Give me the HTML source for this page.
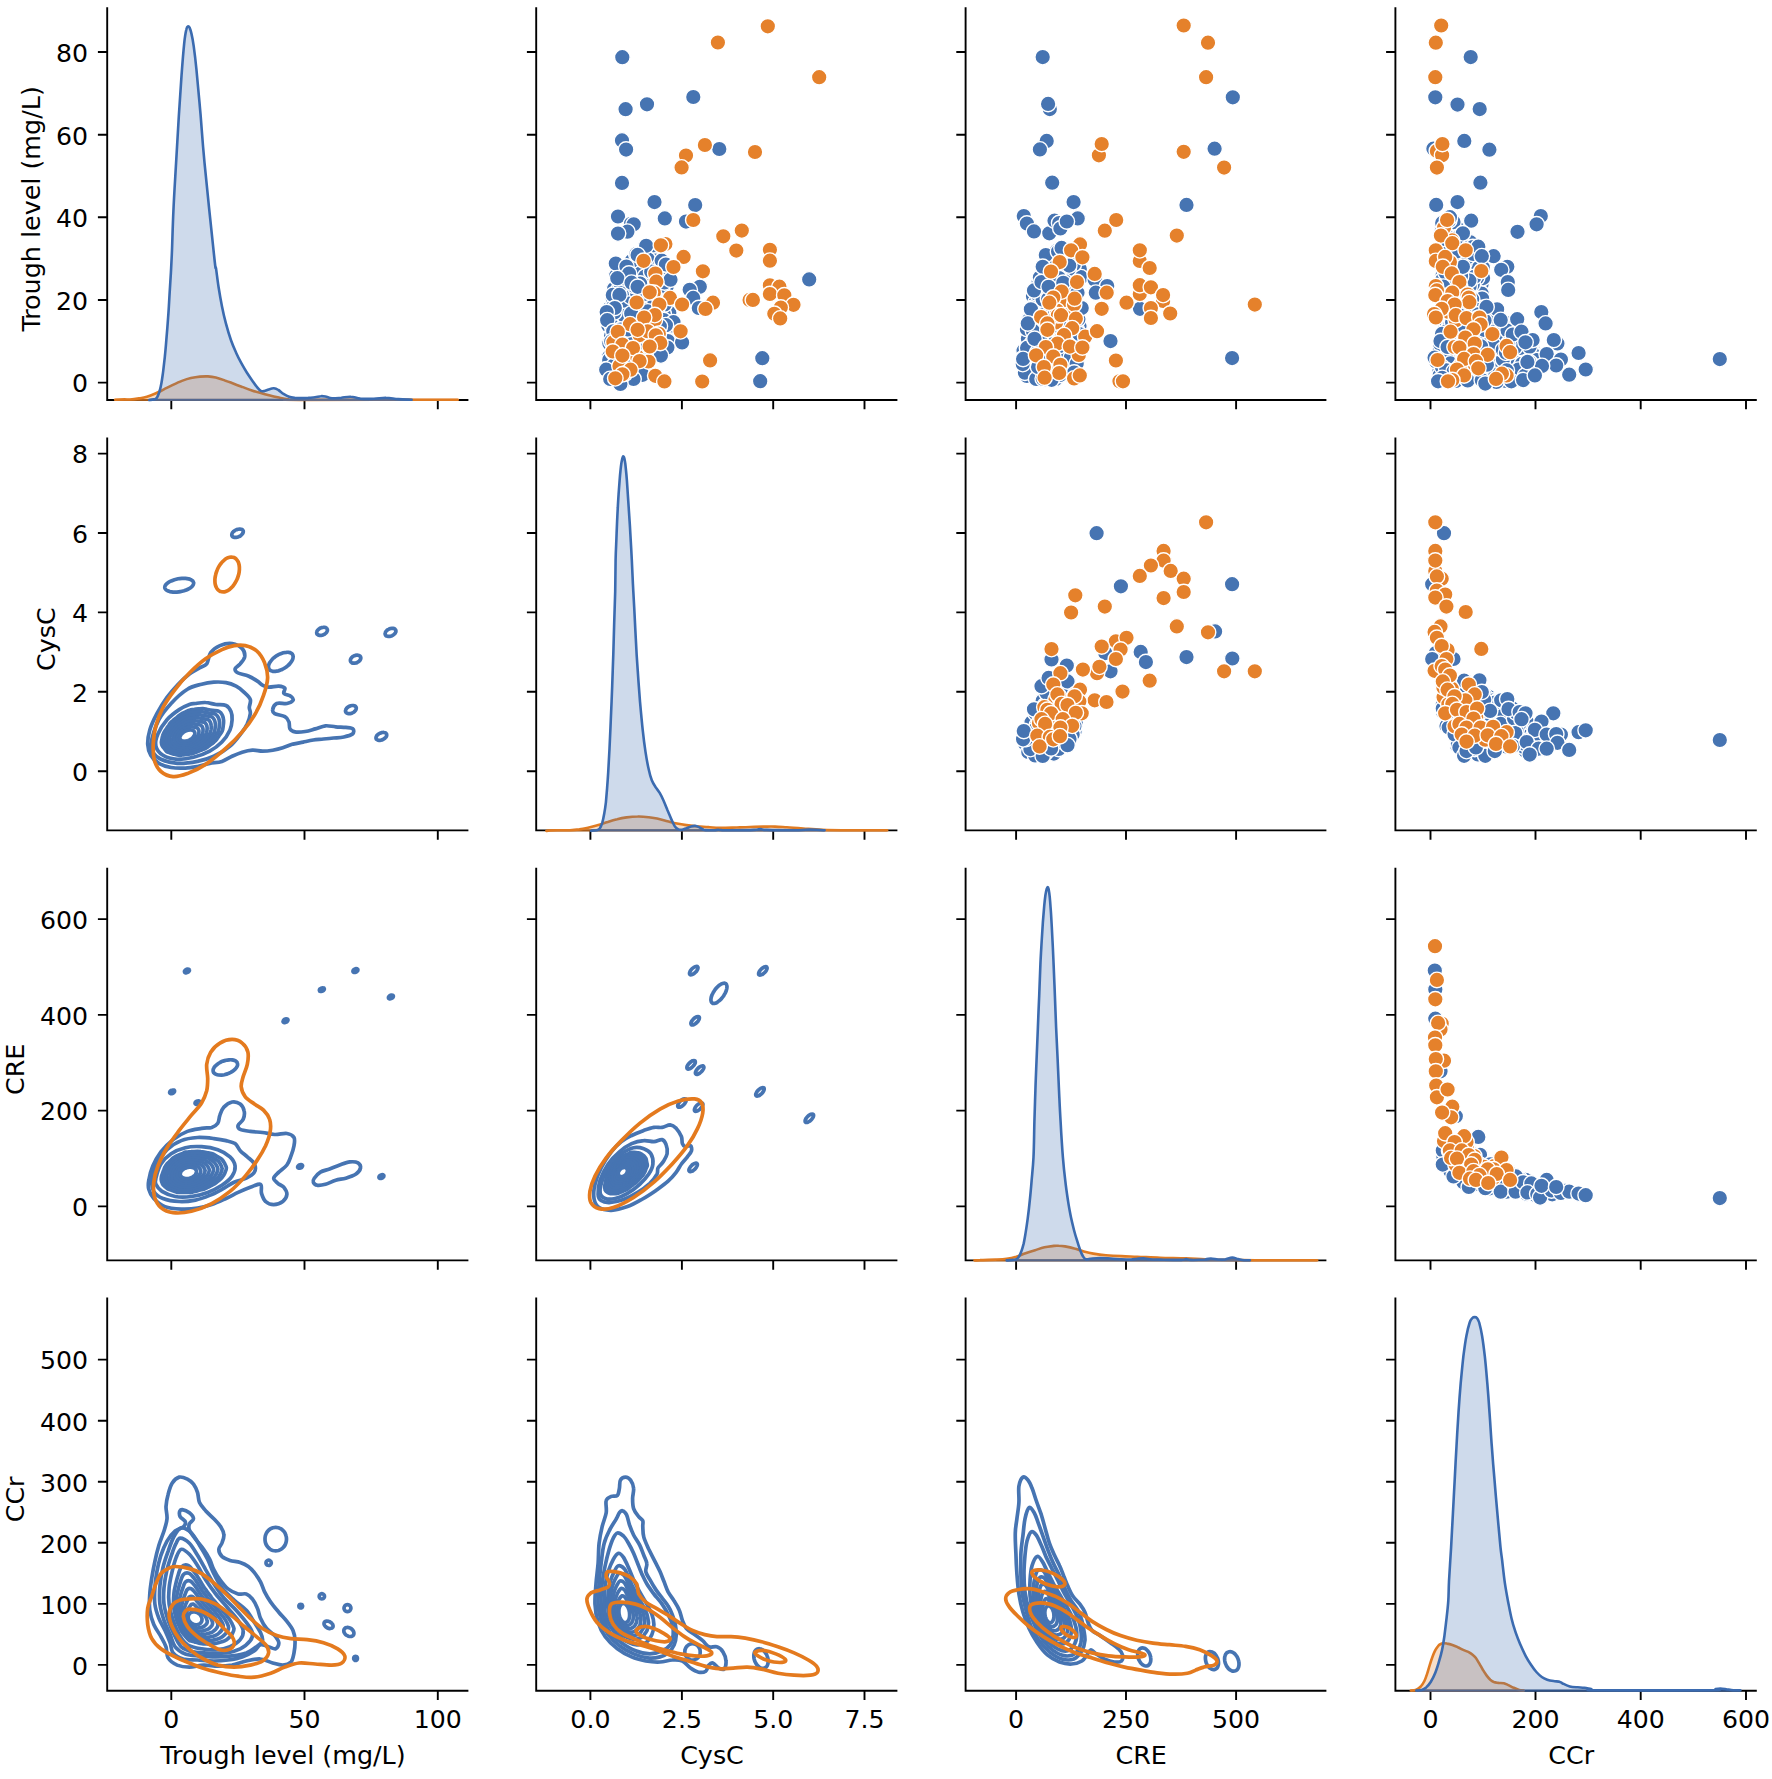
<!DOCTYPE html>
<html><head><meta charset="utf-8"><title>Pairplot</title>
<style>html,body{margin:0;padding:0;background:#fff}svg{display:block}text{fill:#000}</style>
</head><body>
<svg width="1772" height="1779" viewBox="0 0 1772 1779" font-family="DejaVu Sans, Liberation Sans, sans-serif" font-size="25.2">
<rect width="1772" height="1779" fill="#fff"/>
<g id="p01">
<g fill="#4674b2" stroke="#fff" stroke-width="1.4"><circle cx="667.0" cy="331.5" r="7.8"/><circle cx="646.0" cy="320.5" r="7.8"/><circle cx="625.1" cy="274.7" r="7.8"/><circle cx="630.8" cy="335.9" r="7.8"/><circle cx="617.9" cy="347.4" r="7.8"/><circle cx="667.0" cy="320.0" r="7.8"/><circle cx="615.9" cy="286.0" r="7.8"/><circle cx="609.4" cy="343.5" r="7.8"/><circle cx="609.6" cy="308.3" r="7.8"/><circle cx="634.2" cy="358.2" r="7.8"/><circle cx="645.4" cy="304.2" r="7.8"/><circle cx="641.4" cy="343.6" r="7.8"/><circle cx="662.0" cy="300.5" r="7.8"/><circle cx="617.7" cy="301.1" r="7.8"/><circle cx="652.4" cy="324.7" r="7.8"/><circle cx="623.1" cy="320.5" r="7.8"/><circle cx="639.3" cy="269.1" r="7.8"/><circle cx="623.4" cy="343.9" r="7.8"/><circle cx="641.7" cy="253.2" r="7.8"/><circle cx="617.1" cy="292.2" r="7.8"/><circle cx="646.8" cy="267.9" r="7.8"/><circle cx="656.9" cy="301.2" r="7.8"/><circle cx="626.4" cy="304.6" r="7.8"/><circle cx="661.2" cy="286.3" r="7.8"/><circle cx="659.8" cy="270.5" r="7.8"/><circle cx="650.8" cy="355.5" r="7.8"/><circle cx="635.0" cy="256.6" r="7.8"/><circle cx="656.4" cy="285.8" r="7.8"/><circle cx="630.9" cy="301.5" r="7.8"/><circle cx="631.1" cy="279.7" r="7.8"/><circle cx="614.1" cy="288.8" r="7.8"/><circle cx="647.0" cy="305.7" r="7.8"/><circle cx="608.3" cy="325.4" r="7.8"/><circle cx="653.0" cy="341.5" r="7.8"/><circle cx="662.6" cy="346.2" r="7.8"/><circle cx="619.6" cy="337.3" r="7.8"/><circle cx="623.2" cy="314.8" r="7.8"/><circle cx="643.3" cy="263.0" r="7.8"/><circle cx="641.6" cy="299.5" r="7.8"/><circle cx="627.7" cy="332.0" r="7.8"/><circle cx="649.7" cy="294.9" r="7.8"/><circle cx="609.5" cy="312.7" r="7.8"/><circle cx="639.1" cy="324.4" r="7.8"/><circle cx="635.8" cy="306.5" r="7.8"/><circle cx="627.8" cy="286.5" r="7.8"/><circle cx="619.8" cy="356.2" r="7.8"/><circle cx="630.3" cy="320.9" r="7.8"/><circle cx="664.6" cy="287.6" r="7.8"/><circle cx="656.7" cy="276.3" r="7.8"/><circle cx="658.7" cy="256.5" r="7.8"/><circle cx="616.7" cy="349.2" r="7.8"/><circle cx="621.6" cy="292.1" r="7.8"/><circle cx="622.3" cy="331.5" r="7.8"/><circle cx="663.5" cy="337.9" r="7.8"/><circle cx="618.0" cy="290.5" r="7.8"/><circle cx="654.7" cy="323.3" r="7.8"/><circle cx="629.6" cy="342.2" r="7.8"/><circle cx="625.8" cy="363.3" r="7.8"/><circle cx="655.0" cy="255.1" r="7.8"/><circle cx="633.5" cy="262.6" r="7.8"/><circle cx="626.5" cy="369.5" r="7.8"/><circle cx="620.4" cy="369.5" r="7.8"/><circle cx="650.7" cy="253.8" r="7.8"/><circle cx="666.7" cy="286.6" r="7.8"/><circle cx="662.6" cy="353.3" r="7.8"/><circle cx="626.5" cy="325.1" r="7.8"/><circle cx="658.4" cy="279.3" r="7.8"/><circle cx="647.7" cy="344.1" r="7.8"/><circle cx="649.6" cy="350.7" r="7.8"/><circle cx="653.4" cy="266.0" r="7.8"/><circle cx="618.2" cy="266.5" r="7.8"/><circle cx="628.7" cy="344.0" r="7.8"/><circle cx="631.2" cy="267.2" r="7.8"/><circle cx="626.7" cy="323.3" r="7.8"/><circle cx="636.5" cy="300.0" r="7.8"/><circle cx="612.8" cy="298.8" r="7.8"/><circle cx="644.2" cy="353.7" r="7.8"/><circle cx="641.1" cy="336.2" r="7.8"/><circle cx="663.2" cy="308.0" r="7.8"/><circle cx="667.2" cy="336.2" r="7.8"/><circle cx="669.3" cy="312.8" r="7.8"/><circle cx="622.4" cy="372.9" r="7.8"/><circle cx="659.8" cy="275.9" r="7.8"/><circle cx="628.5" cy="318.2" r="7.8"/><circle cx="640.3" cy="311.0" r="7.8"/><circle cx="626.5" cy="268.3" r="7.8"/><circle cx="672.3" cy="329.8" r="7.8"/><circle cx="612.6" cy="333.4" r="7.8"/><circle cx="639.5" cy="259.0" r="7.8"/><circle cx="659.5" cy="313.4" r="7.8"/><circle cx="631.2" cy="354.3" r="7.8"/><circle cx="625.7" cy="348.9" r="7.8"/><circle cx="667.5" cy="274.9" r="7.8"/><circle cx="631.1" cy="377.0" r="7.8"/><circle cx="661.4" cy="326.9" r="7.8"/><circle cx="643.0" cy="357.7" r="7.8"/><circle cx="656.6" cy="333.8" r="7.8"/><circle cx="632.3" cy="308.1" r="7.8"/><circle cx="613.6" cy="317.3" r="7.8"/><circle cx="661.1" cy="333.3" r="7.8"/><circle cx="627.5" cy="268.6" r="7.8"/><circle cx="658.0" cy="353.9" r="7.8"/><circle cx="633.7" cy="347.5" r="7.8"/><circle cx="616.4" cy="341.5" r="7.8"/><circle cx="614.2" cy="346.6" r="7.8"/><circle cx="639.2" cy="376.2" r="7.8"/><circle cx="647.5" cy="341.4" r="7.8"/><circle cx="657.2" cy="286.5" r="7.8"/><circle cx="636.2" cy="337.1" r="7.8"/><circle cx="623.4" cy="381.3" r="7.8"/><circle cx="612.7" cy="354.7" r="7.8"/><circle cx="669.6" cy="326.7" r="7.8"/><circle cx="614.9" cy="372.8" r="7.8"/><circle cx="609.8" cy="369.7" r="7.8"/><circle cx="641.1" cy="308.0" r="7.8"/><circle cx="645.5" cy="249.2" r="7.8"/><circle cx="617.8" cy="380.6" r="7.8"/><circle cx="662.2" cy="291.6" r="7.8"/><circle cx="632.2" cy="369.7" r="7.8"/><circle cx="658.6" cy="320.2" r="7.8"/><circle cx="651.4" cy="303.2" r="7.8"/><circle cx="624.0" cy="341.8" r="7.8"/><circle cx="644.1" cy="283.2" r="7.8"/><circle cx="626.6" cy="298.3" r="7.8"/><circle cx="619.8" cy="364.4" r="7.8"/><circle cx="620.8" cy="299.9" r="7.8"/><circle cx="650.7" cy="331.5" r="7.8"/><circle cx="620.8" cy="277.0" r="7.8"/><circle cx="642.7" cy="318.1" r="7.8"/><circle cx="657.6" cy="299.9" r="7.8"/><circle cx="628.4" cy="267.1" r="7.8"/><circle cx="635.2" cy="328.5" r="7.8"/><circle cx="633.7" cy="292.1" r="7.8"/><circle cx="640.1" cy="265.5" r="7.8"/><circle cx="622.3" cy="350.9" r="7.8"/><circle cx="662.0" cy="319.7" r="7.8"/><circle cx="628.5" cy="366.2" r="7.8"/><circle cx="609.3" cy="356.5" r="7.8"/><circle cx="671.7" cy="335.2" r="7.8"/><circle cx="663.7" cy="313.9" r="7.8"/><circle cx="648.2" cy="316.3" r="7.8"/><circle cx="612.5" cy="307.4" r="7.8"/><circle cx="619.6" cy="358.8" r="7.8"/><circle cx="633.4" cy="364.5" r="7.8"/><circle cx="667.2" cy="276.9" r="7.8"/><circle cx="654.3" cy="308.1" r="7.8"/><circle cx="654.4" cy="348.5" r="7.8"/><circle cx="644.1" cy="279.8" r="7.8"/><circle cx="617.4" cy="362.3" r="7.8"/><circle cx="638.9" cy="280.5" r="7.8"/><circle cx="618.3" cy="372.2" r="7.8"/><circle cx="624.8" cy="293.5" r="7.8"/><circle cx="618.3" cy="317.1" r="7.8"/><circle cx="609.5" cy="320.4" r="7.8"/><circle cx="636.7" cy="370.5" r="7.8"/><circle cx="611.0" cy="336.0" r="7.8"/><circle cx="627.1" cy="311.9" r="7.8"/><circle cx="637.9" cy="351.9" r="7.8"/><circle cx="619.5" cy="268.6" r="7.8"/><circle cx="619.2" cy="376.4" r="7.8"/><circle cx="612.7" cy="379.3" r="7.8"/><circle cx="642.0" cy="289.2" r="7.8"/><circle cx="645.0" cy="300.4" r="7.8"/><circle cx="646.9" cy="267.2" r="7.8"/><circle cx="663.9" cy="270.1" r="7.8"/><circle cx="644.9" cy="333.3" r="7.8"/><circle cx="663.5" cy="281.4" r="7.8"/><circle cx="642.6" cy="251.6" r="7.8"/><circle cx="610.2" cy="375.7" r="7.8"/><circle cx="649.2" cy="323.6" r="7.8"/><circle cx="639.4" cy="275.5" r="7.8"/><circle cx="650.9" cy="258.0" r="7.8"/><circle cx="659.4" cy="316.7" r="7.8"/><circle cx="623.1" cy="338.9" r="7.8"/><circle cx="637.3" cy="286.6" r="7.8"/><circle cx="646.5" cy="326.8" r="7.8"/><circle cx="672.4" cy="325.5" r="7.8"/><circle cx="666.7" cy="267.4" r="7.8"/><circle cx="655.3" cy="348.3" r="7.8"/><circle cx="632.8" cy="349.2" r="7.8"/><circle cx="633.9" cy="276.5" r="7.8"/><circle cx="654.2" cy="295.1" r="7.8"/><circle cx="659.8" cy="334.4" r="7.8"/><circle cx="620.6" cy="310.0" r="7.8"/><circle cx="648.4" cy="275.4" r="7.8"/><circle cx="633.4" cy="375.7" r="7.8"/><circle cx="623.0" cy="309.7" r="7.8"/><circle cx="648.9" cy="337.4" r="7.8"/><circle cx="664.6" cy="282.4" r="7.8"/><circle cx="607.4" cy="314.9" r="7.8"/><circle cx="623.2" cy="301.6" r="7.8"/><circle cx="609.2" cy="359.9" r="7.8"/><circle cx="650.9" cy="248.5" r="7.8"/><circle cx="645.4" cy="363.7" r="7.8"/><circle cx="635.1" cy="333.4" r="7.8"/><circle cx="655.4" cy="260.6" r="7.8"/><circle cx="645.5" cy="290.3" r="7.8"/><circle cx="636.1" cy="317.7" r="7.8"/><circle cx="653.1" cy="319.1" r="7.8"/><circle cx="638.3" cy="304.3" r="7.8"/><circle cx="616.1" cy="275.7" r="7.8"/><circle cx="637.8" cy="359.4" r="7.8"/><circle cx="647.8" cy="259.3" r="7.8"/><circle cx="658.8" cy="303.4" r="7.8"/><circle cx="625.7" cy="283.7" r="7.8"/><circle cx="606.7" cy="369.2" r="7.8"/><circle cx="659.0" cy="266.5" r="7.8"/><circle cx="660.7" cy="339.3" r="7.8"/><circle cx="643.5" cy="349.9" r="7.8"/><circle cx="637.0" cy="334.0" r="7.8"/><circle cx="630.7" cy="297.0" r="7.8"/><circle cx="624.9" cy="356.5" r="7.8"/><circle cx="655.6" cy="311.9" r="7.8"/><circle cx="626.8" cy="288.6" r="7.8"/><circle cx="645.1" cy="310.4" r="7.8"/><circle cx="656.1" cy="351.2" r="7.8"/><circle cx="613.1" cy="352.6" r="7.8"/><circle cx="617.8" cy="322.0" r="7.8"/><circle cx="658.4" cy="328.9" r="7.8"/><circle cx="637.1" cy="292.9" r="7.8"/><circle cx="638.7" cy="342.8" r="7.8"/><circle cx="621.4" cy="281.2" r="7.8"/><circle cx="664.6" cy="304.4" r="7.8"/><circle cx="649.6" cy="287.1" r="7.8"/><circle cx="613.8" cy="365.4" r="7.8"/><circle cx="656.9" cy="309.5" r="7.8"/><circle cx="634.2" cy="286.1" r="7.8"/><circle cx="624.6" cy="315.9" r="7.8"/><circle cx="611.9" cy="325.7" r="7.8"/><circle cx="631.2" cy="313.4" r="7.8"/><circle cx="652.9" cy="338.0" r="7.8"/><circle cx="620.6" cy="329.6" r="7.8"/><circle cx="647.4" cy="284.1" r="7.8"/><circle cx="671.4" cy="322.4" r="7.8"/><circle cx="620.8" cy="284.9" r="7.8"/><circle cx="654.3" cy="300.8" r="7.8"/><circle cx="635.1" cy="281.0" r="7.8"/><circle cx="651.8" cy="278.0" r="7.8"/><circle cx="635.2" cy="267.6" r="7.8"/><circle cx="644.7" cy="293.8" r="7.8"/><circle cx="631.7" cy="260.9" r="7.8"/><circle cx="640.4" cy="348.3" r="7.8"/><circle cx="628.7" cy="361.3" r="7.8"/><circle cx="647.7" cy="311.4" r="7.8"/><circle cx="663.7" cy="320.1" r="7.8"/><circle cx="636.3" cy="254.1" r="7.8"/><circle cx="614.3" cy="312.5" r="7.8"/><circle cx="634.2" cy="339.4" r="7.8"/><circle cx="661.7" cy="260.7" r="7.8"/><circle cx="634.0" cy="359.2" r="7.8"/><circle cx="625.6" cy="278.7" r="7.8"/><circle cx="645.2" cy="360.0" r="7.8"/><circle cx="667.9" cy="341.1" r="7.8"/><circle cx="645.1" cy="276.6" r="7.8"/><circle cx="617.2" cy="333.7" r="7.8"/><circle cx="627.8" cy="329.4" r="7.8"/><circle cx="640.1" cy="283.5" r="7.8"/><circle cx="640.1" cy="327.0" r="7.8"/><circle cx="642.0" cy="366.4" r="7.8"/><circle cx="651.2" cy="271.7" r="7.8"/><circle cx="622.3" cy="57.2" r="7.8"/><circle cx="693.3" cy="97.0" r="7.8"/><circle cx="647.0" cy="104.3" r="7.8"/><circle cx="625.6" cy="109.2" r="7.8"/><circle cx="622.0" cy="140.4" r="7.8"/><circle cx="626.1" cy="149.6" r="7.8"/><circle cx="719.3" cy="149.0" r="7.8"/><circle cx="622.0" cy="182.9" r="7.8"/><circle cx="654.5" cy="202.1" r="7.8"/><circle cx="695.2" cy="205.1" r="7.8"/><circle cx="618.0" cy="216.5" r="7.8"/><circle cx="664.8" cy="218.4" r="7.8"/><circle cx="686.0" cy="221.6" r="7.8"/><circle cx="631.0" cy="223.8" r="7.8"/><circle cx="633.7" cy="224.3" r="7.8"/><circle cx="627.4" cy="231.7" r="7.8"/><circle cx="618.0" cy="233.6" r="7.8"/><circle cx="809.2" cy="279.4" r="7.8"/><circle cx="762.3" cy="358.2" r="7.8"/><circle cx="760.2" cy="381.2" r="7.8"/><circle cx="646.2" cy="245.8" r="7.8"/><circle cx="637.6" cy="254.9" r="7.8"/><circle cx="615.8" cy="263.5" r="7.8"/><circle cx="626.4" cy="266.5" r="7.8"/><circle cx="629.0" cy="273.6" r="7.8"/><circle cx="617.3" cy="278.2" r="7.8"/><circle cx="631.5" cy="282.7" r="7.8"/><circle cx="637.6" cy="286.8" r="7.8"/><circle cx="670.5" cy="279.7" r="7.8"/><circle cx="665.9" cy="264.5" r="7.8"/><circle cx="699.8" cy="286.8" r="7.8"/><circle cx="689.7" cy="289.8" r="7.8"/><circle cx="693.2" cy="297.9" r="7.8"/><circle cx="698.8" cy="308.0" r="7.8"/><circle cx="612.8" cy="294.9" r="7.8"/><circle cx="619.4" cy="294.9" r="7.8"/><circle cx="614.8" cy="308.0" r="7.8"/><circle cx="606.7" cy="312.1" r="7.8"/><circle cx="607.2" cy="320.2" r="7.8"/><circle cx="613.3" cy="331.3" r="7.8"/><circle cx="611.3" cy="341.4" r="7.8"/><circle cx="673.5" cy="322.2" r="7.8"/><circle cx="665.9" cy="325.2" r="7.8"/><circle cx="659.8" cy="326.2" r="7.8"/><circle cx="682.1" cy="342.4" r="7.8"/><circle cx="667.4" cy="347.5" r="7.8"/><circle cx="660.9" cy="355.6" r="7.8"/><circle cx="606.2" cy="369.7" r="7.8"/><circle cx="642.6" cy="374.8" r="7.8"/><circle cx="633.5" cy="378.9" r="7.8"/><circle cx="610.2" cy="378.9" r="7.8"/><circle cx="620.4" cy="383.9" r="7.8"/></g><g fill="#e5812b" stroke="#fff" stroke-width="1.4"><circle cx="619.5" cy="366.1" r="7.8"/><circle cx="654.8" cy="319.9" r="7.8"/><circle cx="639.7" cy="335.1" r="7.8"/><circle cx="648.5" cy="361.5" r="7.8"/><circle cx="658.8" cy="333.8" r="7.8"/><circle cx="636.9" cy="356.3" r="7.8"/><circle cx="624.8" cy="373.7" r="7.8"/><circle cx="613.4" cy="342.2" r="7.8"/><circle cx="767.8" cy="26.3" r="7.8"/><circle cx="717.9" cy="42.5" r="7.8"/><circle cx="819.2" cy="77.2" r="7.8"/><circle cx="704.9" cy="145.0" r="7.8"/><circle cx="686.0" cy="155.5" r="7.8"/><circle cx="681.6" cy="167.4" r="7.8"/><circle cx="755.0" cy="152.0" r="7.8"/><circle cx="693.3" cy="220.0" r="7.8"/><circle cx="741.8" cy="230.6" r="7.8"/><circle cx="723.3" cy="236.3" r="7.8"/><circle cx="736.3" cy="250.6" r="7.8"/><circle cx="769.9" cy="249.8" r="7.8"/><circle cx="769.9" cy="260.7" r="7.8"/><circle cx="769.9" cy="285.3" r="7.8"/><circle cx="779.4" cy="286.7" r="7.8"/><circle cx="769.9" cy="294.0" r="7.8"/><circle cx="784.3" cy="295.3" r="7.8"/><circle cx="793.5" cy="304.8" r="7.8"/><circle cx="780.8" cy="307.5" r="7.8"/><circle cx="774.3" cy="313.8" r="7.8"/><circle cx="780.2" cy="318.4" r="7.8"/><circle cx="749.6" cy="299.9" r="7.8"/><circle cx="752.9" cy="299.9" r="7.8"/><circle cx="713.0" cy="302.7" r="7.8"/><circle cx="705.5" cy="308.9" r="7.8"/><circle cx="710.1" cy="360.4" r="7.8"/><circle cx="702.2" cy="381.5" r="7.8"/><circle cx="665.4" cy="244.0" r="7.8"/><circle cx="660.9" cy="245.3" r="7.8"/><circle cx="683.6" cy="256.9" r="7.8"/><circle cx="673.5" cy="267.0" r="7.8"/><circle cx="643.6" cy="260.8" r="7.8"/><circle cx="655.3" cy="273.6" r="7.8"/><circle cx="656.3" cy="281.7" r="7.8"/><circle cx="702.9" cy="271.3" r="7.8"/><circle cx="653.8" cy="292.8" r="7.8"/><circle cx="649.7" cy="292.3" r="7.8"/><circle cx="670.0" cy="297.9" r="7.8"/><circle cx="659.3" cy="304.5" r="7.8"/><circle cx="682.1" cy="304.5" r="7.8"/><circle cx="636.6" cy="302.5" r="7.8"/><circle cx="654.8" cy="315.1" r="7.8"/><circle cx="644.1" cy="317.6" r="7.8"/><circle cx="630.0" cy="324.2" r="7.8"/><circle cx="647.7" cy="331.3" r="7.8"/><circle cx="637.6" cy="329.8" r="7.8"/><circle cx="617.8" cy="331.8" r="7.8"/><circle cx="680.6" cy="331.3" r="7.8"/><circle cx="655.8" cy="335.3" r="7.8"/><circle cx="660.3" cy="342.9" r="7.8"/><circle cx="649.7" cy="346.5" r="7.8"/><circle cx="622.4" cy="344.5" r="7.8"/><circle cx="633.0" cy="348.0" r="7.8"/><circle cx="612.8" cy="351.5" r="7.8"/><circle cx="622.4" cy="355.6" r="7.8"/><circle cx="639.6" cy="361.1" r="7.8"/><circle cx="630.5" cy="369.7" r="7.8"/><circle cx="622.4" cy="374.3" r="7.8"/><circle cx="615.3" cy="378.3" r="7.8"/><circle cx="655.3" cy="375.8" r="7.8"/><circle cx="664.4" cy="381.4" r="7.8"/></g>
</g>
<g id="p02">
<g fill="#4674b2" stroke="#fff" stroke-width="1.4"><circle cx="1067.3" cy="272.4" r="7.8"/><circle cx="1027.5" cy="345.3" r="7.8"/><circle cx="1072.1" cy="295.9" r="7.8"/><circle cx="1054.8" cy="257.5" r="7.8"/><circle cx="1045.7" cy="329.9" r="7.8"/><circle cx="1026.9" cy="367.4" r="7.8"/><circle cx="1043.1" cy="311.0" r="7.8"/><circle cx="1042.6" cy="354.2" r="7.8"/><circle cx="1069.0" cy="374.7" r="7.8"/><circle cx="1069.1" cy="275.7" r="7.8"/><circle cx="1058.0" cy="325.2" r="7.8"/><circle cx="1033.8" cy="365.8" r="7.8"/><circle cx="1071.3" cy="339.0" r="7.8"/><circle cx="1066.6" cy="372.3" r="7.8"/><circle cx="1050.4" cy="264.5" r="7.8"/><circle cx="1053.8" cy="373.3" r="7.8"/><circle cx="1069.4" cy="346.6" r="7.8"/><circle cx="1072.8" cy="320.1" r="7.8"/><circle cx="1055.7" cy="378.9" r="7.8"/><circle cx="1047.1" cy="323.7" r="7.8"/><circle cx="1037.8" cy="337.5" r="7.8"/><circle cx="1049.6" cy="282.4" r="7.8"/><circle cx="1054.4" cy="301.6" r="7.8"/><circle cx="1034.5" cy="341.0" r="7.8"/><circle cx="1071.5" cy="287.8" r="7.8"/><circle cx="1062.6" cy="350.8" r="7.8"/><circle cx="1054.5" cy="352.1" r="7.8"/><circle cx="1077.2" cy="265.4" r="7.8"/><circle cx="1073.1" cy="332.1" r="7.8"/><circle cx="1059.3" cy="287.9" r="7.8"/><circle cx="1039.0" cy="320.2" r="7.8"/><circle cx="1060.5" cy="299.0" r="7.8"/><circle cx="1055.5" cy="323.4" r="7.8"/><circle cx="1054.8" cy="319.3" r="7.8"/><circle cx="1052.7" cy="338.9" r="7.8"/><circle cx="1074.7" cy="291.4" r="7.8"/><circle cx="1067.3" cy="340.2" r="7.8"/><circle cx="1049.8" cy="278.1" r="7.8"/><circle cx="1076.1" cy="322.5" r="7.8"/><circle cx="1063.7" cy="328.7" r="7.8"/><circle cx="1060.3" cy="288.7" r="7.8"/><circle cx="1060.5" cy="345.6" r="7.8"/><circle cx="1047.2" cy="336.3" r="7.8"/><circle cx="1074.3" cy="301.1" r="7.8"/><circle cx="1035.2" cy="324.0" r="7.8"/><circle cx="1036.0" cy="357.0" r="7.8"/><circle cx="1049.0" cy="354.8" r="7.8"/><circle cx="1055.4" cy="337.3" r="7.8"/><circle cx="1032.3" cy="333.3" r="7.8"/><circle cx="1057.3" cy="282.2" r="7.8"/><circle cx="1028.2" cy="323.6" r="7.8"/><circle cx="1079.8" cy="332.3" r="7.8"/><circle cx="1072.3" cy="279.8" r="7.8"/><circle cx="1037.5" cy="305.2" r="7.8"/><circle cx="1052.8" cy="320.9" r="7.8"/><circle cx="1032.8" cy="305.3" r="7.8"/><circle cx="1059.9" cy="264.3" r="7.8"/><circle cx="1071.4" cy="316.2" r="7.8"/><circle cx="1045.9" cy="350.2" r="7.8"/><circle cx="1039.7" cy="349.7" r="7.8"/><circle cx="1066.4" cy="260.7" r="7.8"/><circle cx="1046.8" cy="340.8" r="7.8"/><circle cx="1060.3" cy="294.1" r="7.8"/><circle cx="1079.3" cy="271.4" r="7.8"/><circle cx="1031.3" cy="324.3" r="7.8"/><circle cx="1038.2" cy="327.7" r="7.8"/><circle cx="1051.1" cy="360.7" r="7.8"/><circle cx="1055.3" cy="278.6" r="7.8"/><circle cx="1056.4" cy="313.5" r="7.8"/><circle cx="1060.0" cy="374.9" r="7.8"/><circle cx="1033.0" cy="296.3" r="7.8"/><circle cx="1070.4" cy="352.5" r="7.8"/><circle cx="1074.6" cy="274.1" r="7.8"/><circle cx="1073.0" cy="346.6" r="7.8"/><circle cx="1040.7" cy="290.1" r="7.8"/><circle cx="1037.1" cy="308.9" r="7.8"/><circle cx="1077.3" cy="341.2" r="7.8"/><circle cx="1063.7" cy="274.6" r="7.8"/><circle cx="1074.9" cy="304.8" r="7.8"/><circle cx="1058.3" cy="311.3" r="7.8"/><circle cx="1079.5" cy="326.0" r="7.8"/><circle cx="1042.9" cy="294.6" r="7.8"/><circle cx="1073.1" cy="297.4" r="7.8"/><circle cx="1045.7" cy="345.7" r="7.8"/><circle cx="1061.2" cy="367.0" r="7.8"/><circle cx="1027.9" cy="338.8" r="7.8"/><circle cx="1070.5" cy="322.3" r="7.8"/><circle cx="1060.9" cy="305.3" r="7.8"/><circle cx="1044.3" cy="379.5" r="7.8"/><circle cx="1076.7" cy="329.4" r="7.8"/><circle cx="1051.0" cy="329.1" r="7.8"/><circle cx="1032.0" cy="343.3" r="7.8"/><circle cx="1047.3" cy="295.1" r="7.8"/><circle cx="1063.4" cy="332.8" r="7.8"/><circle cx="1063.6" cy="340.1" r="7.8"/><circle cx="1078.9" cy="280.6" r="7.8"/><circle cx="1055.9" cy="264.5" r="7.8"/><circle cx="1046.8" cy="317.0" r="7.8"/><circle cx="1066.4" cy="362.8" r="7.8"/><circle cx="1055.3" cy="332.3" r="7.8"/><circle cx="1038.1" cy="302.4" r="7.8"/><circle cx="1065.6" cy="369.8" r="7.8"/><circle cx="1023.6" cy="350.8" r="7.8"/><circle cx="1035.5" cy="349.6" r="7.8"/><circle cx="1058.3" cy="329.0" r="7.8"/><circle cx="1025.5" cy="364.8" r="7.8"/><circle cx="1046.3" cy="361.3" r="7.8"/><circle cx="1073.6" cy="330.5" r="7.8"/><circle cx="1065.7" cy="312.2" r="7.8"/><circle cx="1059.1" cy="370.6" r="7.8"/><circle cx="1063.9" cy="257.6" r="7.8"/><circle cx="1049.6" cy="360.1" r="7.8"/><circle cx="1045.7" cy="374.5" r="7.8"/><circle cx="1047.1" cy="257.5" r="7.8"/><circle cx="1068.4" cy="257.1" r="7.8"/><circle cx="1054.9" cy="267.7" r="7.8"/><circle cx="1031.8" cy="317.1" r="7.8"/><circle cx="1068.5" cy="289.9" r="7.8"/><circle cx="1063.7" cy="280.7" r="7.8"/><circle cx="1064.5" cy="343.8" r="7.8"/><circle cx="1044.2" cy="335.5" r="7.8"/><circle cx="1066.9" cy="328.5" r="7.8"/><circle cx="1073.3" cy="353.1" r="7.8"/><circle cx="1054.7" cy="291.2" r="7.8"/><circle cx="1069.3" cy="355.8" r="7.8"/><circle cx="1052.7" cy="295.2" r="7.8"/><circle cx="1048.7" cy="375.6" r="7.8"/><circle cx="1051.6" cy="286.0" r="7.8"/><circle cx="1038.7" cy="282.3" r="7.8"/><circle cx="1063.0" cy="286.0" r="7.8"/><circle cx="1037.9" cy="372.2" r="7.8"/><circle cx="1071.5" cy="343.0" r="7.8"/><circle cx="1055.0" cy="346.3" r="7.8"/><circle cx="1030.4" cy="360.5" r="7.8"/><circle cx="1074.6" cy="368.3" r="7.8"/><circle cx="1051.6" cy="379.8" r="7.8"/><circle cx="1073.7" cy="375.3" r="7.8"/><circle cx="1049.6" cy="289.2" r="7.8"/><circle cx="1041.4" cy="357.0" r="7.8"/><circle cx="1055.6" cy="270.5" r="7.8"/><circle cx="1023.9" cy="368.0" r="7.8"/><circle cx="1072.4" cy="308.6" r="7.8"/><circle cx="1051.3" cy="347.7" r="7.8"/><circle cx="1043.3" cy="279.4" r="7.8"/><circle cx="1046.9" cy="268.5" r="7.8"/><circle cx="1034.4" cy="343.6" r="7.8"/><circle cx="1065.5" cy="299.6" r="7.8"/><circle cx="1043.4" cy="368.1" r="7.8"/><circle cx="1059.9" cy="254.2" r="7.8"/><circle cx="1045.0" cy="290.3" r="7.8"/><circle cx="1060.1" cy="356.1" r="7.8"/><circle cx="1033.3" cy="318.3" r="7.8"/><circle cx="1057.4" cy="267.2" r="7.8"/><circle cx="1073.9" cy="286.4" r="7.8"/><circle cx="1035.8" cy="302.2" r="7.8"/><circle cx="1028.7" cy="360.4" r="7.8"/><circle cx="1043.2" cy="319.9" r="7.8"/><circle cx="1053.4" cy="343.9" r="7.8"/><circle cx="1040.4" cy="376.7" r="7.8"/><circle cx="1056.4" cy="259.1" r="7.8"/><circle cx="1029.7" cy="371.0" r="7.8"/><circle cx="1081.3" cy="306.6" r="7.8"/><circle cx="1056.8" cy="359.0" r="7.8"/><circle cx="1079.8" cy="268.9" r="7.8"/><circle cx="1051.1" cy="312.4" r="7.8"/><circle cx="1026.9" cy="376.0" r="7.8"/><circle cx="1040.8" cy="323.6" r="7.8"/><circle cx="1054.3" cy="304.2" r="7.8"/><circle cx="1056.9" cy="367.6" r="7.8"/><circle cx="1039.2" cy="316.2" r="7.8"/><circle cx="1072.0" cy="306.2" r="7.8"/><circle cx="1041.6" cy="343.1" r="7.8"/><circle cx="1045.9" cy="272.8" r="7.8"/><circle cx="1077.4" cy="277.5" r="7.8"/><circle cx="1029.1" cy="319.8" r="7.8"/><circle cx="1064.2" cy="267.7" r="7.8"/><circle cx="1081.0" cy="277.2" r="7.8"/><circle cx="1047.8" cy="287.2" r="7.8"/><circle cx="1060.0" cy="352.8" r="7.8"/><circle cx="1069.4" cy="331.8" r="7.8"/><circle cx="1070.6" cy="362.6" r="7.8"/><circle cx="1026.9" cy="328.9" r="7.8"/><circle cx="1047.4" cy="305.4" r="7.8"/><circle cx="1034.9" cy="290.2" r="7.8"/><circle cx="1062.1" cy="249.5" r="7.8"/><circle cx="1073.8" cy="264.3" r="7.8"/><circle cx="1038.2" cy="295.3" r="7.8"/><circle cx="1023.4" cy="358.1" r="7.8"/><circle cx="1076.1" cy="301.4" r="7.8"/><circle cx="1060.4" cy="333.6" r="7.8"/><circle cx="1042.9" cy="304.8" r="7.8"/><circle cx="1058.7" cy="364.7" r="7.8"/><circle cx="1047.2" cy="355.8" r="7.8"/><circle cx="1027.6" cy="355.5" r="7.8"/><circle cx="1040.9" cy="288.2" r="7.8"/><circle cx="1078.4" cy="319.1" r="7.8"/><circle cx="1080.0" cy="336.9" r="7.8"/><circle cx="1049.7" cy="369.9" r="7.8"/><circle cx="1061.2" cy="274.2" r="7.8"/><circle cx="1068.6" cy="269.2" r="7.8"/><circle cx="1029.9" cy="352.7" r="7.8"/><circle cx="1044.4" cy="314.2" r="7.8"/><circle cx="1027.1" cy="347.9" r="7.8"/><circle cx="1070.9" cy="357.6" r="7.8"/><circle cx="1071.8" cy="370.6" r="7.8"/><circle cx="1053.8" cy="315.7" r="7.8"/><circle cx="1076.7" cy="363.8" r="7.8"/><circle cx="1035.8" cy="331.7" r="7.8"/><circle cx="1059.7" cy="346.1" r="7.8"/><circle cx="1033.0" cy="330.9" r="7.8"/><circle cx="1067.7" cy="318.0" r="7.8"/><circle cx="1074.2" cy="372.5" r="7.8"/><circle cx="1064.7" cy="281.3" r="7.8"/><circle cx="1024.9" cy="372.7" r="7.8"/><circle cx="1064.2" cy="316.0" r="7.8"/><circle cx="1048.7" cy="273.7" r="7.8"/><circle cx="1059.0" cy="278.0" r="7.8"/><circle cx="1057.0" cy="250.5" r="7.8"/><circle cx="1032.0" cy="307.9" r="7.8"/><circle cx="1044.2" cy="370.6" r="7.8"/><circle cx="1063.8" cy="324.5" r="7.8"/><circle cx="1022.8" cy="364.1" r="7.8"/><circle cx="1039.1" cy="364.6" r="7.8"/><circle cx="1062.8" cy="294.5" r="7.8"/><circle cx="1036.2" cy="379.0" r="7.8"/><circle cx="1037.6" cy="352.1" r="7.8"/><circle cx="1077.5" cy="292.8" r="7.8"/><circle cx="1042.7" cy="299.6" r="7.8"/><circle cx="1066.0" cy="306.3" r="7.8"/><circle cx="1042.8" cy="378.7" r="7.8"/><circle cx="1039.9" cy="277.6" r="7.8"/><circle cx="1063.8" cy="307.8" r="7.8"/><circle cx="1048.1" cy="298.9" r="7.8"/><circle cx="1079.3" cy="309.7" r="7.8"/><circle cx="1074.5" cy="314.3" r="7.8"/><circle cx="1043.1" cy="362.6" r="7.8"/><circle cx="1038.1" cy="367.1" r="7.8"/><circle cx="1059.6" cy="320.8" r="7.8"/><circle cx="1042.7" cy="57.1" r="7.8"/><circle cx="1049.8" cy="109.1" r="7.8"/><circle cx="1048.1" cy="103.9" r="7.8"/><circle cx="1046.7" cy="140.9" r="7.8"/><circle cx="1039.9" cy="149.4" r="7.8"/><circle cx="1052.2" cy="182.7" r="7.8"/><circle cx="1073.6" cy="202.1" r="7.8"/><circle cx="1232.8" cy="97.3" r="7.8"/><circle cx="1214.6" cy="148.7" r="7.8"/><circle cx="1186.5" cy="204.9" r="7.8"/><circle cx="1023.8" cy="216.0" r="7.8"/><circle cx="1026.9" cy="223.6" r="7.8"/><circle cx="1034.0" cy="231.4" r="7.8"/><circle cx="1049.3" cy="233.3" r="7.8"/><circle cx="1054.5" cy="220.7" r="7.8"/><circle cx="1059.2" cy="223.1" r="7.8"/><circle cx="1060.4" cy="228.5" r="7.8"/><circle cx="1077.7" cy="218.4" r="7.8"/><circle cx="1066.8" cy="221.5" r="7.8"/><circle cx="1045.8" cy="255.0" r="7.8"/><circle cx="1058.1" cy="251.4" r="7.8"/><circle cx="1061.6" cy="247.9" r="7.8"/><circle cx="1069.2" cy="265.6" r="7.8"/><circle cx="1042.7" cy="266.8" r="7.8"/><circle cx="1094.7" cy="279.8" r="7.8"/><circle cx="1107.2" cy="286.1" r="7.8"/><circle cx="1095.8" cy="292.7" r="7.8"/><circle cx="1034.0" cy="290.4" r="7.8"/><circle cx="1041.5" cy="282.1" r="7.8"/><circle cx="1048.6" cy="286.8" r="7.8"/><circle cx="1063.3" cy="282.8" r="7.8"/><circle cx="1030.9" cy="309.3" r="7.8"/><circle cx="1027.8" cy="323.4" r="7.8"/><circle cx="1034.5" cy="338.8" r="7.8"/><circle cx="1023.1" cy="358.9" r="7.8"/><circle cx="1110.5" cy="341.1" r="7.8"/><circle cx="1140.0" cy="308.8" r="7.8"/><circle cx="1232.1" cy="358.1" r="7.8"/><circle cx="1081.7" cy="308.1" r="7.8"/><circle cx="1079.3" cy="334.1" r="7.8"/></g><g fill="#e5812b" stroke="#fff" stroke-width="1.4"><circle cx="1078.8" cy="354.9" r="7.8"/><circle cx="1069.5" cy="314.3" r="7.8"/><circle cx="1065.9" cy="342.6" r="7.8"/><circle cx="1064.5" cy="300.0" r="7.8"/><circle cx="1056.1" cy="322.4" r="7.8"/><circle cx="1085.2" cy="336.7" r="7.8"/><circle cx="1056.9" cy="310.5" r="7.8"/><circle cx="1058.0" cy="315.3" r="7.8"/><circle cx="1053.3" cy="369.7" r="7.8"/><circle cx="1061.4" cy="338.2" r="7.8"/><circle cx="1183.7" cy="25.5" r="7.8"/><circle cx="1208.0" cy="42.7" r="7.8"/><circle cx="1206.1" cy="77.2" r="7.8"/><circle cx="1098.9" cy="155.3" r="7.8"/><circle cx="1101.7" cy="144.0" r="7.8"/><circle cx="1183.7" cy="151.8" r="7.8"/><circle cx="1224.1" cy="167.6" r="7.8"/><circle cx="1116.2" cy="220.0" r="7.8"/><circle cx="1104.8" cy="230.7" r="7.8"/><circle cx="1176.8" cy="235.6" r="7.8"/><circle cx="1080.0" cy="244.4" r="7.8"/><circle cx="1071.1" cy="250.3" r="7.8"/><circle cx="1082.4" cy="257.3" r="7.8"/><circle cx="1059.7" cy="262.1" r="7.8"/><circle cx="1051.0" cy="271.5" r="7.8"/><circle cx="1139.8" cy="260.9" r="7.8"/><circle cx="1139.8" cy="250.3" r="7.8"/><circle cx="1149.7" cy="268.0" r="7.8"/><circle cx="1094.7" cy="273.9" r="7.8"/><circle cx="1077.0" cy="282.1" r="7.8"/><circle cx="1139.8" cy="293.9" r="7.8"/><circle cx="1139.8" cy="285.2" r="7.8"/><circle cx="1150.9" cy="287.3" r="7.8"/><circle cx="1163.1" cy="301.0" r="7.8"/><circle cx="1163.1" cy="295.1" r="7.8"/><circle cx="1106.7" cy="292.7" r="7.8"/><circle cx="1126.5" cy="302.7" r="7.8"/><circle cx="1150.9" cy="308.1" r="7.8"/><circle cx="1170.2" cy="313.5" r="7.8"/><circle cx="1150.9" cy="318.0" r="7.8"/><circle cx="1254.8" cy="304.6" r="7.8"/><circle cx="1101.7" cy="308.8" r="7.8"/><circle cx="1061.6" cy="291.6" r="7.8"/><circle cx="1053.3" cy="297.5" r="7.8"/><circle cx="1049.3" cy="302.7" r="7.8"/><circle cx="1074.1" cy="304.6" r="7.8"/><circle cx="1074.6" cy="298.7" r="7.8"/><circle cx="1061.1" cy="315.2" r="7.8"/><circle cx="1075.8" cy="318.7" r="7.8"/><circle cx="1041.1" cy="317.1" r="7.8"/><circle cx="1047.4" cy="323.4" r="7.8"/><circle cx="1047.4" cy="329.8" r="7.8"/><circle cx="1072.2" cy="328.2" r="7.8"/><circle cx="1097.0" cy="331.2" r="7.8"/><circle cx="1064.0" cy="335.2" r="7.8"/><circle cx="1057.4" cy="343.5" r="7.8"/><circle cx="1069.9" cy="346.6" r="7.8"/><circle cx="1045.8" cy="347.0" r="7.8"/><circle cx="1082.4" cy="347.5" r="7.8"/><circle cx="1036.1" cy="355.3" r="7.8"/><circle cx="1053.3" cy="356.5" r="7.8"/><circle cx="1115.9" cy="360.5" r="7.8"/><circle cx="1060.4" cy="364.8" r="7.8"/><circle cx="1043.9" cy="367.1" r="7.8"/><circle cx="1059.2" cy="373.0" r="7.8"/><circle cx="1044.6" cy="377.7" r="7.8"/><circle cx="1074.1" cy="378.4" r="7.8"/><circle cx="1079.8" cy="375.4" r="7.8"/><circle cx="1119.5" cy="381.3" r="7.8"/><circle cx="1123.0" cy="381.3" r="7.8"/></g>
</g>
<g id="p03">
<g fill="#4674b2" stroke="#fff" stroke-width="1.4"><circle cx="1452.0" cy="282.1" r="7.8"/><circle cx="1450.7" cy="243.9" r="7.8"/><circle cx="1451.6" cy="252.3" r="7.8"/><circle cx="1475.0" cy="305.5" r="7.8"/><circle cx="1463.5" cy="234.5" r="7.8"/><circle cx="1450.2" cy="254.1" r="7.8"/><circle cx="1486.9" cy="374.4" r="7.8"/><circle cx="1483.8" cy="313.2" r="7.8"/><circle cx="1448.9" cy="357.4" r="7.8"/><circle cx="1474.5" cy="311.9" r="7.8"/><circle cx="1457.1" cy="227.9" r="7.8"/><circle cx="1519.7" cy="379.4" r="7.8"/><circle cx="1454.7" cy="307.1" r="7.8"/><circle cx="1481.2" cy="265.5" r="7.8"/><circle cx="1443.6" cy="308.7" r="7.8"/><circle cx="1480.2" cy="360.9" r="7.8"/><circle cx="1458.2" cy="245.0" r="7.8"/><circle cx="1439.5" cy="371.3" r="7.8"/><circle cx="1453.1" cy="379.2" r="7.8"/><circle cx="1510.8" cy="380.2" r="7.8"/><circle cx="1459.6" cy="336.6" r="7.8"/><circle cx="1481.2" cy="327.0" r="7.8"/><circle cx="1481.6" cy="284.0" r="7.8"/><circle cx="1526.1" cy="363.2" r="7.8"/><circle cx="1474.3" cy="349.6" r="7.8"/><circle cx="1487.3" cy="309.5" r="7.8"/><circle cx="1456.0" cy="254.6" r="7.8"/><circle cx="1487.8" cy="356.7" r="7.8"/><circle cx="1455.1" cy="315.4" r="7.8"/><circle cx="1496.1" cy="371.9" r="7.8"/><circle cx="1466.7" cy="340.4" r="7.8"/><circle cx="1452.7" cy="227.2" r="7.8"/><circle cx="1447.8" cy="347.0" r="7.8"/><circle cx="1478.6" cy="302.3" r="7.8"/><circle cx="1475.8" cy="337.7" r="7.8"/><circle cx="1464.8" cy="310.1" r="7.8"/><circle cx="1459.6" cy="274.4" r="7.8"/><circle cx="1442.2" cy="283.1" r="7.8"/><circle cx="1447.9" cy="336.8" r="7.8"/><circle cx="1445.0" cy="286.1" r="7.8"/><circle cx="1453.8" cy="232.5" r="7.8"/><circle cx="1477.9" cy="286.6" r="7.8"/><circle cx="1455.3" cy="353.6" r="7.8"/><circle cx="1484.0" cy="367.7" r="7.8"/><circle cx="1481.4" cy="371.1" r="7.8"/><circle cx="1480.6" cy="338.7" r="7.8"/><circle cx="1473.0" cy="377.7" r="7.8"/><circle cx="1445.5" cy="352.8" r="7.8"/><circle cx="1527.8" cy="370.7" r="7.8"/><circle cx="1444.4" cy="337.8" r="7.8"/><circle cx="1524.6" cy="377.6" r="7.8"/><circle cx="1465.2" cy="245.9" r="7.8"/><circle cx="1442.7" cy="275.3" r="7.8"/><circle cx="1478.0" cy="276.1" r="7.8"/><circle cx="1441.0" cy="255.0" r="7.8"/><circle cx="1494.9" cy="365.3" r="7.8"/><circle cx="1452.7" cy="367.7" r="7.8"/><circle cx="1473.6" cy="341.5" r="7.8"/><circle cx="1449.8" cy="377.5" r="7.8"/><circle cx="1533.0" cy="350.0" r="7.8"/><circle cx="1455.6" cy="357.9" r="7.8"/><circle cx="1444.5" cy="236.5" r="7.8"/><circle cx="1456.4" cy="320.8" r="7.8"/><circle cx="1514.1" cy="349.4" r="7.8"/><circle cx="1466.4" cy="365.0" r="7.8"/><circle cx="1442.2" cy="280.0" r="7.8"/><circle cx="1449.0" cy="309.5" r="7.8"/><circle cx="1462.8" cy="348.7" r="7.8"/><circle cx="1491.1" cy="322.9" r="7.8"/><circle cx="1477.5" cy="248.5" r="7.8"/><circle cx="1506.3" cy="327.3" r="7.8"/><circle cx="1476.8" cy="328.3" r="7.8"/><circle cx="1459.0" cy="312.1" r="7.8"/><circle cx="1448.5" cy="291.3" r="7.8"/><circle cx="1469.6" cy="377.4" r="7.8"/><circle cx="1439.8" cy="375.2" r="7.8"/><circle cx="1454.3" cy="346.8" r="7.8"/><circle cx="1482.0" cy="339.9" r="7.8"/><circle cx="1453.3" cy="333.9" r="7.8"/><circle cx="1478.3" cy="269.5" r="7.8"/><circle cx="1479.1" cy="344.5" r="7.8"/><circle cx="1446.7" cy="312.9" r="7.8"/><circle cx="1478.9" cy="324.9" r="7.8"/><circle cx="1461.6" cy="251.5" r="7.8"/><circle cx="1445.3" cy="227.4" r="7.8"/><circle cx="1483.4" cy="377.7" r="7.8"/><circle cx="1464.9" cy="261.3" r="7.8"/><circle cx="1453.8" cy="328.9" r="7.8"/><circle cx="1444.9" cy="329.0" r="7.8"/><circle cx="1501.8" cy="321.8" r="7.8"/><circle cx="1480.7" cy="349.5" r="7.8"/><circle cx="1494.1" cy="358.0" r="7.8"/><circle cx="1540.0" cy="362.6" r="7.8"/><circle cx="1496.0" cy="331.7" r="7.8"/><circle cx="1467.7" cy="242.2" r="7.8"/><circle cx="1442.9" cy="305.6" r="7.8"/><circle cx="1452.9" cy="291.3" r="7.8"/><circle cx="1505.8" cy="322.9" r="7.8"/><circle cx="1444.4" cy="247.5" r="7.8"/><circle cx="1448.5" cy="299.5" r="7.8"/><circle cx="1466.7" cy="312.5" r="7.8"/><circle cx="1473.0" cy="291.8" r="7.8"/><circle cx="1451.4" cy="305.1" r="7.8"/><circle cx="1449.2" cy="342.6" r="7.8"/><circle cx="1481.6" cy="293.5" r="7.8"/><circle cx="1496.3" cy="324.7" r="7.8"/><circle cx="1524.0" cy="359.1" r="7.8"/><circle cx="1484.1" cy="371.7" r="7.8"/><circle cx="1467.2" cy="269.6" r="7.8"/><circle cx="1512.2" cy="344.6" r="7.8"/><circle cx="1470.5" cy="242.4" r="7.8"/><circle cx="1459.5" cy="365.9" r="7.8"/><circle cx="1531.6" cy="374.4" r="7.8"/><circle cx="1496.4" cy="353.5" r="7.8"/><circle cx="1473.6" cy="360.5" r="7.8"/><circle cx="1483.7" cy="375.4" r="7.8"/><circle cx="1499.3" cy="377.4" r="7.8"/><circle cx="1527.7" cy="354.2" r="7.8"/><circle cx="1503.6" cy="341.4" r="7.8"/><circle cx="1458.7" cy="300.2" r="7.8"/><circle cx="1470.0" cy="265.4" r="7.8"/><circle cx="1451.5" cy="232.7" r="7.8"/><circle cx="1453.9" cy="260.7" r="7.8"/><circle cx="1511.3" cy="359.5" r="7.8"/><circle cx="1524.9" cy="370.6" r="7.8"/><circle cx="1441.8" cy="227.9" r="7.8"/><circle cx="1470.5" cy="320.7" r="7.8"/><circle cx="1474.9" cy="320.7" r="7.8"/><circle cx="1485.7" cy="319.7" r="7.8"/><circle cx="1499.6" cy="319.9" r="7.8"/><circle cx="1469.7" cy="251.8" r="7.8"/><circle cx="1468.8" cy="372.4" r="7.8"/><circle cx="1449.1" cy="259.0" r="7.8"/><circle cx="1466.6" cy="287.5" r="7.8"/><circle cx="1473.2" cy="268.2" r="7.8"/><circle cx="1450.6" cy="242.9" r="7.8"/><circle cx="1453.2" cy="278.1" r="7.8"/><circle cx="1472.2" cy="332.3" r="7.8"/><circle cx="1460.2" cy="376.2" r="7.8"/><circle cx="1469.5" cy="366.6" r="7.8"/><circle cx="1465.1" cy="315.0" r="7.8"/><circle cx="1507.7" cy="338.6" r="7.8"/><circle cx="1499.4" cy="377.9" r="7.8"/><circle cx="1539.7" cy="363.8" r="7.8"/><circle cx="1488.8" cy="326.2" r="7.8"/><circle cx="1446.2" cy="321.7" r="7.8"/><circle cx="1513.5" cy="371.1" r="7.8"/><circle cx="1488.4" cy="312.7" r="7.8"/><circle cx="1469.6" cy="289.6" r="7.8"/><circle cx="1444.4" cy="359.2" r="7.8"/><circle cx="1469.5" cy="261.0" r="7.8"/><circle cx="1473.0" cy="345.7" r="7.8"/><circle cx="1453.8" cy="349.3" r="7.8"/><circle cx="1457.5" cy="242.7" r="7.8"/><circle cx="1451.9" cy="276.8" r="7.8"/><circle cx="1462.3" cy="301.3" r="7.8"/><circle cx="1460.0" cy="339.4" r="7.8"/><circle cx="1466.7" cy="318.3" r="7.8"/><circle cx="1445.0" cy="259.9" r="7.8"/><circle cx="1474.7" cy="368.1" r="7.8"/><circle cx="1462.6" cy="284.8" r="7.8"/><circle cx="1536.1" cy="355.4" r="7.8"/><circle cx="1524.6" cy="344.3" r="7.8"/><circle cx="1518.7" cy="361.2" r="7.8"/><circle cx="1450.4" cy="237.8" r="7.8"/><circle cx="1531.3" cy="349.6" r="7.8"/><circle cx="1460.8" cy="262.3" r="7.8"/><circle cx="1450.4" cy="316.9" r="7.8"/><circle cx="1468.9" cy="348.9" r="7.8"/><circle cx="1439.9" cy="349.4" r="7.8"/><circle cx="1470.8" cy="316.2" r="7.8"/><circle cx="1517.9" cy="367.1" r="7.8"/><circle cx="1480.4" cy="316.1" r="7.8"/><circle cx="1485.7" cy="338.3" r="7.8"/><circle cx="1445.2" cy="345.3" r="7.8"/><circle cx="1512.0" cy="365.9" r="7.8"/><circle cx="1444.8" cy="374.1" r="7.8"/><circle cx="1482.8" cy="267.6" r="7.8"/><circle cx="1458.5" cy="362.7" r="7.8"/><circle cx="1466.5" cy="249.5" r="7.8"/><circle cx="1505.8" cy="380.9" r="7.8"/><circle cx="1458.2" cy="269.1" r="7.8"/><circle cx="1490.7" cy="353.4" r="7.8"/><circle cx="1519.8" cy="350.2" r="7.8"/><circle cx="1471.9" cy="355.1" r="7.8"/><circle cx="1483.6" cy="356.9" r="7.8"/><circle cx="1476.3" cy="298.9" r="7.8"/><circle cx="1486.0" cy="341.6" r="7.8"/><circle cx="1499.7" cy="368.1" r="7.8"/><circle cx="1475.3" cy="262.0" r="7.8"/><circle cx="1532.9" cy="353.9" r="7.8"/><circle cx="1454.3" cy="315.2" r="7.8"/><circle cx="1500.9" cy="334.4" r="7.8"/><circle cx="1460.6" cy="280.8" r="7.8"/><circle cx="1454.9" cy="289.9" r="7.8"/><circle cx="1442.0" cy="252.7" r="7.8"/><circle cx="1536.6" cy="360.1" r="7.8"/><circle cx="1482.1" cy="298.6" r="7.8"/><circle cx="1458.9" cy="292.2" r="7.8"/><circle cx="1456.9" cy="238.3" r="7.8"/><circle cx="1456.6" cy="301.8" r="7.8"/><circle cx="1504.4" cy="376.7" r="7.8"/><circle cx="1498.6" cy="327.9" r="7.8"/><circle cx="1465.3" cy="300.2" r="7.8"/><circle cx="1445.1" cy="239.2" r="7.8"/><circle cx="1500.9" cy="364.9" r="7.8"/><circle cx="1451.7" cy="361.3" r="7.8"/><circle cx="1492.9" cy="371.5" r="7.8"/><circle cx="1463.0" cy="355.8" r="7.8"/><circle cx="1467.0" cy="279.8" r="7.8"/><circle cx="1465.2" cy="334.1" r="7.8"/><circle cx="1492.8" cy="379.9" r="7.8"/><circle cx="1510.8" cy="328.1" r="7.8"/><circle cx="1476.2" cy="365.2" r="7.8"/><circle cx="1465.6" cy="350.1" r="7.8"/><circle cx="1443.6" cy="297.0" r="7.8"/><circle cx="1524.1" cy="340.5" r="7.8"/><circle cx="1466.5" cy="334.4" r="7.8"/><circle cx="1510.5" cy="376.7" r="7.8"/><circle cx="1496.5" cy="381.9" r="7.8"/><circle cx="1507.6" cy="357.5" r="7.8"/><circle cx="1453.1" cy="374.7" r="7.8"/><circle cx="1483.1" cy="278.1" r="7.8"/><circle cx="1469.3" cy="338.5" r="7.8"/><circle cx="1446.1" cy="302.3" r="7.8"/><circle cx="1474.9" cy="267.2" r="7.8"/><circle cx="1513.1" cy="356.5" r="7.8"/><circle cx="1436.1" cy="361.5" r="7.8"/><circle cx="1513.7" cy="337.7" r="7.8"/><circle cx="1442.2" cy="222.9" r="7.8"/><circle cx="1450.2" cy="277.8" r="7.8"/><circle cx="1479.8" cy="334.4" r="7.8"/><circle cx="1531.2" cy="364.1" r="7.8"/><circle cx="1477.3" cy="316.8" r="7.8"/><circle cx="1440.6" cy="362.6" r="7.8"/><circle cx="1464.1" cy="334.8" r="7.8"/><circle cx="1471.4" cy="308.6" r="7.8"/><circle cx="1464.5" cy="263.1" r="7.8"/><circle cx="1493.7" cy="338.8" r="7.8"/><circle cx="1459.7" cy="282.3" r="7.8"/><circle cx="1467.3" cy="275.8" r="7.8"/><circle cx="1449.1" cy="326.9" r="7.8"/><circle cx="1516.0" cy="341.4" r="7.8"/><circle cx="1483.9" cy="329.8" r="7.8"/><circle cx="1494.3" cy="325.1" r="7.8"/><circle cx="1516.1" cy="373.3" r="7.8"/><circle cx="1456.3" cy="371.5" r="7.8"/><circle cx="1446.2" cy="331.4" r="7.8"/><circle cx="1483.7" cy="307.8" r="7.8"/><circle cx="1523.2" cy="337.8" r="7.8"/><circle cx="1524.1" cy="353.1" r="7.8"/><circle cx="1462.0" cy="379.0" r="7.8"/><circle cx="1519.9" cy="354.3" r="7.8"/><circle cx="1445.5" cy="263.3" r="7.8"/><circle cx="1486.1" cy="346.9" r="7.8"/><circle cx="1462.3" cy="257.8" r="7.8"/><circle cx="1477.1" cy="277.8" r="7.8"/><circle cx="1439.3" cy="357.3" r="7.8"/><circle cx="1472.1" cy="299.2" r="7.8"/><circle cx="1448.2" cy="269.5" r="7.8"/><circle cx="1454.9" cy="296.4" r="7.8"/><circle cx="1445.6" cy="355.8" r="7.8"/><circle cx="1455.3" cy="336.8" r="7.8"/><circle cx="1465.2" cy="354.1" r="7.8"/><circle cx="1464.2" cy="370.8" r="7.8"/><circle cx="1502.3" cy="335.6" r="7.8"/><circle cx="1488.9" cy="344.1" r="7.8"/><circle cx="1462.7" cy="316.6" r="7.8"/><circle cx="1497.6" cy="362.7" r="7.8"/><circle cx="1520.0" cy="348.0" r="7.8"/><circle cx="1455.9" cy="381.0" r="7.8"/><circle cx="1465.5" cy="296.1" r="7.8"/><circle cx="1483.5" cy="359.3" r="7.8"/><circle cx="1440.3" cy="343.9" r="7.8"/><circle cx="1444.3" cy="268.3" r="7.8"/><circle cx="1469.7" cy="359.1" r="7.8"/><circle cx="1519.7" cy="374.0" r="7.8"/><circle cx="1492.0" cy="319.8" r="7.8"/><circle cx="1452.1" cy="322.0" r="7.8"/><circle cx="1462.5" cy="308.5" r="7.8"/><circle cx="1500.7" cy="329.7" r="7.8"/><circle cx="1467.3" cy="257.6" r="7.8"/><circle cx="1507.7" cy="358.4" r="7.8"/><circle cx="1499.9" cy="357.7" r="7.8"/><circle cx="1472.7" cy="284.5" r="7.8"/><circle cx="1521.9" cy="363.9" r="7.8"/><circle cx="1450.4" cy="363.4" r="7.8"/><circle cx="1500.2" cy="344.3" r="7.8"/><circle cx="1503.2" cy="357.7" r="7.8"/><circle cx="1493.0" cy="331.8" r="7.8"/><circle cx="1460.1" cy="241.7" r="7.8"/><circle cx="1489.9" cy="358.7" r="7.8"/><circle cx="1474.3" cy="276.9" r="7.8"/><circle cx="1504.4" cy="345.3" r="7.8"/><circle cx="1469.6" cy="286.2" r="7.8"/><circle cx="1502.3" cy="364.5" r="7.8"/><circle cx="1474.9" cy="375.8" r="7.8"/><circle cx="1442.0" cy="367.0" r="7.8"/><circle cx="1529.6" cy="346.7" r="7.8"/><circle cx="1457.1" cy="266.3" r="7.8"/><circle cx="1446.3" cy="370.3" r="7.8"/><circle cx="1498.3" cy="340.8" r="7.8"/><circle cx="1464.5" cy="376.0" r="7.8"/><circle cx="1534.5" cy="371.8" r="7.8"/><circle cx="1481.5" cy="380.0" r="7.8"/><circle cx="1507.5" cy="330.6" r="7.8"/><circle cx="1462.5" cy="361.4" r="7.8"/><circle cx="1453.8" cy="371.3" r="7.8"/><circle cx="1495.4" cy="374.9" r="7.8"/><circle cx="1469.4" cy="280.5" r="7.8"/><circle cx="1460.1" cy="286.9" r="7.8"/><circle cx="1447.1" cy="256.7" r="7.8"/><circle cx="1445.5" cy="272.7" r="7.8"/><circle cx="1476.8" cy="309.9" r="7.8"/><circle cx="1476.1" cy="356.0" r="7.8"/><circle cx="1454.3" cy="262.7" r="7.8"/><circle cx="1518.3" cy="369.7" r="7.8"/><circle cx="1485.6" cy="350.3" r="7.8"/><circle cx="1513.4" cy="340.9" r="7.8"/><circle cx="1453.5" cy="222.1" r="7.8"/><circle cx="1468.9" cy="247.6" r="7.8"/><circle cx="1486.9" cy="364.7" r="7.8"/><circle cx="1493.7" cy="345.0" r="7.8"/><circle cx="1440.6" cy="251.9" r="7.8"/><circle cx="1441.7" cy="231.6" r="7.8"/><circle cx="1467.0" cy="302.0" r="7.8"/><circle cx="1466.6" cy="294.9" r="7.8"/><circle cx="1502.9" cy="359.4" r="7.8"/><circle cx="1502.8" cy="349.8" r="7.8"/><circle cx="1506.8" cy="370.4" r="7.8"/><circle cx="1506.0" cy="352.8" r="7.8"/><circle cx="1452.2" cy="343.8" r="7.8"/><circle cx="1469.3" cy="325.9" r="7.8"/><circle cx="1467.7" cy="380.5" r="7.8"/><circle cx="1467.4" cy="329.3" r="7.8"/><circle cx="1525.1" cy="375.6" r="7.8"/><circle cx="1458.1" cy="332.5" r="7.8"/><circle cx="1455.0" cy="271.8" r="7.8"/><circle cx="1443.4" cy="286.7" r="7.8"/><circle cx="1514.9" cy="347.5" r="7.8"/><circle cx="1472.8" cy="247.1" r="7.8"/><circle cx="1484.5" cy="320.5" r="7.8"/><circle cx="1449.2" cy="220.4" r="7.8"/><circle cx="1473.2" cy="254.0" r="7.8"/><circle cx="1508.1" cy="343.7" r="7.8"/><circle cx="1461.0" cy="276.2" r="7.8"/><circle cx="1442.1" cy="377.9" r="7.8"/><circle cx="1465.2" cy="339.7" r="7.8"/><circle cx="1463.1" cy="324.9" r="7.8"/><circle cx="1461.4" cy="327.4" r="7.8"/><circle cx="1442.0" cy="333.9" r="7.8"/><circle cx="1481.1" cy="346.4" r="7.8"/><circle cx="1512.8" cy="334.5" r="7.8"/><circle cx="1529.3" cy="362.0" r="7.8"/><circle cx="1456.6" cy="251.6" r="7.8"/><circle cx="1443.1" cy="238.8" r="7.8"/><circle cx="1448.4" cy="295.5" r="7.8"/><circle cx="1467.4" cy="348.7" r="7.8"/><circle cx="1478.5" cy="314.3" r="7.8"/><circle cx="1470.7" cy="57.1" r="7.8"/><circle cx="1435.3" cy="97.3" r="7.8"/><circle cx="1457.5" cy="104.6" r="7.8"/><circle cx="1479.7" cy="109.1" r="7.8"/><circle cx="1464.3" cy="140.9" r="7.8"/><circle cx="1489.4" cy="149.7" r="7.8"/><circle cx="1433.4" cy="148.7" r="7.8"/><circle cx="1480.4" cy="182.7" r="7.8"/><circle cx="1457.5" cy="202.1" r="7.8"/><circle cx="1436.2" cy="204.9" r="7.8"/><circle cx="1471.2" cy="220.7" r="7.8"/><circle cx="1449.9" cy="217.2" r="7.8"/><circle cx="1462.9" cy="233.3" r="7.8"/><circle cx="1540.8" cy="216.0" r="7.8"/><circle cx="1536.6" cy="224.3" r="7.8"/><circle cx="1517.5" cy="231.8" r="7.8"/><circle cx="1478.3" cy="246.7" r="7.8"/><circle cx="1493.6" cy="256.2" r="7.8"/><circle cx="1481.8" cy="256.2" r="7.8"/><circle cx="1507.3" cy="266.8" r="7.8"/><circle cx="1501.2" cy="269.8" r="7.8"/><circle cx="1462.9" cy="266.8" r="7.8"/><circle cx="1507.8" cy="282.1" r="7.8"/><circle cx="1508.2" cy="289.9" r="7.8"/><circle cx="1497.1" cy="309.3" r="7.8"/><circle cx="1486.5" cy="306.9" r="7.8"/><circle cx="1541.3" cy="312.1" r="7.8"/><circle cx="1545.6" cy="323.4" r="7.8"/><circle cx="1517.2" cy="319.2" r="7.8"/><circle cx="1521.5" cy="331.7" r="7.8"/><circle cx="1500.7" cy="319.9" r="7.8"/><circle cx="1557.4" cy="343.5" r="7.8"/><circle cx="1553.8" cy="340.0" r="7.8"/><circle cx="1532.6" cy="340.0" r="7.8"/><circle cx="1525.5" cy="342.3" r="7.8"/><circle cx="1578.6" cy="353.0" r="7.8"/><circle cx="1546.7" cy="354.1" r="7.8"/><circle cx="1560.9" cy="359.6" r="7.8"/><circle cx="1556.2" cy="365.5" r="7.8"/><circle cx="1585.7" cy="369.5" r="7.8"/><circle cx="1569.2" cy="374.7" r="7.8"/><circle cx="1542.0" cy="365.9" r="7.8"/><circle cx="1527.4" cy="361.9" r="7.8"/><circle cx="1719.8" cy="359.1" r="7.8"/><circle cx="1440.5" cy="341.1" r="7.8"/><circle cx="1434.6" cy="357.7" r="7.8"/><circle cx="1438.1" cy="381.3" r="7.8"/><circle cx="1447.6" cy="347.0" r="7.8"/><circle cx="1481.8" cy="380.1" r="7.8"/><circle cx="1485.3" cy="383.6" r="7.8"/><circle cx="1511.3" cy="381.3" r="7.8"/><circle cx="1523.1" cy="380.1" r="7.8"/><circle cx="1534.9" cy="375.4" r="7.8"/></g><g fill="#e5812b" stroke="#fff" stroke-width="1.4"><circle cx="1448.7" cy="311.9" r="7.8"/><circle cx="1455.8" cy="320.2" r="7.8"/><circle cx="1449.8" cy="268.7" r="7.8"/><circle cx="1470.2" cy="357.0" r="7.8"/><circle cx="1464.2" cy="339.3" r="7.8"/><circle cx="1476.9" cy="318.4" r="7.8"/><circle cx="1452.1" cy="240.4" r="7.8"/><circle cx="1474.8" cy="358.5" r="7.8"/><circle cx="1474.5" cy="364.4" r="7.8"/><circle cx="1457.2" cy="347.6" r="7.8"/><circle cx="1459.9" cy="366.4" r="7.8"/><circle cx="1443.1" cy="266.3" r="7.8"/><circle cx="1441.2" cy="25.5" r="7.8"/><circle cx="1435.8" cy="42.7" r="7.8"/><circle cx="1435.3" cy="77.2" r="7.8"/><circle cx="1436.9" cy="151.1" r="7.8"/><circle cx="1442.1" cy="155.3" r="7.8"/><circle cx="1442.4" cy="144.0" r="7.8"/><circle cx="1436.9" cy="167.6" r="7.8"/><circle cx="1444.0" cy="227.8" r="7.8"/><circle cx="1447.1" cy="220.0" r="7.8"/><circle cx="1440.9" cy="235.6" r="7.8"/><circle cx="1452.3" cy="243.2" r="7.8"/><circle cx="1435.8" cy="250.3" r="7.8"/><circle cx="1465.7" cy="250.3" r="7.8"/><circle cx="1435.8" cy="260.9" r="7.8"/><circle cx="1449.9" cy="262.1" r="7.8"/><circle cx="1445.2" cy="256.9" r="7.8"/><circle cx="1442.8" cy="266.8" r="7.8"/><circle cx="1481.3" cy="271.0" r="7.8"/><circle cx="1451.8" cy="273.4" r="7.8"/><circle cx="1459.4" cy="282.1" r="7.8"/><circle cx="1435.8" cy="286.1" r="7.8"/><circle cx="1436.9" cy="290.4" r="7.8"/><circle cx="1435.3" cy="295.1" r="7.8"/><circle cx="1452.3" cy="292.7" r="7.8"/><circle cx="1467.6" cy="294.6" r="7.8"/><circle cx="1468.8" cy="297.5" r="7.8"/><circle cx="1447.6" cy="301.0" r="7.8"/><circle cx="1469.3" cy="302.2" r="7.8"/><circle cx="1454.6" cy="304.6" r="7.8"/><circle cx="1441.7" cy="308.8" r="7.8"/><circle cx="1434.1" cy="314.0" r="7.8"/><circle cx="1435.8" cy="317.5" r="7.8"/><circle cx="1455.8" cy="315.2" r="7.8"/><circle cx="1466.5" cy="318.2" r="7.8"/><circle cx="1479.4" cy="317.5" r="7.8"/><circle cx="1480.6" cy="324.6" r="7.8"/><circle cx="1473.5" cy="329.3" r="7.8"/><circle cx="1450.6" cy="331.7" r="7.8"/><circle cx="1492.4" cy="334.1" r="7.8"/><circle cx="1465.3" cy="337.6" r="7.8"/><circle cx="1474.7" cy="343.5" r="7.8"/><circle cx="1454.6" cy="347.0" r="7.8"/><circle cx="1459.4" cy="347.5" r="7.8"/><circle cx="1506.6" cy="345.9" r="7.8"/><circle cx="1473.5" cy="354.1" r="7.8"/><circle cx="1487.7" cy="354.8" r="7.8"/><circle cx="1510.1" cy="352.2" r="7.8"/><circle cx="1437.6" cy="360.0" r="7.8"/><circle cx="1464.1" cy="358.9" r="7.8"/><circle cx="1475.9" cy="361.2" r="7.8"/><circle cx="1457.0" cy="369.5" r="7.8"/><circle cx="1478.3" cy="368.3" r="7.8"/><circle cx="1464.1" cy="375.4" r="7.8"/><circle cx="1506.6" cy="375.4" r="7.8"/><circle cx="1501.9" cy="373.7" r="7.8"/><circle cx="1496.0" cy="378.9" r="7.8"/><circle cx="1452.3" cy="380.1" r="7.8"/><circle cx="1448.0" cy="381.3" r="7.8"/></g>
</g>
<g id="p10">
<path d="M147.7 744.1C147.6 739.9 148.3 735.0 149.8 729.9C151.3 724.8 154.0 719.1 156.9 713.6C159.8 708.2 163.5 702.3 167.0 697.4C170.6 692.5 174.5 688.1 178.2 684.2C181.9 680.3 185.8 676.7 189.4 674.0C192.9 671.3 196.7 669.6 199.5 667.9C202.4 666.2 204.8 666.4 206.7 663.9C208.5 661.3 208.5 655.7 210.7 652.7C212.9 649.6 216.3 647.1 219.9 645.6C223.4 644.1 228.3 643.0 232.1 643.5C235.8 644.1 240.1 646.4 242.2 648.6C244.3 650.8 245.0 654.2 244.7 656.7C244.3 659.3 241.8 661.8 240.2 663.9C238.6 665.9 235.4 667.4 235.1 668.9C234.8 670.5 235.9 671.8 238.1 673.0C240.3 674.2 245.1 674.7 248.3 676.0C251.5 677.4 255.1 679.6 257.4 681.1C259.8 682.7 260.7 684.2 262.5 685.2C264.4 686.2 265.9 687.1 268.6 687.2C271.3 687.4 276.1 686.0 278.8 686.2C281.5 686.4 284.0 687.1 284.9 688.2C285.7 689.4 282.8 692.0 283.9 693.3C284.9 694.7 289.4 695.2 291.0 696.4C292.5 697.6 293.7 699.2 293.0 700.4C292.3 701.6 289.6 703.0 286.9 703.5C284.2 704.0 279.1 702.5 276.7 703.5C274.4 704.5 273.0 707.9 272.7 709.6C272.3 711.3 272.7 712.4 274.7 713.6C276.7 714.8 282.5 715.3 284.9 716.7C287.2 718.0 288.1 719.7 288.9 721.8C289.8 723.8 288.9 727.2 290.0 728.9C291.0 730.6 292.5 731.5 295.0 731.9C297.6 732.4 301.8 732.0 305.2 731.5C308.6 731.0 312.0 729.8 315.3 728.9C318.7 727.9 322.1 726.2 325.5 725.8C328.9 725.5 332.3 726.6 335.7 726.8C339.1 727.1 342.9 727.1 345.8 727.4C348.7 727.8 351.8 727.8 352.9 728.9C354.1 730.0 354.1 732.6 352.5 734.0C351.0 735.3 346.9 736.3 343.8 737.0C340.6 737.7 337.0 737.7 333.6 738.0C330.2 738.4 326.9 738.7 323.5 739.0C320.1 739.4 316.7 739.5 313.3 740.0C309.9 740.6 306.5 741.4 303.2 742.1C299.8 742.8 296.4 743.2 293.0 744.1C289.6 745.1 286.2 746.7 282.8 747.8C279.5 748.8 276.1 749.6 272.7 750.2C269.3 750.8 265.9 751.2 262.5 751.2C259.1 751.2 255.8 750.0 252.4 750.2C249.0 750.4 245.6 751.2 242.2 752.2C238.8 753.3 235.4 754.8 232.1 756.3C228.7 757.8 225.6 760.2 221.9 761.4C218.2 762.6 213.8 762.6 209.7 763.4C205.6 764.3 201.6 765.7 197.5 766.5C193.5 767.2 189.7 767.9 185.3 768.1C180.9 768.3 175.5 768.3 171.1 767.5C166.7 766.7 162.3 765.4 158.9 763.4C155.5 761.4 152.7 758.5 150.8 755.3C148.9 752.1 147.9 748.3 147.7 744.1Z" fill="none" stroke="#4674b2" stroke-width="3.7" stroke-linejoin="round"/><path d="M150.8 744.1C151.8 738.7 155.5 726.5 158.9 719.7C162.3 713.0 166.4 708.6 171.1 703.5C175.8 698.4 182.3 692.5 187.4 689.3C192.4 686.0 197.2 685.4 201.6 684.2C206.0 683.0 209.7 682.4 213.8 682.1C217.8 681.9 222.2 681.9 226.0 682.6C229.7 683.2 233.1 684.6 236.1 686.2C239.2 687.8 241.9 690.1 244.2 692.3C246.6 694.5 249.5 696.9 250.3 699.4C251.2 702.0 249.3 705.2 249.3 707.5C249.3 709.9 250.7 710.9 250.3 713.6C250.0 716.3 248.6 720.7 247.3 723.8C245.9 726.8 245.1 728.2 242.2 731.9C239.3 735.6 234.8 742.1 230.0 746.1C225.3 750.2 219.2 753.8 213.8 756.3C208.4 758.8 203.6 760.2 197.5 761.4C191.4 762.6 183.3 763.7 177.2 763.4C171.1 763.1 165.0 761.2 160.9 759.3C156.9 757.5 154.5 754.8 152.8 752.2C151.1 749.7 149.8 749.5 150.8 744.1Z" fill="none" stroke="#4674b2" stroke-width="3.7" stroke-linejoin="round"/><path d="M195.5 703.5C198.2 703.1 202.3 702.3 205.6 702.5C209.0 702.6 212.4 704.0 215.8 704.5C219.2 705.0 223.4 704.3 226.0 705.5C228.5 706.7 230.0 709.2 231.0 711.6C232.1 714.0 232.2 716.7 232.1 719.7C231.9 722.8 231.7 726.2 230.0 729.9C228.3 733.6 225.3 738.5 221.9 742.1C218.5 745.6 214.4 748.7 209.7 751.2C205.0 753.8 198.9 756.0 193.5 757.3C188.0 758.7 182.3 759.7 177.2 759.3C172.1 759.0 166.5 757.5 163.0 755.3C159.4 753.1 156.7 749.7 155.9 746.1C155.0 742.6 156.0 738.4 157.9 734.0C159.8 729.5 163.5 723.8 167.0 719.7C170.6 715.7 175.5 712.1 179.2 709.6C183.0 707.0 186.7 705.5 189.4 704.5C192.1 703.5 192.8 703.8 195.5 703.5Z" fill="none" stroke="#4674b2" stroke-width="3.7" stroke-linejoin="round"/><path d="M219.2 735.6C218.3 737.0 217.6 738.3 216.6 739.4C215.7 740.6 214.5 741.6 213.5 742.6C212.4 743.5 211.2 744.3 210.2 745.0C209.2 745.8 208.4 746.5 207.4 747.2C206.5 747.8 205.6 748.4 204.7 748.9C203.7 749.3 202.7 749.6 201.8 750.0C200.8 750.3 200.0 750.7 199.2 751.0C198.3 751.3 197.6 751.6 196.8 751.9C196.0 752.2 195.3 752.5 194.5 752.8C193.7 753.1 193.0 753.4 192.2 753.6C191.4 753.8 190.6 753.8 189.8 753.9C189.0 754.1 188.2 754.2 187.4 754.3C186.5 754.4 185.7 754.5 184.9 754.6C184.0 754.7 183.1 754.8 182.2 755.0C181.2 755.1 180.2 755.4 179.2 755.3C178.2 755.3 177.3 754.9 176.3 754.7C175.4 754.4 174.4 754.2 173.3 753.9C172.3 753.6 171.1 753.3 170.0 752.9C168.9 752.5 167.5 752.2 166.6 751.5C165.7 750.8 165.2 749.7 164.5 748.8C163.7 747.9 162.8 747.0 162.3 746.0C161.8 744.9 161.5 743.7 161.4 742.5C161.4 741.3 161.8 740.1 162.0 738.9C162.2 737.8 162.3 736.6 162.7 735.6C163.0 734.5 163.5 733.5 164.0 732.5C164.5 731.5 165.2 730.7 165.8 729.8C166.3 728.9 166.9 728.1 167.4 727.3C167.9 726.5 168.5 725.7 169.0 725.0C169.5 724.2 169.9 723.3 170.5 722.7C171.1 722.0 171.9 721.4 172.6 720.9C173.3 720.3 174.0 719.7 174.7 719.1C175.4 718.6 176.1 718.0 176.9 717.4C177.6 716.8 178.3 716.2 179.1 715.6C179.9 715.0 180.7 714.4 181.5 713.9C182.4 713.3 183.3 713.0 184.3 712.5C185.3 712.0 186.3 711.4 187.4 711.0C188.4 710.5 189.6 710.2 190.7 709.9C191.9 709.6 193.1 709.4 194.4 709.3C195.7 709.1 197.0 709.0 198.4 708.9C199.8 708.8 201.4 708.5 202.9 708.6C204.4 708.7 205.8 709.2 207.4 709.5C209.0 709.8 210.6 710.1 212.6 710.4C214.5 710.7 217.4 710.5 219.0 711.3C220.7 712.1 221.7 713.8 222.4 715.3C223.2 716.9 223.5 718.8 223.6 720.6C223.7 722.3 223.5 724.2 223.2 726.0C223.0 727.7 222.9 729.4 222.2 731.0C221.5 732.6 220.1 734.2 219.2 735.6Z" fill="none" stroke="#4674b2" stroke-width="3.7" stroke-linejoin="round"/><path d="M215.6 735.6C214.8 736.8 214.2 738.0 213.4 739.0C212.5 740.0 211.5 741.0 210.6 741.8C209.6 742.6 208.6 743.3 207.7 744.0C206.8 744.7 206.0 745.3 205.2 745.9C204.4 746.5 203.6 747.0 202.8 747.4C201.9 747.8 201.0 748.1 200.2 748.4C199.4 748.7 198.7 749.0 197.9 749.3C197.2 749.6 196.5 749.9 195.8 750.2C195.1 750.4 194.4 750.7 193.7 751.0C193.0 751.2 192.4 751.5 191.7 751.7C191.0 751.9 190.2 751.9 189.5 752.0C188.8 752.1 188.1 752.2 187.4 752.3C186.6 752.4 185.9 752.5 185.1 752.7C184.3 752.8 183.5 752.9 182.7 753.0C181.8 753.1 180.9 753.3 180.0 753.3C179.1 753.3 178.3 753.0 177.4 752.8C176.6 752.6 175.7 752.3 174.7 752.0C173.8 751.8 172.7 751.6 171.7 751.2C170.7 750.8 169.5 750.5 168.7 749.9C167.8 749.3 167.4 748.3 166.7 747.5C166.1 746.7 165.3 745.9 164.8 744.9C164.4 744.0 164.1 742.9 164.1 741.8C164.0 740.8 164.4 739.6 164.6 738.6C164.8 737.5 164.9 736.5 165.2 735.6C165.5 734.6 166.0 733.7 166.4 732.8C166.9 732.0 167.5 731.2 168.0 730.4C168.5 729.6 169.0 728.9 169.5 728.2C170.0 727.5 170.5 726.8 170.9 726.1C171.4 725.4 171.8 724.7 172.3 724.1C172.9 723.4 173.6 723.0 174.2 722.5C174.9 721.9 175.5 721.4 176.1 720.9C176.7 720.4 177.4 719.9 178.0 719.4C178.7 718.9 179.3 718.3 180.0 717.8C180.7 717.3 181.4 716.7 182.2 716.3C183.0 715.8 183.8 715.5 184.7 715.1C185.5 714.6 186.4 714.1 187.4 713.7C188.3 713.4 189.3 713.0 190.4 712.8C191.4 712.5 192.5 712.4 193.6 712.2C194.7 712.1 195.9 712.0 197.2 711.9C198.4 711.8 199.8 711.6 201.2 711.7C202.5 711.7 203.7 712.2 205.1 712.4C206.6 712.7 208.0 712.9 209.7 713.2C211.4 713.5 213.9 713.3 215.4 714.1C216.8 714.8 217.7 716.3 218.4 717.7C219.1 719.0 219.4 720.7 219.5 722.3C219.6 723.8 219.4 725.5 219.2 727.0C219.0 728.6 218.9 730.1 218.3 731.5C217.7 732.9 216.5 734.3 215.6 735.6Z" fill="none" stroke="#4674b2" stroke-width="3.7" stroke-linejoin="round"/><path d="M212.1 735.6C211.4 736.7 210.8 737.7 210.1 738.6C209.4 739.5 208.5 740.3 207.7 741.0C206.9 741.8 206.0 742.4 205.2 743.0C204.4 743.6 203.7 744.1 203.0 744.6C202.3 745.1 201.6 745.6 200.9 746.0C200.2 746.3 199.4 746.6 198.7 746.9C198.0 747.2 197.3 747.4 196.7 747.7C196.0 747.9 195.4 748.2 194.8 748.4C194.2 748.7 193.6 748.9 193.0 749.1C192.4 749.4 191.8 749.6 191.2 749.8C190.6 750.0 189.9 750.0 189.3 750.1C188.6 750.2 188.0 750.3 187.4 750.4C186.7 750.5 186.1 750.6 185.4 750.7C184.7 750.8 184.0 750.9 183.2 751.0C182.5 751.1 181.6 751.3 180.8 751.3C180.1 751.3 179.3 751.0 178.5 750.8C177.8 750.7 177.0 750.4 176.1 750.2C175.3 750.0 174.4 749.8 173.5 749.5C172.6 749.2 171.5 748.9 170.7 748.3C170.0 747.8 169.6 746.9 169.0 746.2C168.4 745.4 167.7 744.7 167.3 743.9C167.0 743.0 166.7 742.1 166.7 741.1C166.7 740.2 167.0 739.2 167.2 738.2C167.3 737.3 167.5 736.4 167.7 735.6C168.0 734.7 168.4 733.9 168.9 733.1C169.3 732.4 169.8 731.7 170.3 731.0C170.7 730.3 171.2 729.7 171.6 729.1C172.1 728.4 172.5 727.8 172.9 727.2C173.3 726.6 173.7 726.0 174.2 725.4C174.6 724.9 175.3 724.5 175.8 724.0C176.4 723.6 176.9 723.2 177.5 722.7C178.0 722.3 178.6 721.8 179.2 721.4C179.7 720.9 180.3 720.5 180.9 720.0C181.5 719.6 182.2 719.1 182.8 718.7C183.5 718.3 184.2 718.0 185.0 717.6C185.8 717.3 186.5 716.8 187.4 716.5C188.2 716.2 189.1 715.9 190.0 715.7C190.9 715.5 191.8 715.3 192.8 715.2C193.8 715.1 194.8 715.0 195.9 714.9C197.0 714.8 198.3 714.6 199.4 714.7C200.6 714.8 201.6 715.1 202.9 715.4C204.1 715.6 205.4 715.8 206.9 716.0C208.4 716.3 210.5 716.2 211.8 716.9C213.0 717.5 213.8 718.8 214.4 720.0C215.0 721.2 215.2 722.6 215.4 724.0C215.5 725.3 215.3 726.8 215.1 728.1C215.0 729.5 214.9 730.8 214.4 732.0C213.8 733.3 212.8 734.5 212.1 735.6Z" fill="none" stroke="#4674b2" stroke-width="3.7" stroke-linejoin="round"/><path d="M208.5 735.6C207.9 736.5 207.4 737.4 206.8 738.1C206.2 738.9 205.5 739.6 204.8 740.2C204.1 740.9 203.3 741.4 202.7 741.9C202.0 742.4 201.4 742.9 200.8 743.3C200.2 743.8 199.6 744.2 199.0 744.5C198.4 744.8 197.7 745.1 197.1 745.3C196.5 745.6 195.9 745.8 195.4 746.0C194.8 746.3 194.3 746.5 193.8 746.7C193.3 746.9 192.7 747.1 192.2 747.3C191.7 747.5 191.2 747.8 190.7 747.9C190.1 748.0 189.6 748.1 189.0 748.2C188.5 748.3 187.9 748.4 187.4 748.5C186.8 748.6 186.2 748.7 185.6 748.8C185.0 748.8 184.4 748.9 183.8 749.0C183.1 749.1 182.4 749.3 181.7 749.3C181.0 749.3 180.3 749.1 179.7 748.9C179.0 748.8 178.3 748.6 177.5 748.4C176.8 748.2 176.0 748.0 175.2 747.8C174.4 747.5 173.5 747.2 172.8 746.7C172.2 746.2 171.8 745.5 171.3 744.9C170.8 744.2 170.2 743.6 169.9 742.8C169.5 742.1 169.3 741.2 169.3 740.4C169.3 739.6 169.6 738.7 169.7 737.9C169.9 737.1 170.0 736.3 170.3 735.6C170.5 734.8 170.9 734.1 171.3 733.5C171.7 732.8 172.1 732.2 172.5 731.6C172.9 731.0 173.3 730.5 173.7 729.9C174.1 729.4 174.5 728.9 174.9 728.4C175.2 727.8 175.5 727.3 176.0 726.8C176.4 726.4 176.9 726.0 177.4 725.6C177.9 725.3 178.4 724.9 178.9 724.5C179.4 724.1 179.8 723.8 180.3 723.4C180.8 723.0 181.3 722.6 181.8 722.2C182.4 721.9 182.9 721.5 183.5 721.1C184.1 720.8 184.7 720.5 185.3 720.2C186.0 719.9 186.6 719.6 187.4 719.3C188.1 719.0 188.8 718.8 189.6 718.6C190.4 718.4 191.2 718.3 192.0 718.2C192.9 718.1 193.7 718.0 194.7 717.9C195.6 717.8 196.7 717.7 197.7 717.7C198.6 717.8 199.6 718.1 200.6 718.3C201.7 718.5 202.8 718.7 204.0 718.9C205.3 719.1 207.1 719.1 208.1 719.6C209.2 720.2 209.9 721.3 210.4 722.3C210.9 723.3 211.1 724.5 211.2 725.7C211.4 726.8 211.2 728.1 211.1 729.2C210.9 730.4 210.9 731.5 210.4 732.5C210.0 733.6 209.1 734.6 208.5 735.6Z" fill="none" stroke="#4674b2" stroke-width="3.7" stroke-linejoin="round"/><path d="M204.9 735.6C204.5 736.4 204.1 737.1 203.6 737.7C203.0 738.4 202.4 738.9 201.9 739.5C201.3 740.0 200.7 740.4 200.2 740.9C199.6 741.3 199.1 741.7 198.6 742.1C198.1 742.4 197.6 742.8 197.1 743.1C196.6 743.4 196.1 743.5 195.6 743.8C195.1 744.0 194.6 744.2 194.1 744.4C193.7 744.6 193.2 744.8 192.8 745.0C192.3 745.2 191.9 745.3 191.5 745.5C191.0 745.7 190.6 745.9 190.2 746.0C189.7 746.1 189.2 746.2 188.8 746.3C188.3 746.4 187.8 746.5 187.4 746.6C186.9 746.7 186.4 746.7 185.9 746.8C185.4 746.9 184.8 747.0 184.3 747.1C183.7 747.1 183.1 747.3 182.5 747.3C181.9 747.2 181.4 747.1 180.8 747.0C180.2 746.9 179.6 746.7 178.9 746.6C178.3 746.4 177.6 746.3 176.9 746.0C176.2 745.8 175.4 745.6 174.9 745.1C174.3 744.7 174.0 744.1 173.6 743.5C173.1 743.0 172.7 742.4 172.4 741.8C172.1 741.1 172.0 740.4 172.0 739.7C171.9 739.0 172.2 738.2 172.3 737.6C172.4 736.9 172.6 736.2 172.8 735.6C173.1 734.9 173.4 734.3 173.7 733.8C174.0 733.2 174.4 732.7 174.8 732.2C175.1 731.7 175.5 731.2 175.8 730.8C176.2 730.3 176.5 729.9 176.8 729.5C177.2 729.1 177.4 728.6 177.8 728.2C178.2 727.9 178.6 727.6 179.0 727.2C179.4 726.9 179.8 726.6 180.3 726.3C180.7 726.0 181.1 725.7 181.5 725.4C181.9 725.1 182.3 724.7 182.7 724.4C183.2 724.1 183.7 723.8 184.1 723.6C184.6 723.3 185.1 723.1 185.7 722.8C186.2 722.6 186.8 722.3 187.4 722.1C187.9 721.8 188.6 721.6 189.2 721.5C189.9 721.3 190.5 721.2 191.2 721.1C191.9 721.0 192.7 721.0 193.4 720.9C194.2 720.9 195.1 720.7 195.9 720.8C196.7 720.8 197.5 721.1 198.4 721.2C199.3 721.4 200.2 721.5 201.2 721.7C202.2 721.9 203.6 722.0 204.5 722.4C205.4 722.9 205.9 723.8 206.4 724.6C206.8 725.4 207.0 726.4 207.1 727.4C207.2 728.3 207.1 729.4 207.0 730.3C206.9 731.3 206.8 732.2 206.5 733.1C206.2 733.9 205.4 734.8 204.9 735.6Z" fill="none" stroke="#4674b2" stroke-width="3.7" stroke-linejoin="round"/><path d="M201.4 735.6C201.0 736.2 200.7 736.8 200.3 737.3C199.9 737.8 199.4 738.3 199.0 738.7C198.5 739.1 198.1 739.5 197.6 739.8C197.2 740.2 196.8 740.5 196.4 740.8C196.0 741.1 195.6 741.4 195.2 741.6C194.8 741.9 194.4 742.0 194.0 742.2C193.6 742.4 193.2 742.6 192.9 742.7C192.5 742.9 192.1 743.1 191.8 743.2C191.4 743.4 191.1 743.6 190.7 743.7C190.4 743.8 190.0 744.0 189.6 744.1C189.3 744.2 188.9 744.3 188.5 744.4C188.1 744.5 187.8 744.6 187.4 744.6C187.0 744.7 186.6 744.8 186.1 744.9C185.7 744.9 185.3 745.0 184.8 745.1C184.3 745.1 183.8 745.2 183.4 745.2C182.9 745.2 182.4 745.2 181.9 745.1C181.4 745.0 180.9 744.9 180.3 744.8C179.8 744.6 179.2 744.5 178.6 744.3C178.1 744.1 177.4 743.9 177.0 743.5C176.5 743.2 176.2 742.7 175.8 742.2C175.5 741.8 175.1 741.3 174.9 740.7C174.7 740.2 174.6 739.6 174.6 739.0C174.6 738.4 174.7 737.8 174.9 737.2C175.0 736.6 175.2 736.1 175.4 735.6C175.6 735.1 175.9 734.6 176.1 734.1C176.4 733.6 176.7 733.2 177.0 732.8C177.3 732.4 177.6 732.0 177.9 731.7C178.2 731.3 178.5 731.0 178.8 730.6C179.1 730.3 179.3 729.9 179.6 729.6C179.9 729.3 180.3 729.1 180.6 728.8C181.0 728.6 181.3 728.4 181.6 728.1C182.0 727.9 182.3 727.6 182.6 727.4C183.0 727.1 183.3 726.9 183.7 726.7C184.0 726.4 184.4 726.2 184.8 726.0C185.2 725.8 185.6 725.6 186.0 725.4C186.4 725.2 186.9 725.0 187.4 724.8C187.8 724.7 188.3 724.5 188.8 724.4C189.3 724.3 189.9 724.2 190.4 724.1C191.0 724.0 191.6 724.0 192.2 723.9C192.8 723.9 193.5 723.8 194.1 723.8C194.8 723.9 195.4 724.0 196.1 724.2C196.8 724.3 197.6 724.4 198.3 724.6C199.1 724.8 200.2 724.8 200.9 725.2C201.5 725.6 202.0 726.3 202.4 726.9C202.7 727.6 202.9 728.4 203.0 729.1C203.1 729.8 203.0 730.6 203.0 731.4C202.9 732.1 202.8 732.9 202.6 733.6C202.3 734.3 201.8 735.0 201.4 735.6Z" fill="none" stroke="#4674b2" stroke-width="3.7" stroke-linejoin="round"/><path d="M197.8 735.6C197.6 736.0 197.3 736.5 197.0 736.8C196.7 737.2 196.4 737.6 196.1 737.9C195.8 738.2 195.4 738.5 195.1 738.8C194.8 739.1 194.5 739.3 194.2 739.5C193.9 739.8 193.7 740.0 193.4 740.2C193.1 740.4 192.7 740.5 192.4 740.7C192.2 740.8 191.9 741.0 191.6 741.1C191.3 741.2 191.1 741.4 190.8 741.5C190.5 741.6 190.2 741.8 190.0 741.9C189.7 742.0 189.4 742.1 189.1 742.2C188.9 742.3 188.6 742.4 188.3 742.5C188.0 742.6 187.7 742.6 187.4 742.7C187.0 742.8 186.7 742.8 186.4 742.9C186.1 743.0 185.7 743.1 185.3 743.1C185.0 743.2 184.6 743.2 184.2 743.2C183.8 743.2 183.4 743.2 183.0 743.2C182.6 743.1 182.1 743.0 181.7 742.9C181.3 742.8 180.8 742.8 180.3 742.6C179.9 742.4 179.4 742.2 179.0 742.0C178.7 741.7 178.4 741.3 178.1 740.9C177.8 740.5 177.6 740.1 177.4 739.7C177.3 739.2 177.2 738.8 177.2 738.3C177.2 737.8 177.3 737.3 177.4 736.9C177.6 736.4 177.7 736.0 177.9 735.6C178.1 735.2 178.3 734.8 178.5 734.4C178.8 734.1 179.0 733.7 179.3 733.4C179.5 733.1 179.8 732.8 180.0 732.5C180.3 732.3 180.5 732.0 180.7 731.8C181.0 731.5 181.2 731.2 181.4 731.0C181.7 730.8 182.0 730.6 182.2 730.4C182.5 730.3 182.7 730.1 183.0 729.9C183.3 729.7 183.5 729.5 183.8 729.4C184.0 729.2 184.3 729.0 184.6 728.9C184.9 728.7 185.1 728.6 185.4 728.4C185.7 728.3 186.0 728.1 186.4 728.0C186.7 727.9 187.0 727.7 187.4 727.6C187.7 727.5 188.1 727.4 188.4 727.3C188.8 727.2 189.2 727.1 189.6 727.1C190.1 727.0 190.5 727.0 190.9 726.9C191.4 726.9 191.9 726.8 192.4 726.9C192.9 726.9 193.3 727.0 193.9 727.1C194.4 727.2 194.9 727.3 195.5 727.4C196.1 727.6 196.8 727.7 197.2 728.0C197.7 728.3 198.1 728.8 198.3 729.2C198.6 729.7 198.8 730.3 198.9 730.8C199.0 731.3 199.0 731.9 198.9 732.5C198.9 733.0 198.8 733.6 198.6 734.1C198.5 734.6 198.1 735.1 197.8 735.6Z" fill="none" stroke="#4674b2" stroke-width="3.7" stroke-linejoin="round"/><path d="M194.3 735.6C194.1 735.9 193.9 736.2 193.7 736.4C193.6 736.7 193.4 736.9 193.2 737.1C193.0 737.4 192.8 737.6 192.6 737.7C192.4 737.9 192.2 738.1 192.0 738.3C191.8 738.4 191.7 738.6 191.5 738.7C191.3 738.9 191.1 739.0 190.9 739.1C190.7 739.2 190.5 739.3 190.3 739.5C190.2 739.6 190.0 739.7 189.8 739.8C189.6 739.9 189.4 740.0 189.2 740.1C189.0 740.2 188.8 740.2 188.6 740.3C188.4 740.4 188.2 740.5 188.0 740.6C187.8 740.6 187.6 740.7 187.4 740.8C187.1 740.9 186.9 740.9 186.7 741.0C186.4 741.0 186.1 741.1 185.9 741.1C185.6 741.2 185.3 741.2 185.0 741.2C184.7 741.2 184.4 741.3 184.1 741.2C183.8 741.2 183.4 741.2 183.1 741.1C182.8 741.1 182.4 741.0 182.1 740.9C181.7 740.7 181.4 740.6 181.1 740.4C180.8 740.2 180.6 739.9 180.4 739.6C180.2 739.3 180.0 739.0 180.0 738.6C179.9 738.3 179.8 737.9 179.8 737.6C179.9 737.2 179.9 736.9 180.0 736.5C180.1 736.2 180.3 735.9 180.5 735.6C180.6 735.3 180.8 735.0 181.0 734.7C181.2 734.5 181.3 734.2 181.5 734.0C181.7 733.8 181.9 733.6 182.1 733.4C182.3 733.2 182.5 733.1 182.7 732.9C182.9 732.7 183.1 732.6 183.2 732.4C183.4 732.3 183.6 732.2 183.8 732.0C184.0 731.9 184.2 731.8 184.4 731.7C184.6 731.6 184.7 731.5 184.9 731.4C185.1 731.3 185.3 731.2 185.5 731.1C185.7 731.0 185.9 730.9 186.1 730.8C186.3 730.8 186.5 730.7 186.7 730.6C186.9 730.5 187.1 730.4 187.4 730.4C187.6 730.3 187.8 730.3 188.1 730.2C188.3 730.1 188.6 730.1 188.8 730.0C189.1 730.0 189.4 730.0 189.7 729.9C190.0 729.9 190.3 729.9 190.6 729.9C191.0 729.9 191.3 730.0 191.6 730.0C192.0 730.1 192.3 730.2 192.7 730.3C193.0 730.4 193.3 730.6 193.6 730.8C193.9 731.0 194.1 731.3 194.3 731.6C194.5 731.8 194.7 732.2 194.8 732.5C194.9 732.8 194.9 733.2 194.9 733.6C194.9 733.9 194.8 734.3 194.7 734.6C194.6 734.9 194.4 735.3 194.3 735.6Z" fill="none" stroke="#4674b2" stroke-width="3.7" stroke-linejoin="round"/><path d="M243.1 530.7C243.2 530.9 243.3 531.3 243.3 531.6C243.3 531.9 243.2 532.3 243.1 532.7C243.0 533.0 242.8 533.4 242.5 533.8C242.3 534.1 242.0 534.5 241.6 534.8C241.3 535.1 240.9 535.5 240.5 535.8C240.0 536.1 239.6 536.3 239.1 536.5C238.6 536.8 238.1 537.0 237.6 537.1C237.1 537.2 236.6 537.3 236.1 537.4C235.6 537.4 235.2 537.4 234.7 537.4C234.3 537.3 233.9 537.3 233.5 537.1C233.2 537.0 232.9 536.8 232.6 536.6C232.4 536.4 232.1 536.1 232.0 535.8C231.9 535.5 231.8 535.2 231.8 534.9C231.8 534.5 231.9 534.2 232.0 533.8C232.1 533.4 232.3 533.1 232.5 532.7C232.8 532.3 233.1 532.0 233.4 531.6C233.8 531.3 234.2 531.0 234.6 530.7C235.0 530.4 235.5 530.1 236.0 529.9C236.5 529.7 237.0 529.5 237.5 529.4C238.0 529.2 238.5 529.1 239.0 529.1C239.4 529.0 239.9 529.0 240.4 529.1C240.8 529.1 241.2 529.2 241.6 529.3C241.9 529.5 242.2 529.7 242.5 529.9C242.7 530.1 242.9 530.4 243.1 530.7Z" fill="none" stroke="#4674b2" stroke-width="3.7" stroke-linejoin="round"/><path d="M193.6 582.7C193.7 583.2 193.7 583.9 193.4 584.4C193.2 585.0 192.8 585.7 192.3 586.2C191.7 586.8 191.0 587.4 190.2 588.0C189.4 588.5 188.4 589.0 187.4 589.5C186.4 590.0 185.2 590.4 184.1 590.8C182.9 591.1 181.6 591.4 180.4 591.6C179.1 591.9 177.8 592.0 176.6 592.1C175.4 592.1 174.1 592.1 173.0 592.1C171.9 592.0 170.8 591.8 169.8 591.6C168.9 591.3 168.0 591.0 167.3 590.6C166.6 590.3 166.0 589.8 165.6 589.3C165.2 588.9 164.9 588.3 164.8 587.8C164.7 587.2 164.8 586.6 165.0 586.0C165.3 585.4 165.7 584.8 166.2 584.2C166.7 583.6 167.4 583.1 168.2 582.5C169.1 582.0 170.0 581.4 171.1 581.0C172.1 580.5 173.2 580.1 174.4 579.7C175.6 579.4 176.9 579.1 178.1 578.8C179.3 578.6 180.6 578.5 181.9 578.4C183.1 578.3 184.3 578.3 185.5 578.4C186.6 578.5 187.7 578.7 188.6 578.9C189.6 579.1 190.4 579.5 191.1 579.8C191.8 580.2 192.4 580.6 192.9 581.1C193.3 581.6 193.5 582.1 193.6 582.7Z" fill="none" stroke="#4674b2" stroke-width="3.7" stroke-linejoin="round"/><path d="M327.2 629.0C327.3 629.2 327.4 629.6 327.4 629.9C327.4 630.2 327.4 630.6 327.3 630.9C327.2 631.3 327.0 631.6 326.8 632.0C326.6 632.3 326.3 632.7 326.0 633.0C325.7 633.3 325.3 633.7 324.9 633.9C324.5 634.2 324.0 634.5 323.6 634.7C323.2 634.9 322.7 635.1 322.2 635.2C321.7 635.3 321.3 635.4 320.8 635.4C320.4 635.5 319.9 635.5 319.5 635.4C319.1 635.3 318.7 635.2 318.4 635.1C318.0 634.9 317.7 634.8 317.5 634.5C317.2 634.3 317.0 634.0 316.9 633.8C316.8 633.5 316.7 633.1 316.7 632.8C316.7 632.5 316.7 632.1 316.8 631.8C316.9 631.4 317.1 631.1 317.3 630.7C317.5 630.4 317.8 630.0 318.1 629.7C318.5 629.4 318.8 629.0 319.2 628.8C319.6 628.5 320.1 628.2 320.5 628.0C321.0 627.8 321.4 627.7 321.9 627.5C322.4 627.4 322.8 627.3 323.3 627.3C323.7 627.2 324.2 627.3 324.6 627.3C325.0 627.4 325.4 627.5 325.7 627.6C326.1 627.8 326.4 628.0 326.6 628.2C326.9 628.4 327.1 628.7 327.2 629.0Z" fill="none" stroke="#4674b2" stroke-width="3.7" stroke-linejoin="round"/><path d="M395.7 630.0C395.8 630.3 395.9 630.6 395.9 630.9C395.9 631.2 395.9 631.6 395.8 631.9C395.6 632.3 395.5 632.7 395.3 633.0C395.0 633.4 394.8 633.7 394.4 634.0C394.1 634.4 393.7 634.7 393.3 634.9C393.0 635.2 392.5 635.5 392.1 635.7C391.6 635.9 391.1 636.1 390.7 636.2C390.2 636.3 389.7 636.4 389.3 636.4C388.8 636.5 388.4 636.5 388.0 636.4C387.6 636.4 387.2 636.3 386.8 636.1C386.5 636.0 386.2 635.8 385.9 635.6C385.7 635.3 385.5 635.1 385.4 634.8C385.2 634.5 385.2 634.2 385.1 633.8C385.1 633.5 385.2 633.1 385.3 632.8C385.4 632.4 385.6 632.1 385.8 631.7C386.0 631.4 386.3 631.0 386.6 630.7C386.9 630.4 387.3 630.1 387.7 629.8C388.1 629.5 388.5 629.3 389.0 629.1C389.4 628.8 389.9 628.7 390.4 628.5C390.8 628.4 391.3 628.3 391.8 628.3C392.2 628.3 392.7 628.3 393.1 628.3C393.5 628.4 393.9 628.5 394.2 628.6C394.5 628.8 394.9 629.0 395.1 629.2C395.3 629.4 395.5 629.7 395.7 630.0Z" fill="none" stroke="#4674b2" stroke-width="3.7" stroke-linejoin="round"/><path d="M360.5 656.9C360.7 657.2 360.8 657.5 360.8 657.8C360.8 658.1 360.8 658.5 360.7 658.8C360.6 659.2 360.4 659.5 360.2 659.9C360.0 660.2 359.7 660.6 359.4 660.9C359.1 661.2 358.7 661.5 358.4 661.8C358.0 662.1 357.5 662.3 357.1 662.5C356.7 662.7 356.2 662.9 355.8 663.0C355.3 663.1 354.9 663.2 354.4 663.2C354.0 663.2 353.6 663.2 353.2 663.2C352.8 663.1 352.4 663.0 352.0 662.9C351.7 662.7 351.4 662.5 351.2 662.3C350.9 662.1 350.7 661.8 350.6 661.5C350.5 661.2 350.4 660.9 350.4 660.6C350.4 660.2 350.4 659.9 350.5 659.5C350.6 659.2 350.8 658.8 351.0 658.5C351.2 658.1 351.4 657.8 351.8 657.5C352.1 657.2 352.4 656.9 352.8 656.6C353.2 656.3 353.6 656.1 354.0 655.9C354.5 655.7 354.9 655.5 355.4 655.4C355.8 655.3 356.3 655.2 356.7 655.2C357.2 655.1 357.6 655.1 358.0 655.2C358.4 655.3 358.8 655.4 359.1 655.5C359.4 655.7 359.7 655.9 360.0 656.1C360.2 656.3 360.4 656.6 360.5 656.9Z" fill="none" stroke="#4674b2" stroke-width="3.7" stroke-linejoin="round"/><path d="M292.5 654.5C292.9 655.0 293.1 655.7 293.1 656.4C293.2 657.0 293.1 657.8 292.9 658.6C292.7 659.4 292.3 660.2 291.8 661.0C291.4 661.9 290.7 662.7 290.0 663.5C289.3 664.4 288.5 665.2 287.6 665.9C286.7 666.7 285.7 667.4 284.7 668.0C283.7 668.7 282.6 669.2 281.5 669.7C280.5 670.2 279.4 670.6 278.3 670.9C277.3 671.1 276.2 671.3 275.3 671.4C274.3 671.5 273.4 671.4 272.6 671.3C271.8 671.1 271.1 670.9 270.5 670.5C269.9 670.2 269.4 669.7 269.1 669.1C268.8 668.6 268.6 668.0 268.5 667.3C268.4 666.6 268.5 665.8 268.7 665.1C268.9 664.3 269.3 663.4 269.8 662.6C270.3 661.8 270.9 660.9 271.6 660.1C272.3 659.3 273.1 658.5 274.0 657.7C274.9 657.0 275.9 656.3 276.9 655.6C277.9 655.0 279.0 654.4 280.1 653.9C281.2 653.5 282.3 653.1 283.3 652.8C284.4 652.5 285.4 652.3 286.4 652.3C287.3 652.2 288.2 652.2 289.0 652.4C289.8 652.5 290.5 652.8 291.1 653.2C291.7 653.5 292.2 654.0 292.5 654.5Z" fill="none" stroke="#4674b2" stroke-width="3.7" stroke-linejoin="round"/><path d="M356.1 707.2C356.2 707.5 356.3 707.8 356.3 708.1C356.3 708.4 356.2 708.8 356.1 709.1C356.0 709.5 355.9 709.9 355.6 710.2C355.4 710.6 355.1 710.9 354.8 711.2C354.5 711.6 354.1 711.9 353.7 712.2C353.3 712.4 352.9 712.7 352.4 712.9C352.0 713.1 351.5 713.3 351.1 713.4C350.6 713.5 350.1 713.6 349.7 713.6C349.2 713.7 348.8 713.7 348.4 713.6C347.9 713.6 347.5 713.5 347.2 713.3C346.9 713.2 346.6 713.0 346.3 712.8C346.1 712.5 345.9 712.3 345.7 712.0C345.6 711.7 345.5 711.4 345.5 711.0C345.5 710.7 345.6 710.3 345.7 710.0C345.8 709.6 345.9 709.3 346.2 708.9C346.4 708.6 346.7 708.2 347.0 707.9C347.3 707.6 347.7 707.3 348.1 707.0C348.5 706.7 348.9 706.5 349.4 706.3C349.8 706.0 350.3 705.9 350.7 705.7C351.2 705.6 351.7 705.5 352.1 705.5C352.6 705.5 353.0 705.5 353.5 705.5C353.9 705.6 354.3 705.7 354.6 705.8C354.9 706.0 355.2 706.2 355.5 706.4C355.7 706.6 355.9 706.9 356.1 707.2Z" fill="none" stroke="#4674b2" stroke-width="3.7" stroke-linejoin="round"/><path d="M386.5 734.0C386.7 734.3 386.7 734.6 386.7 734.9C386.7 735.2 386.7 735.5 386.6 735.9C386.5 736.2 386.3 736.6 386.1 736.9C385.8 737.2 385.5 737.6 385.2 737.9C384.9 738.2 384.5 738.5 384.1 738.8C383.7 739.1 383.3 739.3 382.8 739.5C382.4 739.7 381.9 739.9 381.5 740.0C381.0 740.2 380.5 740.3 380.1 740.3C379.6 740.3 379.2 740.3 378.8 740.3C378.4 740.3 378.0 740.2 377.6 740.0C377.3 739.9 377.0 739.7 376.8 739.5C376.5 739.3 376.3 739.1 376.2 738.8C376.1 738.5 376.0 738.2 376.0 737.9C376.0 737.6 376.1 737.2 376.2 736.9C376.3 736.6 376.5 736.2 376.7 735.9C376.9 735.5 377.2 735.2 377.5 734.9C377.9 734.6 378.2 734.3 378.6 734.0C379.0 733.7 379.5 733.5 379.9 733.3C380.4 733.1 380.8 732.9 381.3 732.7C381.8 732.6 382.2 732.5 382.7 732.5C383.1 732.4 383.6 732.4 384.0 732.5C384.4 732.5 384.8 732.6 385.1 732.7C385.4 732.9 385.7 733.0 386.0 733.3C386.2 733.5 386.4 733.7 386.5 734.0Z" fill="none" stroke="#4674b2" stroke-width="3.7" stroke-linejoin="round"/><path d="M245.3 645.6C249.0 646.4 253.2 647.8 256.4 650.7C259.7 653.5 262.7 658.3 264.6 662.8C266.4 667.4 267.8 672.7 267.6 678.1C267.4 683.5 265.6 689.4 263.5 695.3C261.5 701.3 259.0 707.5 255.4 713.6C251.9 719.7 247.1 726.2 242.2 731.9C237.3 737.7 232.1 742.8 226.0 748.2C219.9 753.6 212.1 760.2 205.6 764.4C199.2 768.7 192.8 771.5 187.4 773.6C181.9 775.6 177.5 777.0 173.1 776.6C168.7 776.3 164.1 774.2 160.9 771.5C157.8 768.8 155.7 764.9 154.4 760.4C153.2 755.8 153.0 749.9 153.2 744.1C153.5 738.4 154.2 731.9 155.9 725.8C157.5 719.7 159.8 713.6 163.0 707.5C166.2 701.4 170.8 695.0 175.2 689.3C179.6 683.5 184.3 678.1 189.4 673.0C194.5 667.9 200.2 662.7 205.6 658.8C211.1 654.9 217.2 651.8 221.9 649.6C226.6 647.4 230.2 646.3 234.1 645.6C238.0 644.9 241.5 644.7 245.3 645.6Z" fill="none" stroke="#e47a1e" stroke-width="3.7" stroke-linejoin="round"/><path d="M237.4 578.6C236.8 580.0 236.0 581.5 235.2 582.8C234.4 584.1 233.5 585.4 232.6 586.5C231.6 587.6 230.6 588.6 229.5 589.4C228.5 590.1 227.4 590.8 226.3 591.2C225.3 591.6 224.2 591.9 223.2 591.9C222.2 591.9 221.2 591.8 220.3 591.4C219.5 591.1 218.6 590.5 217.9 589.8C217.2 589.1 216.6 588.1 216.2 587.1C215.7 586.1 215.3 584.8 215.1 583.6C214.9 582.3 214.9 580.8 214.9 579.4C215.0 577.9 215.2 576.4 215.6 574.9C215.9 573.4 216.4 571.8 217.0 570.4C217.6 568.9 218.3 567.4 219.1 566.1C219.9 564.8 220.8 563.5 221.8 562.4C222.7 561.3 223.8 560.4 224.8 559.6C225.9 558.8 227.0 558.2 228.0 557.7C229.1 557.3 230.2 557.1 231.2 557.0C232.2 557.0 233.2 557.2 234.0 557.5C234.9 557.9 235.7 558.4 236.4 559.2C237.1 559.9 237.7 560.8 238.2 561.8C238.7 562.9 239.0 564.1 239.2 565.4C239.4 566.7 239.5 568.1 239.4 569.6C239.3 571.0 239.1 572.5 238.8 574.1C238.4 575.6 237.9 577.1 237.4 578.6Z" fill="none" stroke="#e47a1e" stroke-width="3.7" stroke-linejoin="round"/>
</g>
<g id="p12">
<g fill="#4674b2" stroke="#fff" stroke-width="1.4"><circle cx="1045.5" cy="712.7" r="7.8"/><circle cx="1054.4" cy="722.1" r="7.8"/><circle cx="1040.0" cy="725.4" r="7.8"/><circle cx="1051.8" cy="745.7" r="7.8"/><circle cx="1038.8" cy="728.5" r="7.8"/><circle cx="1069.8" cy="690.2" r="7.8"/><circle cx="1055.8" cy="716.6" r="7.8"/><circle cx="1050.3" cy="724.1" r="7.8"/><circle cx="1025.4" cy="744.1" r="7.8"/><circle cx="1042.1" cy="743.1" r="7.8"/><circle cx="1067.5" cy="690.6" r="7.8"/><circle cx="1052.8" cy="685.1" r="7.8"/><circle cx="1044.2" cy="723.9" r="7.8"/><circle cx="1071.2" cy="721.9" r="7.8"/><circle cx="1049.8" cy="722.8" r="7.8"/><circle cx="1045.4" cy="737.1" r="7.8"/><circle cx="1058.8" cy="724.0" r="7.8"/><circle cx="1065.8" cy="682.9" r="7.8"/><circle cx="1035.5" cy="718.7" r="7.8"/><circle cx="1037.1" cy="741.2" r="7.8"/><circle cx="1040.0" cy="707.5" r="7.8"/><circle cx="1057.8" cy="712.7" r="7.8"/><circle cx="1074.5" cy="731.8" r="7.8"/><circle cx="1063.2" cy="720.2" r="7.8"/><circle cx="1070.7" cy="700.6" r="7.8"/><circle cx="1031.5" cy="722.6" r="7.8"/><circle cx="1054.7" cy="734.9" r="7.8"/><circle cx="1056.5" cy="691.4" r="7.8"/><circle cx="1063.4" cy="741.4" r="7.8"/><circle cx="1054.2" cy="731.3" r="7.8"/><circle cx="1062.5" cy="687.9" r="7.8"/><circle cx="1037.7" cy="748.6" r="7.8"/><circle cx="1048.2" cy="730.6" r="7.8"/><circle cx="1056.3" cy="748.4" r="7.8"/><circle cx="1069.2" cy="730.7" r="7.8"/><circle cx="1041.2" cy="750.0" r="7.8"/><circle cx="1053.9" cy="753.6" r="7.8"/><circle cx="1076.0" cy="717.8" r="7.8"/><circle cx="1050.6" cy="718.0" r="7.8"/><circle cx="1033.0" cy="746.0" r="7.8"/><circle cx="1049.9" cy="736.3" r="7.8"/><circle cx="1030.9" cy="745.7" r="7.8"/><circle cx="1061.9" cy="701.9" r="7.8"/><circle cx="1046.6" cy="711.8" r="7.8"/><circle cx="1056.5" cy="744.6" r="7.8"/><circle cx="1046.4" cy="738.7" r="7.8"/><circle cx="1045.8" cy="739.3" r="7.8"/><circle cx="1035.5" cy="713.2" r="7.8"/><circle cx="1060.7" cy="746.2" r="7.8"/><circle cx="1046.5" cy="743.0" r="7.8"/><circle cx="1055.7" cy="700.4" r="7.8"/><circle cx="1042.7" cy="731.0" r="7.8"/><circle cx="1028.3" cy="752.0" r="7.8"/><circle cx="1045.7" cy="752.4" r="7.8"/><circle cx="1045.4" cy="695.3" r="7.8"/><circle cx="1066.8" cy="697.1" r="7.8"/><circle cx="1040.3" cy="717.1" r="7.8"/><circle cx="1070.5" cy="714.4" r="7.8"/><circle cx="1063.3" cy="713.2" r="7.8"/><circle cx="1049.3" cy="694.8" r="7.8"/><circle cx="1040.5" cy="735.5" r="7.8"/><circle cx="1059.1" cy="692.1" r="7.8"/><circle cx="1075.9" cy="721.4" r="7.8"/><circle cx="1068.3" cy="722.9" r="7.8"/><circle cx="1035.2" cy="735.7" r="7.8"/><circle cx="1060.4" cy="733.0" r="7.8"/><circle cx="1036.9" cy="725.2" r="7.8"/><circle cx="1060.5" cy="727.1" r="7.8"/><circle cx="1029.7" cy="733.1" r="7.8"/><circle cx="1074.4" cy="726.2" r="7.8"/><circle cx="1059.5" cy="722.5" r="7.8"/><circle cx="1059.1" cy="730.0" r="7.8"/><circle cx="1054.8" cy="684.0" r="7.8"/><circle cx="1075.1" cy="699.4" r="7.8"/><circle cx="1072.6" cy="734.4" r="7.8"/><circle cx="1068.2" cy="686.8" r="7.8"/><circle cx="1056.3" cy="738.0" r="7.8"/><circle cx="1042.7" cy="700.8" r="7.8"/><circle cx="1046.0" cy="715.8" r="7.8"/><circle cx="1063.7" cy="704.4" r="7.8"/><circle cx="1074.3" cy="706.9" r="7.8"/><circle cx="1066.9" cy="729.1" r="7.8"/><circle cx="1056.5" cy="711.1" r="7.8"/><circle cx="1057.2" cy="685.0" r="7.8"/><circle cx="1078.4" cy="708.8" r="7.8"/><circle cx="1034.1" cy="739.9" r="7.8"/><circle cx="1044.9" cy="705.5" r="7.8"/><circle cx="1060.7" cy="680.3" r="7.8"/><circle cx="1035.1" cy="755.4" r="7.8"/><circle cx="1068.9" cy="704.8" r="7.8"/><circle cx="1055.6" cy="695.2" r="7.8"/><circle cx="1030.4" cy="749.1" r="7.8"/><circle cx="1045.6" cy="722.0" r="7.8"/><circle cx="1058.7" cy="749.0" r="7.8"/><circle cx="1051.1" cy="701.6" r="7.8"/><circle cx="1051.2" cy="704.3" r="7.8"/><circle cx="1046.4" cy="692.8" r="7.8"/><circle cx="1068.5" cy="736.8" r="7.8"/><circle cx="1033.5" cy="730.7" r="7.8"/><circle cx="1042.7" cy="756.0" r="7.8"/><circle cx="1036.7" cy="710.8" r="7.8"/><circle cx="1064.4" cy="695.4" r="7.8"/><circle cx="1026.1" cy="738.9" r="7.8"/><circle cx="1058.3" cy="741.1" r="7.8"/><circle cx="1064.1" cy="703.5" r="7.8"/><circle cx="1055.7" cy="704.4" r="7.8"/><circle cx="1064.9" cy="713.3" r="7.8"/><circle cx="1051.1" cy="748.5" r="7.8"/><circle cx="1078.3" cy="708.3" r="7.8"/><circle cx="1069.5" cy="739.1" r="7.8"/><circle cx="1072.7" cy="712.5" r="7.8"/><circle cx="1096.6" cy="533.2" r="7.8"/><circle cx="1120.9" cy="586.3" r="7.8"/><circle cx="1232.1" cy="584.2" r="7.8"/><circle cx="1215.1" cy="631.4" r="7.8"/><circle cx="1140.7" cy="651.9" r="7.8"/><circle cx="1145.9" cy="662.1" r="7.8"/><circle cx="1186.5" cy="657.1" r="7.8"/><circle cx="1232.3" cy="658.5" r="7.8"/><circle cx="1051.5" cy="659.5" r="7.8"/><circle cx="1066.8" cy="665.6" r="7.8"/><circle cx="1105.3" cy="653.1" r="7.8"/><circle cx="1110.5" cy="671.3" r="7.8"/><circle cx="1067.5" cy="681.4" r="7.8"/><circle cx="1034.0" cy="709.3" r="7.8"/><circle cx="1023.1" cy="739.3" r="7.8"/><circle cx="1023.8" cy="731.0" r="7.8"/><circle cx="1067.5" cy="745.2" r="7.8"/><circle cx="1041.5" cy="686.2" r="7.8"/><circle cx="1048.6" cy="677.9" r="7.8"/></g><g fill="#e5812b" stroke="#fff" stroke-width="1.4"><circle cx="1055.5" cy="699.7" r="7.8"/><circle cx="1072.9" cy="703.1" r="7.8"/><circle cx="1062.2" cy="705.8" r="7.8"/><circle cx="1046.9" cy="738.0" r="7.8"/><circle cx="1074.6" cy="701.6" r="7.8"/><circle cx="1051.4" cy="723.1" r="7.8"/><circle cx="1078.4" cy="696.4" r="7.8"/><circle cx="1065.4" cy="725.4" r="7.8"/><circle cx="1060.7" cy="700.9" r="7.8"/><circle cx="1059.2" cy="696.5" r="7.8"/><circle cx="1062.7" cy="706.9" r="7.8"/><circle cx="1060.8" cy="712.6" r="7.8"/><circle cx="1065.1" cy="713.4" r="7.8"/><circle cx="1044.4" cy="707.2" r="7.8"/><circle cx="1075.2" cy="694.2" r="7.8"/><circle cx="1039.0" cy="723.1" r="7.8"/><circle cx="1050.1" cy="718.6" r="7.8"/><circle cx="1059.1" cy="709.1" r="7.8"/><circle cx="1206.1" cy="522.3" r="7.8"/><circle cx="1163.6" cy="550.9" r="7.8"/><circle cx="1163.6" cy="560.6" r="7.8"/><circle cx="1150.9" cy="565.5" r="7.8"/><circle cx="1170.7" cy="570.9" r="7.8"/><circle cx="1139.8" cy="575.9" r="7.8"/><circle cx="1183.7" cy="578.7" r="7.8"/><circle cx="1183.7" cy="592.0" r="7.8"/><circle cx="1163.6" cy="598.1" r="7.8"/><circle cx="1075.3" cy="595.3" r="7.8"/><circle cx="1104.8" cy="606.6" r="7.8"/><circle cx="1071.1" cy="612.5" r="7.8"/><circle cx="1176.8" cy="626.4" r="7.8"/><circle cx="1208.0" cy="632.3" r="7.8"/><circle cx="1115.9" cy="641.3" r="7.8"/><circle cx="1126.5" cy="637.8" r="7.8"/><circle cx="1120.6" cy="649.6" r="7.8"/><circle cx="1101.7" cy="646.5" r="7.8"/><circle cx="1115.9" cy="659.0" r="7.8"/><circle cx="1051.5" cy="649.1" r="7.8"/><circle cx="1097.0" cy="673.2" r="7.8"/><circle cx="1099.4" cy="666.8" r="7.8"/><circle cx="1082.9" cy="669.6" r="7.8"/><circle cx="1060.4" cy="673.2" r="7.8"/><circle cx="1053.3" cy="684.5" r="7.8"/><circle cx="1149.7" cy="680.7" r="7.8"/><circle cx="1122.5" cy="691.6" r="7.8"/><circle cx="1080.0" cy="689.7" r="7.8"/><circle cx="1094.7" cy="700.3" r="7.8"/><circle cx="1106.5" cy="702.0" r="7.8"/><circle cx="1079.3" cy="701.5" r="7.8"/><circle cx="1057.4" cy="694.4" r="7.8"/><circle cx="1074.6" cy="696.3" r="7.8"/><circle cx="1061.6" cy="703.9" r="7.8"/><circle cx="1067.5" cy="705.0" r="7.8"/><circle cx="1081.7" cy="713.3" r="7.8"/><circle cx="1075.8" cy="712.8" r="7.8"/><circle cx="1047.4" cy="709.8" r="7.8"/><circle cx="1051.0" cy="713.3" r="7.8"/><circle cx="1041.5" cy="719.2" r="7.8"/><circle cx="1062.8" cy="719.2" r="7.8"/><circle cx="1045.1" cy="723.9" r="7.8"/><circle cx="1072.2" cy="725.8" r="7.8"/><circle cx="1060.4" cy="727.5" r="7.8"/><circle cx="1037.3" cy="735.7" r="7.8"/><circle cx="1049.8" cy="736.9" r="7.8"/><circle cx="1053.3" cy="739.3" r="7.8"/><circle cx="1060.0" cy="736.2" r="7.8"/><circle cx="1039.6" cy="746.4" r="7.8"/><circle cx="1224.1" cy="671.3" r="7.8"/><circle cx="1254.8" cy="671.3" r="7.8"/></g>
</g>
<g id="p13">
<g fill="#4674b2" stroke="#fff" stroke-width="1.4"><circle cx="1466.3" cy="686.7" r="7.8"/><circle cx="1487.9" cy="704.8" r="7.8"/><circle cx="1483.8" cy="738.5" r="7.8"/><circle cx="1519.0" cy="745.1" r="7.8"/><circle cx="1500.7" cy="712.4" r="7.8"/><circle cx="1509.5" cy="710.3" r="7.8"/><circle cx="1527.0" cy="731.9" r="7.8"/><circle cx="1464.4" cy="707.7" r="7.8"/><circle cx="1518.7" cy="739.6" r="7.8"/><circle cx="1449.1" cy="709.9" r="7.8"/><circle cx="1475.4" cy="693.8" r="7.8"/><circle cx="1509.3" cy="742.9" r="7.8"/><circle cx="1484.3" cy="752.9" r="7.8"/><circle cx="1487.0" cy="743.5" r="7.8"/><circle cx="1493.4" cy="744.3" r="7.8"/><circle cx="1443.6" cy="707.1" r="7.8"/><circle cx="1494.5" cy="751.5" r="7.8"/><circle cx="1464.7" cy="725.5" r="7.8"/><circle cx="1462.5" cy="701.9" r="7.8"/><circle cx="1465.4" cy="754.4" r="7.8"/><circle cx="1508.3" cy="731.2" r="7.8"/><circle cx="1475.4" cy="743.7" r="7.8"/><circle cx="1457.0" cy="697.6" r="7.8"/><circle cx="1470.7" cy="744.7" r="7.8"/><circle cx="1496.5" cy="709.6" r="7.8"/><circle cx="1503.3" cy="725.4" r="7.8"/><circle cx="1518.1" cy="717.2" r="7.8"/><circle cx="1489.5" cy="714.4" r="7.8"/><circle cx="1487.9" cy="720.4" r="7.8"/><circle cx="1476.1" cy="753.7" r="7.8"/><circle cx="1475.6" cy="700.8" r="7.8"/><circle cx="1497.1" cy="747.2" r="7.8"/><circle cx="1460.9" cy="744.4" r="7.8"/><circle cx="1537.5" cy="743.9" r="7.8"/><circle cx="1486.6" cy="727.8" r="7.8"/><circle cx="1492.7" cy="710.0" r="7.8"/><circle cx="1511.9" cy="726.2" r="7.8"/><circle cx="1451.5" cy="709.3" r="7.8"/><circle cx="1467.0" cy="701.5" r="7.8"/><circle cx="1456.7" cy="724.9" r="7.8"/><circle cx="1503.0" cy="745.7" r="7.8"/><circle cx="1479.3" cy="690.6" r="7.8"/><circle cx="1478.2" cy="700.1" r="7.8"/><circle cx="1478.7" cy="722.8" r="7.8"/><circle cx="1488.3" cy="696.6" r="7.8"/><circle cx="1542.8" cy="744.7" r="7.8"/><circle cx="1523.5" cy="741.6" r="7.8"/><circle cx="1512.3" cy="708.4" r="7.8"/><circle cx="1457.2" cy="695.7" r="7.8"/><circle cx="1521.4" cy="732.5" r="7.8"/><circle cx="1497.2" cy="742.8" r="7.8"/><circle cx="1494.7" cy="724.5" r="7.8"/><circle cx="1526.5" cy="738.2" r="7.8"/><circle cx="1464.6" cy="740.0" r="7.8"/><circle cx="1461.7" cy="706.6" r="7.8"/><circle cx="1529.0" cy="725.8" r="7.8"/><circle cx="1466.8" cy="693.8" r="7.8"/><circle cx="1492.9" cy="731.9" r="7.8"/><circle cx="1493.5" cy="716.3" r="7.8"/><circle cx="1478.4" cy="717.8" r="7.8"/><circle cx="1473.8" cy="751.2" r="7.8"/><circle cx="1469.6" cy="703.9" r="7.8"/><circle cx="1451.8" cy="726.5" r="7.8"/><circle cx="1506.6" cy="730.1" r="7.8"/><circle cx="1448.8" cy="725.3" r="7.8"/><circle cx="1510.1" cy="738.2" r="7.8"/><circle cx="1460.0" cy="733.0" r="7.8"/><circle cx="1446.5" cy="725.1" r="7.8"/><circle cx="1525.6" cy="750.9" r="7.8"/><circle cx="1463.7" cy="739.6" r="7.8"/><circle cx="1525.2" cy="720.9" r="7.8"/><circle cx="1473.9" cy="692.8" r="7.8"/><circle cx="1523.8" cy="747.0" r="7.8"/><circle cx="1464.0" cy="729.2" r="7.8"/><circle cx="1486.0" cy="732.9" r="7.8"/><circle cx="1504.8" cy="706.5" r="7.8"/><circle cx="1477.2" cy="705.6" r="7.8"/><circle cx="1515.1" cy="735.9" r="7.8"/><circle cx="1503.9" cy="735.6" r="7.8"/><circle cx="1501.7" cy="710.5" r="7.8"/><circle cx="1491.7" cy="739.5" r="7.8"/><circle cx="1459.0" cy="696.3" r="7.8"/><circle cx="1515.3" cy="721.8" r="7.8"/><circle cx="1510.5" cy="714.2" r="7.8"/><circle cx="1542.8" cy="745.5" r="7.8"/><circle cx="1507.6" cy="719.5" r="7.8"/><circle cx="1467.0" cy="704.0" r="7.8"/><circle cx="1466.0" cy="750.5" r="7.8"/><circle cx="1467.7" cy="717.8" r="7.8"/><circle cx="1490.8" cy="747.5" r="7.8"/><circle cx="1446.8" cy="716.7" r="7.8"/><circle cx="1462.4" cy="715.9" r="7.8"/><circle cx="1533.2" cy="736.5" r="7.8"/><circle cx="1478.5" cy="726.8" r="7.8"/><circle cx="1449.0" cy="701.8" r="7.8"/><circle cx="1472.2" cy="738.9" r="7.8"/><circle cx="1531.6" cy="735.3" r="7.8"/><circle cx="1457.4" cy="702.5" r="7.8"/><circle cx="1512.6" cy="721.3" r="7.8"/><circle cx="1459.9" cy="727.4" r="7.8"/><circle cx="1472.6" cy="687.4" r="7.8"/><circle cx="1522.7" cy="726.0" r="7.8"/><circle cx="1453.8" cy="712.4" r="7.8"/><circle cx="1526.6" cy="721.5" r="7.8"/><circle cx="1497.5" cy="729.8" r="7.8"/><circle cx="1481.6" cy="708.4" r="7.8"/><circle cx="1470.1" cy="688.6" r="7.8"/><circle cx="1447.6" cy="703.3" r="7.8"/><circle cx="1496.7" cy="716.8" r="7.8"/><circle cx="1484.9" cy="734.3" r="7.8"/><circle cx="1498.8" cy="734.6" r="7.8"/><circle cx="1457.8" cy="732.8" r="7.8"/><circle cx="1530.2" cy="744.2" r="7.8"/><circle cx="1495.4" cy="711.5" r="7.8"/><circle cx="1475.4" cy="728.6" r="7.8"/><circle cx="1519.6" cy="723.7" r="7.8"/><circle cx="1472.2" cy="684.6" r="7.8"/><circle cx="1514.3" cy="743.2" r="7.8"/><circle cx="1470.6" cy="723.0" r="7.8"/><circle cx="1502.6" cy="720.0" r="7.8"/><circle cx="1477.9" cy="754.5" r="7.8"/><circle cx="1489.9" cy="752.6" r="7.8"/><circle cx="1481.4" cy="739.8" r="7.8"/><circle cx="1505.5" cy="731.6" r="7.8"/><circle cx="1443.2" cy="706.4" r="7.8"/><circle cx="1545.7" cy="748.6" r="7.8"/><circle cx="1472.7" cy="716.0" r="7.8"/><circle cx="1501.7" cy="703.9" r="7.8"/><circle cx="1484.1" cy="694.8" r="7.8"/><circle cx="1530.2" cy="745.5" r="7.8"/><circle cx="1465.4" cy="682.7" r="7.8"/><circle cx="1504.2" cy="713.2" r="7.8"/><circle cx="1481.5" cy="746.6" r="7.8"/><circle cx="1535.9" cy="747.1" r="7.8"/><circle cx="1491.6" cy="730.0" r="7.8"/><circle cx="1467.4" cy="732.7" r="7.8"/><circle cx="1498.4" cy="739.0" r="7.8"/><circle cx="1477.4" cy="683.5" r="7.8"/><circle cx="1474.8" cy="749.0" r="7.8"/><circle cx="1472.1" cy="735.1" r="7.8"/><circle cx="1458.5" cy="689.6" r="7.8"/><circle cx="1457.6" cy="719.0" r="7.8"/><circle cx="1477.7" cy="713.9" r="7.8"/><circle cx="1506.6" cy="741.2" r="7.8"/><circle cx="1478.4" cy="732.3" r="7.8"/><circle cx="1465.0" cy="690.3" r="7.8"/><circle cx="1534.6" cy="731.5" r="7.8"/><circle cx="1467.3" cy="746.2" r="7.8"/><circle cx="1501.5" cy="726.0" r="7.8"/><circle cx="1459.0" cy="722.2" r="7.8"/><circle cx="1476.2" cy="716.5" r="7.8"/><circle cx="1482.4" cy="705.7" r="7.8"/><circle cx="1448.7" cy="713.7" r="7.8"/><circle cx="1460.2" cy="707.2" r="7.8"/><circle cx="1542.5" cy="738.7" r="7.8"/><circle cx="1487.8" cy="746.5" r="7.8"/><circle cx="1443.2" cy="712.5" r="7.8"/><circle cx="1485.3" cy="709.5" r="7.8"/><circle cx="1525.3" cy="744.3" r="7.8"/><circle cx="1516.5" cy="730.6" r="7.8"/><circle cx="1492.6" cy="700.5" r="7.8"/><circle cx="1506.2" cy="746.4" r="7.8"/><circle cx="1500.6" cy="723.9" r="7.8"/><circle cx="1453.5" cy="698.9" r="7.8"/><circle cx="1465.2" cy="717.8" r="7.8"/><circle cx="1514.1" cy="718.6" r="7.8"/><circle cx="1455.8" cy="736.7" r="7.8"/><circle cx="1515.3" cy="733.1" r="7.8"/><circle cx="1512.9" cy="746.0" r="7.8"/><circle cx="1496.8" cy="701.3" r="7.8"/><circle cx="1470.7" cy="736.7" r="7.8"/><circle cx="1483.1" cy="740.6" r="7.8"/><circle cx="1520.7" cy="714.5" r="7.8"/><circle cx="1469.0" cy="730.6" r="7.8"/><circle cx="1483.6" cy="723.9" r="7.8"/><circle cx="1516.3" cy="712.8" r="7.8"/><circle cx="1477.1" cy="709.7" r="7.8"/><circle cx="1457.3" cy="745.9" r="7.8"/><circle cx="1464.7" cy="713.8" r="7.8"/><circle cx="1484.3" cy="715.2" r="7.8"/><circle cx="1495.2" cy="702.5" r="7.8"/><circle cx="1537.3" cy="733.7" r="7.8"/><circle cx="1446.5" cy="726.0" r="7.8"/><circle cx="1484.2" cy="700.3" r="7.8"/><circle cx="1457.9" cy="743.8" r="7.8"/><circle cx="1487.8" cy="725.4" r="7.8"/><circle cx="1467.4" cy="711.2" r="7.8"/><circle cx="1461.9" cy="746.0" r="7.8"/><circle cx="1453.3" cy="716.3" r="7.8"/><circle cx="1444.0" cy="533.2" r="7.8"/><circle cx="1432.2" cy="584.2" r="7.8"/><circle cx="1435.8" cy="653.1" r="7.8"/><circle cx="1432.2" cy="659.0" r="7.8"/><circle cx="1453.5" cy="659.0" r="7.8"/><circle cx="1464.1" cy="680.7" r="7.8"/><circle cx="1479.4" cy="680.3" r="7.8"/><circle cx="1484.2" cy="699.8" r="7.8"/><circle cx="1481.8" cy="692.1" r="7.8"/><circle cx="1501.2" cy="700.3" r="7.8"/><circle cx="1507.3" cy="699.1" r="7.8"/><circle cx="1508.5" cy="709.1" r="7.8"/><circle cx="1490.1" cy="710.9" r="7.8"/><circle cx="1519.6" cy="712.1" r="7.8"/><circle cx="1525.5" cy="713.3" r="7.8"/><circle cx="1521.5" cy="719.2" r="7.8"/><circle cx="1553.3" cy="713.3" r="7.8"/><circle cx="1541.5" cy="721.6" r="7.8"/><circle cx="1534.9" cy="729.8" r="7.8"/><circle cx="1546.7" cy="734.6" r="7.8"/><circle cx="1560.9" cy="734.6" r="7.8"/><circle cx="1556.2" cy="734.1" r="7.8"/><circle cx="1578.6" cy="732.2" r="7.8"/><circle cx="1585.7" cy="730.3" r="7.8"/><circle cx="1557.4" cy="742.8" r="7.8"/><circle cx="1569.2" cy="749.9" r="7.8"/><circle cx="1526.7" cy="742.1" r="7.8"/><circle cx="1538.5" cy="748.7" r="7.8"/><circle cx="1546.7" cy="748.7" r="7.8"/><circle cx="1529.7" cy="754.6" r="7.8"/><circle cx="1719.8" cy="740.0" r="7.8"/><circle cx="1442.8" cy="703.9" r="7.8"/><circle cx="1442.8" cy="708.6" r="7.8"/><circle cx="1448.7" cy="727.5" r="7.8"/><circle cx="1454.6" cy="734.6" r="7.8"/><circle cx="1459.4" cy="747.5" r="7.8"/><circle cx="1464.1" cy="755.8" r="7.8"/><circle cx="1485.3" cy="755.8" r="7.8"/><circle cx="1494.8" cy="751.1" r="7.8"/><circle cx="1466.5" cy="751.1" r="7.8"/><circle cx="1475.9" cy="747.5" r="7.8"/></g><g fill="#e5812b" stroke="#fff" stroke-width="1.4"><circle cx="1481.1" cy="727.0" r="7.8"/><circle cx="1491.7" cy="738.4" r="7.8"/><circle cx="1488.3" cy="737.2" r="7.8"/><circle cx="1476.2" cy="717.5" r="7.8"/><circle cx="1443.6" cy="697.3" r="7.8"/><circle cx="1455.7" cy="697.2" r="7.8"/><circle cx="1475.9" cy="723.4" r="7.8"/><circle cx="1485.2" cy="739.7" r="7.8"/><circle cx="1451.8" cy="688.7" r="7.8"/><circle cx="1461.3" cy="719.1" r="7.8"/><circle cx="1463.6" cy="702.5" r="7.8"/><circle cx="1462.2" cy="712.2" r="7.8"/><circle cx="1488.9" cy="732.8" r="7.8"/><circle cx="1465.3" cy="717.8" r="7.8"/><circle cx="1443.4" cy="687.6" r="7.8"/><circle cx="1499.9" cy="738.4" r="7.8"/><circle cx="1464.0" cy="705.1" r="7.8"/><circle cx="1475.1" cy="728.9" r="7.8"/><circle cx="1491.8" cy="733.7" r="7.8"/><circle cx="1448.4" cy="704.3" r="7.8"/><circle cx="1435.3" cy="522.3" r="7.8"/><circle cx="1435.3" cy="550.9" r="7.8"/><circle cx="1435.3" cy="570.9" r="7.8"/><circle cx="1435.3" cy="560.6" r="7.8"/><circle cx="1441.7" cy="578.7" r="7.8"/><circle cx="1436.9" cy="576.4" r="7.8"/><circle cx="1436.9" cy="590.5" r="7.8"/><circle cx="1445.2" cy="594.6" r="7.8"/><circle cx="1435.3" cy="597.6" r="7.8"/><circle cx="1446.4" cy="606.6" r="7.8"/><circle cx="1465.7" cy="612.0" r="7.8"/><circle cx="1440.5" cy="626.4" r="7.8"/><circle cx="1434.6" cy="631.9" r="7.8"/><circle cx="1436.9" cy="637.8" r="7.8"/><circle cx="1447.6" cy="650.0" r="7.8"/><circle cx="1441.7" cy="646.0" r="7.8"/><circle cx="1481.3" cy="648.9" r="7.8"/><circle cx="1446.4" cy="659.0" r="7.8"/><circle cx="1434.6" cy="670.8" r="7.8"/><circle cx="1441.7" cy="666.1" r="7.8"/><circle cx="1445.2" cy="669.6" r="7.8"/><circle cx="1449.9" cy="675.5" r="7.8"/><circle cx="1442.8" cy="681.4" r="7.8"/><circle cx="1447.6" cy="689.7" r="7.8"/><circle cx="1468.8" cy="684.5" r="7.8"/><circle cx="1474.7" cy="694.4" r="7.8"/><circle cx="1465.3" cy="700.3" r="7.8"/><circle cx="1454.6" cy="696.3" r="7.8"/><circle cx="1452.3" cy="703.9" r="7.8"/><circle cx="1445.2" cy="713.3" r="7.8"/><circle cx="1457.0" cy="709.8" r="7.8"/><circle cx="1466.5" cy="712.1" r="7.8"/><circle cx="1477.1" cy="708.6" r="7.8"/><circle cx="1473.5" cy="718.5" r="7.8"/><circle cx="1454.6" cy="726.3" r="7.8"/><circle cx="1459.4" cy="723.9" r="7.8"/><circle cx="1466.5" cy="727.5" r="7.8"/><circle cx="1480.6" cy="727.5" r="7.8"/><circle cx="1493.1" cy="726.8" r="7.8"/><circle cx="1506.6" cy="732.2" r="7.8"/><circle cx="1461.7" cy="734.6" r="7.8"/><circle cx="1474.7" cy="735.7" r="7.8"/><circle cx="1487.7" cy="735.3" r="7.8"/><circle cx="1501.4" cy="736.2" r="7.8"/><circle cx="1466.5" cy="741.6" r="7.8"/><circle cx="1496.0" cy="744.0" r="7.8"/><circle cx="1510.1" cy="746.4" r="7.8"/></g>
</g>
<g id="p20">
<path d="M148.8 1180.2C149.4 1176.3 150.8 1170.7 152.8 1166.0C154.9 1161.2 157.6 1156.2 160.9 1151.8C164.3 1147.4 168.7 1143.0 173.1 1139.6C177.5 1136.2 182.6 1133.3 187.4 1131.4C192.1 1129.6 197.5 1129.1 201.6 1128.4C205.6 1127.7 209.0 1128.2 211.7 1127.4C214.4 1126.5 216.5 1125.3 217.8 1123.3C219.2 1121.3 218.8 1117.9 219.9 1115.2C220.9 1112.5 221.9 1109.3 223.9 1107.1C226.0 1104.9 229.3 1102.5 232.1 1102.0C234.8 1101.5 238.1 1102.5 240.2 1104.0C242.2 1105.5 243.7 1108.6 244.2 1111.1C244.8 1113.7 244.2 1116.9 243.2 1119.3C242.2 1121.6 238.7 1123.7 238.1 1125.3C237.6 1127.0 238.1 1128.4 240.2 1129.4C242.2 1130.4 246.6 1130.9 250.3 1131.4C254.1 1132.0 258.5 1132.0 262.5 1132.5C266.6 1133.0 270.7 1134.3 274.7 1134.5C278.8 1134.7 283.7 1133.0 286.9 1133.5C290.1 1134.0 292.8 1135.5 294.0 1137.5C295.2 1139.6 294.5 1142.6 294.0 1145.7C293.5 1148.7 292.2 1152.6 291.0 1155.8C289.8 1159.0 288.9 1162.3 286.9 1165.0C284.9 1167.7 281.0 1169.9 278.8 1172.1C276.6 1174.3 273.9 1176.3 273.7 1178.2C273.5 1180.0 276.1 1181.7 277.8 1183.3C279.5 1184.8 282.3 1185.5 283.9 1187.3C285.4 1189.2 287.1 1192.1 286.9 1194.4C286.7 1196.8 285.0 1199.8 282.8 1201.5C280.6 1203.2 276.6 1204.6 273.7 1204.6C270.8 1204.6 267.6 1203.4 265.6 1201.5C263.5 1199.7 262.4 1196.3 261.5 1193.4C260.7 1190.5 262.4 1185.3 260.5 1184.3C258.6 1183.3 254.1 1186.0 250.3 1187.3C246.6 1188.7 242.2 1190.5 238.1 1192.4C234.1 1194.3 230.4 1196.5 226.0 1198.5C221.6 1200.5 216.5 1203.0 211.7 1204.6C207.0 1206.2 202.6 1207.5 197.5 1208.2C192.4 1209.0 186.7 1209.3 181.3 1209.1C175.8 1208.8 169.6 1208.4 165.0 1206.6C160.4 1204.9 156.5 1201.4 153.8 1198.5C151.1 1195.6 149.6 1192.4 148.8 1189.3C147.9 1186.3 148.1 1184.1 148.8 1180.2Z" fill="none" stroke="#4674b2" stroke-width="3.7" stroke-linejoin="round"/><path d="M151.8 1180.2C152.3 1175.6 154.3 1169.0 156.9 1164.0C159.4 1158.9 163.0 1153.6 167.0 1149.7C171.1 1145.8 176.2 1142.6 181.3 1140.6C186.3 1138.6 192.1 1137.9 197.5 1137.5C202.9 1137.2 209.0 1138.0 213.8 1138.6C218.5 1139.1 222.4 1139.7 226.0 1140.6C229.5 1141.4 232.7 1141.9 235.1 1143.6C237.5 1145.3 238.1 1148.5 240.2 1150.7C242.2 1152.9 244.9 1154.6 247.3 1156.8C249.7 1159.0 253.2 1161.4 254.4 1164.0C255.6 1166.5 255.8 1169.7 254.4 1172.1C253.0 1174.4 249.7 1176.5 246.3 1178.2C242.9 1179.9 238.1 1180.4 234.1 1182.2C230.0 1184.1 226.0 1187.1 221.9 1189.3C217.8 1191.5 214.1 1193.6 209.7 1195.4C205.3 1197.2 200.6 1199.1 195.5 1200.1C190.4 1201.1 184.7 1201.8 179.2 1201.5C173.8 1201.3 167.2 1200.2 163.0 1198.5C158.7 1196.8 155.7 1194.4 153.8 1191.4C152.0 1188.3 151.3 1184.8 151.8 1180.2Z" fill="none" stroke="#4674b2" stroke-width="3.7" stroke-linejoin="round"/><path d="M155.9 1178.2C156.7 1174.8 158.4 1168.0 160.9 1164.0C163.5 1159.9 167.0 1156.5 171.1 1153.8C175.2 1151.1 180.2 1148.9 185.3 1147.7C190.4 1146.5 196.2 1146.3 201.6 1146.7C207.0 1147.0 213.1 1148.0 217.8 1149.7C222.6 1151.4 227.1 1154.1 230.0 1156.8C232.9 1159.5 234.8 1162.8 235.1 1166.0C235.4 1169.2 234.3 1172.9 232.1 1176.1C229.9 1179.4 226.0 1182.6 221.9 1185.3C217.8 1188.0 212.8 1190.5 207.7 1192.4C202.6 1194.3 196.8 1195.8 191.4 1196.5C186.0 1197.1 180.1 1197.3 175.2 1196.5C170.3 1195.6 165.2 1193.4 162.0 1191.4C158.7 1189.3 156.9 1186.5 155.9 1184.3C154.9 1182.1 155.0 1181.6 155.9 1178.2Z" fill="none" stroke="#4674b2" stroke-width="3.7" stroke-linejoin="round"/><path d="M224.9 1172.9C224.2 1174.5 223.3 1176.0 222.2 1177.3C221.1 1178.7 219.6 1179.8 218.3 1180.9C217.1 1182.0 215.9 1183.0 214.6 1183.8C213.4 1184.6 211.9 1185.2 210.7 1185.8C209.5 1186.4 208.4 1186.9 207.4 1187.5C206.3 1188.0 205.5 1188.6 204.4 1189.0C203.4 1189.4 202.3 1189.5 201.4 1189.8C200.4 1190.1 199.5 1190.3 198.6 1190.5C197.7 1190.8 196.8 1191.0 196.0 1191.2C195.1 1191.4 194.3 1191.6 193.5 1191.8C192.6 1192.0 191.8 1192.3 191.0 1192.5C190.1 1192.6 189.2 1192.5 188.4 1192.5C187.5 1192.5 186.7 1192.5 185.8 1192.5C184.9 1192.5 184.0 1192.5 183.1 1192.5C182.2 1192.5 181.2 1192.5 180.2 1192.5C179.2 1192.5 178.1 1192.6 177.1 1192.4C176.1 1192.2 175.2 1191.7 174.2 1191.3C173.2 1191.0 172.2 1190.6 171.1 1190.1C170.0 1189.7 168.7 1189.4 167.7 1188.8C166.6 1188.2 165.7 1187.3 164.8 1186.5C163.9 1185.6 163.0 1184.7 162.4 1183.7C161.8 1182.6 161.4 1181.4 161.3 1180.2C161.1 1179.0 161.3 1177.6 161.5 1176.4C161.8 1175.2 162.4 1174.0 162.7 1172.9C163.1 1171.8 163.5 1170.7 163.9 1169.7C164.3 1168.6 164.5 1167.6 165.1 1166.6C165.6 1165.7 166.3 1164.8 166.9 1164.0C167.6 1163.2 168.4 1162.5 169.2 1161.8C169.9 1161.1 170.6 1160.4 171.3 1159.8C171.9 1159.1 172.5 1158.4 173.3 1157.8C174.0 1157.2 174.9 1156.8 175.7 1156.3C176.5 1155.9 177.4 1155.6 178.2 1155.3C179.0 1154.9 179.8 1154.6 180.6 1154.2C181.5 1153.9 182.3 1153.5 183.1 1153.2C183.9 1152.8 184.8 1152.4 185.6 1152.1C186.5 1151.9 187.5 1151.9 188.4 1151.9C189.3 1151.8 190.2 1151.7 191.2 1151.7C192.1 1151.6 193.1 1151.6 194.1 1151.5C195.1 1151.4 196.2 1151.3 197.3 1151.3C198.4 1151.3 199.6 1151.3 200.7 1151.5C201.9 1151.6 203.0 1151.9 204.3 1152.1C205.6 1152.4 206.9 1152.6 208.3 1152.9C209.8 1153.2 211.6 1153.4 213.0 1154.0C214.4 1154.6 215.6 1155.5 217.0 1156.4C218.4 1157.2 220.3 1158.0 221.6 1159.1C222.8 1160.3 223.7 1161.8 224.5 1163.2C225.3 1164.7 226.3 1166.3 226.4 1167.9C226.5 1169.5 225.6 1171.3 224.9 1172.9Z" fill="none" stroke="#4674b2" stroke-width="3.7" stroke-linejoin="round"/><path d="M220.9 1172.9C220.2 1174.3 219.4 1175.7 218.5 1176.8C217.5 1178.0 216.2 1179.1 215.0 1180.0C213.9 1181.0 212.9 1181.9 211.8 1182.6C210.7 1183.3 209.4 1183.8 208.3 1184.4C207.2 1185.0 206.3 1185.5 205.4 1185.9C204.4 1186.4 203.6 1186.9 202.7 1187.3C201.9 1187.6 200.9 1187.8 200.0 1188.0C199.1 1188.3 198.3 1188.5 197.5 1188.7C196.7 1188.9 195.9 1189.1 195.2 1189.3C194.4 1189.5 193.7 1189.7 192.9 1189.9C192.2 1190.1 191.4 1190.3 190.7 1190.4C189.9 1190.5 189.1 1190.5 188.4 1190.5C187.6 1190.5 186.8 1190.5 186.1 1190.5C185.3 1190.5 184.5 1190.5 183.6 1190.5C182.8 1190.5 182.0 1190.5 181.1 1190.5C180.2 1190.5 179.2 1190.6 178.3 1190.4C177.4 1190.2 176.6 1189.8 175.7 1189.5C174.8 1189.1 173.8 1188.8 172.9 1188.4C171.9 1188.0 170.7 1187.7 169.8 1187.2C168.8 1186.6 168.0 1185.9 167.2 1185.1C166.4 1184.3 165.6 1183.5 165.0 1182.6C164.5 1181.6 164.1 1180.5 164.0 1179.4C163.8 1178.3 164.0 1177.2 164.2 1176.1C164.4 1175.0 164.9 1173.9 165.3 1172.9C165.6 1171.9 166.0 1170.9 166.3 1170.0C166.7 1169.0 166.9 1168.1 167.4 1167.3C167.9 1166.4 168.5 1165.6 169.1 1164.9C169.7 1164.2 170.5 1163.6 171.1 1162.9C171.8 1162.3 172.4 1161.7 173.0 1161.1C173.6 1160.5 174.2 1159.9 174.8 1159.4C175.5 1158.8 176.3 1158.4 177.0 1158.1C177.7 1157.7 178.5 1157.4 179.3 1157.1C180.0 1156.8 180.7 1156.5 181.4 1156.2C182.2 1155.9 182.9 1155.6 183.6 1155.2C184.4 1154.9 185.1 1154.5 185.9 1154.3C186.7 1154.1 187.6 1154.2 188.4 1154.1C189.2 1154.0 190.0 1154.0 190.9 1153.9C191.7 1153.8 192.6 1153.8 193.5 1153.8C194.4 1153.7 195.4 1153.6 196.4 1153.6C197.4 1153.6 198.4 1153.6 199.4 1153.7C200.5 1153.9 201.5 1154.1 202.6 1154.3C203.7 1154.6 204.9 1154.8 206.2 1155.1C207.5 1155.3 209.1 1155.5 210.3 1156.0C211.6 1156.5 212.6 1157.4 213.9 1158.2C215.1 1158.9 216.8 1159.6 217.9 1160.7C219.0 1161.7 219.8 1163.0 220.5 1164.3C221.2 1165.6 222.1 1167.0 222.1 1168.4C222.2 1169.9 221.5 1171.5 220.9 1172.9Z" fill="none" stroke="#4674b2" stroke-width="3.7" stroke-linejoin="round"/><path d="M216.8 1172.9C216.2 1174.1 215.5 1175.3 214.7 1176.4C213.9 1177.4 212.7 1178.3 211.8 1179.2C210.8 1180.0 209.9 1180.8 208.9 1181.4C207.9 1182.0 206.8 1182.5 205.9 1183.0C205.0 1183.5 204.2 1184.0 203.3 1184.4C202.5 1184.8 201.8 1185.2 201.0 1185.6C200.3 1185.9 199.4 1186.1 198.6 1186.3C197.9 1186.5 197.2 1186.7 196.4 1186.9C195.7 1187.1 195.1 1187.2 194.4 1187.4C193.7 1187.6 193.1 1187.8 192.4 1187.9C191.7 1188.1 191.1 1188.3 190.4 1188.4C189.7 1188.5 189.1 1188.5 188.4 1188.5C187.7 1188.5 187.0 1188.5 186.3 1188.5C185.6 1188.5 184.9 1188.5 184.2 1188.5C183.4 1188.5 182.7 1188.5 181.9 1188.5C181.1 1188.5 180.2 1188.6 179.4 1188.4C178.6 1188.3 177.9 1187.9 177.1 1187.6C176.3 1187.3 175.5 1187.0 174.6 1186.7C173.7 1186.3 172.7 1186.1 171.9 1185.6C171.0 1185.1 170.3 1184.4 169.6 1183.7C168.9 1183.1 168.1 1182.3 167.7 1181.5C167.2 1180.6 166.8 1179.7 166.7 1178.7C166.6 1177.7 166.7 1176.7 166.9 1175.7C167.1 1174.8 167.5 1173.8 167.8 1172.9C168.1 1172.0 168.4 1171.1 168.7 1170.3C169.1 1169.5 169.3 1168.6 169.7 1167.9C170.2 1167.1 170.7 1166.4 171.3 1165.8C171.8 1165.2 172.5 1164.6 173.1 1164.0C173.6 1163.5 174.2 1163.0 174.8 1162.4C175.3 1161.9 175.8 1161.4 176.4 1160.9C177.0 1160.5 177.7 1160.1 178.3 1159.8C179.0 1159.4 179.7 1159.2 180.3 1158.9C181.0 1158.7 181.6 1158.4 182.3 1158.1C182.9 1157.8 183.5 1157.6 184.2 1157.3C184.9 1157.0 185.5 1156.7 186.2 1156.5C186.9 1156.3 187.6 1156.4 188.4 1156.3C189.1 1156.2 189.8 1156.2 190.6 1156.1C191.3 1156.1 192.1 1156.0 192.9 1156.0C193.7 1156.0 194.6 1155.9 195.4 1155.9C196.3 1155.9 197.2 1155.9 198.1 1156.0C199.0 1156.1 199.9 1156.3 200.9 1156.5C201.9 1156.7 203.0 1156.9 204.1 1157.2C205.2 1157.4 206.6 1157.6 207.7 1158.1C208.8 1158.5 209.7 1159.3 210.8 1160.0C211.9 1160.6 213.3 1161.3 214.3 1162.2C215.2 1163.1 215.9 1164.2 216.5 1165.4C217.1 1166.5 217.8 1167.8 217.9 1169.0C217.9 1170.3 217.3 1171.7 216.8 1172.9Z" fill="none" stroke="#4674b2" stroke-width="3.7" stroke-linejoin="round"/><path d="M212.7 1172.9C212.2 1173.9 211.6 1175.0 210.9 1175.9C210.2 1176.8 209.3 1177.5 208.5 1178.3C207.7 1179.0 206.9 1179.7 206.1 1180.2C205.2 1180.8 204.3 1181.2 203.5 1181.6C202.7 1182.1 202.0 1182.5 201.3 1182.8C200.6 1183.2 200.0 1183.6 199.3 1183.9C198.7 1184.1 197.9 1184.3 197.3 1184.5C196.6 1184.7 196.0 1184.9 195.4 1185.0C194.8 1185.2 194.2 1185.4 193.6 1185.5C193.0 1185.7 192.5 1185.8 191.9 1186.0C191.3 1186.1 190.7 1186.3 190.2 1186.4C189.6 1186.5 189.0 1186.4 188.4 1186.5C187.8 1186.5 187.2 1186.5 186.6 1186.5C186.0 1186.6 185.4 1186.5 184.7 1186.5C184.1 1186.5 183.4 1186.6 182.7 1186.5C182.0 1186.5 181.3 1186.6 180.6 1186.4C179.9 1186.3 179.2 1186.0 178.5 1185.7C177.8 1185.5 177.1 1185.2 176.3 1184.9C175.6 1184.6 174.7 1184.4 173.9 1184.0C173.2 1183.5 172.6 1183.0 172.0 1182.4C171.4 1181.8 170.7 1181.1 170.3 1180.4C169.9 1179.7 169.5 1178.8 169.4 1178.0C169.3 1177.1 169.4 1176.2 169.6 1175.4C169.7 1174.5 170.1 1173.7 170.3 1172.9C170.6 1172.1 170.9 1171.4 171.2 1170.6C171.5 1169.9 171.7 1169.2 172.1 1168.5C172.5 1167.9 172.9 1167.3 173.4 1166.7C173.9 1166.1 174.5 1165.7 175.0 1165.2C175.5 1164.7 176.0 1164.2 176.5 1163.8C177.0 1163.3 177.4 1162.9 178.0 1162.5C178.5 1162.1 179.1 1161.8 179.6 1161.5C180.2 1161.2 180.8 1161.0 181.4 1160.8C181.9 1160.5 182.5 1160.3 183.1 1160.1C183.6 1159.8 184.2 1159.6 184.7 1159.4C185.3 1159.1 185.9 1158.8 186.5 1158.7C187.1 1158.6 187.7 1158.6 188.4 1158.5C189.0 1158.4 189.6 1158.4 190.3 1158.3C190.9 1158.3 191.6 1158.3 192.3 1158.2C193.0 1158.2 193.7 1158.1 194.5 1158.1C195.2 1158.1 196.0 1158.2 196.8 1158.3C197.6 1158.4 198.4 1158.6 199.2 1158.7C200.1 1158.9 201.0 1159.1 202.0 1159.3C202.9 1159.5 204.1 1159.7 205.0 1160.1C206.0 1160.5 206.7 1161.2 207.7 1161.7C208.6 1162.3 209.8 1162.9 210.6 1163.7C211.4 1164.5 212.0 1165.5 212.5 1166.4C213.0 1167.4 213.6 1168.5 213.6 1169.6C213.6 1170.6 213.1 1171.8 212.7 1172.9Z" fill="none" stroke="#4674b2" stroke-width="3.7" stroke-linejoin="round"/><path d="M208.6 1172.9C208.2 1173.8 207.7 1174.6 207.2 1175.4C206.6 1176.1 205.8 1176.8 205.2 1177.4C204.5 1178.0 203.9 1178.6 203.2 1179.0C202.5 1179.5 201.8 1179.9 201.1 1180.3C200.5 1180.6 199.9 1181.0 199.3 1181.3C198.7 1181.6 198.2 1181.9 197.6 1182.2C197.1 1182.4 196.5 1182.6 195.9 1182.7C195.4 1182.9 194.8 1183.0 194.3 1183.2C193.8 1183.3 193.3 1183.5 192.8 1183.6C192.3 1183.8 191.9 1183.9 191.4 1184.0C190.9 1184.2 190.4 1184.3 189.9 1184.4C189.4 1184.4 188.9 1184.4 188.4 1184.5C187.9 1184.5 187.4 1184.5 186.8 1184.5C186.3 1184.6 185.8 1184.5 185.3 1184.5C184.7 1184.5 184.1 1184.6 183.5 1184.5C183.0 1184.5 182.3 1184.6 181.7 1184.4C181.1 1184.3 180.6 1184.1 179.9 1183.9C179.3 1183.7 178.7 1183.4 178.1 1183.2C177.4 1182.9 176.7 1182.7 176.0 1182.3C175.4 1182.0 174.9 1181.5 174.4 1181.0C173.8 1180.5 173.3 1179.9 172.9 1179.3C172.5 1178.7 172.3 1177.9 172.2 1177.2C172.0 1176.5 172.1 1175.7 172.2 1175.0C172.4 1174.3 172.6 1173.6 172.9 1172.9C173.1 1172.2 173.3 1171.6 173.6 1170.9C173.8 1170.3 174.1 1169.7 174.4 1169.1C174.7 1168.6 175.2 1168.1 175.6 1167.6C176.0 1167.1 176.5 1166.7 177.0 1166.3C177.4 1165.9 177.8 1165.5 178.3 1165.1C178.7 1164.7 179.1 1164.4 179.5 1164.0C180.0 1163.7 180.5 1163.4 180.9 1163.2C181.4 1163.0 181.9 1162.8 182.4 1162.6C182.9 1162.4 183.4 1162.2 183.9 1162.0C184.3 1161.8 184.8 1161.6 185.3 1161.4C185.8 1161.2 186.3 1161.0 186.8 1160.9C187.3 1160.8 187.8 1160.8 188.4 1160.7C188.9 1160.7 189.4 1160.6 190.0 1160.6C190.6 1160.5 191.1 1160.5 191.7 1160.5C192.3 1160.5 192.9 1160.4 193.5 1160.4C194.2 1160.4 194.8 1160.4 195.5 1160.5C196.2 1160.6 196.8 1160.8 197.6 1160.9C198.3 1161.1 199.0 1161.2 199.8 1161.4C200.6 1161.6 201.6 1161.8 202.4 1162.1C203.2 1162.5 203.8 1163.0 204.6 1163.5C205.3 1164.1 206.3 1164.5 206.9 1165.2C207.6 1165.9 208.0 1166.7 208.4 1167.5C208.8 1168.3 209.3 1169.2 209.3 1170.1C209.3 1171.0 208.9 1172.0 208.6 1172.9Z" fill="none" stroke="#4674b2" stroke-width="3.7" stroke-linejoin="round"/><path d="M204.5 1172.9C204.2 1173.6 203.9 1174.3 203.4 1174.9C203.0 1175.5 202.4 1176.0 201.9 1176.5C201.4 1177.0 200.9 1177.5 200.4 1177.9C199.8 1178.2 199.3 1178.6 198.7 1178.9C198.2 1179.2 197.8 1179.5 197.3 1179.7C196.8 1180.0 196.4 1180.2 195.9 1180.4C195.5 1180.7 195.0 1180.8 194.6 1181.0C194.1 1181.1 193.7 1181.2 193.3 1181.4C192.8 1181.5 192.4 1181.6 192.0 1181.7C191.6 1181.9 191.2 1182.0 190.8 1182.1C190.4 1182.2 190.0 1182.3 189.6 1182.4C189.2 1182.4 188.8 1182.4 188.4 1182.5C188.0 1182.5 187.5 1182.5 187.1 1182.6C186.7 1182.6 186.2 1182.6 185.8 1182.5C185.3 1182.5 184.9 1182.6 184.4 1182.5C183.9 1182.5 183.4 1182.5 182.9 1182.4C182.4 1182.4 181.9 1182.2 181.4 1182.0C180.9 1181.8 180.4 1181.7 179.8 1181.4C179.3 1181.2 178.7 1181.0 178.1 1180.7C177.6 1180.4 177.2 1180.0 176.7 1179.6C176.3 1179.2 175.9 1178.7 175.5 1178.2C175.2 1177.7 175.0 1177.1 174.9 1176.5C174.8 1175.9 174.8 1175.3 174.9 1174.7C175.0 1174.1 175.2 1173.5 175.4 1172.9C175.6 1172.3 175.8 1171.8 176.0 1171.3C176.2 1170.7 176.5 1170.2 176.8 1169.8C177.0 1169.3 177.4 1168.9 177.8 1168.5C178.1 1168.1 178.5 1167.8 178.9 1167.4C179.3 1167.1 179.6 1166.8 180.0 1166.5C180.4 1166.2 180.7 1165.9 181.1 1165.6C181.5 1165.4 181.9 1165.1 182.3 1164.9C182.7 1164.7 183.1 1164.6 183.5 1164.4C183.9 1164.3 184.3 1164.1 184.7 1163.9C185.1 1163.8 185.4 1163.6 185.9 1163.5C186.3 1163.3 186.7 1163.2 187.1 1163.1C187.5 1163.0 187.9 1163.0 188.4 1162.9C188.8 1162.9 189.3 1162.8 189.7 1162.8C190.2 1162.7 190.6 1162.7 191.1 1162.7C191.6 1162.7 192.1 1162.7 192.6 1162.7C193.1 1162.7 193.7 1162.7 194.2 1162.8C194.8 1162.9 195.3 1163.0 195.9 1163.1C196.5 1163.2 197.1 1163.4 197.7 1163.6C198.3 1163.7 199.1 1163.9 199.7 1164.2C200.3 1164.5 200.9 1164.9 201.5 1165.3C202.0 1165.8 202.8 1166.2 203.3 1166.7C203.8 1167.3 204.1 1167.9 204.4 1168.6C204.7 1169.2 205.0 1170.0 205.0 1170.7C205.1 1171.4 204.8 1172.2 204.5 1172.9Z" fill="none" stroke="#4674b2" stroke-width="3.7" stroke-linejoin="round"/><path d="M200.4 1172.9C200.2 1173.4 200.0 1173.9 199.7 1174.4C199.4 1174.8 199.0 1175.2 198.6 1175.6C198.2 1176.0 197.9 1176.4 197.5 1176.7C197.1 1177.0 196.7 1177.2 196.3 1177.5C196.0 1177.7 195.6 1178.0 195.3 1178.2C194.9 1178.4 194.6 1178.6 194.2 1178.7C193.9 1178.9 193.6 1179.1 193.2 1179.2C192.9 1179.3 192.5 1179.4 192.2 1179.5C191.9 1179.6 191.6 1179.7 191.3 1179.8C190.9 1179.9 190.6 1180.1 190.3 1180.1C190.0 1180.2 189.7 1180.3 189.4 1180.3C189.0 1180.4 188.7 1180.4 188.4 1180.4C188.0 1180.5 187.7 1180.5 187.4 1180.6C187.0 1180.6 186.7 1180.6 186.3 1180.6C186.0 1180.6 185.6 1180.6 185.2 1180.6C184.8 1180.5 184.4 1180.5 184.0 1180.5C183.6 1180.4 183.2 1180.3 182.8 1180.1C182.4 1180.0 182.0 1179.9 181.6 1179.7C181.1 1179.5 180.7 1179.4 180.2 1179.1C179.8 1178.9 179.5 1178.6 179.1 1178.2C178.8 1177.9 178.4 1177.5 178.2 1177.1C177.9 1176.7 177.7 1176.2 177.6 1175.8C177.5 1175.3 177.5 1174.8 177.6 1174.3C177.6 1173.8 177.8 1173.3 177.9 1172.9C178.1 1172.4 178.2 1172.0 178.4 1171.6C178.6 1171.2 178.8 1170.8 179.1 1170.4C179.3 1170.0 179.6 1169.7 179.9 1169.4C180.2 1169.1 180.5 1168.8 180.8 1168.5C181.2 1168.3 181.5 1168.0 181.8 1167.8C182.1 1167.6 182.4 1167.4 182.7 1167.2C183.0 1167.0 183.3 1166.8 183.6 1166.6C183.9 1166.5 184.2 1166.4 184.5 1166.3C184.9 1166.1 185.2 1166.0 185.5 1165.9C185.8 1165.8 186.1 1165.6 186.4 1165.5C186.7 1165.4 187.0 1165.3 187.4 1165.3C187.7 1165.2 188.0 1165.2 188.4 1165.1C188.7 1165.1 189.1 1165.0 189.4 1165.0C189.8 1165.0 190.1 1165.0 190.5 1165.0C190.9 1165.0 191.3 1164.9 191.7 1164.9C192.1 1165.0 192.5 1165.0 192.9 1165.0C193.3 1165.1 193.7 1165.2 194.2 1165.3C194.6 1165.4 195.1 1165.5 195.6 1165.7C196.1 1165.8 196.6 1166.0 197.1 1166.2C197.5 1166.5 197.9 1166.8 198.3 1167.1C198.8 1167.5 199.3 1167.8 199.6 1168.2C199.9 1168.7 200.2 1169.2 200.4 1169.7C200.6 1170.2 200.8 1170.7 200.8 1171.3C200.8 1171.8 200.6 1172.4 200.4 1172.9Z" fill="none" stroke="#4674b2" stroke-width="3.7" stroke-linejoin="round"/><path d="M196.3 1172.9C196.2 1173.2 196.1 1173.6 195.9 1173.9C195.7 1174.2 195.5 1174.5 195.3 1174.7C195.1 1175.0 194.9 1175.3 194.6 1175.5C194.4 1175.7 194.2 1175.9 194.0 1176.1C193.7 1176.3 193.5 1176.5 193.2 1176.6C193.0 1176.8 192.8 1176.9 192.5 1177.0C192.3 1177.2 192.1 1177.3 191.9 1177.4C191.6 1177.5 191.4 1177.6 191.1 1177.7C190.9 1177.8 190.7 1177.9 190.5 1177.9C190.2 1178.0 190.0 1178.1 189.8 1178.2C189.6 1178.2 189.3 1178.3 189.1 1178.3C188.9 1178.4 188.6 1178.4 188.4 1178.4C188.1 1178.5 187.9 1178.5 187.6 1178.6C187.4 1178.6 187.1 1178.6 186.9 1178.6C186.6 1178.6 186.3 1178.6 186.0 1178.6C185.7 1178.5 185.5 1178.5 185.2 1178.5C184.9 1178.4 184.6 1178.4 184.2 1178.3C183.9 1178.2 183.6 1178.1 183.3 1178.0C183.0 1177.8 182.6 1177.7 182.3 1177.5C182.0 1177.3 181.8 1177.1 181.5 1176.8C181.3 1176.6 181.0 1176.3 180.8 1176.0C180.6 1175.7 180.4 1175.4 180.3 1175.0C180.2 1174.7 180.2 1174.3 180.3 1174.0C180.3 1173.6 180.4 1173.2 180.5 1172.9C180.6 1172.5 180.7 1172.2 180.8 1171.9C181.0 1171.6 181.2 1171.3 181.4 1171.0C181.6 1170.8 181.9 1170.5 182.1 1170.3C182.3 1170.1 182.6 1169.9 182.8 1169.7C183.0 1169.5 183.3 1169.3 183.5 1169.2C183.7 1169.0 184.0 1168.9 184.2 1168.7C184.5 1168.6 184.7 1168.5 184.9 1168.3C185.1 1168.2 185.4 1168.2 185.6 1168.1C185.8 1168.0 186.1 1167.9 186.3 1167.8C186.5 1167.8 186.7 1167.7 187.0 1167.6C187.2 1167.5 187.4 1167.5 187.7 1167.5C187.9 1167.4 188.1 1167.4 188.4 1167.3C188.6 1167.3 188.9 1167.2 189.1 1167.2C189.4 1167.2 189.6 1167.2 189.9 1167.2C190.2 1167.2 190.4 1167.2 190.7 1167.2C191.0 1167.2 191.3 1167.3 191.6 1167.3C191.9 1167.4 192.2 1167.4 192.5 1167.5C192.8 1167.6 193.1 1167.7 193.5 1167.8C193.8 1167.9 194.1 1168.1 194.4 1168.3C194.7 1168.5 195.0 1168.7 195.2 1168.9C195.5 1169.2 195.7 1169.5 195.9 1169.8C196.1 1170.1 196.3 1170.4 196.4 1170.7C196.5 1171.1 196.5 1171.5 196.5 1171.8C196.5 1172.2 196.4 1172.5 196.3 1172.9Z" fill="none" stroke="#4674b2" stroke-width="3.7" stroke-linejoin="round"/><path d="M189.3 969.8C189.5 970.1 189.5 970.4 189.4 970.7C189.3 971.0 189.0 971.4 188.7 971.7C188.5 971.9 188.0 972.2 187.6 972.4C187.2 972.6 186.8 972.7 186.4 972.8C185.9 972.8 185.5 972.8 185.2 972.7C184.9 972.5 184.7 972.3 184.6 972.1C184.4 971.8 184.4 971.5 184.5 971.2C184.6 970.9 184.9 970.5 185.2 970.2C185.4 969.9 185.9 969.7 186.3 969.5C186.7 969.3 187.2 969.2 187.6 969.1C188.0 969.1 188.4 969.1 188.7 969.2C189.0 969.4 189.2 969.6 189.3 969.8Z" fill="none" stroke="#4674b2" stroke-width="3.7" stroke-linejoin="round"/><path d="M357.8 969.4C357.9 969.7 357.9 970.0 357.8 970.3C357.7 970.6 357.5 971.0 357.2 971.3C356.9 971.5 356.5 971.8 356.1 972.0C355.7 972.2 355.2 972.3 354.8 972.4C354.4 972.4 353.9 972.4 353.6 972.2C353.3 972.1 353.1 971.9 353.0 971.7C352.9 971.4 352.9 971.1 353.0 970.8C353.1 970.5 353.3 970.1 353.6 969.8C353.9 969.5 354.3 969.3 354.7 969.1C355.1 968.9 355.6 968.7 356.0 968.7C356.4 968.7 356.8 968.7 357.1 968.8C357.4 969.0 357.7 969.2 357.8 969.4Z" fill="none" stroke="#4674b2" stroke-width="3.7" stroke-linejoin="round"/><path d="M324.2 988.5C324.4 988.8 324.4 989.1 324.3 989.4C324.2 989.7 323.9 990.1 323.6 990.4C323.4 990.6 322.9 990.9 322.5 991.1C322.1 991.3 321.7 991.4 321.2 991.5C320.8 991.5 320.4 991.5 320.1 991.3C319.8 991.2 319.6 991.0 319.5 990.8C319.3 990.5 319.3 990.2 319.4 989.9C319.5 989.6 319.8 989.2 320.1 988.9C320.3 988.6 320.8 988.4 321.2 988.2C321.6 988.0 322.1 987.8 322.5 987.8C322.9 987.8 323.3 987.8 323.6 987.9C323.9 988.1 324.1 988.3 324.2 988.5Z" fill="none" stroke="#4674b2" stroke-width="3.7" stroke-linejoin="round"/><path d="M393.3 995.8C393.4 996.1 393.4 996.4 393.3 996.7C393.2 997.0 393.0 997.4 392.7 997.7C392.4 998.0 392.0 998.2 391.6 998.4C391.2 998.6 390.7 998.7 390.3 998.8C389.9 998.8 389.5 998.8 389.2 998.7C388.9 998.5 388.6 998.3 388.5 998.1C388.4 997.8 388.4 997.5 388.5 997.2C388.6 996.9 388.8 996.5 389.1 996.2C389.4 996.0 389.8 995.7 390.2 995.5C390.6 995.3 391.1 995.2 391.5 995.1C391.9 995.1 392.4 995.1 392.7 995.2C393.0 995.4 393.2 995.6 393.3 995.8Z" fill="none" stroke="#4674b2" stroke-width="3.7" stroke-linejoin="round"/><path d="M287.9 1019.6C288.0 1019.9 288.0 1020.2 287.9 1020.5C287.8 1020.8 287.6 1021.2 287.3 1021.4C287.0 1021.7 286.6 1022.0 286.2 1022.2C285.8 1022.4 285.3 1022.5 284.9 1022.6C284.5 1022.6 284.1 1022.5 283.8 1022.4C283.5 1022.3 283.2 1022.1 283.1 1021.8C283.0 1021.6 283.0 1021.3 283.1 1021.0C283.2 1020.6 283.4 1020.3 283.7 1020.0C284.0 1019.7 284.4 1019.4 284.8 1019.2C285.2 1019.1 285.7 1018.9 286.1 1018.9C286.5 1018.9 286.9 1018.9 287.2 1019.0C287.5 1019.1 287.8 1019.4 287.9 1019.6Z" fill="none" stroke="#4674b2" stroke-width="3.7" stroke-linejoin="round"/><path d="M174.5 1090.7C174.6 1091.0 174.6 1091.3 174.5 1091.6C174.4 1091.9 174.2 1092.3 173.9 1092.5C173.6 1092.8 173.2 1093.1 172.8 1093.3C172.4 1093.5 171.9 1093.6 171.5 1093.7C171.1 1093.7 170.7 1093.7 170.4 1093.5C170.1 1093.4 169.8 1093.2 169.7 1092.9C169.6 1092.7 169.6 1092.4 169.7 1092.1C169.8 1091.8 170.0 1091.4 170.3 1091.1C170.6 1090.8 171.0 1090.5 171.4 1090.4C171.8 1090.2 172.3 1090.0 172.7 1090.0C173.1 1090.0 173.6 1090.0 173.9 1090.1C174.2 1090.2 174.4 1090.5 174.5 1090.7Z" fill="none" stroke="#4674b2" stroke-width="3.7" stroke-linejoin="round"/><path d="M199.9 1101.5C200.0 1101.7 200.0 1102.1 199.9 1102.4C199.8 1102.7 199.6 1103.0 199.3 1103.3C199.0 1103.6 198.6 1103.9 198.2 1104.1C197.8 1104.3 197.3 1104.4 196.9 1104.4C196.5 1104.5 196.1 1104.4 195.8 1104.3C195.5 1104.2 195.2 1104.0 195.1 1103.7C195.0 1103.5 195.0 1103.1 195.1 1102.8C195.2 1102.5 195.4 1102.2 195.7 1101.9C196.0 1101.6 196.4 1101.3 196.8 1101.1C197.2 1100.9 197.7 1100.8 198.1 1100.8C198.5 1100.7 198.9 1100.8 199.2 1100.9C199.5 1101.0 199.8 1101.2 199.9 1101.5Z" fill="none" stroke="#4674b2" stroke-width="3.7" stroke-linejoin="round"/><path d="M302.5 1165.3C302.6 1165.5 302.6 1165.9 302.5 1166.2C302.4 1166.5 302.2 1166.8 301.9 1167.1C301.6 1167.4 301.2 1167.7 300.8 1167.9C300.4 1168.0 299.9 1168.2 299.5 1168.2C299.1 1168.3 298.7 1168.2 298.4 1168.1C298.1 1168.0 297.8 1167.7 297.7 1167.5C297.6 1167.3 297.6 1166.9 297.7 1166.6C297.8 1166.3 298.0 1166.0 298.3 1165.7C298.6 1165.4 299.0 1165.1 299.4 1164.9C299.8 1164.7 300.3 1164.6 300.7 1164.6C301.1 1164.5 301.5 1164.6 301.8 1164.7C302.1 1164.8 302.4 1165.0 302.5 1165.3Z" fill="none" stroke="#4674b2" stroke-width="3.7" stroke-linejoin="round"/><path d="M383.8 1175.4C383.9 1175.7 383.9 1176.0 383.8 1176.3C383.7 1176.6 383.5 1177.0 383.2 1177.3C382.9 1177.5 382.5 1177.8 382.1 1178.0C381.7 1178.2 381.2 1178.3 380.8 1178.4C380.4 1178.4 379.9 1178.4 379.6 1178.2C379.3 1178.1 379.1 1177.9 379.0 1177.7C378.9 1177.4 378.9 1177.1 379.0 1176.8C379.1 1176.5 379.3 1176.1 379.6 1175.8C379.9 1175.5 380.3 1175.3 380.7 1175.1C381.1 1174.9 381.6 1174.8 382.0 1174.7C382.4 1174.7 382.8 1174.7 383.1 1174.8C383.4 1175.0 383.7 1175.2 383.8 1175.4Z" fill="none" stroke="#4674b2" stroke-width="3.7" stroke-linejoin="round"/><path d="M237.4 1063.1C237.6 1063.6 237.6 1064.2 237.6 1064.9C237.5 1065.5 237.3 1066.1 236.9 1066.8C236.6 1067.5 236.1 1068.2 235.5 1068.8C234.9 1069.5 234.1 1070.1 233.3 1070.7C232.5 1071.3 231.6 1071.9 230.7 1072.4C229.7 1072.9 228.7 1073.4 227.6 1073.7C226.6 1074.1 225.5 1074.4 224.5 1074.7C223.4 1074.9 222.3 1075.0 221.3 1075.1C220.3 1075.1 219.3 1075.1 218.5 1075.0C217.6 1074.9 216.8 1074.7 216.1 1074.4C215.4 1074.1 214.8 1073.7 214.3 1073.3C213.9 1072.9 213.5 1072.4 213.3 1071.8C213.1 1071.3 213.1 1070.7 213.1 1070.0C213.2 1069.4 213.4 1068.7 213.8 1068.1C214.1 1067.4 214.6 1066.7 215.2 1066.1C215.8 1065.4 216.6 1064.8 217.4 1064.2C218.2 1063.6 219.1 1063.0 220.0 1062.5C221.0 1062.0 222.0 1061.5 223.1 1061.1C224.1 1060.8 225.2 1060.5 226.2 1060.2C227.3 1060.0 228.4 1059.9 229.4 1059.8C230.4 1059.7 231.4 1059.8 232.2 1059.9C233.1 1060.0 233.9 1060.2 234.6 1060.5C235.3 1060.8 235.9 1061.2 236.4 1061.6C236.8 1062.0 237.2 1062.5 237.4 1063.1Z" fill="none" stroke="#4674b2" stroke-width="3.7" stroke-linejoin="round"/><path d="M314.3 1178.2C315.5 1176.5 317.9 1173.6 320.4 1172.1C323.0 1170.6 326.4 1170.2 329.6 1169.0C332.8 1167.8 336.3 1166.2 339.7 1165.0C343.1 1163.8 346.8 1162.3 349.9 1161.9C352.9 1161.6 356.3 1161.9 358.0 1162.9C359.8 1164.0 360.8 1166.2 360.5 1168.0C360.1 1169.9 358.4 1172.4 356.0 1174.1C353.5 1175.8 349.2 1177.2 345.8 1178.2C342.4 1179.2 339.1 1179.2 335.7 1180.2C332.3 1181.2 328.6 1183.4 325.5 1184.3C322.5 1185.1 319.4 1185.6 317.4 1185.3C315.3 1184.9 313.8 1183.4 313.3 1182.2C312.8 1181.0 313.1 1179.9 314.3 1178.2Z" fill="none" stroke="#4674b2" stroke-width="3.7" stroke-linejoin="round"/><path d="M232.1 1039.4C235.8 1039.4 239.6 1040.9 242.2 1043.1C244.9 1045.2 247.1 1048.7 247.9 1052.2C248.7 1055.8 248.1 1060.3 247.3 1064.4C246.5 1068.5 244.2 1072.9 243.2 1076.6C242.2 1080.3 240.9 1083.4 241.2 1086.7C241.5 1090.1 243.1 1094.0 245.3 1096.9C247.5 1099.8 251.4 1101.8 254.4 1104.0C257.4 1106.2 261.0 1107.6 263.5 1110.1C266.1 1112.7 268.5 1115.7 269.6 1119.3C270.8 1122.8 270.9 1127.0 270.2 1131.4C269.6 1135.8 267.7 1140.9 265.6 1145.7C263.4 1150.4 260.8 1154.8 257.4 1159.9C254.1 1165.0 249.8 1170.9 245.3 1176.1C240.7 1181.4 235.6 1186.8 230.0 1191.4C224.4 1195.9 218.2 1200.2 211.7 1203.6C205.3 1206.9 197.9 1209.8 191.4 1211.3C185.0 1212.8 178.2 1213.3 173.1 1212.7C168.1 1212.1 164.1 1210.3 160.9 1207.6C157.8 1204.9 155.6 1200.7 154.4 1196.5C153.3 1192.2 153.3 1187.3 153.8 1182.2C154.4 1177.2 155.7 1171.7 157.9 1166.0C160.1 1160.2 163.5 1153.6 167.0 1147.7C170.6 1141.8 175.2 1135.8 179.2 1130.4C183.3 1125.0 187.7 1119.8 191.4 1115.2C195.1 1110.6 199.0 1107.1 201.6 1103.0C204.1 1098.9 205.6 1094.9 206.7 1090.8C207.7 1086.7 207.7 1083.0 207.7 1078.6C207.7 1074.2 206.2 1068.8 206.7 1064.4C207.2 1060.0 208.5 1055.8 210.7 1052.2C212.9 1048.7 216.3 1045.2 219.9 1043.1C223.4 1040.9 228.3 1039.4 232.1 1039.4Z" fill="none" stroke="#e47a1e" stroke-width="3.7" stroke-linejoin="round"/>
</g>
<g id="p21">
<path d="M594.0 1198.5C593.3 1194.6 593.8 1189.3 595.0 1184.3C596.2 1179.2 598.4 1173.4 601.1 1168.0C603.8 1162.6 607.9 1156.2 611.3 1151.8C614.7 1147.4 618.0 1144.3 621.4 1141.6C624.8 1138.9 627.9 1137.4 631.6 1135.5C635.3 1133.6 640.0 1131.8 643.8 1130.4C647.5 1129.1 650.9 1127.9 653.9 1127.4C657.0 1126.9 659.3 1127.8 662.1 1127.4C664.8 1127.0 667.8 1124.8 670.2 1124.9C672.6 1125.1 674.4 1126.5 676.3 1128.4C678.1 1130.3 680.3 1134.0 681.4 1136.5C682.4 1139.1 681.7 1141.9 682.4 1143.6C683.0 1145.3 684.1 1146.3 685.4 1146.7C686.8 1147.0 689.5 1145.0 690.5 1145.7C691.5 1146.3 692.0 1148.9 691.5 1150.7C691.0 1152.6 689.1 1154.6 687.4 1156.8C685.8 1159.0 683.2 1161.4 681.4 1164.0C679.5 1166.5 678.5 1169.2 676.3 1172.1C674.1 1175.0 671.5 1178.2 668.1 1181.2C664.8 1184.3 660.4 1187.3 656.0 1190.4C651.6 1193.4 646.5 1196.8 641.7 1199.5C637.0 1202.2 632.6 1204.8 627.5 1206.6C622.4 1208.4 616.0 1210.1 611.3 1210.3C606.5 1210.4 602.0 1209.6 599.1 1207.6C596.2 1205.7 594.7 1202.4 594.0 1198.5Z" fill="none" stroke="#4674b2" stroke-width="3.7" stroke-linejoin="round"/><path d="M598.1 1194.4C597.9 1191.0 598.4 1185.3 600.1 1180.2C601.8 1175.1 605.0 1168.7 608.2 1164.0C611.4 1159.2 615.5 1155.1 619.4 1151.8C623.3 1148.4 627.5 1145.5 631.6 1143.6C635.6 1141.8 640.0 1140.9 643.8 1140.6C647.5 1140.2 650.9 1141.8 653.9 1141.6C657.0 1141.4 660.0 1139.1 662.1 1139.6C664.1 1140.1 665.3 1142.3 666.1 1144.7C667.0 1147.0 667.6 1150.9 667.1 1153.8C666.6 1156.7 664.6 1159.5 663.1 1161.9C661.5 1164.3 659.0 1166.0 658.0 1168.0C657.0 1170.0 658.3 1171.6 657.0 1174.1C655.6 1176.6 653.1 1180.2 649.9 1183.3C646.6 1186.3 642.1 1189.7 637.7 1192.4C633.3 1195.1 628.2 1197.8 623.5 1199.5C618.7 1201.2 613.0 1202.4 609.2 1202.6C605.5 1202.7 603.0 1201.9 601.1 1200.5C599.2 1199.2 598.2 1197.8 598.1 1194.4Z" fill="none" stroke="#4674b2" stroke-width="3.7" stroke-linejoin="round"/><path d="M600.1 1192.4C599.8 1189.0 601.3 1182.9 603.1 1178.2C605.0 1173.4 608.2 1168.0 611.3 1164.0C614.3 1159.9 617.7 1156.5 621.4 1153.8C625.1 1151.1 629.9 1148.5 633.6 1147.7C637.3 1146.9 640.9 1147.7 643.8 1148.7C646.6 1149.7 649.4 1151.3 650.9 1153.8C652.4 1156.3 653.3 1160.6 652.9 1164.0C652.6 1167.3 651.0 1170.7 648.8 1174.1C646.6 1177.5 643.3 1181.0 639.7 1184.3C636.2 1187.5 631.6 1191.0 627.5 1193.4C623.5 1195.8 619.1 1197.6 615.3 1198.5C611.6 1199.3 607.7 1199.5 605.2 1198.5C602.6 1197.5 600.4 1195.8 600.1 1192.4Z" fill="none" stroke="#4674b2" stroke-width="3.7" stroke-linejoin="round"/><path d="M644.7 1172.1C644.3 1173.0 643.8 1173.9 643.2 1174.8C642.6 1175.6 641.8 1176.3 641.2 1177.0C640.6 1177.7 640.0 1178.3 639.5 1179.0C638.9 1179.6 638.4 1180.2 637.9 1180.8C637.3 1181.3 636.8 1181.9 636.3 1182.4C635.7 1182.9 635.1 1183.3 634.5 1183.7C633.9 1184.2 633.4 1184.6 632.8 1185.0C632.2 1185.5 631.7 1185.9 631.1 1186.3C630.5 1186.8 629.9 1187.2 629.3 1187.7C628.7 1188.1 628.1 1188.6 627.4 1189.1C626.7 1189.5 626.0 1189.9 625.2 1190.2C624.5 1190.6 623.7 1190.9 622.8 1191.2C622.0 1191.5 621.1 1191.9 620.2 1192.3C619.2 1192.7 618.1 1193.3 617.1 1193.5C616.0 1193.8 615.0 1193.7 613.9 1193.7C612.8 1193.7 611.5 1193.9 610.4 1193.6C609.3 1193.4 608.2 1193.0 607.3 1192.3C606.4 1191.7 605.6 1190.8 605.1 1189.8C604.7 1188.7 604.7 1187.2 604.8 1186.0C604.8 1184.7 605.3 1183.2 605.5 1182.1C605.7 1180.9 605.9 1180.0 606.1 1179.0C606.3 1178.1 606.5 1177.2 606.9 1176.4C607.2 1175.5 607.8 1174.7 608.2 1174.0C608.6 1173.3 608.9 1172.7 609.2 1172.1C609.6 1171.5 609.9 1170.9 610.2 1170.4C610.4 1169.9 610.7 1169.4 611.0 1168.9C611.3 1168.4 611.5 1168.0 611.8 1167.5C612.1 1167.0 612.3 1166.6 612.6 1166.2C612.9 1165.7 613.1 1165.3 613.5 1164.9C613.8 1164.5 614.2 1164.2 614.6 1163.8C614.9 1163.4 615.3 1163.1 615.7 1162.7C616.0 1162.3 616.4 1162.0 616.8 1161.6C617.2 1161.2 617.6 1160.8 618.0 1160.4C618.4 1160.0 618.9 1159.6 619.4 1159.1C619.9 1158.6 620.4 1158.0 620.9 1157.6C621.5 1157.1 622.2 1156.7 622.8 1156.3C623.5 1155.9 624.3 1155.6 625.1 1155.2C625.9 1154.8 626.7 1154.4 627.7 1154.0C628.7 1153.5 629.9 1152.7 631.0 1152.4C632.1 1152.1 633.1 1152.3 634.2 1152.3C635.4 1152.4 636.5 1152.5 637.7 1152.7C638.8 1153.0 640.1 1153.3 641.1 1153.8C642.1 1154.4 643.1 1155.1 643.9 1155.9C644.7 1156.7 645.5 1157.7 646.0 1158.7C646.4 1159.8 646.5 1161.1 646.7 1162.2C646.9 1163.3 647.4 1164.4 647.3 1165.5C647.2 1166.7 646.3 1167.9 645.9 1169.0C645.5 1170.1 645.2 1171.1 644.7 1172.1Z" fill="none" stroke="#4674b2" stroke-width="3.7" stroke-linejoin="round"/><path d="M642.5 1172.1C642.1 1172.9 641.7 1173.7 641.2 1174.5C640.6 1175.2 639.9 1175.9 639.4 1176.5C638.8 1177.1 638.3 1177.7 637.9 1178.3C637.4 1178.9 636.9 1179.4 636.4 1179.9C635.9 1180.4 635.5 1180.9 635.0 1181.4C634.5 1181.8 633.9 1182.2 633.4 1182.6C632.9 1183.0 632.4 1183.4 631.8 1183.8C631.3 1184.2 630.8 1184.6 630.3 1185.0C629.8 1185.4 629.2 1185.8 628.7 1186.2C628.1 1186.6 627.6 1187.1 627.0 1187.4C626.3 1187.8 625.7 1188.2 625.0 1188.5C624.3 1188.8 623.6 1189.0 622.8 1189.4C622.1 1189.7 621.3 1190.0 620.4 1190.3C619.6 1190.7 618.6 1191.2 617.7 1191.4C616.7 1191.6 615.8 1191.5 614.8 1191.6C613.8 1191.6 612.6 1191.7 611.6 1191.5C610.6 1191.3 609.6 1190.9 608.9 1190.3C608.1 1189.7 607.3 1189.0 606.9 1188.0C606.5 1187.1 606.5 1185.8 606.5 1184.6C606.5 1183.5 606.9 1182.2 607.1 1181.2C607.3 1180.1 607.4 1179.3 607.6 1178.4C607.8 1177.5 608.0 1176.7 608.3 1176.0C608.6 1175.2 609.1 1174.5 609.4 1173.8C609.8 1173.2 610.1 1172.6 610.4 1172.1C610.7 1171.5 610.9 1171.0 611.2 1170.5C611.5 1170.1 611.7 1169.6 612.0 1169.2C612.2 1168.7 612.5 1168.3 612.7 1167.9C613.0 1167.5 613.2 1167.0 613.4 1166.7C613.7 1166.3 614.0 1165.9 614.3 1165.5C614.6 1165.1 614.9 1164.8 615.3 1164.5C615.6 1164.2 615.9 1163.8 616.3 1163.5C616.6 1163.2 616.9 1162.8 617.3 1162.5C617.7 1162.1 618.0 1161.8 618.4 1161.4C618.8 1161.0 619.2 1160.6 619.7 1160.2C620.1 1159.8 620.6 1159.3 621.1 1158.9C621.6 1158.4 622.2 1158.1 622.8 1157.7C623.5 1157.4 624.1 1157.1 624.9 1156.8C625.6 1156.4 626.4 1156.1 627.2 1155.7C628.1 1155.2 629.2 1154.5 630.2 1154.3C631.2 1154.0 632.1 1154.2 633.1 1154.3C634.1 1154.3 635.2 1154.4 636.2 1154.6C637.3 1154.9 638.4 1155.2 639.3 1155.6C640.2 1156.1 641.1 1156.8 641.8 1157.5C642.5 1158.3 643.2 1159.1 643.6 1160.1C644.0 1161.0 644.1 1162.2 644.3 1163.2C644.5 1164.2 644.9 1165.2 644.8 1166.2C644.7 1167.2 644.0 1168.4 643.6 1169.3C643.2 1170.3 642.9 1171.2 642.5 1172.1Z" fill="none" stroke="#4674b2" stroke-width="3.7" stroke-linejoin="round"/><path d="M640.3 1172.1C640.0 1172.8 639.6 1173.6 639.1 1174.2C638.7 1174.9 638.1 1175.5 637.6 1176.0C637.1 1176.6 636.7 1177.1 636.2 1177.6C635.8 1178.1 635.4 1178.6 635.0 1179.1C634.5 1179.5 634.1 1180.0 633.7 1180.4C633.2 1180.8 632.7 1181.2 632.3 1181.5C631.8 1181.9 631.4 1182.2 630.9 1182.6C630.4 1182.9 630.0 1183.3 629.5 1183.6C629.0 1184.0 628.6 1184.3 628.1 1184.7C627.6 1185.1 627.1 1185.5 626.5 1185.8C626.0 1186.1 625.4 1186.4 624.8 1186.7C624.2 1187.0 623.5 1187.2 622.8 1187.5C622.2 1187.8 621.5 1188.1 620.7 1188.4C619.9 1188.7 619.1 1189.1 618.2 1189.3C617.4 1189.5 616.5 1189.4 615.7 1189.4C614.8 1189.4 613.7 1189.5 612.9 1189.4C612.0 1189.2 611.1 1188.8 610.4 1188.3C609.7 1187.8 609.0 1187.1 608.6 1186.3C608.3 1185.5 608.2 1184.3 608.2 1183.3C608.3 1182.3 608.6 1181.1 608.7 1180.2C608.9 1179.3 609.0 1178.5 609.1 1177.8C609.3 1177.0 609.5 1176.3 609.7 1175.6C610.0 1174.9 610.4 1174.3 610.7 1173.7C611.0 1173.1 611.3 1172.6 611.5 1172.1C611.8 1171.6 612.0 1171.1 612.3 1170.7C612.5 1170.2 612.8 1169.8 613.0 1169.4C613.2 1169.0 613.4 1168.6 613.6 1168.3C613.9 1167.9 614.1 1167.5 614.3 1167.1C614.5 1166.8 614.8 1166.4 615.1 1166.1C615.3 1165.8 615.6 1165.5 615.9 1165.2C616.2 1164.9 616.6 1164.6 616.9 1164.3C617.2 1164.0 617.5 1163.7 617.8 1163.4C618.1 1163.1 618.5 1162.7 618.8 1162.4C619.2 1162.1 619.6 1161.7 620.0 1161.4C620.4 1161.0 620.8 1160.5 621.3 1160.1C621.8 1159.8 622.3 1159.5 622.8 1159.2C623.4 1158.8 624.0 1158.6 624.7 1158.3C625.3 1158.0 626.0 1157.7 626.8 1157.3C627.6 1157.0 628.6 1156.4 629.4 1156.2C630.3 1156.0 631.1 1156.1 632.0 1156.2C632.9 1156.2 633.9 1156.3 634.8 1156.5C635.7 1156.7 636.6 1157.0 637.5 1157.5C638.3 1157.9 639.0 1158.5 639.7 1159.2C640.3 1159.8 640.9 1160.6 641.3 1161.4C641.7 1162.3 641.7 1163.3 641.9 1164.2C642.0 1165.1 642.4 1165.9 642.3 1166.9C642.2 1167.8 641.6 1168.8 641.3 1169.6C641.0 1170.5 640.7 1171.3 640.3 1172.1Z" fill="none" stroke="#4674b2" stroke-width="3.7" stroke-linejoin="round"/><path d="M638.2 1172.1C637.9 1172.7 637.5 1173.4 637.1 1174.0C636.7 1174.5 636.2 1175.0 635.8 1175.5C635.4 1176.0 635.0 1176.5 634.6 1177.0C634.2 1177.4 633.9 1177.8 633.5 1178.2C633.1 1178.6 632.8 1179.0 632.4 1179.4C632.0 1179.8 631.6 1180.1 631.2 1180.4C630.8 1180.7 630.3 1181.0 629.9 1181.3C629.5 1181.6 629.1 1181.9 628.7 1182.3C628.3 1182.6 627.9 1182.9 627.5 1183.2C627.0 1183.5 626.6 1183.9 626.1 1184.2C625.6 1184.5 625.1 1184.7 624.5 1185.0C624.0 1185.2 623.4 1185.4 622.8 1185.7C622.2 1185.9 621.6 1186.2 621.0 1186.4C620.3 1186.7 619.5 1187.1 618.8 1187.2C618.1 1187.3 617.3 1187.3 616.5 1187.3C615.8 1187.3 614.9 1187.4 614.1 1187.2C613.3 1187.0 612.6 1186.7 611.9 1186.3C611.3 1185.8 610.7 1185.3 610.4 1184.5C610.1 1183.8 610.0 1182.8 610.0 1181.9C610.0 1181.1 610.2 1180.1 610.3 1179.3C610.5 1178.5 610.5 1177.8 610.6 1177.1C610.8 1176.4 610.9 1175.8 611.2 1175.2C611.4 1174.6 611.7 1174.0 612.0 1173.5C612.2 1173.0 612.5 1172.5 612.7 1172.1C612.9 1171.6 613.1 1171.2 613.3 1170.8C613.5 1170.4 613.8 1170.1 614.0 1169.7C614.2 1169.3 614.4 1169.0 614.6 1168.6C614.8 1168.3 615.0 1168.0 615.2 1167.6C615.4 1167.3 615.6 1167.0 615.8 1166.7C616.1 1166.4 616.4 1166.1 616.6 1165.9C616.9 1165.6 617.2 1165.3 617.5 1165.1C617.8 1164.8 618.0 1164.5 618.3 1164.3C618.6 1164.0 618.9 1163.7 619.2 1163.4C619.6 1163.1 619.9 1162.8 620.3 1162.5C620.6 1162.2 621.0 1161.8 621.4 1161.4C621.9 1161.1 622.3 1160.8 622.8 1160.6C623.3 1160.3 623.9 1160.1 624.5 1159.8C625.0 1159.6 625.6 1159.3 626.3 1159.0C627.0 1158.7 627.9 1158.2 628.7 1158.0C629.4 1157.9 630.1 1158.0 630.9 1158.1C631.7 1158.1 632.5 1158.2 633.3 1158.4C634.1 1158.6 634.9 1158.9 635.7 1159.3C636.4 1159.7 637.0 1160.2 637.6 1160.8C638.1 1161.4 638.6 1162.0 639.0 1162.8C639.3 1163.5 639.3 1164.4 639.5 1165.2C639.6 1166.0 639.9 1166.7 639.8 1167.5C639.8 1168.3 639.3 1169.2 639.0 1170.0C638.7 1170.7 638.5 1171.4 638.2 1172.1Z" fill="none" stroke="#4674b2" stroke-width="3.7" stroke-linejoin="round"/><path d="M636.0 1172.1C635.7 1172.6 635.4 1173.2 635.1 1173.7C634.8 1174.2 634.3 1174.6 634.0 1175.1C633.6 1175.5 633.3 1175.9 633.0 1176.3C632.7 1176.7 632.4 1177.0 632.0 1177.4C631.7 1177.7 631.4 1178.1 631.1 1178.4C630.8 1178.7 630.4 1179.0 630.0 1179.3C629.7 1179.6 629.3 1179.8 629.0 1180.1C628.6 1180.4 628.3 1180.6 627.9 1180.9C627.6 1181.2 627.2 1181.4 626.8 1181.7C626.5 1182.0 626.1 1182.3 625.6 1182.5C625.2 1182.8 624.8 1183.0 624.3 1183.2C623.8 1183.5 623.4 1183.6 622.8 1183.8C622.3 1184.0 621.8 1184.2 621.2 1184.5C620.6 1184.7 620.0 1185.0 619.4 1185.1C618.7 1185.2 618.1 1185.2 617.4 1185.2C616.7 1185.2 616.0 1185.2 615.3 1185.1C614.7 1184.9 614.0 1184.6 613.5 1184.3C613.0 1183.9 612.4 1183.4 612.1 1182.8C611.8 1182.2 611.8 1181.3 611.7 1180.6C611.7 1179.9 611.9 1179.0 612.0 1178.4C612.0 1177.7 612.1 1177.1 612.2 1176.5C612.3 1175.9 612.4 1175.4 612.6 1174.8C612.8 1174.3 613.0 1173.8 613.2 1173.3C613.4 1172.9 613.7 1172.5 613.9 1172.1C614.0 1171.7 614.2 1171.3 614.4 1171.0C614.6 1170.6 614.8 1170.3 615.0 1170.0C615.1 1169.6 615.3 1169.3 615.5 1169.0C615.7 1168.7 615.8 1168.4 616.0 1168.1C616.2 1167.9 616.4 1167.6 616.6 1167.3C616.9 1167.1 617.1 1166.8 617.3 1166.6C617.6 1166.3 617.8 1166.1 618.1 1165.9C618.3 1165.6 618.6 1165.4 618.8 1165.1C619.1 1164.9 619.4 1164.7 619.7 1164.4C620.0 1164.1 620.3 1163.9 620.6 1163.6C620.9 1163.3 621.2 1163.0 621.6 1162.7C622.0 1162.5 622.4 1162.2 622.8 1162.0C623.3 1161.8 623.7 1161.6 624.3 1161.4C624.8 1161.2 625.3 1161.0 625.9 1160.7C626.5 1160.5 627.2 1160.1 627.9 1159.9C628.5 1159.8 629.2 1159.9 629.8 1160.0C630.5 1160.1 631.2 1160.2 631.9 1160.3C632.5 1160.5 633.2 1160.7 633.8 1161.1C634.4 1161.4 635.0 1161.9 635.4 1162.4C635.9 1162.9 636.3 1163.5 636.6 1164.1C636.9 1164.8 636.9 1165.5 637.1 1166.2C637.2 1166.9 637.4 1167.5 637.4 1168.2C637.3 1168.9 636.9 1169.6 636.7 1170.3C636.4 1170.9 636.2 1171.5 636.0 1172.1Z" fill="none" stroke="#4674b2" stroke-width="3.7" stroke-linejoin="round"/><path d="M633.8 1172.1C633.6 1172.6 633.4 1173.0 633.1 1173.4C632.8 1173.8 632.5 1174.2 632.2 1174.6C631.9 1174.9 631.6 1175.3 631.4 1175.6C631.1 1175.9 630.9 1176.2 630.6 1176.5C630.3 1176.8 630.1 1177.1 629.8 1177.4C629.5 1177.7 629.2 1177.9 628.9 1178.2C628.6 1178.4 628.3 1178.6 628.0 1178.8C627.7 1179.1 627.5 1179.3 627.1 1179.5C626.8 1179.8 626.5 1180.0 626.2 1180.2C625.9 1180.5 625.6 1180.7 625.2 1180.9C624.9 1181.1 624.5 1181.3 624.1 1181.5C623.7 1181.7 623.3 1181.8 622.8 1182.0C622.4 1182.1 622.0 1182.3 621.5 1182.5C621.0 1182.7 620.5 1182.9 619.9 1183.0C619.4 1183.1 618.9 1183.1 618.3 1183.0C617.7 1183.0 617.1 1183.1 616.6 1182.9C616.0 1182.8 615.5 1182.6 615.0 1182.2C614.6 1181.9 614.1 1181.5 613.9 1181.1C613.6 1180.6 613.5 1179.9 613.5 1179.3C613.4 1178.7 613.5 1178.0 613.6 1177.4C613.6 1176.9 613.6 1176.4 613.7 1175.9C613.8 1175.4 613.9 1174.9 614.0 1174.4C614.1 1174.0 614.3 1173.6 614.5 1173.2C614.7 1172.8 614.8 1172.4 615.0 1172.1C615.2 1171.7 615.3 1171.4 615.5 1171.1C615.6 1170.8 615.8 1170.5 615.9 1170.2C616.1 1169.9 616.2 1169.7 616.4 1169.4C616.6 1169.1 616.7 1168.9 616.9 1168.6C617.1 1168.4 617.2 1168.1 617.4 1167.9C617.6 1167.7 617.8 1167.5 618.0 1167.3C618.2 1167.1 618.5 1166.9 618.7 1166.7C618.9 1166.5 619.1 1166.2 619.4 1166.0C619.6 1165.8 619.8 1165.6 620.1 1165.4C620.3 1165.2 620.6 1165.0 620.9 1164.7C621.2 1164.5 621.5 1164.2 621.8 1164.0C622.1 1163.8 622.5 1163.6 622.8 1163.4C623.2 1163.2 623.6 1163.1 624.1 1162.9C624.5 1162.7 624.9 1162.6 625.4 1162.4C625.9 1162.2 626.5 1161.9 627.1 1161.8C627.6 1161.7 628.2 1161.8 628.7 1161.9C629.3 1162.0 629.8 1162.1 630.4 1162.2C630.9 1162.4 631.5 1162.6 632.0 1162.9C632.5 1163.2 633.0 1163.6 633.3 1164.0C633.7 1164.5 634.1 1165.0 634.3 1165.5C634.5 1166.0 634.6 1166.6 634.7 1167.2C634.8 1167.7 634.9 1168.3 634.9 1168.9C634.8 1169.4 634.5 1170.0 634.3 1170.6C634.2 1171.1 634.0 1171.6 633.8 1172.1Z" fill="none" stroke="#4674b2" stroke-width="3.7" stroke-linejoin="round"/><path d="M631.6 1172.1C631.4 1172.5 631.3 1172.8 631.1 1173.2C630.9 1173.5 630.6 1173.8 630.4 1174.1C630.2 1174.4 630.0 1174.7 629.8 1174.9C629.6 1175.2 629.3 1175.5 629.1 1175.7C628.9 1176.0 628.7 1176.2 628.5 1176.4C628.3 1176.6 628.0 1176.8 627.8 1177.0C627.6 1177.2 627.3 1177.4 627.1 1177.6C626.8 1177.8 626.6 1178.0 626.4 1178.2C626.1 1178.4 625.9 1178.6 625.6 1178.7C625.3 1178.9 625.1 1179.1 624.8 1179.3C624.5 1179.4 624.2 1179.6 623.9 1179.8C623.5 1179.9 623.2 1180.0 622.8 1180.1C622.5 1180.3 622.1 1180.4 621.7 1180.5C621.3 1180.7 620.9 1180.8 620.5 1180.9C620.1 1180.9 619.6 1180.9 619.2 1180.9C618.7 1180.9 618.3 1180.9 617.8 1180.8C617.4 1180.7 617.0 1180.5 616.6 1180.2C616.2 1180.0 615.8 1179.7 615.6 1179.3C615.4 1178.9 615.3 1178.4 615.2 1177.9C615.2 1177.5 615.2 1176.9 615.2 1176.5C615.2 1176.0 615.2 1175.6 615.2 1175.2C615.2 1174.8 615.3 1174.4 615.4 1174.1C615.5 1173.7 615.6 1173.3 615.8 1173.0C615.9 1172.7 616.0 1172.4 616.2 1172.1C616.3 1171.8 616.4 1171.5 616.5 1171.2C616.6 1171.0 616.8 1170.7 616.9 1170.5C617.1 1170.3 617.2 1170.0 617.3 1169.8C617.5 1169.6 617.6 1169.3 617.7 1169.1C617.9 1168.9 618.1 1168.7 618.2 1168.5C618.4 1168.3 618.5 1168.1 618.7 1168.0C618.9 1167.8 619.1 1167.6 619.3 1167.4C619.5 1167.3 619.7 1167.1 619.9 1166.9C620.1 1166.7 620.3 1166.6 620.5 1166.4C620.7 1166.2 620.9 1166.1 621.2 1165.9C621.4 1165.7 621.7 1165.5 622.0 1165.3C622.2 1165.1 622.5 1165.0 622.8 1164.9C623.2 1164.7 623.5 1164.6 623.8 1164.5C624.2 1164.3 624.6 1164.2 625.0 1164.1C625.4 1164.0 625.9 1163.8 626.3 1163.7C626.7 1163.7 627.2 1163.8 627.6 1163.8C628.0 1163.9 628.5 1164.0 628.9 1164.1C629.4 1164.3 629.8 1164.5 630.2 1164.7C630.6 1165.0 630.9 1165.3 631.2 1165.7C631.5 1166.0 631.8 1166.4 631.9 1166.8C632.1 1167.2 632.2 1167.7 632.2 1168.2C632.3 1168.6 632.4 1169.1 632.4 1169.5C632.4 1170.0 632.2 1170.4 632.0 1170.9C631.9 1171.3 631.7 1171.7 631.6 1172.1Z" fill="none" stroke="#4674b2" stroke-width="3.7" stroke-linejoin="round"/><path d="M629.4 1172.1C629.3 1172.4 629.2 1172.6 629.1 1172.9C628.9 1173.2 628.7 1173.4 628.6 1173.6C628.4 1173.8 628.3 1174.1 628.1 1174.3C628.0 1174.5 627.8 1174.7 627.7 1174.9C627.5 1175.1 627.4 1175.2 627.2 1175.4C627.0 1175.6 626.9 1175.8 626.7 1175.9C626.5 1176.1 626.3 1176.2 626.1 1176.4C626.0 1176.5 625.8 1176.7 625.6 1176.8C625.4 1177.0 625.2 1177.1 625.0 1177.2C624.8 1177.4 624.6 1177.5 624.3 1177.6C624.1 1177.8 623.9 1177.9 623.6 1178.0C623.4 1178.1 623.1 1178.2 622.8 1178.3C622.6 1178.4 622.3 1178.5 622.0 1178.6C621.7 1178.7 621.4 1178.7 621.1 1178.8C620.7 1178.8 620.4 1178.8 620.1 1178.8C619.7 1178.8 619.4 1178.7 619.1 1178.6C618.7 1178.5 618.4 1178.4 618.1 1178.2C617.8 1178.0 617.6 1177.8 617.4 1177.6C617.2 1177.3 617.1 1176.9 617.0 1176.6C616.9 1176.3 616.9 1175.9 616.8 1175.6C616.8 1175.2 616.7 1174.9 616.7 1174.6C616.7 1174.3 616.8 1174.0 616.8 1173.7C616.9 1173.4 617.0 1173.1 617.0 1172.8C617.1 1172.6 617.2 1172.3 617.3 1172.1C617.4 1171.8 617.5 1171.6 617.6 1171.4C617.7 1171.2 617.8 1171.0 617.9 1170.8C618.0 1170.6 618.1 1170.4 618.2 1170.2C618.4 1170.0 618.5 1169.8 618.6 1169.6C618.7 1169.5 618.9 1169.3 619.0 1169.1C619.1 1169.0 619.3 1168.8 619.4 1168.7C619.6 1168.5 619.7 1168.4 619.9 1168.2C620.1 1168.1 620.2 1168.0 620.4 1167.8C620.6 1167.7 620.7 1167.5 620.9 1167.4C621.1 1167.3 621.3 1167.1 621.5 1167.0C621.7 1166.9 621.9 1166.7 622.1 1166.6C622.3 1166.5 622.6 1166.4 622.8 1166.3C623.1 1166.2 623.4 1166.1 623.6 1166.0C623.9 1165.9 624.2 1165.9 624.5 1165.8C624.8 1165.7 625.2 1165.6 625.5 1165.6C625.9 1165.6 626.2 1165.7 626.5 1165.7C626.8 1165.8 627.2 1165.9 627.5 1166.0C627.8 1166.2 628.1 1166.3 628.4 1166.5C628.7 1166.7 628.9 1167.0 629.1 1167.3C629.3 1167.6 629.5 1167.9 629.6 1168.2C629.7 1168.5 629.8 1168.8 629.8 1169.2C629.9 1169.5 629.9 1169.9 629.9 1170.2C629.9 1170.5 629.8 1170.9 629.7 1171.2C629.6 1171.5 629.5 1171.8 629.4 1172.1Z" fill="none" stroke="#4674b2" stroke-width="3.7" stroke-linejoin="round"/><path d="M627.2 1172.1C627.2 1172.3 627.1 1172.5 627.0 1172.6C627.0 1172.8 626.9 1173.0 626.8 1173.1C626.7 1173.3 626.6 1173.5 626.5 1173.6C626.4 1173.8 626.3 1173.9 626.2 1174.0C626.1 1174.2 626.0 1174.3 625.9 1174.4C625.8 1174.5 625.7 1174.7 625.6 1174.8C625.5 1174.9 625.3 1175.0 625.2 1175.1C625.1 1175.2 624.9 1175.3 624.8 1175.5C624.7 1175.6 624.5 1175.7 624.4 1175.8C624.2 1175.9 624.1 1175.9 623.9 1176.0C623.7 1176.1 623.6 1176.2 623.4 1176.3C623.2 1176.4 623.0 1176.4 622.8 1176.4C622.7 1176.5 622.5 1176.6 622.2 1176.6C622.0 1176.7 621.8 1176.7 621.6 1176.7C621.4 1176.7 621.2 1176.7 620.9 1176.7C620.7 1176.6 620.5 1176.6 620.3 1176.5C620.1 1176.4 619.9 1176.3 619.7 1176.2C619.5 1176.1 619.3 1176.0 619.1 1175.8C618.9 1175.7 618.8 1175.4 618.7 1175.2C618.6 1175.0 618.5 1174.8 618.4 1174.6C618.4 1174.4 618.3 1174.2 618.3 1174.0C618.2 1173.8 618.3 1173.5 618.3 1173.3C618.3 1173.1 618.3 1172.9 618.3 1172.7C618.3 1172.5 618.4 1172.3 618.5 1172.1C618.5 1171.9 618.6 1171.7 618.6 1171.5C618.7 1171.3 618.8 1171.2 618.9 1171.0C619.0 1170.9 619.1 1170.7 619.2 1170.6C619.3 1170.4 619.4 1170.3 619.5 1170.1C619.6 1170.0 619.7 1169.9 619.8 1169.7C619.9 1169.6 620.0 1169.5 620.1 1169.3C620.2 1169.2 620.4 1169.1 620.5 1169.0C620.6 1168.9 620.8 1168.8 620.9 1168.7C621.0 1168.6 621.2 1168.5 621.3 1168.4C621.5 1168.3 621.6 1168.2 621.8 1168.1C622.0 1168.1 622.1 1167.9 622.3 1167.9C622.5 1167.8 622.7 1167.8 622.8 1167.7C623.0 1167.6 623.2 1167.6 623.4 1167.5C623.6 1167.5 623.9 1167.5 624.1 1167.5C624.3 1167.5 624.5 1167.5 624.7 1167.5C625.0 1167.5 625.2 1167.6 625.4 1167.7C625.6 1167.7 625.8 1167.8 626.0 1167.9C626.2 1168.1 626.4 1168.2 626.6 1168.3C626.7 1168.5 626.9 1168.7 627.0 1168.9C627.1 1169.1 627.2 1169.3 627.3 1169.5C627.3 1169.7 627.4 1170.0 627.4 1170.2C627.5 1170.4 627.4 1170.6 627.4 1170.8C627.4 1171.1 627.4 1171.3 627.4 1171.5C627.3 1171.7 627.3 1171.9 627.2 1172.1Z" fill="none" stroke="#4674b2" stroke-width="3.7" stroke-linejoin="round"/><path d="M697.6 966.7C697.8 966.9 698.0 967.2 698.0 967.6C698.0 968.0 697.9 968.5 697.7 969.0C697.5 969.5 697.2 970.1 696.8 970.7C696.5 971.2 696.0 971.8 695.5 972.3C695.0 972.8 694.4 973.2 693.9 973.6C693.3 974.0 692.7 974.3 692.2 974.5C691.7 974.7 691.2 974.8 690.8 974.8C690.4 974.8 690.1 974.6 689.9 974.4C689.6 974.2 689.5 973.9 689.5 973.5C689.5 973.1 689.6 972.6 689.8 972.1C690.0 971.6 690.3 971.0 690.7 970.4C691.0 969.9 691.5 969.3 692.0 968.8C692.5 968.3 693.1 967.8 693.6 967.5C694.2 967.1 694.8 966.8 695.3 966.6C695.8 966.4 696.3 966.3 696.7 966.3C697.1 966.3 697.4 966.4 697.6 966.7Z" fill="none" stroke="#4674b2" stroke-width="3.7" stroke-linejoin="round"/><path d="M766.7 967.1C766.9 967.3 767.1 967.6 767.1 968.0C767.1 968.4 767.0 968.9 766.8 969.4C766.6 969.9 766.3 970.5 765.9 971.1C765.5 971.6 765.0 972.2 764.5 972.7C764.1 973.2 763.5 973.7 762.9 974.0C762.4 974.4 761.8 974.7 761.3 974.9C760.8 975.1 760.3 975.2 759.9 975.2C759.5 975.2 759.2 975.0 758.9 974.8C758.7 974.6 758.6 974.3 758.6 973.9C758.6 973.5 758.7 973.0 758.9 972.5C759.1 972.0 759.4 971.4 759.7 970.8C760.1 970.3 760.6 969.7 761.1 969.2C761.6 968.7 762.2 968.2 762.7 967.9C763.3 967.5 763.8 967.2 764.3 967.0C764.9 966.8 765.4 966.7 765.7 966.7C766.1 966.7 766.5 966.8 766.7 967.1Z" fill="none" stroke="#4674b2" stroke-width="3.7" stroke-linejoin="round"/><path d="M699.0 1016.8C699.3 1017.1 699.4 1017.4 699.4 1017.8C699.4 1018.2 699.3 1018.7 699.1 1019.2C698.9 1019.7 698.6 1020.3 698.2 1020.8C697.9 1021.4 697.4 1022.0 696.9 1022.4C696.4 1022.9 695.8 1023.4 695.3 1023.8C694.7 1024.2 694.2 1024.5 693.6 1024.7C693.1 1024.9 692.6 1025.0 692.2 1025.0C691.9 1025.0 691.5 1024.8 691.3 1024.6C691.1 1024.4 690.9 1024.0 690.9 1023.6C690.9 1023.3 691.0 1022.8 691.2 1022.2C691.4 1021.7 691.7 1021.2 692.1 1020.6C692.5 1020.1 693.0 1019.5 693.4 1019.0C693.9 1018.5 694.5 1018.0 695.1 1017.6C695.6 1017.3 696.2 1017.0 696.7 1016.8C697.2 1016.6 697.7 1016.5 698.1 1016.5C698.5 1016.5 698.8 1016.6 699.0 1016.8Z" fill="none" stroke="#4674b2" stroke-width="3.7" stroke-linejoin="round"/><path d="M695.0 1060.9C695.2 1061.1 695.3 1061.5 695.3 1061.9C695.4 1062.3 695.3 1062.8 695.1 1063.3C694.9 1063.8 694.6 1064.4 694.2 1064.9C693.8 1065.5 693.3 1066.0 692.8 1066.5C692.3 1067.0 691.8 1067.5 691.2 1067.9C690.7 1068.3 690.1 1068.6 689.6 1068.8C689.1 1069.0 688.6 1069.1 688.2 1069.1C687.8 1069.0 687.4 1068.9 687.2 1068.7C687.0 1068.5 686.9 1068.1 686.9 1067.7C686.8 1067.3 687.0 1066.8 687.1 1066.3C687.3 1065.8 687.7 1065.2 688.0 1064.7C688.4 1064.2 688.9 1063.6 689.4 1063.1C689.9 1062.6 690.5 1062.1 691.0 1061.7C691.5 1061.4 692.1 1061.0 692.6 1060.8C693.1 1060.7 693.6 1060.6 694.0 1060.6C694.4 1060.6 694.8 1060.7 695.0 1060.9Z" fill="none" stroke="#4674b2" stroke-width="3.7" stroke-linejoin="round"/><path d="M703.5 1066.2C703.7 1066.4 703.9 1066.8 703.9 1067.2C703.9 1067.6 703.8 1068.1 703.6 1068.6C703.4 1069.1 703.1 1069.7 702.7 1070.2C702.3 1070.7 701.9 1071.3 701.4 1071.8C700.9 1072.3 700.3 1072.8 699.7 1073.2C699.2 1073.5 698.6 1073.9 698.1 1074.1C697.6 1074.2 697.1 1074.3 696.7 1074.3C696.3 1074.3 696.0 1074.2 695.8 1074.0C695.5 1073.7 695.4 1073.4 695.4 1073.0C695.4 1072.6 695.5 1072.1 695.7 1071.6C695.9 1071.1 696.2 1070.5 696.6 1070.0C696.9 1069.4 697.4 1068.9 697.9 1068.4C698.4 1067.9 699.0 1067.4 699.5 1067.0C700.1 1066.6 700.7 1066.3 701.2 1066.1C701.7 1065.9 702.2 1065.8 702.6 1065.8C703.0 1065.9 703.3 1066.0 703.5 1066.2Z" fill="none" stroke="#4674b2" stroke-width="3.7" stroke-linejoin="round"/><path d="M763.9 1087.9C764.1 1088.2 764.2 1088.5 764.2 1088.9C764.2 1089.3 764.1 1089.8 763.9 1090.3C763.7 1090.8 763.4 1091.4 763.1 1091.9C762.7 1092.5 762.2 1093.1 761.7 1093.6C761.2 1094.0 760.6 1094.5 760.1 1094.9C759.5 1095.3 759.0 1095.6 758.5 1095.8C757.9 1096.0 757.4 1096.1 757.1 1096.1C756.7 1096.1 756.3 1095.9 756.1 1095.7C755.9 1095.5 755.7 1095.1 755.7 1094.8C755.7 1094.4 755.8 1093.9 756.0 1093.4C756.2 1092.8 756.5 1092.3 756.9 1091.7C757.3 1091.2 757.8 1090.6 758.3 1090.1C758.7 1089.6 759.3 1089.1 759.9 1088.8C760.4 1088.4 761.0 1088.1 761.5 1087.9C762.0 1087.7 762.5 1087.6 762.9 1087.6C763.3 1087.6 763.6 1087.7 763.9 1087.9Z" fill="none" stroke="#4674b2" stroke-width="3.7" stroke-linejoin="round"/><path d="M685.8 1099.1C686.1 1099.3 686.2 1099.7 686.2 1100.1C686.2 1100.5 686.1 1101.0 685.9 1101.5C685.7 1102.0 685.4 1102.6 685.0 1103.1C684.7 1103.7 684.2 1104.2 683.7 1104.7C683.2 1105.2 682.6 1105.7 682.1 1106.1C681.5 1106.5 680.9 1106.8 680.4 1107.0C679.9 1107.2 679.4 1107.3 679.0 1107.2C678.6 1107.2 678.3 1107.1 678.1 1106.9C677.9 1106.7 677.7 1106.3 677.7 1105.9C677.7 1105.5 677.8 1105.0 678.0 1104.5C678.2 1104.0 678.5 1103.4 678.9 1102.9C679.3 1102.4 679.7 1101.8 680.2 1101.3C680.7 1100.8 681.3 1100.3 681.9 1099.9C682.4 1099.6 683.0 1099.2 683.5 1099.0C684.0 1098.8 684.5 1098.7 684.9 1098.8C685.3 1098.8 685.6 1098.9 685.8 1099.1Z" fill="none" stroke="#4674b2" stroke-width="3.7" stroke-linejoin="round"/><path d="M702.5 1103.2C702.7 1103.4 702.9 1103.7 702.9 1104.1C702.9 1104.5 702.8 1105.0 702.6 1105.5C702.4 1106.0 702.1 1106.6 701.7 1107.2C701.3 1107.7 700.8 1108.3 700.3 1108.8C699.9 1109.3 699.3 1109.8 698.7 1110.1C698.2 1110.5 697.6 1110.8 697.1 1111.0C696.6 1111.2 696.1 1111.3 695.7 1111.3C695.3 1111.3 695.0 1111.2 694.7 1110.9C694.5 1110.7 694.4 1110.4 694.4 1110.0C694.4 1109.6 694.5 1109.1 694.7 1108.6C694.9 1108.1 695.2 1107.5 695.5 1107.0C695.9 1106.4 696.4 1105.8 696.9 1105.3C697.4 1104.8 698.0 1104.4 698.5 1104.0C699.1 1103.6 699.6 1103.3 700.1 1103.1C700.7 1102.9 701.2 1102.8 701.5 1102.8C701.9 1102.8 702.3 1103.0 702.5 1103.2Z" fill="none" stroke="#4674b2" stroke-width="3.7" stroke-linejoin="round"/><path d="M813.2 1114.4C813.4 1114.6 813.6 1114.9 813.6 1115.3C813.6 1115.7 813.5 1116.2 813.3 1116.7C813.1 1117.2 812.8 1117.8 812.4 1118.3C812.0 1118.9 811.6 1119.5 811.1 1120.0C810.6 1120.5 810.0 1120.9 809.5 1121.3C808.9 1121.7 808.3 1122.0 807.8 1122.2C807.3 1122.4 806.8 1122.5 806.4 1122.5C806.0 1122.5 805.7 1122.3 805.5 1122.1C805.2 1121.9 805.1 1121.6 805.1 1121.2C805.1 1120.8 805.2 1120.3 805.4 1119.8C805.6 1119.3 805.9 1118.7 806.3 1118.1C806.6 1117.6 807.1 1117.0 807.6 1116.5C808.1 1116.0 808.7 1115.5 809.2 1115.2C809.8 1114.8 810.4 1114.5 810.9 1114.3C811.4 1114.1 811.9 1114.0 812.3 1114.0C812.7 1114.0 813.0 1114.1 813.2 1114.4Z" fill="none" stroke="#4674b2" stroke-width="3.7" stroke-linejoin="round"/><path d="M697.0 1163.5C697.2 1163.7 697.4 1164.1 697.4 1164.5C697.4 1164.9 697.3 1165.4 697.1 1165.9C696.9 1166.4 696.6 1167.0 696.2 1167.5C695.8 1168.1 695.4 1168.6 694.9 1169.1C694.4 1169.6 693.8 1170.1 693.2 1170.5C692.7 1170.9 692.1 1171.2 691.6 1171.4C691.1 1171.6 690.6 1171.7 690.2 1171.6C689.8 1171.6 689.5 1171.5 689.3 1171.3C689.0 1171.1 688.9 1170.7 688.9 1170.3C688.9 1169.9 689.0 1169.4 689.2 1168.9C689.4 1168.4 689.7 1167.8 690.1 1167.3C690.4 1166.8 690.9 1166.2 691.4 1165.7C691.9 1165.2 692.5 1164.7 693.0 1164.3C693.6 1164.0 694.2 1163.6 694.7 1163.4C695.2 1163.2 695.7 1163.1 696.1 1163.2C696.5 1163.2 696.8 1163.3 697.0 1163.5Z" fill="none" stroke="#4674b2" stroke-width="3.7" stroke-linejoin="round"/><path d="M725.7 983.6C726.1 983.9 726.4 984.3 726.6 984.8C726.8 985.2 726.9 985.8 727.0 986.5C727.0 987.1 726.9 987.8 726.8 988.6C726.6 989.4 726.4 990.2 726.1 991.1C725.7 991.9 725.3 992.9 724.9 993.7C724.4 994.6 723.8 995.5 723.3 996.3C722.7 997.2 722.0 998.0 721.4 998.7C720.7 999.5 720.0 1000.2 719.3 1000.7C718.6 1001.3 717.9 1001.9 717.2 1002.3C716.5 1002.7 715.9 1003.0 715.2 1003.2C714.6 1003.4 714.0 1003.4 713.5 1003.4C713.0 1003.4 712.6 1003.2 712.2 1002.9C711.8 1002.7 711.5 1002.3 711.3 1001.8C711.1 1001.4 711.0 1000.8 710.9 1000.1C710.9 999.5 711.0 998.8 711.1 998.0C711.2 997.2 711.5 996.3 711.8 995.5C712.1 994.6 712.5 993.7 713.0 992.9C713.5 992.0 714.0 991.1 714.6 990.3C715.2 989.4 715.8 988.6 716.5 987.9C717.2 987.1 717.9 986.4 718.6 985.8C719.3 985.3 720.0 984.7 720.7 984.3C721.3 983.9 722.0 983.6 722.6 983.4C723.2 983.2 723.8 983.2 724.3 983.2C724.9 983.2 725.3 983.4 725.7 983.6Z" fill="none" stroke="#4674b2" stroke-width="3.7" stroke-linejoin="round"/><path d="M694.6 1098.9C698.5 1099.3 700.3 1100.6 701.7 1103.0C703.0 1105.4 703.4 1108.9 702.7 1113.2C702.0 1117.4 700.1 1123.0 697.6 1128.4C695.1 1133.8 691.7 1139.7 687.4 1145.7C683.2 1151.6 677.8 1157.9 672.2 1164.0C666.6 1170.0 660.4 1176.6 653.9 1182.2C647.5 1187.8 640.4 1193.2 633.6 1197.5C626.8 1201.7 619.1 1205.8 613.3 1207.6C607.5 1209.5 602.8 1209.5 599.1 1208.6C595.3 1207.8 592.5 1205.4 590.9 1202.6C589.4 1199.7 589.3 1195.8 589.9 1191.4C590.6 1187.0 592.3 1181.7 595.0 1176.1C597.7 1170.6 601.8 1163.8 606.2 1157.9C610.6 1151.9 615.8 1146.3 621.4 1140.6C627.0 1134.8 633.3 1128.6 639.7 1123.3C646.1 1118.1 653.6 1112.8 660.0 1109.1C666.5 1105.4 672.6 1102.7 678.3 1101.0C684.1 1099.3 690.7 1098.6 694.6 1098.9Z" fill="none" stroke="#e47a1e" stroke-width="3.7" stroke-linejoin="round"/>
</g>
<g id="p23">
<g fill="#4674b2" stroke="#fff" stroke-width="1.4"><circle cx="1480.7" cy="1178.1" r="7.8"/><circle cx="1560.2" cy="1191.6" r="7.8"/><circle cx="1484.7" cy="1174.8" r="7.8"/><circle cx="1460.7" cy="1157.4" r="7.8"/><circle cx="1486.1" cy="1167.3" r="7.8"/><circle cx="1510.8" cy="1176.6" r="7.8"/><circle cx="1536.8" cy="1191.4" r="7.8"/><circle cx="1508.4" cy="1171.0" r="7.8"/><circle cx="1489.9" cy="1188.3" r="7.8"/><circle cx="1461.5" cy="1179.0" r="7.8"/><circle cx="1482.7" cy="1163.8" r="7.8"/><circle cx="1475.4" cy="1166.8" r="7.8"/><circle cx="1502.4" cy="1170.4" r="7.8"/><circle cx="1494.2" cy="1167.8" r="7.8"/><circle cx="1513.4" cy="1180.8" r="7.8"/><circle cx="1518.6" cy="1179.3" r="7.8"/><circle cx="1474.4" cy="1183.4" r="7.8"/><circle cx="1468.7" cy="1158.3" r="7.8"/><circle cx="1458.1" cy="1147.9" r="7.8"/><circle cx="1458.9" cy="1165.6" r="7.8"/><circle cx="1514.5" cy="1189.2" r="7.8"/><circle cx="1485.0" cy="1182.0" r="7.8"/><circle cx="1552.0" cy="1192.9" r="7.8"/><circle cx="1453.2" cy="1165.5" r="7.8"/><circle cx="1456.1" cy="1157.1" r="7.8"/><circle cx="1459.4" cy="1150.9" r="7.8"/><circle cx="1543.9" cy="1190.1" r="7.8"/><circle cx="1456.1" cy="1161.1" r="7.8"/><circle cx="1468.4" cy="1151.0" r="7.8"/><circle cx="1447.3" cy="1148.0" r="7.8"/><circle cx="1524.8" cy="1187.9" r="7.8"/><circle cx="1447.3" cy="1167.0" r="7.8"/><circle cx="1510.1" cy="1186.0" r="7.8"/><circle cx="1478.1" cy="1174.3" r="7.8"/><circle cx="1545.3" cy="1190.5" r="7.8"/><circle cx="1446.0" cy="1151.4" r="7.8"/><circle cx="1470.0" cy="1179.9" r="7.8"/><circle cx="1496.5" cy="1183.7" r="7.8"/><circle cx="1475.5" cy="1154.6" r="7.8"/><circle cx="1506.6" cy="1186.5" r="7.8"/><circle cx="1461.6" cy="1171.9" r="7.8"/><circle cx="1473.8" cy="1178.1" r="7.8"/><circle cx="1537.8" cy="1188.6" r="7.8"/><circle cx="1468.3" cy="1160.1" r="7.8"/><circle cx="1481.9" cy="1182.1" r="7.8"/><circle cx="1479.2" cy="1155.5" r="7.8"/><circle cx="1486.4" cy="1163.7" r="7.8"/><circle cx="1552.2" cy="1194.3" r="7.8"/><circle cx="1468.0" cy="1167.8" r="7.8"/><circle cx="1529.5" cy="1185.7" r="7.8"/><circle cx="1480.0" cy="1154.8" r="7.8"/><circle cx="1449.6" cy="1160.6" r="7.8"/><circle cx="1463.3" cy="1160.4" r="7.8"/><circle cx="1493.6" cy="1184.7" r="7.8"/><circle cx="1443.4" cy="1156.8" r="7.8"/><circle cx="1519.9" cy="1189.9" r="7.8"/><circle cx="1449.5" cy="1158.7" r="7.8"/><circle cx="1525.5" cy="1179.8" r="7.8"/><circle cx="1516.0" cy="1184.4" r="7.8"/><circle cx="1499.2" cy="1187.5" r="7.8"/><circle cx="1471.7" cy="1157.1" r="7.8"/><circle cx="1497.1" cy="1178.7" r="7.8"/><circle cx="1474.1" cy="1163.3" r="7.8"/><circle cx="1506.7" cy="1191.7" r="7.8"/><circle cx="1455.2" cy="1175.2" r="7.8"/><circle cx="1535.3" cy="1187.9" r="7.8"/><circle cx="1464.0" cy="1165.7" r="7.8"/><circle cx="1499.5" cy="1173.3" r="7.8"/><circle cx="1488.2" cy="1173.2" r="7.8"/><circle cx="1502.2" cy="1181.4" r="7.8"/><circle cx="1520.2" cy="1179.3" r="7.8"/><circle cx="1462.6" cy="1148.1" r="7.8"/><circle cx="1535.2" cy="1194.9" r="7.8"/><circle cx="1484.3" cy="1187.5" r="7.8"/><circle cx="1507.5" cy="1176.3" r="7.8"/><circle cx="1468.3" cy="1171.6" r="7.8"/><circle cx="1463.4" cy="1152.5" r="7.8"/><circle cx="1453.2" cy="1148.0" r="7.8"/><circle cx="1490.4" cy="1164.3" r="7.8"/><circle cx="1469.9" cy="1175.1" r="7.8"/><circle cx="1483.5" cy="1171.6" r="7.8"/><circle cx="1494.3" cy="1180.1" r="7.8"/><circle cx="1532.4" cy="1189.0" r="7.8"/><circle cx="1457.9" cy="1162.1" r="7.8"/><circle cx="1499.8" cy="1178.2" r="7.8"/><circle cx="1454.7" cy="1155.0" r="7.8"/><circle cx="1565.1" cy="1190.8" r="7.8"/><circle cx="1529.6" cy="1183.2" r="7.8"/><circle cx="1455.5" cy="1170.6" r="7.8"/><circle cx="1462.4" cy="1170.5" r="7.8"/><circle cx="1510.9" cy="1182.8" r="7.8"/><circle cx="1501.0" cy="1166.3" r="7.8"/><circle cx="1463.4" cy="1182.2" r="7.8"/><circle cx="1494.0" cy="1174.3" r="7.8"/><circle cx="1488.4" cy="1179.0" r="7.8"/><circle cx="1489.8" cy="1169.6" r="7.8"/><circle cx="1450.6" cy="1171.8" r="7.8"/><circle cx="1473.8" cy="1184.4" r="7.8"/><circle cx="1526.1" cy="1193.6" r="7.8"/><circle cx="1480.3" cy="1165.0" r="7.8"/><circle cx="1453.4" cy="1144.1" r="7.8"/><circle cx="1434.8" cy="970.5" r="7.8"/><circle cx="1435.3" cy="989.4" r="7.8"/><circle cx="1435.3" cy="1018.7" r="7.8"/><circle cx="1478.3" cy="1136.9" r="7.8"/><circle cx="1455.8" cy="1116.2" r="7.8"/><circle cx="1442.8" cy="1150.4" r="7.8"/><circle cx="1442.8" cy="1164.6" r="7.8"/><circle cx="1453.5" cy="1176.4" r="7.8"/><circle cx="1468.8" cy="1187.0" r="7.8"/><circle cx="1485.3" cy="1188.2" r="7.8"/><circle cx="1499.5" cy="1187.0" r="7.8"/><circle cx="1500.7" cy="1191.7" r="7.8"/><circle cx="1516.0" cy="1176.4" r="7.8"/><circle cx="1515.6" cy="1191.7" r="7.8"/><circle cx="1523.1" cy="1182.3" r="7.8"/><circle cx="1531.4" cy="1183.4" r="7.8"/><circle cx="1527.4" cy="1192.4" r="7.8"/><circle cx="1546.7" cy="1179.9" r="7.8"/><circle cx="1537.3" cy="1194.1" r="7.8"/><circle cx="1540.1" cy="1197.6" r="7.8"/><circle cx="1551.5" cy="1190.5" r="7.8"/><circle cx="1560.9" cy="1192.9" r="7.8"/><circle cx="1569.2" cy="1191.7" r="7.8"/><circle cx="1541.5" cy="1185.8" r="7.8"/><circle cx="1556.2" cy="1187.0" r="7.8"/><circle cx="1578.6" cy="1193.6" r="7.8"/><circle cx="1585.7" cy="1195.2" r="7.8"/><circle cx="1719.8" cy="1198.1" r="7.8"/><circle cx="1440.5" cy="1071.3" r="7.8"/></g><g fill="#e5812b" stroke="#fff" stroke-width="1.4"><circle cx="1493.4" cy="1172.7" r="7.8"/><circle cx="1472.8" cy="1169.7" r="7.8"/><circle cx="1466.6" cy="1170.2" r="7.8"/><circle cx="1460.2" cy="1171.7" r="7.8"/><circle cx="1477.2" cy="1166.1" r="7.8"/><circle cx="1455.1" cy="1160.0" r="7.8"/><circle cx="1494.1" cy="1166.2" r="7.8"/><circle cx="1448.8" cy="1143.2" r="7.8"/><circle cx="1455.6" cy="1164.8" r="7.8"/><circle cx="1483.9" cy="1166.8" r="7.8"/><circle cx="1466.9" cy="1152.2" r="7.8"/><circle cx="1485.6" cy="1175.9" r="7.8"/><circle cx="1471.3" cy="1173.1" r="7.8"/><circle cx="1472.9" cy="1167.2" r="7.8"/><circle cx="1473.9" cy="1170.9" r="7.8"/><circle cx="1465.9" cy="1146.0" r="7.8"/><circle cx="1459.1" cy="1153.2" r="7.8"/><circle cx="1459.9" cy="1156.3" r="7.8"/><circle cx="1466.9" cy="1148.3" r="7.8"/><circle cx="1484.9" cy="1179.7" r="7.8"/><circle cx="1468.2" cy="1156.9" r="7.8"/><circle cx="1493.4" cy="1178.1" r="7.8"/><circle cx="1492.7" cy="1172.3" r="7.8"/><circle cx="1474.2" cy="1156.0" r="7.8"/><circle cx="1449.2" cy="1151.0" r="7.8"/><circle cx="1435.0" cy="946.2" r="7.8"/><circle cx="1436.9" cy="979.9" r="7.8"/><circle cx="1435.3" cy="999.3" r="7.8"/><circle cx="1441.7" cy="1023.6" r="7.8"/><circle cx="1440.5" cy="1029.5" r="7.8"/><circle cx="1438.1" cy="1022.9" r="7.8"/><circle cx="1435.0" cy="1037.5" r="7.8"/><circle cx="1435.3" cy="1045.3" r="7.8"/><circle cx="1444.0" cy="1060.7" r="7.8"/><circle cx="1435.8" cy="1059.0" r="7.8"/><circle cx="1435.8" cy="1071.3" r="7.8"/><circle cx="1436.2" cy="1085.5" r="7.8"/><circle cx="1436.9" cy="1097.3" r="7.8"/><circle cx="1447.6" cy="1089.5" r="7.8"/><circle cx="1452.3" cy="1106.7" r="7.8"/><circle cx="1451.1" cy="1117.3" r="7.8"/><circle cx="1442.1" cy="1112.6" r="7.8"/><circle cx="1444.0" cy="1140.9" r="7.8"/><circle cx="1445.2" cy="1133.2" r="7.8"/><circle cx="1466.5" cy="1142.1" r="7.8"/><circle cx="1464.1" cy="1136.2" r="7.8"/><circle cx="1454.6" cy="1142.1" r="7.8"/><circle cx="1449.9" cy="1150.4" r="7.8"/><circle cx="1461.7" cy="1150.4" r="7.8"/><circle cx="1451.1" cy="1157.9" r="7.8"/><circle cx="1468.8" cy="1155.1" r="7.8"/><circle cx="1457.0" cy="1158.7" r="7.8"/><circle cx="1474.7" cy="1159.8" r="7.8"/><circle cx="1501.4" cy="1157.5" r="7.8"/><circle cx="1471.2" cy="1164.6" r="7.8"/><circle cx="1493.6" cy="1169.3" r="7.8"/><circle cx="1487.7" cy="1169.3" r="7.8"/><circle cx="1506.6" cy="1170.0" r="7.8"/><circle cx="1496.7" cy="1174.0" r="7.8"/><circle cx="1459.4" cy="1172.8" r="7.8"/><circle cx="1473.5" cy="1171.2" r="7.8"/><circle cx="1479.4" cy="1175.2" r="7.8"/><circle cx="1470.0" cy="1178.7" r="7.8"/><circle cx="1475.9" cy="1179.9" r="7.8"/><circle cx="1510.1" cy="1179.9" r="7.8"/><circle cx="1488.2" cy="1183.0" r="7.8"/></g>
</g>
<g id="p30">
<path d="M179.2 1477.1C181.8 1476.5 185.0 1478.0 187.4 1479.2C189.7 1480.3 191.8 1482.0 193.5 1484.2C195.1 1486.4 196.5 1489.3 197.5 1492.4C198.5 1495.4 198.2 1499.5 199.5 1502.5C200.9 1505.6 203.3 1507.9 205.6 1510.7C208.0 1513.4 211.2 1516.1 213.8 1518.8C216.3 1521.5 219.2 1524.2 220.9 1526.9C222.6 1529.6 223.8 1532.3 223.9 1535.0C224.1 1537.7 222.7 1540.8 221.9 1543.2C221.0 1545.5 218.8 1547.1 218.8 1549.3C218.8 1551.5 220.0 1554.5 221.9 1556.4C223.8 1558.2 227.0 1559.4 230.0 1560.4C233.1 1561.4 237.1 1561.4 240.2 1562.5C243.2 1563.5 245.9 1564.8 248.3 1566.5C250.7 1568.2 252.4 1570.1 254.4 1572.6C256.4 1575.2 258.8 1578.5 260.5 1581.8C262.2 1585.0 262.9 1588.5 264.6 1591.9C266.3 1595.3 268.3 1598.7 270.7 1602.1C273.0 1605.5 276.1 1609.0 278.8 1612.2C281.5 1615.5 284.5 1618.3 286.9 1621.4C289.3 1624.4 291.6 1627.3 293.0 1630.5C294.4 1633.7 294.9 1637.0 295.0 1640.7C295.2 1644.4 294.7 1649.3 294.0 1652.9C293.3 1656.4 292.8 1660.0 291.0 1662.0C289.1 1664.0 285.9 1664.9 282.8 1665.1C279.8 1665.2 276.4 1664.0 272.7 1663.0C269.0 1662.0 264.9 1659.3 260.5 1659.0C256.1 1658.6 251.0 1660.0 246.3 1661.0C241.5 1662.0 236.8 1664.2 232.1 1665.1C227.3 1665.9 222.6 1666.1 217.8 1666.1C213.1 1666.1 208.4 1664.9 203.6 1665.1C198.9 1665.2 193.8 1667.1 189.4 1667.1C185.0 1667.1 180.8 1666.6 177.2 1665.1C173.6 1663.5 169.9 1661.0 168.1 1657.9C166.2 1654.9 167.2 1650.3 166.0 1646.8C164.8 1643.2 163.0 1640.3 160.9 1636.6C158.9 1632.9 155.7 1628.8 153.8 1624.4C152.0 1620.0 150.5 1615.3 149.8 1610.2C149.1 1605.1 149.4 1599.4 149.8 1594.0C150.1 1588.5 151.0 1583.1 151.8 1577.7C152.7 1572.3 153.7 1566.9 154.9 1561.4C156.0 1556.0 157.4 1550.3 158.9 1545.2C160.4 1540.1 162.6 1535.4 164.0 1531.0C165.3 1526.6 166.7 1522.8 167.0 1518.8C167.4 1514.7 165.9 1510.7 166.0 1506.6C166.2 1502.5 167.0 1498.3 168.1 1494.4C169.1 1490.5 170.3 1486.1 172.1 1483.2C174.0 1480.3 176.7 1477.8 179.2 1477.1Z" fill="none" stroke="#4674b2" stroke-width="3.7" stroke-linejoin="round"/><path d="M182.3 1509.6C183.9 1509.8 187.5 1511.2 189.4 1512.7C191.3 1514.2 193.5 1516.9 193.5 1518.8C193.5 1520.6 190.1 1522.0 189.4 1523.9C188.7 1525.7 188.4 1527.4 189.4 1530.0C190.4 1532.5 193.1 1535.9 195.5 1539.1C197.9 1542.3 201.2 1545.9 203.6 1549.3C206.0 1552.6 208.0 1556.0 209.7 1559.4C211.4 1562.8 212.1 1566.2 213.8 1569.6C215.5 1573.0 217.5 1576.5 219.9 1579.7C222.2 1582.9 224.9 1586.5 228.0 1588.9C231.0 1591.2 235.1 1593.1 238.1 1594.0C241.2 1594.8 243.9 1593.1 246.3 1594.0C248.6 1594.8 250.5 1596.7 252.4 1599.0C254.2 1601.4 256.1 1605.0 257.4 1608.2C258.8 1611.4 259.0 1614.9 260.5 1618.3C262.0 1621.7 264.2 1625.6 266.6 1628.5C269.0 1631.4 272.7 1633.2 274.7 1635.6C276.7 1638.0 278.6 1640.5 278.8 1642.7C279.0 1644.9 277.4 1648.1 275.7 1648.8C274.0 1649.5 271.2 1647.4 268.6 1646.8C266.1 1646.1 262.9 1644.1 260.5 1644.7C258.1 1645.4 257.4 1648.8 254.4 1650.8C251.4 1652.9 246.6 1655.4 242.2 1656.9C237.8 1658.5 232.7 1659.3 228.0 1660.0C223.3 1660.7 218.8 1661.0 213.8 1661.0C208.7 1661.0 202.6 1660.3 197.5 1660.0C192.4 1659.6 187.4 1660.1 183.3 1659.0C179.2 1657.8 175.3 1655.6 173.1 1652.9C170.9 1650.2 171.4 1646.4 170.1 1642.7C168.7 1639.0 166.9 1634.6 165.0 1630.5C163.1 1626.5 160.6 1622.7 158.9 1618.3C157.2 1613.9 155.5 1609.2 154.9 1604.1C154.2 1599.0 154.5 1593.3 154.9 1587.9C155.2 1582.4 155.9 1577.0 156.9 1571.6C157.9 1566.2 159.3 1560.4 160.9 1555.3C162.6 1550.3 164.7 1545.2 167.0 1541.1C169.4 1537.1 172.5 1533.3 175.2 1531.0C177.9 1528.6 181.6 1528.4 183.3 1526.9C185.0 1525.4 185.8 1523.5 185.3 1521.8C184.8 1520.1 181.2 1518.4 180.2 1516.7C179.3 1515.1 179.3 1512.9 179.6 1511.7C180.0 1510.5 180.7 1509.5 182.3 1509.6Z" fill="none" stroke="#4674b2" stroke-width="3.7" stroke-linejoin="round"/><path d="M181.3 1527.9C184.1 1527.4 188.4 1530.1 191.4 1533.0C194.5 1535.9 196.8 1540.8 199.5 1545.2C202.3 1549.6 205.3 1554.7 207.7 1559.4C210.0 1564.2 211.4 1568.9 213.8 1573.6C216.1 1578.4 218.5 1583.5 221.9 1587.9C225.3 1592.3 230.0 1596.3 234.1 1600.0C238.1 1603.8 242.9 1606.5 246.3 1610.2C249.7 1613.9 252.0 1618.7 254.4 1622.4C256.8 1626.1 259.1 1629.5 260.5 1632.6C261.9 1635.6 263.2 1638.3 262.5 1640.7C261.9 1643.0 259.1 1644.7 256.4 1646.8C253.7 1648.8 250.3 1651.3 246.3 1652.9C242.2 1654.4 237.1 1655.2 232.1 1655.9C227.0 1656.6 221.2 1656.9 215.8 1656.9C210.4 1656.9 204.6 1656.4 199.5 1655.9C194.5 1655.4 189.4 1655.4 185.3 1653.9C181.3 1652.4 177.7 1650.0 175.2 1646.8C172.6 1643.6 172.0 1639.0 170.1 1634.6C168.2 1630.2 165.7 1625.4 164.0 1620.4C162.3 1615.3 160.6 1609.9 159.9 1604.1C159.3 1598.4 159.4 1591.9 159.9 1585.8C160.4 1579.7 161.6 1573.3 163.0 1567.5C164.3 1561.8 166.2 1556.5 168.1 1551.3C169.9 1546.0 172.0 1539.9 174.2 1536.0C176.4 1532.2 178.4 1528.4 181.3 1527.9Z" fill="none" stroke="#4674b2" stroke-width="3.7" stroke-linejoin="round"/><path d="M180.2 1538.1C182.4 1538.1 186.5 1540.3 189.4 1543.2C192.3 1546.0 194.8 1550.9 197.5 1555.3C200.2 1559.8 202.9 1564.8 205.6 1569.6C208.4 1574.3 210.7 1579.1 213.8 1583.8C216.8 1588.5 220.2 1593.6 223.9 1598.0C227.7 1602.4 232.4 1606.1 236.1 1610.2C239.8 1614.3 243.6 1618.7 246.3 1622.4C249.0 1626.1 251.7 1629.5 252.4 1632.6C253.0 1635.6 252.4 1638.0 250.3 1640.7C248.3 1643.4 244.2 1646.8 240.2 1648.8C236.1 1650.8 231.0 1652.1 226.0 1652.9C220.9 1653.6 215.1 1653.4 209.7 1653.3C204.3 1653.1 198.2 1652.9 193.5 1651.9C188.7 1650.8 184.5 1649.7 181.3 1646.8C178.0 1643.9 176.4 1639.0 174.2 1634.6C172.0 1630.2 169.8 1625.4 168.1 1620.4C166.4 1615.3 164.7 1609.5 164.0 1604.1C163.3 1598.7 163.5 1593.6 164.0 1587.9C164.5 1582.1 165.7 1575.3 167.0 1569.6C168.4 1563.8 170.6 1557.7 172.1 1553.3C173.6 1548.9 174.8 1545.7 176.2 1543.2C177.5 1540.6 178.0 1538.1 180.2 1538.1Z" fill="none" stroke="#4674b2" stroke-width="3.7" stroke-linejoin="round"/><path d="M181.3 1549.3C183.5 1548.7 186.7 1551.6 189.4 1554.3C192.1 1557.0 194.8 1561.3 197.5 1565.5C200.2 1569.7 202.6 1575.0 205.6 1579.7C208.7 1584.5 212.1 1589.2 215.8 1594.0C219.5 1598.7 224.3 1603.8 228.0 1608.2C231.7 1612.6 235.6 1616.6 238.1 1620.4C240.7 1624.1 242.9 1627.3 243.2 1630.5C243.6 1633.7 242.4 1637.0 240.2 1639.7C238.0 1642.4 234.1 1645.1 230.0 1646.8C226.0 1648.5 220.5 1649.5 215.8 1649.8C211.1 1650.2 206.3 1649.7 201.6 1648.8C196.8 1648.0 191.1 1647.1 187.4 1644.7C183.6 1642.4 181.6 1638.6 179.2 1634.6C176.9 1630.5 174.8 1625.4 173.1 1620.4C171.4 1615.3 169.8 1609.5 169.1 1604.1C168.4 1598.7 168.6 1593.3 169.1 1587.9C169.6 1582.4 170.9 1576.7 172.1 1571.6C173.3 1566.5 174.7 1561.1 176.2 1557.4C177.7 1553.7 179.1 1549.8 181.3 1549.3Z" fill="none" stroke="#4674b2" stroke-width="3.7" stroke-linejoin="round"/><path d="M228.8 1618.3C229.9 1619.8 230.9 1621.4 231.7 1623.2C232.6 1624.9 233.9 1627.0 234.0 1628.7C234.1 1630.5 233.2 1632.3 232.3 1633.8C231.5 1635.3 230.1 1636.6 228.8 1637.8C227.5 1639.0 226.1 1640.1 224.5 1640.9C222.9 1641.7 220.9 1642.1 219.3 1642.5C217.6 1643.0 216.1 1643.4 214.5 1643.6C212.9 1643.9 211.4 1644.1 209.9 1644.1C208.5 1644.1 207.0 1643.9 205.6 1643.8C204.3 1643.8 203.1 1643.8 201.9 1643.6C200.6 1643.5 199.4 1643.2 198.3 1642.9C197.2 1642.7 196.1 1642.4 195.1 1642.1C194.0 1641.8 193.1 1641.5 192.1 1641.2C191.1 1640.9 190.0 1640.9 189.2 1640.4C188.3 1639.9 187.6 1638.9 186.9 1638.1C186.2 1637.3 185.6 1636.5 185.0 1635.8C184.4 1635.1 183.8 1634.4 183.2 1633.7C182.7 1633.1 182.1 1632.4 181.7 1631.7C181.2 1631.0 181.0 1630.2 180.6 1629.4C180.3 1628.7 180.0 1628.0 179.6 1627.2C179.3 1626.5 179.0 1625.8 178.7 1625.1C178.4 1624.4 178.1 1623.7 177.7 1623.0C177.4 1622.2 177.1 1621.5 176.8 1620.7C176.5 1620.0 176.3 1619.2 176.1 1618.3C175.9 1617.5 175.7 1616.7 175.5 1615.7C175.2 1614.8 175.0 1613.9 174.8 1612.9C174.6 1611.9 174.3 1610.8 174.1 1609.6C173.8 1608.5 173.5 1607.1 173.4 1605.8C173.3 1604.5 173.5 1603.3 173.5 1601.8C173.6 1600.3 173.6 1598.7 173.7 1596.9C173.8 1595.2 173.9 1593.2 174.2 1591.2C174.6 1589.1 175.0 1587.1 175.6 1584.6C176.2 1582.2 176.8 1579.4 177.7 1576.5C178.7 1573.6 179.6 1568.9 181.4 1567.1C183.1 1565.3 185.8 1564.5 188.1 1565.5C190.4 1566.5 193.1 1570.6 195.1 1573.1C197.1 1575.6 198.6 1578.5 200.0 1580.8C201.4 1583.0 202.5 1585.0 203.6 1586.7C204.6 1588.4 205.6 1589.5 206.5 1590.7C207.4 1592.0 208.2 1593.1 209.0 1594.1C209.8 1595.2 210.6 1596.2 211.3 1597.2C212.0 1598.2 212.8 1599.0 213.5 1599.9C214.2 1600.8 215.0 1601.6 215.7 1602.5C216.5 1603.3 217.2 1604.2 218.0 1605.1C218.7 1606.0 219.5 1606.9 220.3 1607.9C221.1 1608.8 222.0 1609.8 222.8 1610.9C223.7 1612.0 224.6 1613.1 225.6 1614.3C226.6 1615.5 227.8 1616.9 228.8 1618.3Z" fill="none" stroke="#4674b2" stroke-width="3.7" stroke-linejoin="round"/><path d="M224.3 1618.3C225.2 1619.6 226.0 1621.0 226.8 1622.5C227.5 1624.0 228.5 1625.8 228.6 1627.3C228.7 1628.8 228.0 1630.3 227.2 1631.7C226.5 1633.0 225.3 1634.1 224.2 1635.1C223.1 1636.2 221.9 1637.2 220.5 1637.9C219.2 1638.6 217.5 1638.9 216.1 1639.4C214.7 1639.8 213.3 1640.1 212.0 1640.4C210.6 1640.6 209.3 1640.8 208.1 1640.8C206.8 1640.9 205.5 1640.7 204.3 1640.6C203.1 1640.6 202.1 1640.6 201.0 1640.5C200.0 1640.4 198.9 1640.1 197.9 1639.9C196.9 1639.7 196.0 1639.4 195.1 1639.2C194.2 1638.9 193.3 1638.7 192.4 1638.4C191.6 1638.2 190.7 1638.1 189.9 1637.7C189.1 1637.3 188.5 1636.4 187.9 1635.7C187.2 1635.1 186.7 1634.4 186.2 1633.8C185.6 1633.2 185.1 1632.6 184.6 1632.0C184.1 1631.4 183.6 1630.8 183.2 1630.2C182.8 1629.6 182.5 1628.9 182.2 1628.2C181.9 1627.6 181.6 1626.9 181.3 1626.3C181.0 1625.6 180.7 1625.0 180.4 1624.4C180.1 1623.8 179.9 1623.1 179.6 1622.5C179.3 1621.8 179.0 1621.2 178.7 1620.5C178.5 1619.8 178.3 1619.1 178.1 1618.3C177.9 1617.6 177.8 1616.8 177.6 1616.0C177.4 1615.2 177.2 1614.4 177.0 1613.5C176.9 1612.6 176.6 1611.7 176.5 1610.6C176.3 1609.6 176.0 1608.4 176.0 1607.3C175.9 1606.2 176.1 1605.1 176.2 1603.8C176.2 1602.5 176.2 1601.1 176.4 1599.6C176.5 1598.1 176.7 1596.5 177.0 1594.8C177.3 1593.0 177.8 1591.3 178.3 1589.2C178.8 1587.2 179.4 1584.8 180.2 1582.4C181.0 1580.0 181.9 1576.1 183.4 1574.6C184.8 1573.1 187.2 1572.4 189.1 1573.3C191.1 1574.1 193.4 1577.4 195.1 1579.6C196.8 1581.7 198.1 1584.1 199.3 1586.0C200.6 1587.9 201.5 1589.6 202.4 1591.0C203.4 1592.4 204.2 1593.3 205.0 1594.4C205.8 1595.4 206.5 1596.4 207.2 1597.3C207.9 1598.2 208.6 1599.1 209.2 1599.9C209.9 1600.7 210.5 1601.5 211.1 1602.3C211.8 1603.0 212.5 1603.7 213.1 1604.5C213.8 1605.2 214.4 1606.0 215.1 1606.8C215.7 1607.6 216.4 1608.4 217.1 1609.2C217.8 1610.1 218.5 1610.9 219.3 1611.9C220.0 1612.8 220.8 1613.8 221.6 1614.8C222.5 1615.9 223.5 1617.1 224.3 1618.3Z" fill="none" stroke="#4674b2" stroke-width="3.7" stroke-linejoin="round"/><path d="M219.9 1618.3C220.5 1619.4 221.2 1620.6 221.8 1621.8C222.4 1623.1 223.2 1624.6 223.3 1625.9C223.3 1627.2 222.8 1628.4 222.1 1629.5C221.5 1630.6 220.6 1631.6 219.6 1632.5C218.7 1633.4 217.7 1634.2 216.6 1634.8C215.5 1635.5 214.1 1635.8 212.9 1636.2C211.7 1636.5 210.6 1636.9 209.5 1637.1C208.3 1637.3 207.2 1637.5 206.2 1637.5C205.1 1637.6 204.0 1637.5 203.0 1637.4C202.0 1637.4 201.1 1637.4 200.2 1637.4C199.3 1637.3 198.4 1637.1 197.5 1636.9C196.7 1636.7 195.9 1636.5 195.1 1636.3C194.3 1636.1 193.5 1635.9 192.8 1635.6C192.1 1635.4 191.3 1635.4 190.6 1635.0C189.9 1634.6 189.4 1633.9 188.8 1633.4C188.3 1632.8 187.8 1632.3 187.3 1631.7C186.9 1631.2 186.4 1630.7 186.0 1630.2C185.5 1629.7 185.1 1629.2 184.7 1628.7C184.4 1628.2 184.1 1627.5 183.8 1627.0C183.5 1626.4 183.3 1625.9 183.0 1625.3C182.7 1624.8 182.4 1624.2 182.2 1623.7C181.9 1623.1 181.7 1622.6 181.4 1622.0C181.2 1621.4 180.9 1620.8 180.7 1620.2C180.5 1619.6 180.3 1619.0 180.1 1618.3C180.0 1617.7 179.8 1617.0 179.7 1616.3C179.5 1615.6 179.4 1614.9 179.3 1614.1C179.1 1613.3 179.0 1612.5 178.8 1611.6C178.7 1610.7 178.6 1609.7 178.5 1608.8C178.5 1607.8 178.7 1606.9 178.8 1605.8C178.9 1604.8 178.9 1603.6 179.1 1602.4C179.3 1601.1 179.4 1599.8 179.7 1598.3C180.1 1596.9 180.5 1595.5 180.9 1593.8C181.4 1592.2 181.9 1590.3 182.7 1588.3C183.4 1586.4 184.1 1583.3 185.4 1582.0C186.6 1580.8 188.5 1580.3 190.2 1581.0C191.8 1581.7 193.7 1584.3 195.1 1586.0C196.5 1587.7 197.6 1589.7 198.6 1591.2C199.7 1592.8 200.5 1594.1 201.3 1595.3C202.1 1596.4 202.8 1597.2 203.5 1598.1C204.2 1598.9 204.8 1599.7 205.4 1600.5C206.0 1601.2 206.6 1601.9 207.1 1602.6C207.7 1603.3 208.2 1604.0 208.8 1604.6C209.4 1605.3 209.9 1605.9 210.5 1606.5C211.0 1607.2 211.6 1607.8 212.1 1608.5C212.7 1609.2 213.3 1609.8 213.9 1610.5C214.5 1611.3 215.0 1612.0 215.7 1612.8C216.3 1613.6 216.9 1614.4 217.6 1615.4C218.3 1616.3 219.2 1617.2 219.9 1618.3Z" fill="none" stroke="#4674b2" stroke-width="3.7" stroke-linejoin="round"/><path d="M215.4 1618.3C215.9 1619.2 216.4 1620.2 216.8 1621.2C217.3 1622.2 217.9 1623.4 217.9 1624.5C218.0 1625.5 217.5 1626.5 217.1 1627.4C216.6 1628.3 215.8 1629.1 215.1 1629.9C214.3 1630.6 213.5 1631.3 212.7 1631.8C211.8 1632.3 210.7 1632.7 209.7 1633.0C208.8 1633.3 207.9 1633.6 207.0 1633.8C206.0 1634.0 205.2 1634.2 204.3 1634.3C203.4 1634.3 202.5 1634.2 201.7 1634.2C200.8 1634.2 200.1 1634.3 199.3 1634.2C198.6 1634.2 197.8 1634.0 197.1 1633.9C196.4 1633.7 195.7 1633.6 195.1 1633.4C194.4 1633.2 193.8 1633.0 193.2 1632.9C192.5 1632.7 191.9 1632.6 191.3 1632.3C190.8 1632.0 190.3 1631.5 189.8 1631.0C189.3 1630.6 188.9 1630.1 188.5 1629.7C188.1 1629.3 187.7 1628.9 187.3 1628.4C186.9 1628.0 186.6 1627.6 186.2 1627.2C185.9 1626.7 185.7 1626.2 185.4 1625.8C185.1 1625.3 184.9 1624.8 184.7 1624.3C184.4 1623.9 184.2 1623.4 183.9 1622.9C183.7 1622.5 183.5 1622.0 183.3 1621.5C183.1 1621.0 182.8 1620.5 182.6 1620.0C182.5 1619.4 182.3 1618.9 182.2 1618.3C182.0 1617.8 181.9 1617.2 181.8 1616.6C181.7 1616.0 181.6 1615.4 181.5 1614.7C181.4 1614.0 181.3 1613.3 181.2 1612.6C181.2 1611.9 181.1 1611.1 181.1 1610.3C181.1 1609.5 181.3 1608.7 181.4 1607.8C181.5 1607.0 181.6 1606.1 181.8 1605.1C182.0 1604.1 182.2 1603.0 182.5 1601.9C182.8 1600.8 183.2 1599.7 183.6 1598.4C184.0 1597.2 184.5 1595.7 185.1 1594.2C185.7 1592.8 186.3 1590.4 187.3 1589.5C188.4 1588.6 189.9 1588.2 191.2 1588.7C192.5 1589.2 193.9 1591.2 195.1 1592.5C196.2 1593.8 197.1 1595.3 198.0 1596.5C198.8 1597.6 199.4 1598.7 200.1 1599.5C200.8 1600.4 201.4 1601.0 202.0 1601.7C202.5 1602.4 203.1 1603.0 203.6 1603.6C204.1 1604.2 204.6 1604.8 205.0 1605.4C205.5 1605.9 206.0 1606.4 206.4 1607.0C206.9 1607.5 207.4 1608.0 207.9 1608.5C208.3 1609.1 208.8 1609.6 209.2 1610.2C209.7 1610.7 210.2 1611.3 210.6 1611.9C211.1 1612.5 211.6 1613.1 212.1 1613.8C212.6 1614.4 213.1 1615.1 213.6 1615.9C214.2 1616.6 214.8 1617.4 215.4 1618.3Z" fill="none" stroke="#4674b2" stroke-width="3.7" stroke-linejoin="round"/><path d="M210.9 1618.3C211.2 1619.0 211.6 1619.8 211.9 1620.5C212.2 1621.3 212.6 1622.2 212.6 1623.0C212.6 1623.8 212.3 1624.6 212.0 1625.3C211.6 1626.0 211.0 1626.6 210.5 1627.2C209.9 1627.8 209.4 1628.4 208.7 1628.8C208.1 1629.2 207.3 1629.5 206.6 1629.8C205.8 1630.1 205.1 1630.3 204.4 1630.5C203.7 1630.7 203.1 1630.9 202.4 1631.0C201.7 1631.1 201.0 1631.0 200.3 1631.0C199.7 1631.1 199.1 1631.1 198.5 1631.1C197.9 1631.1 197.3 1630.9 196.7 1630.8C196.2 1630.7 195.6 1630.6 195.1 1630.5C194.5 1630.4 194.0 1630.2 193.5 1630.1C193.0 1629.9 192.5 1629.9 192.0 1629.7C191.6 1629.4 191.2 1629.0 190.8 1628.7C190.4 1628.3 190.0 1628.0 189.7 1627.7C189.3 1627.3 189.0 1627.0 188.7 1626.7C188.3 1626.3 188.0 1626.0 187.8 1625.7C187.5 1625.3 187.2 1624.9 187.0 1624.5C186.8 1624.2 186.6 1623.8 186.3 1623.4C186.1 1623.0 185.9 1622.6 185.7 1622.2C185.5 1621.8 185.3 1621.4 185.1 1621.0C184.9 1620.6 184.7 1620.2 184.6 1619.7C184.4 1619.3 184.3 1618.8 184.2 1618.3C184.1 1617.9 184.0 1617.4 183.9 1616.9C183.9 1616.4 183.8 1615.8 183.8 1615.3C183.7 1614.8 183.6 1614.2 183.6 1613.6C183.6 1613.0 183.6 1612.4 183.7 1611.7C183.7 1611.1 183.9 1610.5 184.0 1609.9C184.2 1609.2 184.3 1608.5 184.5 1607.8C184.7 1607.1 185.0 1606.3 185.2 1605.5C185.5 1604.7 185.9 1603.9 186.3 1603.0C186.6 1602.2 187.0 1601.2 187.6 1600.2C188.1 1599.2 188.6 1597.6 189.3 1596.9C190.1 1596.3 191.2 1596.1 192.2 1596.4C193.2 1596.8 194.2 1598.1 195.1 1599.0C195.9 1599.8 196.6 1600.9 197.3 1601.7C197.9 1602.5 198.4 1603.2 199.0 1603.8C199.5 1604.4 200.0 1604.9 200.4 1605.4C200.9 1605.9 201.3 1606.3 201.8 1606.8C202.2 1607.2 202.6 1607.6 202.9 1608.1C203.3 1608.5 203.7 1608.9 204.1 1609.3C204.5 1609.7 204.9 1610.1 205.2 1610.5C205.6 1611.0 205.9 1611.4 206.3 1611.9C206.7 1612.3 207.0 1612.7 207.4 1613.2C207.8 1613.7 208.1 1614.2 208.5 1614.7C208.9 1615.3 209.3 1615.8 209.6 1616.4C210.0 1617.0 210.5 1617.6 210.9 1618.3Z" fill="none" stroke="#4674b2" stroke-width="3.7" stroke-linejoin="round"/><path d="M206.4 1618.3C206.6 1618.8 206.8 1619.3 206.9 1619.9C207.1 1620.4 207.3 1621.0 207.3 1621.6C207.2 1622.1 207.1 1622.7 206.9 1623.2C206.6 1623.7 206.3 1624.2 205.9 1624.6C205.6 1625.0 205.2 1625.4 204.8 1625.8C204.4 1626.1 203.8 1626.4 203.4 1626.6C202.9 1626.9 202.4 1627.1 201.9 1627.3C201.4 1627.4 201.0 1627.6 200.5 1627.7C200.0 1627.8 199.5 1627.8 199.0 1627.8C198.5 1627.9 198.1 1628.0 197.7 1628.0C197.2 1628.0 196.8 1627.9 196.3 1627.8C195.9 1627.8 195.5 1627.7 195.1 1627.6C194.7 1627.6 194.3 1627.4 193.9 1627.3C193.5 1627.2 193.1 1627.1 192.8 1627.0C192.4 1626.8 192.1 1626.5 191.8 1626.3C191.5 1626.1 191.2 1625.9 190.9 1625.6C190.6 1625.4 190.3 1625.2 190.0 1624.9C189.8 1624.7 189.5 1624.4 189.3 1624.1C189.0 1623.9 188.8 1623.6 188.6 1623.3C188.4 1623.0 188.2 1622.7 188.0 1622.4C187.8 1622.1 187.6 1621.8 187.5 1621.5C187.3 1621.2 187.1 1620.8 187.0 1620.5C186.8 1620.2 186.7 1619.8 186.5 1619.5C186.4 1619.1 186.3 1618.7 186.3 1618.3C186.2 1617.9 186.1 1617.5 186.1 1617.1C186.0 1616.7 186.0 1616.3 186.0 1615.9C186.0 1615.5 186.0 1615.0 186.0 1614.6C186.0 1614.1 186.1 1613.7 186.2 1613.2C186.4 1612.8 186.5 1612.3 186.7 1611.9C186.8 1611.4 187.0 1611.0 187.3 1610.5C187.5 1610.0 187.7 1609.6 188.0 1609.1C188.3 1608.6 188.6 1608.1 188.9 1607.6C189.2 1607.1 189.6 1606.6 190.0 1606.1C190.4 1605.6 190.8 1604.7 191.3 1604.4C191.9 1604.1 192.6 1604.0 193.2 1604.1C193.8 1604.3 194.5 1605.0 195.1 1605.4C195.6 1605.9 196.1 1606.5 196.6 1606.9C197.0 1607.3 197.4 1607.7 197.8 1608.1C198.2 1608.4 198.6 1608.7 198.9 1609.0C199.3 1609.3 199.6 1609.6 199.9 1609.9C200.3 1610.2 200.6 1610.5 200.9 1610.8C201.2 1611.1 201.4 1611.4 201.7 1611.7C202.0 1612.0 202.3 1612.2 202.6 1612.6C202.9 1612.9 203.1 1613.2 203.4 1613.5C203.6 1613.9 203.9 1614.2 204.2 1614.6C204.4 1614.9 204.7 1615.3 204.9 1615.7C205.2 1616.1 205.4 1616.5 205.7 1616.9C205.9 1617.4 206.1 1617.8 206.4 1618.3Z" fill="none" stroke="#4674b2" stroke-width="3.7" stroke-linejoin="round"/><path d="M201.9 1618.3C201.9 1618.6 202.0 1618.9 202.0 1619.2C202.0 1619.5 201.9 1619.9 201.9 1620.2C201.9 1620.5 201.9 1620.8 201.8 1621.1C201.7 1621.4 201.5 1621.7 201.4 1622.0C201.2 1622.2 201.0 1622.5 200.8 1622.8C200.7 1623.0 200.4 1623.2 200.2 1623.4C199.9 1623.6 199.7 1623.8 199.4 1624.0C199.1 1624.1 198.9 1624.3 198.6 1624.4C198.3 1624.5 198.0 1624.6 197.7 1624.6C197.4 1624.7 197.1 1624.8 196.8 1624.8C196.5 1624.8 196.2 1624.8 195.9 1624.8C195.6 1624.8 195.4 1624.8 195.1 1624.8C194.8 1624.7 194.5 1624.6 194.3 1624.5C194.0 1624.5 193.7 1624.4 193.5 1624.3C193.2 1624.2 193.0 1624.1 192.7 1624.0C192.5 1623.8 192.3 1623.7 192.0 1623.6C191.8 1623.4 191.6 1623.3 191.4 1623.1C191.2 1623.0 191.0 1622.8 190.8 1622.6C190.6 1622.4 190.4 1622.3 190.2 1622.1C190.0 1621.9 189.9 1621.7 189.7 1621.4C189.5 1621.2 189.4 1621.0 189.2 1620.8C189.1 1620.5 188.9 1620.3 188.8 1620.0C188.7 1619.7 188.6 1619.5 188.5 1619.2C188.4 1618.9 188.3 1618.6 188.3 1618.3C188.2 1618.0 188.2 1617.7 188.2 1617.4C188.2 1617.1 188.2 1616.8 188.2 1616.5C188.3 1616.2 188.3 1615.9 188.4 1615.6C188.5 1615.3 188.7 1615.0 188.8 1614.7C189.0 1614.4 189.1 1614.2 189.3 1613.9C189.5 1613.7 189.7 1613.4 190.0 1613.2C190.2 1613.0 190.5 1612.8 190.7 1612.7C191.0 1612.5 191.3 1612.4 191.6 1612.2C191.8 1612.1 192.2 1612.1 192.5 1612.0C192.8 1612.0 193.0 1611.9 193.3 1611.8C193.6 1611.8 193.9 1611.9 194.2 1611.9C194.5 1611.9 194.8 1611.9 195.1 1611.9C195.4 1612.0 195.6 1612.1 195.9 1612.1C196.2 1612.2 196.4 1612.3 196.7 1612.4C196.9 1612.5 197.2 1612.6 197.4 1612.7C197.6 1612.8 197.9 1612.9 198.1 1613.1C198.3 1613.2 198.6 1613.4 198.8 1613.5C199.0 1613.7 199.2 1613.9 199.4 1614.0C199.6 1614.2 199.8 1614.4 200.0 1614.6C200.2 1614.8 200.3 1615.0 200.5 1615.2C200.6 1615.4 200.8 1615.7 201.0 1615.9C201.1 1616.1 201.2 1616.4 201.3 1616.7C201.4 1616.9 201.6 1617.2 201.7 1617.5C201.8 1617.7 201.8 1618.0 201.9 1618.3Z" fill="none" stroke="#4674b2" stroke-width="3.7" stroke-linejoin="round"/><path d="M286.5 1539.1C286.5 1540.1 286.4 1541.2 286.1 1542.1C285.9 1543.1 285.5 1544.1 285.1 1545.0C284.6 1545.9 284.0 1546.7 283.3 1547.4C282.7 1548.1 281.9 1548.8 281.1 1549.3C280.3 1549.8 279.4 1550.2 278.5 1550.5C277.6 1550.7 276.7 1550.9 275.7 1550.9C274.8 1550.9 273.8 1550.7 272.9 1550.5C272.0 1550.2 271.2 1549.8 270.3 1549.3C269.5 1548.8 268.8 1548.1 268.1 1547.4C267.5 1546.7 266.9 1545.9 266.4 1545.0C265.9 1544.1 265.6 1543.1 265.3 1542.1C265.1 1541.2 265.0 1540.1 265.0 1539.1C265.0 1538.1 265.1 1537.0 265.3 1536.0C265.6 1535.1 265.9 1534.1 266.4 1533.2C266.9 1532.3 267.5 1531.5 268.1 1530.8C268.8 1530.0 269.5 1529.4 270.3 1528.9C271.2 1528.4 272.0 1528.0 272.9 1527.7C273.8 1527.5 274.8 1527.3 275.7 1527.3C276.7 1527.3 277.6 1527.5 278.5 1527.7C279.4 1528.0 280.3 1528.4 281.1 1528.9C281.9 1529.4 282.7 1530.0 283.3 1530.8C284.0 1531.5 284.6 1532.3 285.1 1533.2C285.5 1534.1 285.9 1535.1 286.1 1536.0C286.4 1537.0 286.5 1538.1 286.5 1539.1Z" fill="none" stroke="#4674b2" stroke-width="3.7" stroke-linejoin="round"/><path d="M271.3 1562.9C271.3 1563.3 271.1 1563.8 270.9 1564.2C270.7 1564.6 270.3 1564.9 269.9 1565.2C269.6 1565.4 269.1 1565.5 268.6 1565.5C268.2 1565.5 267.7 1565.4 267.3 1565.2C266.9 1564.9 266.6 1564.6 266.3 1564.2C266.1 1563.8 266.0 1563.3 266.0 1562.9C266.0 1562.4 266.1 1561.9 266.3 1561.5C266.6 1561.2 266.9 1560.8 267.3 1560.6C267.7 1560.4 268.2 1560.2 268.6 1560.2C269.1 1560.2 269.6 1560.4 269.9 1560.6C270.3 1560.8 270.7 1561.2 270.9 1561.5C271.1 1561.9 271.3 1562.4 271.3 1562.9Z" fill="none" stroke="#4674b2" stroke-width="3.7" stroke-linejoin="round"/><path d="M324.5 1596.4C324.5 1596.8 324.4 1597.3 324.1 1597.7C323.9 1598.1 323.6 1598.5 323.2 1598.7C322.8 1598.9 322.3 1599.0 321.9 1599.0C321.4 1599.0 320.9 1598.9 320.5 1598.7C320.1 1598.5 319.8 1598.1 319.6 1597.7C319.3 1597.3 319.2 1596.8 319.2 1596.4C319.2 1595.9 319.3 1595.4 319.6 1595.1C319.8 1594.7 320.1 1594.3 320.5 1594.1C320.9 1593.9 321.4 1593.7 321.9 1593.7C322.3 1593.7 322.8 1593.9 323.2 1594.1C323.6 1594.3 323.9 1594.7 324.1 1595.1C324.4 1595.4 324.5 1595.9 324.5 1596.4Z" fill="none" stroke="#4674b2" stroke-width="3.7" stroke-linejoin="round"/><path d="M302.6 1606.1C302.6 1606.4 302.5 1606.8 302.3 1607.1C302.2 1607.3 301.9 1607.6 301.6 1607.7C301.4 1607.9 301.0 1608.0 300.7 1608.0C300.4 1608.0 300.1 1607.9 299.8 1607.7C299.5 1607.6 299.3 1607.3 299.1 1607.1C299.0 1606.8 298.9 1606.4 298.9 1606.1C298.9 1605.8 299.0 1605.5 299.1 1605.2C299.3 1605.0 299.5 1604.7 299.8 1604.6C300.1 1604.4 300.4 1604.3 300.7 1604.3C301.0 1604.3 301.4 1604.4 301.6 1604.6C301.9 1604.7 302.2 1605.0 302.3 1605.2C302.5 1605.5 302.6 1605.8 302.6 1606.1Z" fill="none" stroke="#4674b2" stroke-width="3.7" stroke-linejoin="round"/><path d="M350.9 1608.2C350.9 1608.7 350.7 1609.4 350.4 1609.9C350.2 1610.4 349.7 1610.9 349.2 1611.2C348.7 1611.5 348.0 1611.6 347.4 1611.6C346.9 1611.6 346.2 1611.5 345.7 1611.2C345.2 1610.9 344.7 1610.4 344.5 1609.9C344.2 1609.4 344.0 1608.7 344.0 1608.2C344.0 1607.6 344.2 1606.9 344.5 1606.4C344.7 1605.9 345.2 1605.5 345.7 1605.2C346.2 1604.9 346.9 1604.7 347.4 1604.7C348.0 1604.7 348.7 1604.9 349.2 1605.2C349.7 1605.5 350.2 1605.9 350.4 1606.4C350.7 1606.9 350.9 1607.6 350.9 1608.2Z" fill="none" stroke="#4674b2" stroke-width="3.7" stroke-linejoin="round"/><path d="M332.8 1627.3C332.6 1627.6 332.2 1627.9 331.8 1628.2C331.4 1628.4 330.9 1628.5 330.4 1628.5C329.9 1628.6 329.2 1628.5 328.7 1628.4C328.1 1628.2 327.5 1628.0 326.9 1627.6C326.4 1627.3 325.9 1626.9 325.4 1626.5C325.0 1626.1 324.7 1625.6 324.4 1625.1C324.2 1624.6 324.0 1624.1 324.0 1623.7C324.0 1623.2 324.1 1622.8 324.3 1622.4C324.5 1622.0 324.9 1621.7 325.3 1621.5C325.7 1621.3 326.2 1621.2 326.7 1621.1C327.2 1621.1 327.9 1621.1 328.4 1621.3C329.0 1621.4 329.6 1621.7 330.2 1622.0C330.7 1622.3 331.3 1622.7 331.7 1623.2C332.1 1623.6 332.5 1624.1 332.7 1624.6C332.9 1625.0 333.1 1625.6 333.1 1626.0C333.1 1626.5 333.0 1626.9 332.8 1627.3Z" fill="none" stroke="#4674b2" stroke-width="3.7" stroke-linejoin="round"/><path d="M353.4 1635.1C353.1 1635.5 352.6 1635.9 352.1 1636.1C351.6 1636.4 351.0 1636.5 350.4 1636.5C349.8 1636.5 349.1 1636.4 348.4 1636.2C347.8 1636.0 347.1 1635.7 346.5 1635.3C346.0 1634.9 345.4 1634.3 345.0 1633.8C344.6 1633.3 344.2 1632.7 344.0 1632.1C343.9 1631.5 343.8 1630.9 343.8 1630.3C343.9 1629.8 344.1 1629.2 344.4 1628.8C344.7 1628.4 345.1 1628.0 345.6 1627.8C346.1 1627.5 346.7 1627.4 347.3 1627.4C348.0 1627.3 348.7 1627.5 349.3 1627.7C349.9 1627.9 350.6 1628.2 351.2 1628.6C351.8 1629.0 352.3 1629.5 352.7 1630.1C353.2 1630.6 353.5 1631.2 353.7 1631.8C353.9 1632.4 354.0 1633.0 353.9 1633.6C353.9 1634.1 353.7 1634.7 353.4 1635.1Z" fill="none" stroke="#4674b2" stroke-width="3.7" stroke-linejoin="round"/><path d="M357.4 1658.4C357.4 1658.7 357.3 1659.1 357.2 1659.4C357.0 1659.7 356.8 1659.9 356.5 1660.1C356.2 1660.3 355.9 1660.4 355.6 1660.4C355.3 1660.4 354.9 1660.3 354.7 1660.1C354.4 1659.9 354.1 1659.7 354.0 1659.4C353.8 1659.1 353.7 1658.7 353.7 1658.4C353.7 1658.0 353.8 1657.6 354.0 1657.3C354.1 1657.0 354.4 1656.8 354.7 1656.6C354.9 1656.4 355.3 1656.3 355.6 1656.3C355.9 1656.3 356.2 1656.4 356.5 1656.6C356.8 1656.8 357.0 1657.0 357.2 1657.3C357.3 1657.6 357.4 1658.0 357.4 1658.4Z" fill="none" stroke="#4674b2" stroke-width="3.7" stroke-linejoin="round"/><path d="M175.2 1566.5C178.7 1566.5 185.0 1567.4 189.4 1568.6C193.8 1569.7 197.5 1571.3 201.6 1573.6C205.6 1576.0 209.7 1579.4 213.8 1582.8C217.8 1586.2 221.9 1590.1 226.0 1594.0C230.0 1597.8 234.1 1602.1 238.1 1606.1C242.2 1610.2 246.3 1614.6 250.3 1618.3C254.4 1622.1 258.1 1625.6 262.5 1628.5C266.9 1631.4 272.0 1633.9 276.7 1635.6C281.5 1637.3 285.9 1638.0 291.0 1638.6C296.0 1639.3 301.8 1639.0 307.2 1639.7C312.6 1640.3 318.4 1641.2 323.5 1642.7C328.6 1644.2 334.1 1646.6 337.7 1648.8C341.3 1651.0 344.1 1653.5 344.8 1655.9C345.5 1658.3 344.0 1661.5 341.8 1663.0C339.6 1664.5 336.0 1664.9 331.6 1665.1C327.2 1665.2 320.8 1664.4 315.3 1664.0C309.9 1663.7 304.2 1662.5 299.1 1663.0C294.0 1663.5 289.6 1665.4 284.9 1667.1C280.1 1668.8 275.7 1671.5 270.7 1673.2C265.6 1674.9 259.8 1676.7 254.4 1677.2C249.0 1677.8 243.6 1676.9 238.1 1676.2C232.7 1675.6 227.3 1674.4 221.9 1673.2C216.5 1672.0 211.1 1670.8 205.6 1669.1C200.2 1667.4 194.5 1665.1 189.4 1663.0C184.3 1661.0 179.9 1659.3 175.2 1656.9C170.4 1654.6 164.8 1651.9 160.9 1648.8C157.1 1645.8 154.0 1642.7 151.8 1638.6C149.6 1634.6 148.4 1629.5 147.7 1624.4C147.1 1619.3 147.1 1612.9 147.7 1608.2C148.4 1603.4 150.5 1600.0 151.8 1596.0C153.2 1591.9 154.3 1587.5 155.9 1583.8C157.4 1580.1 158.9 1576.2 160.9 1573.6C163.0 1571.1 165.7 1569.7 168.1 1568.6C170.4 1567.4 171.6 1566.5 175.2 1566.5Z" fill="none" stroke="#e47a1e" stroke-width="3.7" stroke-linejoin="round"/><path d="M187.4 1599.0C190.9 1598.9 196.8 1598.2 201.6 1599.0C206.3 1599.9 211.1 1601.6 215.8 1604.1C220.5 1606.6 225.3 1610.5 230.0 1614.3C234.8 1618.0 239.8 1622.7 244.2 1626.5C248.6 1630.2 252.9 1633.6 256.4 1636.6C260.0 1639.7 263.5 1642.0 265.6 1644.7C267.6 1647.4 269.1 1650.2 268.6 1652.9C268.1 1655.6 265.6 1659.0 262.5 1661.0C259.5 1663.0 255.1 1664.0 250.3 1665.1C245.6 1666.1 239.5 1667.1 234.1 1667.1C228.7 1667.1 222.9 1666.4 217.8 1665.1C212.8 1663.7 208.0 1661.3 203.6 1659.0C199.2 1656.6 195.5 1654.2 191.4 1650.8C187.4 1647.4 182.4 1642.7 179.2 1638.6C176.0 1634.6 173.8 1630.5 172.1 1626.5C170.4 1622.4 168.9 1618.0 169.1 1614.3C169.2 1610.5 171.3 1606.5 173.1 1604.1C175.0 1601.7 177.9 1600.9 180.2 1600.0C182.6 1599.2 183.8 1599.2 187.4 1599.0Z" fill="none" stroke="#e47a1e" stroke-width="3.7" stroke-linejoin="round"/><path d="M189.4 1609.2C192.1 1609.2 197.5 1609.7 201.6 1611.2C205.6 1612.7 210.0 1615.5 213.8 1618.3C217.5 1621.2 220.9 1625.4 223.9 1628.5C227.0 1631.5 230.4 1633.9 232.1 1636.6C233.7 1639.3 234.8 1642.5 234.1 1644.7C233.4 1646.9 230.4 1649.0 228.0 1649.8C225.6 1650.7 222.9 1650.7 219.9 1649.8C216.8 1649.0 213.4 1646.9 209.7 1644.7C206.0 1642.5 201.2 1639.7 197.5 1636.6C193.8 1633.6 189.7 1629.8 187.4 1626.5C185.0 1623.1 183.6 1618.8 183.3 1616.3C183.0 1613.8 184.3 1612.4 185.3 1611.2C186.3 1610.0 186.7 1609.2 189.4 1609.2Z" fill="none" stroke="#e47a1e" stroke-width="3.7" stroke-linejoin="round"/>
</g>
<g id="p31">
<path d="M625.5 1477.1C627.2 1477.1 629.2 1478.3 630.6 1480.2C631.9 1482.0 633.3 1485.3 633.6 1488.3C634.0 1491.4 632.6 1495.1 632.6 1498.5C632.6 1501.9 632.6 1505.6 633.6 1508.6C634.6 1511.7 637.2 1514.7 638.7 1516.7C640.2 1518.8 642.1 1519.1 642.8 1520.8C643.4 1522.5 642.6 1524.2 642.8 1526.9C642.9 1529.6 642.8 1533.3 643.8 1537.1C644.8 1540.8 647.0 1545.2 648.8 1549.3C650.7 1553.3 653.1 1557.7 654.9 1561.4C656.8 1565.2 658.5 1568.2 660.0 1571.6C661.5 1575.0 662.7 1578.4 664.1 1581.8C665.4 1585.1 666.5 1588.7 668.1 1591.9C669.8 1595.1 672.4 1598.0 674.2 1601.1C676.1 1604.1 678.0 1607.0 679.3 1610.2C680.7 1613.4 681.2 1617.3 682.4 1620.4C683.6 1623.4 684.4 1626.1 686.4 1628.5C688.5 1630.9 691.9 1632.6 694.6 1634.6C697.3 1636.6 700.3 1638.6 702.7 1640.7C705.1 1642.7 706.4 1645.8 708.8 1646.8C711.2 1647.8 714.5 1645.9 716.9 1646.8C719.3 1647.6 721.5 1649.5 723.0 1651.9C724.5 1654.2 725.9 1658.1 726.0 1661.0C726.2 1663.9 725.2 1667.9 724.0 1669.1C722.8 1670.3 720.8 1669.1 718.9 1668.1C717.1 1667.1 714.5 1663.5 712.8 1663.0C711.2 1662.5 710.0 1663.7 708.8 1665.1C707.6 1666.4 707.4 1670.0 705.7 1671.2C704.0 1672.3 701.2 1672.7 698.6 1672.2C696.1 1671.7 693.2 1670.0 690.5 1668.1C687.8 1666.2 685.4 1662.3 682.4 1661.0C679.3 1659.6 675.9 1659.8 672.2 1660.0C668.5 1660.1 664.4 1661.8 660.0 1662.0C655.6 1662.2 650.5 1661.8 645.8 1661.0C641.1 1660.1 636.3 1659.0 631.6 1656.9C626.8 1654.9 621.8 1652.2 617.4 1648.8C613.0 1645.4 608.4 1641.0 605.2 1636.6C602.0 1632.2 599.8 1627.8 598.1 1622.4C596.4 1617.0 595.3 1610.5 595.0 1604.1C594.7 1597.7 595.5 1590.6 596.0 1583.8C596.5 1577.0 597.6 1570.2 598.1 1563.5C598.6 1556.7 598.4 1549.3 599.1 1543.2C599.8 1537.1 600.9 1532.0 602.1 1526.9C603.3 1521.8 605.5 1517.1 606.2 1512.7C606.9 1508.3 605.3 1503.2 606.2 1500.5C607.0 1497.8 609.4 1497.3 611.3 1496.4C613.1 1495.6 616.0 1496.8 617.4 1495.4C618.7 1494.1 618.9 1490.8 619.4 1488.3C619.9 1485.8 619.4 1482.0 620.4 1480.2C621.4 1478.3 623.8 1477.1 625.5 1477.1Z" fill="none" stroke="#4674b2" stroke-width="3.7" stroke-linejoin="round"/><path d="M622.4 1510.7C623.6 1511.0 625.3 1512.3 626.5 1514.7C627.7 1517.1 628.4 1521.5 629.5 1524.9C630.7 1528.3 631.9 1531.6 633.6 1535.0C635.3 1538.4 638.0 1541.8 639.7 1545.2C641.4 1548.6 642.6 1552.3 643.8 1555.3C645.0 1558.4 646.5 1560.8 646.8 1563.5C647.2 1566.2 645.3 1568.9 645.8 1571.6C646.3 1574.3 648.2 1576.7 649.9 1579.7C651.6 1582.8 653.9 1586.8 656.0 1589.9C658.0 1592.9 660.0 1595.3 662.1 1598.0C664.1 1600.7 666.5 1603.4 668.1 1606.1C669.8 1608.8 671.0 1611.2 672.2 1614.3C673.4 1617.3 674.6 1621.0 675.3 1624.4C675.9 1627.8 676.4 1631.2 676.3 1634.6C676.1 1638.0 675.6 1641.7 674.2 1644.7C672.9 1647.8 670.5 1650.8 668.1 1652.9C665.8 1654.9 663.4 1656.1 660.0 1656.9C656.6 1657.8 652.2 1658.5 647.8 1657.9C643.4 1657.4 638.4 1655.9 633.6 1653.9C628.9 1651.9 623.6 1649.0 619.4 1645.8C615.2 1642.5 611.3 1638.8 608.2 1634.6C605.2 1630.3 602.8 1625.4 601.1 1620.4C599.4 1615.3 598.4 1610.2 598.1 1604.1C597.7 1598.0 598.6 1590.6 599.1 1583.8C599.6 1577.0 600.3 1570.2 601.1 1563.5C602.0 1556.7 602.6 1548.9 604.2 1543.2C605.7 1537.4 608.2 1533.0 610.2 1528.9C612.3 1524.9 614.8 1521.5 616.3 1518.8C617.9 1516.1 618.4 1514.0 619.4 1512.7C620.4 1511.3 621.3 1510.3 622.4 1510.7Z" fill="none" stroke="#4674b2" stroke-width="3.7" stroke-linejoin="round"/><path d="M617.4 1533.0C619.1 1532.7 621.6 1534.4 623.5 1536.0C625.3 1537.7 626.8 1540.3 628.5 1543.2C630.2 1546.0 632.1 1549.9 633.6 1553.3C635.1 1556.7 636.3 1560.1 637.7 1563.5C639.0 1566.9 640.2 1570.2 641.7 1573.6C643.3 1577.0 644.8 1580.4 646.8 1583.8C648.8 1587.2 651.4 1590.6 653.9 1594.0C656.5 1597.3 659.7 1600.7 662.1 1604.1C664.4 1607.5 666.5 1610.9 668.1 1614.3C669.8 1617.7 671.4 1621.0 672.2 1624.4C673.1 1627.8 673.6 1631.2 673.2 1634.6C672.9 1638.0 672.0 1642.0 670.2 1644.7C668.3 1647.4 665.4 1649.3 662.1 1650.8C658.7 1652.4 654.3 1653.9 649.9 1653.9C645.5 1653.9 640.4 1652.7 635.6 1650.8C630.9 1649.0 625.7 1645.8 621.4 1642.7C617.2 1639.7 613.3 1636.6 610.2 1632.6C607.2 1628.5 604.7 1623.4 603.1 1618.3C601.6 1613.3 601.3 1607.8 601.1 1602.1C600.9 1596.3 601.4 1589.9 602.1 1583.8C602.8 1577.7 604.0 1571.3 605.2 1565.5C606.4 1559.8 607.9 1553.8 609.2 1549.3C610.6 1544.7 611.9 1540.8 613.3 1538.1C614.7 1535.4 615.7 1533.3 617.4 1533.0Z" fill="none" stroke="#4674b2" stroke-width="3.7" stroke-linejoin="round"/><path d="M618.4 1553.3C620.1 1553.0 621.8 1555.0 623.5 1557.4C625.1 1559.8 626.8 1563.8 628.5 1567.5C630.2 1571.3 631.7 1575.7 633.6 1579.7C635.5 1583.8 637.5 1587.9 639.7 1591.9C641.9 1596.0 644.8 1600.4 646.8 1604.1C648.8 1607.8 650.7 1610.9 651.9 1614.3C653.1 1617.7 653.9 1621.0 653.9 1624.4C653.9 1627.8 653.3 1631.5 651.9 1634.6C650.5 1637.6 648.5 1641.0 645.8 1642.7C643.1 1644.4 639.4 1645.2 635.6 1644.7C631.9 1644.2 627.2 1642.0 623.5 1639.7C619.7 1637.3 616.2 1634.1 613.3 1630.5C610.4 1627.0 607.7 1623.1 606.2 1618.3C604.7 1613.6 604.3 1607.5 604.2 1602.1C604.0 1596.7 604.5 1590.9 605.2 1585.8C605.8 1580.7 606.9 1576.0 608.2 1571.6C609.6 1567.2 611.6 1562.5 613.3 1559.4C615.0 1556.4 616.7 1553.7 618.4 1553.3Z" fill="none" stroke="#4674b2" stroke-width="3.7" stroke-linejoin="round"/><path d="M646.5 1613.0C646.9 1614.0 647.1 1615.0 647.4 1616.1C647.6 1617.2 647.8 1618.2 648.0 1619.4C648.2 1620.6 648.5 1621.9 648.5 1623.1C648.4 1624.3 648.0 1625.4 647.8 1626.6C647.5 1627.9 647.5 1629.3 647.0 1630.5C646.5 1631.7 645.6 1632.6 644.9 1633.7C644.1 1634.7 643.6 1636.1 642.6 1636.9C641.6 1637.7 640.1 1638.0 638.9 1638.4C637.7 1638.8 636.5 1639.3 635.2 1639.3C633.9 1639.4 632.4 1639.1 631.2 1638.7C629.9 1638.4 628.6 1637.8 627.5 1637.4C626.3 1637.0 625.3 1636.7 624.3 1636.2C623.3 1635.6 622.3 1634.8 621.5 1634.1C620.7 1633.4 619.9 1632.6 619.2 1632.0C618.5 1631.3 617.8 1630.7 617.2 1630.1C616.6 1629.5 615.9 1629.0 615.4 1628.4C614.9 1627.8 614.4 1627.1 614.0 1626.4C613.6 1625.7 613.3 1625.1 612.9 1624.4C612.5 1623.8 612.2 1623.2 611.9 1622.6C611.5 1622.0 611.2 1621.4 610.9 1620.8C610.5 1620.2 610.2 1619.6 609.9 1619.0C609.6 1618.4 609.2 1617.8 609.0 1617.1C608.8 1616.5 608.8 1615.8 608.7 1615.1C608.6 1614.4 608.6 1613.7 608.5 1613.0C608.4 1612.4 608.3 1611.7 608.2 1610.9C608.1 1610.2 608.1 1609.5 608.0 1608.7C607.9 1607.9 607.8 1607.1 607.7 1606.2C607.6 1605.3 607.4 1604.3 607.4 1603.3C607.4 1602.4 607.6 1601.4 607.6 1600.3C607.7 1599.2 607.8 1598.0 607.9 1596.7C608.0 1595.3 608.0 1593.8 608.2 1592.1C608.4 1590.5 608.8 1588.9 609.2 1586.9C609.6 1584.9 610.0 1582.6 610.7 1580.3C611.4 1578.0 612.3 1575.5 613.6 1573.1C614.8 1570.7 616.3 1566.6 618.1 1565.9C619.8 1565.2 622.5 1566.8 624.3 1568.8C626.1 1570.8 627.6 1575.4 628.9 1578.1C630.1 1580.7 631.0 1582.9 631.8 1584.8C632.7 1586.7 633.4 1588.0 634.1 1589.3C634.8 1590.7 635.3 1591.8 635.9 1592.9C636.5 1594.0 636.9 1595.0 637.4 1595.9C637.9 1596.8 638.4 1597.6 638.9 1598.4C639.4 1599.2 639.8 1600.0 640.2 1600.8C640.7 1601.6 641.1 1602.3 641.5 1603.1C641.9 1603.8 642.4 1604.6 642.8 1605.4C643.2 1606.2 643.6 1606.9 644.0 1607.8C644.4 1608.6 644.8 1609.4 645.2 1610.3C645.6 1611.2 646.1 1612.1 646.5 1613.0Z" fill="none" stroke="#4674b2" stroke-width="3.7" stroke-linejoin="round"/><path d="M643.1 1613.0C643.4 1613.9 643.6 1614.7 643.8 1615.6C644.0 1616.5 644.2 1617.4 644.3 1618.4C644.5 1619.4 644.7 1620.5 644.7 1621.5C644.7 1622.5 644.3 1623.5 644.1 1624.5C643.9 1625.6 643.9 1626.8 643.5 1627.8C643.1 1628.8 642.4 1629.6 641.8 1630.5C641.1 1631.5 640.7 1632.7 639.9 1633.4C639.0 1634.1 637.8 1634.4 636.8 1634.8C635.8 1635.2 634.8 1635.6 633.7 1635.8C632.6 1635.9 631.4 1635.7 630.3 1635.4C629.2 1635.2 628.1 1634.8 627.1 1634.5C626.1 1634.1 625.1 1633.9 624.3 1633.4C623.4 1633.0 622.6 1632.3 621.8 1631.6C621.1 1631.0 620.4 1630.4 619.8 1629.8C619.1 1629.2 618.6 1628.7 618.0 1628.1C617.5 1627.6 616.9 1627.1 616.5 1626.6C616.0 1626.0 615.6 1625.4 615.3 1624.8C614.9 1624.2 614.6 1623.6 614.3 1623.0C614.0 1622.4 613.7 1621.9 613.4 1621.4C613.1 1620.8 612.9 1620.3 612.6 1619.8C612.3 1619.3 612.0 1618.8 611.8 1618.2C611.5 1617.7 611.2 1617.2 611.0 1616.6C610.9 1616.0 610.9 1615.4 610.8 1614.8C610.7 1614.2 610.7 1613.6 610.6 1613.0C610.5 1612.4 610.4 1611.8 610.4 1611.2C610.3 1610.6 610.2 1609.9 610.1 1609.3C610.1 1608.6 610.0 1607.9 609.9 1607.1C609.8 1606.3 609.7 1605.5 609.7 1604.7C609.7 1603.8 609.8 1603.0 609.9 1602.0C610.0 1601.1 610.1 1600.1 610.2 1599.0C610.3 1597.8 610.3 1596.5 610.5 1595.1C610.7 1593.7 611.0 1592.3 611.3 1590.7C611.7 1589.0 612.1 1587.1 612.7 1585.2C613.4 1583.3 614.1 1581.2 615.2 1579.2C616.3 1577.3 617.5 1574.0 619.0 1573.4C620.6 1572.8 622.7 1574.1 624.3 1575.7C625.8 1577.4 627.1 1581.1 628.2 1583.3C629.3 1585.5 630.0 1587.3 630.7 1588.9C631.5 1590.4 632.1 1591.5 632.7 1592.6C633.3 1593.8 633.8 1594.8 634.3 1595.7C634.8 1596.6 635.2 1597.5 635.6 1598.3C636.0 1599.1 636.4 1599.8 636.8 1600.5C637.2 1601.2 637.6 1601.9 638.0 1602.5C638.3 1603.2 638.7 1603.9 639.0 1604.5C639.4 1605.2 639.7 1605.8 640.1 1606.5C640.4 1607.2 640.7 1607.8 641.1 1608.5C641.4 1609.3 641.7 1610.0 642.1 1610.7C642.4 1611.5 642.8 1612.2 643.1 1613.0Z" fill="none" stroke="#4674b2" stroke-width="3.7" stroke-linejoin="round"/><path d="M639.7 1613.0C639.9 1613.7 640.1 1614.4 640.3 1615.2C640.4 1615.9 640.6 1616.6 640.7 1617.4C640.8 1618.2 641.0 1619.1 640.9 1619.9C640.9 1620.8 640.6 1621.5 640.5 1622.4C640.3 1623.3 640.3 1624.3 640.0 1625.1C639.7 1626.0 639.1 1626.6 638.6 1627.4C638.2 1628.2 637.8 1629.2 637.1 1629.8C636.5 1630.4 635.5 1630.8 634.7 1631.2C633.9 1631.5 633.1 1632.0 632.2 1632.2C631.3 1632.3 630.3 1632.3 629.4 1632.1C628.5 1632.0 627.6 1631.8 626.7 1631.5C625.8 1631.3 625.0 1631.1 624.3 1630.7C623.5 1630.3 622.8 1629.7 622.1 1629.2C621.5 1628.7 620.9 1628.1 620.4 1627.6C619.8 1627.1 619.3 1626.6 618.9 1626.1C618.4 1625.6 617.9 1625.2 617.5 1624.7C617.2 1624.2 616.8 1623.6 616.5 1623.1C616.2 1622.6 616.0 1622.1 615.7 1621.6C615.5 1621.1 615.2 1620.6 615.0 1620.2C614.7 1619.7 614.5 1619.3 614.3 1618.8C614.1 1618.3 613.9 1617.9 613.7 1617.4C613.5 1617.0 613.2 1616.5 613.1 1616.0C612.9 1615.6 612.9 1615.1 612.9 1614.6C612.8 1614.0 612.7 1613.6 612.7 1613.0C612.6 1612.5 612.6 1612.0 612.5 1611.5C612.5 1611.0 612.4 1610.4 612.3 1609.8C612.3 1609.3 612.2 1608.7 612.2 1608.0C612.1 1607.4 612.0 1606.7 612.1 1606.0C612.1 1605.3 612.1 1604.6 612.2 1603.8C612.3 1603.0 612.4 1602.2 612.4 1601.2C612.5 1600.3 612.6 1599.2 612.8 1598.1C612.9 1596.9 613.2 1595.8 613.5 1594.5C613.9 1593.1 614.2 1591.6 614.7 1590.0C615.3 1588.5 616.0 1586.9 616.8 1585.4C617.7 1583.8 618.8 1581.4 620.0 1580.9C621.3 1580.5 623.0 1581.4 624.3 1582.7C625.5 1584.0 626.6 1586.8 627.5 1588.5C628.4 1590.2 629.0 1591.7 629.7 1592.9C630.3 1594.2 630.8 1595.1 631.3 1596.0C631.8 1596.9 632.2 1597.7 632.6 1598.5C633.1 1599.3 633.4 1600.0 633.8 1600.7C634.1 1601.4 634.4 1602.0 634.8 1602.6C635.1 1603.2 635.4 1603.7 635.7 1604.3C636.0 1604.9 636.3 1605.4 636.5 1606.0C636.8 1606.5 637.1 1607.1 637.4 1607.6C637.6 1608.2 637.9 1608.8 638.1 1609.3C638.4 1609.9 638.6 1610.5 638.9 1611.1C639.2 1611.7 639.5 1612.4 639.7 1613.0Z" fill="none" stroke="#4674b2" stroke-width="3.7" stroke-linejoin="round"/><path d="M636.3 1613.0C636.5 1613.6 636.6 1614.1 636.7 1614.7C636.8 1615.3 636.9 1615.8 637.0 1616.5C637.1 1617.1 637.2 1617.7 637.2 1618.4C637.1 1619.0 637.0 1619.6 636.8 1620.3C636.7 1621.0 636.7 1621.8 636.5 1622.4C636.3 1623.1 635.9 1623.7 635.5 1624.3C635.2 1624.9 634.9 1625.7 634.4 1626.3C633.9 1626.8 633.2 1627.1 632.6 1627.5C632.0 1627.9 631.4 1628.4 630.7 1628.6C630.0 1628.8 629.2 1628.9 628.5 1628.9C627.8 1628.9 627.0 1628.7 626.3 1628.6C625.6 1628.4 624.9 1628.3 624.3 1628.0C623.6 1627.7 623.0 1627.2 622.5 1626.8C621.9 1626.4 621.4 1625.9 621.0 1625.4C620.5 1625.0 620.1 1624.5 619.7 1624.1C619.3 1623.7 618.9 1623.3 618.6 1622.8C618.3 1622.4 618.0 1621.9 617.8 1621.5C617.5 1621.0 617.3 1620.6 617.1 1620.2C616.9 1619.8 616.7 1619.4 616.6 1619.0C616.4 1618.6 616.2 1618.2 616.0 1617.8C615.9 1617.4 615.7 1617.0 615.5 1616.7C615.4 1616.3 615.2 1615.9 615.1 1615.5C615.0 1615.1 615.0 1614.7 614.9 1614.3C614.9 1613.9 614.8 1613.5 614.8 1613.0C614.7 1612.6 614.7 1612.2 614.7 1611.8C614.6 1611.3 614.6 1610.9 614.5 1610.4C614.5 1610.0 614.4 1609.5 614.4 1609.0C614.4 1608.4 614.3 1607.9 614.4 1607.3C614.4 1606.8 614.4 1606.2 614.5 1605.5C614.5 1604.9 614.6 1604.3 614.7 1603.5C614.8 1602.7 614.9 1601.9 615.0 1601.0C615.2 1600.1 615.4 1599.3 615.7 1598.2C616.0 1597.2 616.3 1596.1 616.8 1594.9C617.2 1593.8 617.8 1592.6 618.5 1591.5C619.2 1590.4 620.1 1588.7 621.0 1588.4C622.0 1588.1 623.3 1588.8 624.3 1589.6C625.2 1590.5 626.1 1592.5 626.8 1593.7C627.5 1594.9 628.1 1596.0 628.6 1597.0C629.1 1597.9 629.5 1598.6 630.0 1599.3C630.4 1600.1 630.7 1600.7 631.0 1601.3C631.3 1602.0 631.6 1602.5 631.9 1603.1C632.2 1603.6 632.4 1604.1 632.7 1604.6C632.9 1605.1 633.2 1605.6 633.4 1606.0C633.6 1606.5 633.8 1606.9 634.0 1607.4C634.3 1607.9 634.5 1608.3 634.6 1608.7C634.8 1609.2 635.0 1609.7 635.2 1610.1C635.4 1610.6 635.6 1611.0 635.8 1611.5C636.0 1612.0 636.2 1612.5 636.3 1613.0Z" fill="none" stroke="#4674b2" stroke-width="3.7" stroke-linejoin="round"/><path d="M632.9 1613.0C633.0 1613.4 633.1 1613.8 633.2 1614.2C633.2 1614.6 633.3 1615.0 633.3 1615.5C633.4 1615.9 633.4 1616.4 633.4 1616.8C633.4 1617.3 633.3 1617.7 633.2 1618.2C633.1 1618.7 633.1 1619.3 633.0 1619.7C632.9 1620.2 632.6 1620.7 632.4 1621.2C632.2 1621.7 632.0 1622.3 631.7 1622.7C631.4 1623.2 631.0 1623.5 630.5 1623.9C630.1 1624.3 629.7 1624.7 629.2 1625.0C628.7 1625.3 628.2 1625.4 627.6 1625.6C627.1 1625.7 626.5 1625.7 625.9 1625.6C625.4 1625.6 624.8 1625.5 624.3 1625.3C623.7 1625.1 623.2 1624.7 622.8 1624.4C622.3 1624.0 621.9 1623.6 621.5 1623.2C621.2 1622.8 620.8 1622.5 620.5 1622.1C620.2 1621.7 619.9 1621.3 619.7 1621.0C619.4 1620.6 619.2 1620.2 619.0 1619.9C618.9 1619.5 618.7 1619.1 618.6 1618.8C618.4 1618.4 618.3 1618.1 618.1 1617.8C618.0 1617.4 617.9 1617.1 617.7 1616.8C617.6 1616.5 617.5 1616.2 617.4 1615.9C617.3 1615.6 617.2 1615.3 617.1 1615.0C617.1 1614.6 617.0 1614.3 617.0 1614.0C616.9 1613.7 616.9 1613.4 616.9 1613.0C616.9 1612.7 616.8 1612.4 616.8 1612.1C616.8 1611.7 616.7 1611.4 616.7 1611.0C616.7 1610.7 616.7 1610.3 616.7 1609.9C616.6 1609.5 616.6 1609.1 616.7 1608.7C616.7 1608.2 616.7 1607.8 616.8 1607.3C616.8 1606.8 616.9 1606.3 617.0 1605.8C617.1 1605.2 617.1 1604.6 617.3 1604.0C617.4 1603.3 617.7 1602.7 617.9 1602.0C618.2 1601.3 618.4 1600.5 618.8 1599.8C619.2 1599.1 619.6 1598.3 620.1 1597.7C620.7 1597.0 621.3 1596.1 622.0 1595.9C622.7 1595.7 623.6 1596.1 624.3 1596.6C625.0 1597.1 625.6 1598.2 626.1 1598.9C626.7 1599.7 627.1 1600.4 627.5 1601.0C627.9 1601.6 628.3 1602.1 628.6 1602.7C628.9 1603.2 629.1 1603.7 629.4 1604.2C629.6 1604.6 629.9 1605.1 630.1 1605.5C630.3 1605.9 630.4 1606.3 630.6 1606.7C630.8 1607.1 631.0 1607.4 631.1 1607.8C631.3 1608.1 631.4 1608.5 631.6 1608.8C631.7 1609.2 631.8 1609.5 631.9 1609.9C632.1 1610.2 632.2 1610.6 632.3 1610.9C632.4 1611.2 632.5 1611.6 632.6 1611.9C632.7 1612.3 632.9 1612.7 632.9 1613.0Z" fill="none" stroke="#4674b2" stroke-width="3.7" stroke-linejoin="round"/><path d="M629.5 1613.0C629.6 1613.3 629.6 1613.5 629.6 1613.7C629.6 1614.0 629.6 1614.2 629.6 1614.5C629.7 1614.7 629.6 1615.0 629.6 1615.3C629.6 1615.5 629.6 1615.8 629.6 1616.1C629.5 1616.4 629.5 1616.7 629.5 1617.1C629.4 1617.4 629.4 1617.7 629.3 1618.0C629.2 1618.4 629.1 1618.8 629.0 1619.2C628.8 1619.6 628.7 1619.9 628.4 1620.3C628.2 1620.7 628.0 1621.1 627.7 1621.4C627.4 1621.7 627.1 1622.0 626.7 1622.3C626.4 1622.5 625.9 1622.6 625.5 1622.7C625.1 1622.7 624.7 1622.7 624.3 1622.6C623.9 1622.4 623.5 1622.2 623.1 1621.9C622.7 1621.7 622.4 1621.3 622.1 1621.0C621.8 1620.7 621.6 1620.4 621.3 1620.1C621.1 1619.8 620.9 1619.4 620.8 1619.1C620.6 1618.8 620.4 1618.5 620.3 1618.2C620.2 1617.9 620.1 1617.6 620.0 1617.3C619.9 1617.1 619.8 1616.8 619.7 1616.6C619.6 1616.3 619.5 1616.1 619.5 1615.8C619.4 1615.6 619.4 1615.3 619.3 1615.1C619.3 1614.9 619.2 1614.6 619.2 1614.4C619.1 1614.2 619.1 1614.0 619.0 1613.7C619.0 1613.5 619.0 1613.3 619.0 1613.0C619.0 1612.8 619.0 1612.6 618.9 1612.3C618.9 1612.1 618.9 1611.9 618.9 1611.6C618.9 1611.4 618.9 1611.1 618.9 1610.8C618.9 1610.6 618.9 1610.3 619.0 1610.0C619.0 1609.7 619.0 1609.4 619.0 1609.0C619.1 1608.7 619.2 1608.4 619.3 1608.0C619.4 1607.7 619.4 1607.3 619.6 1606.9C619.7 1606.5 619.9 1606.2 620.1 1605.8C620.3 1605.4 620.5 1605.0 620.8 1604.7C621.1 1604.4 621.4 1604.1 621.8 1603.8C622.2 1603.6 622.6 1603.5 623.0 1603.4C623.4 1603.3 623.9 1603.4 624.3 1603.5C624.7 1603.7 625.1 1603.9 625.4 1604.2C625.8 1604.4 626.1 1604.8 626.4 1605.1C626.7 1605.4 627.0 1605.7 627.2 1606.0C627.4 1606.3 627.6 1606.7 627.8 1607.0C627.9 1607.3 628.1 1607.6 628.2 1607.9C628.4 1608.2 628.5 1608.5 628.6 1608.8C628.7 1609.0 628.8 1609.3 628.9 1609.5C628.9 1609.8 629.0 1610.0 629.1 1610.3C629.1 1610.5 629.2 1610.8 629.2 1611.0C629.3 1611.2 629.3 1611.5 629.4 1611.7C629.4 1611.9 629.5 1612.1 629.5 1612.4C629.5 1612.6 629.5 1612.8 629.5 1613.0Z" fill="none" stroke="#4674b2" stroke-width="3.7" stroke-linejoin="round"/><path d="M700.2 1651.9C700.2 1652.6 700.2 1653.3 700.0 1654.0C699.8 1654.6 699.5 1655.3 699.2 1655.9C698.9 1656.5 698.5 1657.1 698.0 1657.6C697.5 1658.1 697.0 1658.5 696.4 1658.9C695.8 1659.2 695.2 1659.5 694.5 1659.7C693.9 1659.9 693.2 1660.0 692.5 1660.0C691.9 1660.0 691.2 1659.9 690.5 1659.7C689.9 1659.5 689.2 1659.2 688.7 1658.9C688.1 1658.5 687.5 1658.1 687.1 1657.6C686.6 1657.1 686.2 1656.5 685.8 1655.9C685.5 1655.3 685.2 1654.6 685.1 1654.0C684.9 1653.3 684.8 1652.6 684.8 1651.9C684.8 1651.1 684.9 1650.4 685.1 1649.7C685.2 1649.1 685.5 1648.4 685.8 1647.8C686.2 1647.2 686.6 1646.6 687.1 1646.1C687.5 1645.6 688.1 1645.2 688.7 1644.8C689.2 1644.5 689.9 1644.2 690.5 1644.0C691.2 1643.8 691.9 1643.7 692.5 1643.7C693.2 1643.7 693.9 1643.8 694.5 1644.0C695.2 1644.2 695.8 1644.5 696.4 1644.8C697.0 1645.2 697.5 1645.6 698.0 1646.1C698.5 1646.6 698.9 1647.2 699.2 1647.8C699.5 1648.4 699.8 1649.1 700.0 1649.7C700.2 1650.4 700.2 1651.1 700.2 1651.9Z" fill="none" stroke="#4674b2" stroke-width="3.7" stroke-linejoin="round"/><path d="M767.3 1656.3C767.6 1657.1 767.8 1658.0 768.0 1658.8C768.1 1659.7 768.2 1660.5 768.2 1661.3C768.2 1662.2 768.1 1663.0 767.9 1663.7C767.7 1664.4 767.5 1665.1 767.2 1665.7C766.8 1666.3 766.4 1666.8 766.0 1667.2C765.5 1667.6 765.0 1667.9 764.5 1668.1C763.9 1668.3 763.3 1668.4 762.7 1668.4C762.1 1668.3 761.5 1668.2 760.9 1668.0C760.2 1667.7 759.6 1667.4 759.0 1666.9C758.4 1666.5 757.8 1665.9 757.3 1665.3C756.7 1664.7 756.2 1664.0 755.8 1663.2C755.4 1662.5 755.0 1661.7 754.7 1660.8C754.4 1660.0 754.2 1659.1 754.0 1658.3C753.9 1657.5 753.8 1656.6 753.8 1655.8C753.8 1655.0 753.9 1654.1 754.1 1653.4C754.3 1652.7 754.5 1652.0 754.8 1651.4C755.2 1650.9 755.6 1650.3 756.0 1649.9C756.5 1649.5 757.0 1649.2 757.5 1649.0C758.1 1648.8 758.7 1648.7 759.3 1648.7C759.9 1648.8 760.5 1648.9 761.1 1649.1C761.8 1649.4 762.4 1649.7 763.0 1650.2C763.6 1650.6 764.2 1651.2 764.7 1651.8C765.2 1652.4 765.7 1653.1 766.2 1653.9C766.6 1654.6 767.0 1655.4 767.3 1656.3Z" fill="none" stroke="#4674b2" stroke-width="3.7" stroke-linejoin="round"/><path d="M608.2 1571.6C610.4 1570.9 615.8 1571.8 619.4 1572.6C622.9 1573.5 626.7 1574.8 629.5 1576.7C632.4 1578.5 635.1 1580.9 636.7 1583.8C638.2 1586.7 637.2 1590.9 638.7 1594.0C640.2 1597.0 642.9 1599.7 645.8 1602.1C648.7 1604.4 652.2 1606.0 656.0 1608.2C659.7 1610.4 664.1 1612.7 668.1 1615.3C672.2 1617.8 676.3 1620.9 680.3 1623.4C684.4 1625.9 688.5 1628.7 692.5 1630.5C696.6 1632.4 700.7 1633.6 704.7 1634.6C708.8 1635.6 712.5 1636.3 716.9 1636.6C721.3 1637.0 726.4 1636.3 731.1 1636.6C735.9 1636.9 740.3 1637.4 745.3 1638.2C750.4 1639.1 756.2 1640.3 761.6 1641.7C767.0 1643.1 772.4 1644.9 777.9 1646.8C783.3 1648.6 789.0 1650.7 794.1 1652.9C799.2 1655.1 804.6 1657.8 808.3 1660.0C812.1 1662.2 814.9 1664.0 816.5 1666.1C818.0 1668.1 818.5 1670.6 817.5 1672.2C816.5 1673.7 814.3 1674.7 810.4 1675.2C806.5 1675.7 799.5 1675.6 794.1 1675.2C788.7 1674.9 783.3 1674.2 777.9 1673.2C772.4 1672.2 766.7 1670.1 761.6 1669.1C756.5 1668.1 752.1 1667.3 747.4 1667.1C742.6 1666.9 737.9 1667.8 733.2 1668.1C728.4 1668.4 723.7 1669.1 718.9 1668.7C714.2 1668.4 709.8 1667.4 704.7 1666.1C699.6 1664.8 693.9 1662.7 688.5 1661.0C683.0 1659.3 677.6 1657.8 672.2 1655.9C666.8 1654.1 661.4 1651.7 656.0 1649.8C650.5 1648.0 645.1 1646.4 639.7 1644.7C634.3 1643.0 628.5 1641.7 623.5 1639.7C618.4 1637.6 613.6 1635.4 609.2 1632.6C604.8 1629.7 600.3 1626.1 597.0 1622.4C593.8 1618.7 591.6 1614.1 589.9 1610.2C588.2 1606.3 586.7 1601.9 586.9 1599.0C587.1 1596.2 588.7 1594.5 590.9 1592.9C593.1 1591.4 597.2 1590.9 600.1 1589.9C603.0 1588.9 606.7 1588.2 608.2 1586.8C609.7 1585.5 609.6 1583.5 609.2 1581.8C608.9 1580.1 606.4 1578.4 606.2 1576.7C606.0 1575.0 606.0 1572.3 608.2 1571.6Z" fill="none" stroke="#e47a1e" stroke-width="3.7" stroke-linejoin="round"/><path d="M611.3 1604.1C613.2 1602.1 617.4 1602.1 621.4 1602.1C625.5 1602.1 631.2 1602.9 635.6 1604.1C640.0 1605.3 643.8 1607.0 647.8 1609.2C651.9 1611.4 656.0 1614.3 660.0 1617.3C664.1 1620.4 668.1 1624.3 672.2 1627.5C676.3 1630.7 680.3 1633.9 684.4 1636.6C688.5 1639.3 692.9 1641.7 696.6 1643.7C700.3 1645.8 704.2 1647.3 706.7 1648.8C709.3 1650.3 711.8 1651.7 711.8 1652.9C711.8 1654.1 709.6 1655.4 706.7 1655.9C703.9 1656.4 699.0 1656.3 694.6 1655.9C690.2 1655.6 685.4 1654.9 680.3 1653.9C675.3 1652.9 669.5 1651.3 664.1 1649.8C658.7 1648.3 652.9 1646.6 647.8 1644.7C642.8 1642.9 638.0 1640.7 633.6 1638.6C629.2 1636.6 624.8 1634.9 621.4 1632.6C618.0 1630.2 615.3 1627.5 613.3 1624.4C611.3 1621.4 610.0 1617.7 609.6 1614.3C609.3 1610.9 609.3 1606.1 611.3 1604.1Z" fill="none" stroke="#e47a1e" stroke-width="3.7" stroke-linejoin="round"/><path d="M636.7 1629.5C637.7 1628.3 640.9 1626.6 643.8 1626.5C646.6 1626.3 650.5 1627.3 653.9 1628.5C657.3 1629.7 661.4 1631.9 664.1 1633.6C666.8 1635.3 669.8 1637.3 670.2 1638.6C670.5 1640.0 668.5 1641.4 666.1 1641.7C663.7 1642.0 659.5 1641.4 656.0 1640.7C652.4 1640.0 647.8 1638.8 644.8 1637.6C641.7 1636.4 639.0 1634.9 637.7 1633.6C636.3 1632.2 635.6 1630.7 636.7 1629.5Z" fill="none" stroke="#e47a1e" stroke-width="3.7" stroke-linejoin="round"/><path d="M755.5 1651.9C756.7 1651.1 760.2 1650.1 763.6 1650.4C767.0 1650.8 772.3 1652.5 775.8 1653.9C779.4 1655.3 783.6 1657.6 785.0 1659.0C786.3 1660.3 785.8 1661.5 784.0 1662.0C782.1 1662.5 777.2 1662.5 773.8 1662.0C770.4 1661.5 766.5 1660.1 763.6 1659.0C760.8 1657.8 757.9 1656.1 756.5 1654.9C755.2 1653.7 754.3 1652.6 755.5 1651.9Z" fill="none" stroke="#e47a1e" stroke-width="3.7" stroke-linejoin="round"/>
</g>
<g id="p32">
<path d="M1023.0 1477.1C1024.5 1476.1 1026.5 1478.3 1028.1 1480.2C1029.6 1482.0 1030.8 1484.9 1032.1 1488.3C1033.5 1491.7 1034.7 1496.1 1036.2 1500.5C1037.7 1504.9 1039.7 1510.0 1041.3 1514.7C1042.8 1519.5 1044.0 1524.2 1045.3 1528.9C1046.7 1533.7 1047.9 1538.8 1049.4 1543.2C1050.9 1547.6 1052.8 1551.6 1054.5 1555.3C1056.2 1559.1 1058.0 1562.1 1059.5 1565.5C1061.1 1568.9 1062.3 1572.3 1063.6 1575.7C1065.0 1579.1 1066.2 1582.4 1067.7 1585.8C1069.2 1589.2 1070.7 1592.9 1072.8 1596.0C1074.8 1599.0 1077.8 1601.4 1079.9 1604.1C1081.9 1606.8 1083.6 1609.2 1084.9 1612.2C1086.3 1615.3 1086.8 1619.3 1088.0 1622.4C1089.2 1625.4 1090.0 1628.3 1092.1 1630.5C1094.1 1632.7 1097.1 1633.6 1100.2 1635.6C1103.2 1637.6 1107.3 1640.5 1110.3 1642.7C1113.4 1644.9 1116.4 1646.8 1118.5 1648.8C1120.5 1650.8 1122.0 1652.9 1122.5 1654.9C1123.0 1656.9 1122.9 1659.8 1121.5 1661.0C1120.2 1662.2 1117.3 1662.3 1114.4 1662.0C1111.5 1661.7 1107.3 1660.3 1104.2 1659.0C1101.2 1657.6 1098.3 1655.4 1096.1 1653.9C1093.9 1652.4 1092.6 1649.7 1091.0 1649.8C1089.5 1650.0 1088.5 1653.0 1087.0 1654.9C1085.5 1656.8 1084.4 1659.5 1081.9 1661.0C1079.4 1662.5 1075.5 1663.9 1071.7 1664.0C1068.0 1664.2 1063.6 1663.5 1059.5 1662.0C1055.5 1660.5 1051.1 1658.1 1047.4 1654.9C1043.6 1651.7 1040.2 1647.1 1037.2 1642.7C1034.2 1638.3 1031.4 1633.6 1029.1 1628.5C1026.7 1623.4 1024.7 1618.0 1023.0 1612.2C1021.3 1606.5 1019.9 1600.4 1018.9 1594.0C1017.9 1587.5 1017.4 1580.4 1016.9 1573.6C1016.4 1566.9 1016.1 1560.1 1015.9 1553.3C1015.6 1546.5 1015.1 1538.8 1015.3 1533.0C1015.4 1527.2 1016.3 1523.9 1016.9 1518.8C1017.5 1513.7 1018.6 1507.9 1018.9 1502.5C1019.3 1497.1 1018.2 1490.5 1018.9 1486.3C1019.6 1482.0 1021.5 1478.1 1023.0 1477.1Z" fill="none" stroke="#4674b2" stroke-width="3.7" stroke-linejoin="round"/><path d="M1029.1 1507.6C1030.6 1506.6 1032.6 1510.1 1034.2 1512.7C1035.7 1515.2 1036.7 1518.8 1038.2 1522.8C1039.7 1526.9 1041.6 1532.3 1043.3 1537.1C1045.0 1541.8 1046.7 1546.9 1048.4 1551.3C1050.1 1555.7 1051.6 1559.4 1053.5 1563.5C1055.3 1567.5 1057.7 1571.6 1059.5 1575.7C1061.4 1579.7 1062.8 1583.8 1064.6 1587.9C1066.5 1591.9 1068.5 1596.3 1070.7 1600.0C1072.9 1603.8 1076.0 1606.8 1077.8 1610.2C1079.7 1613.6 1080.9 1617.0 1081.9 1620.4C1082.9 1623.7 1083.4 1627.1 1083.9 1630.5C1084.4 1633.9 1085.3 1637.3 1084.9 1640.7C1084.6 1644.1 1083.8 1647.8 1081.9 1650.8C1080.0 1653.9 1077.2 1657.6 1073.8 1659.0C1070.4 1660.3 1065.6 1660.1 1061.6 1659.0C1057.5 1657.8 1053.1 1654.9 1049.4 1651.9C1045.7 1648.8 1042.3 1644.9 1039.2 1640.7C1036.2 1636.4 1033.3 1631.5 1031.1 1626.5C1028.9 1621.4 1027.6 1616.0 1026.0 1610.2C1024.5 1604.4 1022.8 1598.0 1022.0 1591.9C1021.1 1585.8 1021.1 1580.1 1020.9 1573.6C1020.8 1567.2 1020.6 1559.8 1020.9 1553.3C1021.3 1546.9 1022.3 1540.8 1023.0 1535.0C1023.7 1529.3 1024.0 1523.4 1025.0 1518.8C1026.0 1514.2 1027.6 1508.6 1029.1 1507.6Z" fill="none" stroke="#4674b2" stroke-width="3.7" stroke-linejoin="round"/><path d="M1031.1 1532.0C1032.6 1531.0 1034.5 1532.8 1036.2 1535.0C1037.9 1537.2 1039.6 1541.5 1041.3 1545.2C1043.0 1548.9 1044.5 1553.3 1046.3 1557.4C1048.2 1561.4 1050.4 1565.5 1052.4 1569.6C1054.5 1573.6 1056.5 1577.7 1058.5 1581.8C1060.6 1585.8 1062.4 1589.9 1064.6 1594.0C1066.8 1598.0 1069.5 1602.1 1071.7 1606.1C1073.9 1610.2 1076.3 1614.3 1077.8 1618.3C1079.4 1622.4 1080.4 1626.5 1080.9 1630.5C1081.4 1634.6 1081.7 1639.0 1080.9 1642.7C1080.0 1646.4 1078.3 1650.7 1075.8 1652.9C1073.3 1655.1 1069.4 1656.3 1065.6 1655.9C1061.9 1655.6 1057.2 1653.4 1053.5 1650.8C1049.7 1648.3 1046.3 1644.7 1043.3 1640.7C1040.2 1636.6 1037.5 1631.5 1035.2 1626.5C1032.8 1621.4 1030.8 1616.0 1029.1 1610.2C1027.4 1604.4 1025.9 1598.0 1025.0 1591.9C1024.2 1585.8 1024.0 1579.7 1024.0 1573.6C1024.0 1567.5 1024.5 1560.8 1025.0 1555.3C1025.5 1549.9 1026.0 1545.0 1027.0 1541.1C1028.1 1537.2 1029.6 1533.0 1031.1 1532.0Z" fill="none" stroke="#4674b2" stroke-width="3.7" stroke-linejoin="round"/><path d="M1037.2 1556.4C1038.9 1555.7 1040.6 1558.9 1042.3 1561.4C1044.0 1564.0 1045.5 1567.9 1047.4 1571.6C1049.2 1575.3 1051.3 1579.7 1053.5 1583.8C1055.7 1587.9 1058.2 1591.9 1060.6 1596.0C1062.9 1600.0 1065.5 1604.1 1067.7 1608.2C1069.9 1612.2 1072.2 1616.3 1073.8 1620.4C1075.3 1624.4 1076.6 1628.7 1076.8 1632.6C1077.0 1636.4 1076.3 1640.7 1074.8 1643.7C1073.3 1646.8 1070.6 1650.0 1067.7 1650.8C1064.8 1651.7 1060.9 1650.5 1057.5 1648.8C1054.1 1647.1 1050.4 1644.1 1047.4 1640.7C1044.3 1637.3 1041.6 1633.2 1039.2 1628.5C1036.9 1623.7 1034.7 1617.7 1033.1 1612.2C1031.6 1606.8 1030.6 1601.4 1030.1 1596.0C1029.6 1590.6 1029.8 1584.8 1030.1 1579.7C1030.4 1574.7 1030.9 1569.4 1032.1 1565.5C1033.3 1561.6 1035.5 1557.0 1037.2 1556.4Z" fill="none" stroke="#4674b2" stroke-width="3.7" stroke-linejoin="round"/><path d="M1067.0 1614.3C1067.4 1615.0 1067.8 1615.8 1068.2 1616.7C1068.6 1617.6 1069.2 1618.6 1069.5 1619.7C1069.8 1620.7 1070.0 1621.7 1070.3 1622.9C1070.6 1624.1 1071.0 1625.5 1071.2 1626.9C1071.4 1628.2 1071.5 1629.7 1071.4 1631.2C1071.3 1632.6 1071.1 1634.1 1070.6 1635.5C1070.2 1636.9 1069.7 1638.4 1068.9 1639.6C1068.1 1640.8 1067.0 1642.1 1065.8 1642.8C1064.6 1643.5 1063.1 1643.8 1061.6 1643.9C1060.2 1643.9 1058.6 1643.7 1057.1 1643.2C1055.7 1642.6 1054.1 1641.4 1052.9 1640.6C1051.6 1639.7 1050.4 1638.9 1049.4 1638.0C1048.4 1637.1 1047.4 1636.1 1046.6 1635.2C1045.8 1634.2 1045.2 1633.1 1044.6 1632.2C1044.0 1631.3 1043.5 1630.5 1043.0 1629.8C1042.5 1629.0 1042.0 1628.4 1041.6 1627.7C1041.2 1627.1 1040.8 1626.5 1040.5 1625.8C1040.2 1625.2 1040.0 1624.5 1039.8 1623.9C1039.6 1623.2 1039.4 1622.7 1039.2 1622.1C1038.9 1621.6 1038.8 1621.0 1038.6 1620.5C1038.4 1620.0 1038.2 1619.5 1038.0 1619.0C1037.8 1618.5 1037.6 1618.0 1037.5 1617.5C1037.3 1617.0 1037.1 1616.4 1036.9 1615.9C1036.7 1615.4 1036.5 1614.8 1036.3 1614.3C1036.1 1613.7 1035.9 1613.1 1035.7 1612.5C1035.5 1611.8 1035.5 1611.2 1035.4 1610.5C1035.2 1609.8 1035.1 1609.1 1035.0 1608.3C1034.8 1607.5 1034.7 1606.7 1034.5 1605.7C1034.3 1604.7 1034.1 1603.7 1034.0 1602.4C1033.8 1601.2 1033.5 1599.8 1033.4 1598.3C1033.3 1596.8 1033.4 1595.4 1033.4 1593.5C1033.5 1591.6 1033.3 1589.3 1033.5 1586.8C1033.7 1584.4 1034.0 1581.5 1034.7 1578.7C1035.4 1576.0 1036.1 1571.7 1037.7 1570.5C1039.2 1569.3 1041.8 1569.6 1043.8 1571.5C1045.7 1573.5 1047.9 1579.5 1049.4 1582.3C1050.9 1585.2 1051.8 1587.0 1052.8 1588.7C1053.7 1590.5 1054.4 1591.5 1055.2 1592.7C1055.9 1593.9 1056.5 1594.9 1057.0 1595.9C1057.6 1596.8 1058.1 1597.6 1058.5 1598.4C1059.0 1599.3 1059.4 1600.0 1059.8 1600.7C1060.2 1601.4 1060.6 1602.1 1061.0 1602.7C1061.3 1603.4 1061.7 1604.0 1062.0 1604.6C1062.4 1605.2 1062.7 1605.8 1063.0 1606.4C1063.4 1607.0 1063.7 1607.6 1064.0 1608.2C1064.4 1608.8 1064.7 1609.4 1065.0 1610.1C1065.3 1610.7 1065.6 1611.4 1066.0 1612.1C1066.3 1612.8 1066.6 1613.5 1067.0 1614.3Z" fill="none" stroke="#4674b2" stroke-width="3.7" stroke-linejoin="round"/><path d="M1064.4 1614.3C1064.7 1614.9 1065.0 1615.6 1065.3 1616.4C1065.7 1617.1 1066.1 1618.0 1066.4 1618.8C1066.7 1619.7 1066.8 1620.6 1067.0 1621.6C1067.2 1622.6 1067.6 1623.7 1067.8 1624.9C1067.9 1626.0 1068.0 1627.3 1067.9 1628.5C1067.8 1629.7 1067.6 1630.9 1067.2 1632.1C1066.9 1633.3 1066.4 1634.6 1065.8 1635.6C1065.1 1636.6 1064.3 1637.7 1063.3 1638.3C1062.3 1638.9 1061.0 1639.3 1059.8 1639.4C1058.6 1639.5 1057.3 1639.4 1056.0 1639.0C1054.8 1638.6 1053.5 1637.7 1052.4 1637.0C1051.3 1636.3 1050.3 1635.6 1049.4 1634.9C1048.5 1634.1 1047.7 1633.3 1047.0 1632.5C1046.3 1631.7 1045.7 1630.7 1045.2 1630.0C1044.6 1629.2 1044.2 1628.5 1043.8 1627.9C1043.3 1627.2 1042.9 1626.7 1042.6 1626.1C1042.2 1625.5 1041.9 1624.9 1041.6 1624.4C1041.4 1623.8 1041.2 1623.2 1041.0 1622.7C1040.8 1622.1 1040.6 1621.6 1040.4 1621.1C1040.2 1620.7 1040.1 1620.2 1039.9 1619.7C1039.8 1619.3 1039.6 1618.8 1039.4 1618.4C1039.3 1617.9 1039.1 1617.5 1039.0 1617.1C1038.8 1616.6 1038.7 1616.2 1038.5 1615.7C1038.4 1615.2 1038.2 1614.8 1038.0 1614.3C1037.9 1613.8 1037.7 1613.2 1037.5 1612.7C1037.4 1612.2 1037.3 1611.6 1037.2 1611.0C1037.1 1610.4 1037.0 1609.8 1036.9 1609.1C1036.8 1608.4 1036.7 1607.7 1036.6 1606.9C1036.5 1606.0 1036.3 1605.2 1036.1 1604.1C1036.0 1603.1 1035.8 1601.9 1035.7 1600.6C1035.7 1599.4 1035.8 1598.2 1035.8 1596.6C1035.9 1595.0 1035.8 1593.1 1036.0 1591.1C1036.2 1589.0 1036.4 1586.6 1037.0 1584.4C1037.6 1582.2 1038.3 1578.6 1039.6 1577.6C1040.8 1576.6 1043.0 1576.8 1044.7 1578.4C1046.3 1580.0 1048.1 1584.7 1049.4 1587.1C1050.7 1589.4 1051.5 1590.9 1052.3 1592.3C1053.1 1593.7 1053.8 1594.7 1054.4 1595.7C1055.0 1596.7 1055.5 1597.5 1056.0 1598.3C1056.5 1599.2 1056.9 1599.9 1057.3 1600.6C1057.7 1601.3 1058.1 1601.9 1058.4 1602.5C1058.7 1603.1 1059.1 1603.7 1059.4 1604.3C1059.7 1604.9 1060.0 1605.4 1060.3 1605.9C1060.6 1606.5 1060.8 1607.0 1061.1 1607.5C1061.4 1608.0 1061.7 1608.5 1061.9 1609.1C1062.2 1609.6 1062.5 1610.1 1062.8 1610.7C1063.0 1611.2 1063.3 1611.8 1063.5 1612.4C1063.8 1613.0 1064.1 1613.6 1064.4 1614.3Z" fill="none" stroke="#4674b2" stroke-width="3.7" stroke-linejoin="round"/><path d="M1061.8 1614.3C1062.0 1614.8 1062.2 1615.4 1062.5 1616.0C1062.7 1616.6 1063.1 1617.3 1063.3 1618.0C1063.5 1618.7 1063.6 1619.4 1063.7 1620.2C1063.9 1621.0 1064.2 1621.9 1064.3 1622.9C1064.4 1623.8 1064.5 1624.8 1064.4 1625.8C1064.3 1626.7 1064.1 1627.8 1063.8 1628.7C1063.6 1629.7 1063.2 1630.7 1062.7 1631.6C1062.2 1632.4 1061.5 1633.3 1060.7 1633.9C1059.9 1634.4 1058.9 1634.8 1057.9 1634.9C1057.0 1635.1 1055.9 1635.1 1054.9 1634.8C1053.9 1634.6 1052.8 1633.9 1051.9 1633.4C1051.0 1632.9 1050.2 1632.4 1049.4 1631.8C1048.6 1631.2 1047.9 1630.6 1047.3 1629.9C1046.7 1629.2 1046.2 1628.4 1045.8 1627.8C1045.3 1627.1 1044.9 1626.5 1044.5 1626.0C1044.2 1625.4 1043.8 1624.9 1043.5 1624.4C1043.2 1623.9 1043.0 1623.4 1042.7 1623.0C1042.5 1622.5 1042.3 1621.9 1042.2 1621.5C1042.0 1621.0 1041.8 1620.6 1041.7 1620.2C1041.5 1619.8 1041.4 1619.4 1041.3 1619.0C1041.1 1618.6 1041.0 1618.2 1040.9 1617.8C1040.8 1617.4 1040.6 1617.0 1040.5 1616.6C1040.4 1616.3 1040.2 1615.9 1040.1 1615.5C1040.0 1615.1 1039.9 1614.7 1039.8 1614.3C1039.6 1613.8 1039.5 1613.4 1039.4 1612.9C1039.3 1612.5 1039.2 1612.0 1039.1 1611.5C1039.1 1611.0 1039.0 1610.5 1038.9 1609.9C1038.8 1609.4 1038.8 1608.8 1038.7 1608.1C1038.6 1607.4 1038.4 1606.6 1038.3 1605.8C1038.3 1604.9 1038.1 1604.0 1038.1 1603.0C1038.1 1601.9 1038.2 1601.0 1038.2 1599.7C1038.3 1598.4 1038.2 1596.9 1038.4 1595.3C1038.6 1593.7 1038.9 1591.8 1039.4 1590.0C1039.9 1588.3 1040.5 1585.6 1041.5 1584.8C1042.5 1584.0 1044.3 1584.1 1045.6 1585.3C1046.9 1586.4 1048.3 1590.0 1049.4 1591.8C1050.4 1593.5 1051.1 1594.7 1051.8 1595.9C1052.5 1597.0 1053.1 1597.8 1053.6 1598.6C1054.1 1599.4 1054.6 1600.1 1055.0 1600.8C1055.4 1601.5 1055.7 1602.1 1056.1 1602.7C1056.4 1603.3 1056.7 1603.8 1057.0 1604.4C1057.3 1604.9 1057.5 1605.4 1057.8 1605.9C1058.0 1606.4 1058.3 1606.8 1058.5 1607.3C1058.8 1607.7 1059.0 1608.2 1059.2 1608.6C1059.4 1609.1 1059.6 1609.5 1059.9 1609.9C1060.1 1610.4 1060.3 1610.8 1060.5 1611.3C1060.7 1611.8 1060.9 1612.2 1061.1 1612.7C1061.3 1613.2 1061.5 1613.7 1061.8 1614.3Z" fill="none" stroke="#4674b2" stroke-width="3.7" stroke-linejoin="round"/><path d="M1059.1 1614.3C1059.3 1614.7 1059.4 1615.1 1059.6 1615.6C1059.8 1616.1 1060.0 1616.6 1060.2 1617.2C1060.3 1617.7 1060.4 1618.2 1060.5 1618.9C1060.6 1619.5 1060.8 1620.2 1060.8 1620.9C1060.9 1621.6 1060.9 1622.3 1060.9 1623.1C1060.8 1623.8 1060.7 1624.6 1060.5 1625.3C1060.2 1626.1 1060.0 1626.9 1059.6 1627.6C1059.2 1628.3 1058.7 1628.9 1058.1 1629.4C1057.6 1629.9 1056.8 1630.2 1056.1 1630.5C1055.4 1630.7 1054.6 1630.8 1053.8 1630.7C1053.0 1630.6 1052.2 1630.2 1051.4 1629.9C1050.7 1629.5 1050.0 1629.2 1049.4 1628.7C1048.8 1628.3 1048.2 1627.8 1047.7 1627.3C1047.2 1626.7 1046.8 1626.1 1046.4 1625.6C1046.0 1625.0 1045.6 1624.6 1045.3 1624.1C1045.0 1623.6 1044.7 1623.2 1044.5 1622.8C1044.2 1622.3 1044.0 1621.9 1043.8 1621.5C1043.6 1621.1 1043.5 1620.7 1043.4 1620.3C1043.2 1619.9 1043.1 1619.6 1043.0 1619.2C1042.8 1618.8 1042.7 1618.5 1042.6 1618.2C1042.5 1617.8 1042.4 1617.5 1042.3 1617.2C1042.2 1616.9 1042.1 1616.6 1042.0 1616.2C1041.9 1615.9 1041.8 1615.6 1041.7 1615.3C1041.6 1614.9 1041.6 1614.6 1041.5 1614.3C1041.4 1613.9 1041.3 1613.6 1041.2 1613.2C1041.1 1612.8 1041.1 1612.4 1041.0 1612.0C1041.0 1611.6 1040.9 1611.2 1040.9 1610.7C1040.8 1610.3 1040.8 1609.8 1040.7 1609.3C1040.7 1608.7 1040.6 1608.1 1040.5 1607.5C1040.5 1606.8 1040.4 1606.1 1040.4 1605.3C1040.4 1604.5 1040.5 1603.8 1040.6 1602.8C1040.7 1601.8 1040.7 1600.7 1040.9 1599.5C1041.1 1598.3 1041.3 1597.0 1041.7 1595.7C1042.1 1594.4 1042.6 1592.5 1043.4 1591.9C1044.2 1591.3 1045.5 1591.3 1046.5 1592.1C1047.5 1592.9 1048.6 1595.3 1049.4 1596.5C1050.2 1597.7 1050.8 1598.6 1051.3 1599.4C1051.9 1600.3 1052.4 1600.9 1052.8 1601.5C1053.2 1602.2 1053.6 1602.7 1053.9 1603.3C1054.3 1603.8 1054.6 1604.3 1054.8 1604.8C1055.1 1605.3 1055.4 1605.8 1055.6 1606.2C1055.8 1606.6 1056.0 1607.1 1056.2 1607.5C1056.4 1607.9 1056.6 1608.2 1056.8 1608.6C1057.0 1609.0 1057.1 1609.3 1057.3 1609.7C1057.4 1610.1 1057.6 1610.4 1057.8 1610.8C1057.9 1611.2 1058.1 1611.5 1058.2 1611.9C1058.4 1612.3 1058.5 1612.6 1058.7 1613.0C1058.8 1613.4 1059.0 1613.8 1059.1 1614.3Z" fill="none" stroke="#4674b2" stroke-width="3.7" stroke-linejoin="round"/><path d="M1056.5 1614.3C1056.6 1614.6 1056.7 1614.9 1056.8 1615.2C1056.9 1615.6 1057.0 1615.9 1057.1 1616.3C1057.1 1616.7 1057.2 1617.1 1057.2 1617.5C1057.3 1617.9 1057.3 1618.4 1057.4 1618.9C1057.4 1619.3 1057.4 1619.9 1057.4 1620.4C1057.3 1620.9 1057.2 1621.4 1057.1 1621.9C1056.9 1622.5 1056.8 1623.0 1056.5 1623.5C1056.3 1624.1 1055.9 1624.6 1055.6 1625.0C1055.2 1625.4 1054.7 1625.7 1054.2 1626.0C1053.8 1626.2 1053.2 1626.4 1052.7 1626.5C1052.1 1626.5 1051.5 1626.4 1051.0 1626.3C1050.4 1626.1 1049.9 1625.9 1049.4 1625.7C1048.9 1625.4 1048.4 1625.0 1048.0 1624.6C1047.6 1624.2 1047.3 1623.8 1047.0 1623.4C1046.6 1623.0 1046.4 1622.6 1046.1 1622.2C1045.9 1621.8 1045.6 1621.5 1045.4 1621.1C1045.2 1620.8 1045.1 1620.4 1044.9 1620.1C1044.8 1619.8 1044.7 1619.4 1044.6 1619.1C1044.4 1618.8 1044.3 1618.5 1044.2 1618.2C1044.1 1617.9 1044.1 1617.7 1044.0 1617.4C1043.9 1617.1 1043.8 1616.9 1043.8 1616.6C1043.7 1616.3 1043.6 1616.1 1043.6 1615.8C1043.5 1615.6 1043.4 1615.3 1043.3 1615.1C1043.3 1614.8 1043.3 1614.5 1043.2 1614.3C1043.2 1614.0 1043.1 1613.7 1043.0 1613.4C1043.0 1613.1 1043.0 1612.8 1042.9 1612.5C1042.9 1612.2 1042.9 1611.9 1042.9 1611.6C1042.8 1611.2 1042.8 1610.9 1042.8 1610.5C1042.8 1610.1 1042.8 1609.6 1042.7 1609.2C1042.7 1608.7 1042.7 1608.2 1042.8 1607.6C1042.8 1607.1 1042.9 1606.5 1043.0 1605.9C1043.1 1605.3 1043.2 1604.5 1043.3 1603.8C1043.5 1603.0 1043.7 1602.1 1044.0 1601.4C1044.4 1600.6 1044.8 1599.5 1045.3 1599.1C1045.9 1598.7 1046.7 1598.6 1047.4 1599.0C1048.1 1599.3 1048.8 1600.6 1049.4 1601.2C1050.0 1601.9 1050.4 1602.4 1050.9 1603.0C1051.3 1603.5 1051.7 1604.0 1052.0 1604.4C1052.4 1604.9 1052.7 1605.3 1052.9 1605.8C1053.2 1606.2 1053.4 1606.6 1053.6 1607.0C1053.8 1607.3 1054.0 1607.7 1054.2 1608.0C1054.3 1608.4 1054.5 1608.7 1054.6 1609.0C1054.8 1609.4 1054.9 1609.6 1055.0 1609.9C1055.2 1610.2 1055.3 1610.5 1055.4 1610.8C1055.5 1611.1 1055.6 1611.4 1055.7 1611.7C1055.8 1611.9 1055.9 1612.2 1056.0 1612.5C1056.1 1612.8 1056.2 1613.1 1056.3 1613.4C1056.3 1613.7 1056.4 1614.0 1056.5 1614.3Z" fill="none" stroke="#4674b2" stroke-width="3.7" stroke-linejoin="round"/><path d="M1053.9 1614.3C1053.9 1614.5 1053.9 1614.7 1053.9 1614.9C1053.9 1615.1 1053.9 1615.3 1053.9 1615.5C1054.0 1615.7 1054.0 1615.9 1054.0 1616.2C1053.9 1616.4 1053.9 1616.6 1053.9 1616.9C1053.9 1617.1 1053.9 1617.4 1053.8 1617.7C1053.8 1618.0 1053.7 1618.2 1053.7 1618.5C1053.6 1618.9 1053.5 1619.2 1053.4 1619.5C1053.3 1619.9 1053.2 1620.2 1053.0 1620.5C1052.8 1620.9 1052.6 1621.2 1052.4 1621.5C1052.2 1621.8 1051.9 1622.1 1051.5 1622.3C1051.2 1622.5 1050.9 1622.7 1050.5 1622.7C1050.1 1622.8 1049.7 1622.7 1049.4 1622.6C1049.0 1622.5 1048.7 1622.2 1048.4 1622.0C1048.1 1621.8 1047.8 1621.4 1047.5 1621.2C1047.3 1620.9 1047.1 1620.6 1046.9 1620.3C1046.7 1620.0 1046.5 1619.7 1046.4 1619.5C1046.3 1619.2 1046.1 1618.9 1046.0 1618.7C1045.9 1618.4 1045.8 1618.2 1045.7 1617.9C1045.7 1617.7 1045.6 1617.5 1045.5 1617.3C1045.4 1617.0 1045.4 1616.8 1045.3 1616.6C1045.3 1616.4 1045.2 1616.2 1045.2 1616.0C1045.2 1615.8 1045.1 1615.6 1045.1 1615.4C1045.0 1615.2 1045.0 1615.0 1045.0 1614.8C1044.9 1614.7 1044.9 1614.5 1044.9 1614.3C1044.9 1614.1 1044.9 1613.9 1044.9 1613.7C1044.9 1613.5 1044.8 1613.3 1044.8 1613.0C1044.8 1612.8 1044.8 1612.6 1044.8 1612.4C1044.8 1612.1 1044.9 1611.9 1044.9 1611.7C1044.9 1611.4 1044.9 1611.1 1044.9 1610.9C1045.0 1610.6 1045.0 1610.3 1045.1 1610.0C1045.2 1609.7 1045.2 1609.3 1045.4 1609.0C1045.5 1608.7 1045.6 1608.3 1045.8 1608.0C1046.0 1607.7 1046.1 1607.3 1046.4 1607.0C1046.6 1606.7 1046.9 1606.4 1047.2 1606.2C1047.5 1606.0 1047.9 1605.9 1048.3 1605.8C1048.6 1605.8 1049.0 1605.8 1049.4 1605.9C1049.7 1606.1 1050.1 1606.3 1050.4 1606.5C1050.7 1606.8 1051.0 1607.1 1051.2 1607.4C1051.5 1607.6 1051.7 1607.9 1051.9 1608.2C1052.1 1608.5 1052.2 1608.8 1052.4 1609.1C1052.5 1609.4 1052.7 1609.6 1052.8 1609.9C1052.9 1610.1 1053.0 1610.4 1053.0 1610.6C1053.1 1610.9 1053.2 1611.1 1053.3 1611.3C1053.4 1611.5 1053.4 1611.7 1053.5 1611.9C1053.5 1612.1 1053.5 1612.3 1053.6 1612.5C1053.6 1612.7 1053.7 1612.9 1053.7 1613.1C1053.7 1613.3 1053.8 1613.5 1053.8 1613.7C1053.8 1613.9 1053.8 1614.1 1053.9 1614.3Z" fill="none" stroke="#4674b2" stroke-width="3.7" stroke-linejoin="round"/><path d="M1150.0 1654.8C1150.3 1655.6 1150.5 1656.4 1150.6 1657.2C1150.8 1658.0 1150.8 1658.8 1150.8 1659.5C1150.8 1660.3 1150.7 1661.0 1150.6 1661.7C1150.4 1662.3 1150.2 1663.0 1149.9 1663.5C1149.6 1664.0 1149.2 1664.5 1148.8 1664.9C1148.4 1665.2 1148.0 1665.5 1147.5 1665.7C1147.0 1665.9 1146.4 1666.0 1145.9 1666.0C1145.3 1665.9 1144.7 1665.8 1144.2 1665.6C1143.6 1665.4 1143.0 1665.0 1142.5 1664.6C1141.9 1664.2 1141.4 1663.7 1140.9 1663.1C1140.4 1662.6 1140.0 1661.9 1139.6 1661.2C1139.2 1660.5 1138.8 1659.8 1138.5 1659.0C1138.3 1658.3 1138.0 1657.4 1137.9 1656.7C1137.8 1655.9 1137.7 1655.1 1137.7 1654.3C1137.7 1653.6 1137.8 1652.9 1138.0 1652.2C1138.1 1651.5 1138.3 1650.9 1138.6 1650.4C1138.9 1649.8 1139.3 1649.4 1139.7 1649.0C1140.1 1648.6 1140.6 1648.3 1141.1 1648.1C1141.6 1648.0 1142.1 1647.9 1142.7 1647.9C1143.2 1647.9 1143.8 1648.1 1144.4 1648.3C1144.9 1648.5 1145.5 1648.8 1146.1 1649.2C1146.6 1649.7 1147.1 1650.2 1147.6 1650.7C1148.1 1651.3 1148.6 1652.0 1149.0 1652.6C1149.4 1653.3 1149.7 1654.1 1150.0 1654.8Z" fill="none" stroke="#4674b2" stroke-width="3.7" stroke-linejoin="round"/><path d="M1217.6 1658.5C1217.9 1659.3 1218.1 1660.1 1218.3 1660.8C1218.4 1661.6 1218.5 1662.4 1218.5 1663.2C1218.5 1663.9 1218.4 1664.7 1218.2 1665.3C1218.1 1666.0 1217.8 1666.6 1217.6 1667.1C1217.3 1667.7 1216.9 1668.2 1216.5 1668.5C1216.1 1668.9 1215.6 1669.2 1215.1 1669.4C1214.6 1669.5 1214.1 1669.6 1213.5 1669.6C1213.0 1669.6 1212.4 1669.5 1211.8 1669.2C1211.3 1669.0 1210.7 1668.7 1210.1 1668.3C1209.6 1667.9 1209.0 1667.3 1208.6 1666.8C1208.1 1666.2 1207.6 1665.6 1207.2 1664.9C1206.8 1664.2 1206.5 1663.4 1206.2 1662.7C1205.9 1661.9 1205.7 1661.1 1205.6 1660.3C1205.4 1659.5 1205.4 1658.7 1205.4 1658.0C1205.4 1657.3 1205.5 1656.5 1205.6 1655.9C1205.8 1655.2 1206.0 1654.6 1206.3 1654.0C1206.6 1653.5 1206.9 1653.0 1207.3 1652.6C1207.8 1652.3 1208.2 1652.0 1208.7 1651.8C1209.2 1651.6 1209.8 1651.5 1210.3 1651.6C1210.9 1651.6 1211.4 1651.7 1212.0 1651.9C1212.6 1652.2 1213.2 1652.5 1213.7 1652.9C1214.3 1653.3 1214.8 1653.8 1215.3 1654.4C1215.8 1655.0 1216.2 1655.6 1216.6 1656.3C1217.0 1657.0 1217.4 1657.7 1217.6 1658.5Z" fill="none" stroke="#4674b2" stroke-width="3.7" stroke-linejoin="round"/><path d="M1238.1 1659.1C1238.4 1659.9 1238.7 1660.8 1238.8 1661.7C1239.0 1662.5 1239.0 1663.4 1239.0 1664.2C1239.0 1665.0 1238.9 1665.8 1238.7 1666.5C1238.6 1667.2 1238.3 1667.9 1238.0 1668.5C1237.7 1669.1 1237.3 1669.6 1236.8 1670.0C1236.4 1670.4 1235.8 1670.7 1235.3 1670.9C1234.8 1671.1 1234.2 1671.2 1233.6 1671.2C1233.0 1671.2 1232.3 1671.1 1231.7 1670.8C1231.1 1670.6 1230.4 1670.2 1229.8 1669.8C1229.2 1669.3 1228.6 1668.8 1228.1 1668.2C1227.6 1667.5 1227.1 1666.8 1226.6 1666.1C1226.2 1665.3 1225.8 1664.5 1225.5 1663.7C1225.2 1662.9 1225.0 1662.0 1224.8 1661.1C1224.7 1660.3 1224.6 1659.4 1224.6 1658.6C1224.6 1657.8 1224.7 1657.0 1224.9 1656.3C1225.1 1655.5 1225.3 1654.9 1225.7 1654.3C1226.0 1653.7 1226.4 1653.2 1226.8 1652.8C1227.3 1652.4 1227.8 1652.1 1228.4 1651.9C1228.9 1651.7 1229.5 1651.6 1230.1 1651.6C1230.7 1651.6 1231.3 1651.7 1232.0 1652.0C1232.6 1652.2 1233.2 1652.6 1233.8 1653.0C1234.4 1653.5 1235.0 1654.0 1235.5 1654.6C1236.1 1655.3 1236.6 1656.0 1237.0 1656.7C1237.4 1657.5 1237.8 1658.3 1238.1 1659.1Z" fill="none" stroke="#4674b2" stroke-width="3.7" stroke-linejoin="round"/><path d="M1005.7 1599.0C1005.7 1596.8 1006.6 1594.5 1008.8 1592.9C1011.0 1591.3 1015.2 1590.2 1018.9 1589.5C1022.6 1588.8 1027.0 1588.5 1031.1 1588.9C1035.2 1589.3 1039.2 1590.7 1043.3 1591.9C1047.4 1593.2 1051.4 1594.5 1055.5 1596.4C1059.5 1598.3 1063.6 1600.5 1067.7 1603.1C1071.7 1605.7 1075.8 1609.2 1079.9 1612.2C1083.9 1615.3 1087.7 1618.5 1092.1 1621.4C1096.5 1624.3 1101.5 1627.1 1106.3 1629.5C1111.0 1631.9 1115.4 1633.8 1120.5 1635.6C1125.6 1637.4 1131.3 1639.0 1136.7 1640.3C1142.2 1641.5 1147.6 1642.4 1153.0 1643.1C1158.4 1643.9 1163.8 1644.2 1169.3 1644.7C1174.7 1645.3 1180.4 1645.5 1185.5 1646.4C1190.6 1647.2 1195.3 1648.2 1199.7 1649.8C1204.1 1651.4 1209.0 1654.1 1211.9 1655.9C1214.8 1657.8 1216.7 1659.5 1217.0 1661.0C1217.3 1662.5 1216.2 1664.0 1214.0 1665.1C1211.7 1666.1 1206.8 1666.2 1203.8 1667.1C1200.7 1667.9 1198.4 1669.1 1195.7 1670.1C1193.0 1671.2 1191.3 1672.5 1187.5 1673.2C1183.8 1673.9 1178.4 1674.3 1173.3 1674.2C1168.2 1674.1 1162.5 1673.5 1157.1 1672.8C1151.6 1672.1 1146.2 1671.1 1140.8 1670.1C1135.4 1669.2 1130.0 1668.3 1124.6 1667.1C1119.1 1665.9 1113.7 1664.5 1108.3 1663.0C1102.9 1661.5 1097.5 1659.6 1092.1 1657.9C1086.6 1656.3 1081.2 1654.9 1075.8 1652.9C1070.4 1650.8 1065.0 1648.5 1059.5 1645.8C1054.1 1643.0 1048.4 1639.8 1043.3 1636.6C1038.2 1633.4 1033.5 1630.0 1029.1 1626.5C1024.7 1622.9 1020.3 1618.7 1016.9 1615.3C1013.5 1611.9 1010.6 1608.8 1008.8 1606.1C1006.9 1603.4 1005.7 1601.2 1005.7 1599.0Z" fill="none" stroke="#e47a1e" stroke-width="3.7" stroke-linejoin="round"/><path d="M1030.1 1606.1C1031.1 1604.3 1034.0 1603.4 1037.2 1603.1C1040.4 1602.8 1045.3 1603.1 1049.4 1604.1C1053.5 1605.1 1057.5 1607.0 1061.6 1609.2C1065.6 1611.4 1069.7 1614.4 1073.8 1617.3C1077.8 1620.2 1081.6 1623.4 1086.0 1626.5C1090.4 1629.5 1095.4 1632.7 1100.2 1635.6C1104.9 1638.5 1109.7 1641.4 1114.4 1643.7C1119.1 1646.1 1124.2 1648.3 1128.6 1649.8C1133.0 1651.3 1138.1 1652.0 1140.8 1652.9C1143.5 1653.8 1145.2 1654.6 1144.9 1655.3C1144.5 1656.0 1142.2 1656.7 1138.8 1656.9C1135.4 1657.2 1129.6 1657.1 1124.6 1656.9C1119.5 1656.8 1113.7 1656.6 1108.3 1655.9C1102.9 1655.2 1097.5 1654.2 1092.1 1652.9C1086.6 1651.5 1080.9 1649.8 1075.8 1647.8C1070.7 1645.8 1066.3 1643.4 1061.6 1640.7C1056.8 1638.0 1051.4 1634.6 1047.4 1631.5C1043.3 1628.5 1039.9 1625.3 1037.2 1622.4C1034.5 1619.5 1032.3 1617.0 1031.1 1614.3C1029.9 1611.6 1029.1 1608.0 1030.1 1606.1Z" fill="none" stroke="#e47a1e" stroke-width="3.7" stroke-linejoin="round"/><path d="M1032.1 1571.6C1033.1 1570.3 1037.7 1569.6 1041.3 1570.0C1044.8 1570.3 1049.9 1572.0 1053.5 1573.6C1057.0 1575.3 1060.7 1577.9 1062.6 1579.7C1064.5 1581.6 1065.5 1583.6 1064.6 1584.8C1063.8 1586.0 1060.7 1587.0 1057.5 1586.8C1054.3 1586.7 1049.1 1585.3 1045.3 1583.8C1041.6 1582.3 1037.4 1579.7 1035.2 1577.7C1033.0 1575.7 1031.1 1572.9 1032.1 1571.6Z" fill="none" stroke="#e47a1e" stroke-width="3.7" stroke-linejoin="round"/><path d="M1076.1 1636.6C1075.9 1637.0 1075.4 1637.3 1074.8 1637.4C1074.2 1637.5 1073.4 1637.5 1072.6 1637.4C1071.7 1637.3 1070.7 1637.0 1069.7 1636.6C1068.8 1636.2 1067.7 1635.6 1066.8 1635.0C1065.8 1634.5 1064.8 1633.7 1064.1 1633.0C1063.3 1632.3 1062.6 1631.6 1062.1 1630.9C1061.6 1630.2 1061.2 1629.4 1061.1 1628.9C1061.0 1628.3 1061.0 1627.7 1061.3 1627.3C1061.5 1626.9 1062.0 1626.6 1062.6 1626.5C1063.2 1626.3 1064.0 1626.3 1064.8 1626.5C1065.7 1626.6 1066.7 1626.9 1067.6 1627.3C1068.6 1627.7 1069.7 1628.2 1070.6 1628.8C1071.6 1629.4 1072.5 1630.2 1073.3 1630.8C1074.1 1631.5 1074.8 1632.3 1075.3 1633.0C1075.8 1633.7 1076.1 1634.4 1076.3 1635.0C1076.4 1635.6 1076.3 1636.2 1076.1 1636.6Z" fill="none" stroke="#e47a1e" stroke-width="3.7" stroke-linejoin="round"/>
</g>
<path d="M107.2 7.25V400.0H468.40M171.3 400.0v9.3M304.5 400.0v9.3M437.8 400.0v9.3M107.2 382.6h-9.3M107.2 300.0h-9.3M107.2 217.3h-9.3M107.2 134.7h-9.3M107.2 52.0h-9.3M536.2 7.25V400.0H897.40M590.4 400.0v9.3M681.9 400.0v9.3M773.2 400.0v9.3M864.5 400.0v9.3M536.2 382.6h-9.3M536.2 300.0h-9.3M536.2 217.3h-9.3M536.2 134.7h-9.3M536.2 52.0h-9.3M965.6 7.25V400.0H1326.40M1016.1 400.0v9.3M1126.0 400.0v9.3M1236.1 400.0v9.3M965.6 382.6h-9.3M965.6 300.0h-9.3M965.6 217.3h-9.3M965.6 134.7h-9.3M965.6 52.0h-9.3M1395.4 7.25V400.0H1756.80M1430.5 400.0v9.3M1535.5 400.0v9.3M1640.7 400.0v9.3M1746.0 400.0v9.3M1395.4 382.6h-9.3M1395.4 300.0h-9.3M1395.4 217.3h-9.3M1395.4 134.7h-9.3M1395.4 52.0h-9.3M107.2 437.45V830.4H468.40M171.3 830.4v9.3M304.5 830.4v9.3M437.8 830.4v9.3M107.2 771.2h-9.3M107.2 691.8h-9.3M107.2 612.4h-9.3M107.2 533.0h-9.3M107.2 453.6h-9.3M536.2 437.45V830.4H897.40M590.4 830.4v9.3M681.9 830.4v9.3M773.2 830.4v9.3M864.5 830.4v9.3M536.2 771.2h-9.3M536.2 691.8h-9.3M536.2 612.4h-9.3M536.2 533.0h-9.3M536.2 453.6h-9.3M965.6 437.45V830.4H1326.40M1016.1 830.4v9.3M1126.0 830.4v9.3M1236.1 830.4v9.3M965.6 771.2h-9.3M965.6 691.8h-9.3M965.6 612.4h-9.3M965.6 533.0h-9.3M965.6 453.6h-9.3M1395.4 437.45V830.4H1756.80M1430.5 830.4v9.3M1535.5 830.4v9.3M1640.7 830.4v9.3M1746.0 830.4v9.3M1395.4 771.2h-9.3M1395.4 691.8h-9.3M1395.4 612.4h-9.3M1395.4 533.0h-9.3M1395.4 453.6h-9.3M107.2 867.85V1260.4H468.40M171.3 1260.4v9.3M304.5 1260.4v9.3M437.8 1260.4v9.3M107.2 1206.4h-9.3M107.2 1110.6h-9.3M107.2 1014.9h-9.3M107.2 919.1h-9.3M536.2 867.85V1260.4H897.40M590.4 1260.4v9.3M681.9 1260.4v9.3M773.2 1260.4v9.3M864.5 1260.4v9.3M536.2 1206.4h-9.3M536.2 1110.6h-9.3M536.2 1014.9h-9.3M536.2 919.1h-9.3M965.6 867.85V1260.4H1326.40M1016.1 1260.4v9.3M1126.0 1260.4v9.3M1236.1 1260.4v9.3M965.6 1206.4h-9.3M965.6 1110.6h-9.3M965.6 1014.9h-9.3M965.6 919.1h-9.3M1395.4 867.85V1260.4H1756.80M1430.5 1260.4v9.3M1535.5 1260.4v9.3M1640.7 1260.4v9.3M1746.0 1260.4v9.3M1395.4 1206.4h-9.3M1395.4 1110.6h-9.3M1395.4 1014.9h-9.3M1395.4 919.1h-9.3M107.2 1297.45V1690.8H468.40M171.3 1690.8v9.3M304.5 1690.8v9.3M437.8 1690.8v9.3M107.2 1664.9h-9.3M107.2 1603.9h-9.3M107.2 1542.8h-9.3M107.2 1481.8h-9.3M107.2 1420.7h-9.3M107.2 1359.6h-9.3M536.2 1297.45V1690.8H897.40M590.4 1690.8v9.3M681.9 1690.8v9.3M773.2 1690.8v9.3M864.5 1690.8v9.3M536.2 1664.9h-9.3M536.2 1603.9h-9.3M536.2 1542.8h-9.3M536.2 1481.8h-9.3M536.2 1420.7h-9.3M536.2 1359.6h-9.3M965.6 1297.45V1690.8H1326.40M1016.1 1690.8v9.3M1126.0 1690.8v9.3M1236.1 1690.8v9.3M965.6 1664.9h-9.3M965.6 1603.9h-9.3M965.6 1542.8h-9.3M965.6 1481.8h-9.3M965.6 1420.7h-9.3M965.6 1359.6h-9.3M1395.4 1297.45V1690.8H1756.80M1430.5 1690.8v9.3M1535.5 1690.8v9.3M1640.7 1690.8v9.3M1746.0 1690.8v9.3M1395.4 1664.9h-9.3M1395.4 1603.9h-9.3M1395.4 1542.8h-9.3M1395.4 1481.8h-9.3M1395.4 1420.7h-9.3M1395.4 1359.6h-9.3" fill="none" stroke="#000" stroke-width="1.9" stroke-linecap="butt" stroke-linejoin="miter"/>
<g id="p00">
<path d="M115.1 399.7C116.7 399.6 122.1 399.4 124.6 399.4C127.1 399.4 127.6 399.7 130.0 399.5C132.4 399.4 136.2 398.9 139.0 398.4C141.9 397.9 144.1 397.6 146.9 396.7C149.8 395.9 153.1 394.6 156.0 393.3C158.8 392.1 161.0 390.8 163.9 389.4C166.7 388.0 169.9 386.3 172.9 384.9C175.9 383.5 178.9 382.1 181.9 380.9C184.9 379.8 187.9 378.8 190.9 378.1C194.0 377.4 197.2 376.9 200.0 376.6C202.8 376.4 205.2 376.3 207.9 376.4C210.5 376.6 213.0 376.9 215.8 377.5C218.6 378.2 221.8 379.3 224.8 380.4C227.8 381.4 230.8 382.6 233.8 383.7C236.8 384.9 239.9 386.0 242.9 387.1C245.9 388.3 248.9 389.5 251.9 390.5C254.9 391.5 257.9 392.3 260.9 393.1C263.9 394.0 266.9 394.8 270.0 395.6C273.0 396.4 276.0 397.0 279.0 397.6C282.0 398.2 284.6 398.8 288.0 399.2C291.4 399.6 271.0 399.8 299.3 399.9C327.6 399.9 431.4 399.7 457.8 399.7L457.8 399.9L115.1 399.9Z" fill="#e07b22" fill-opacity="0.25" stroke="none"/><path d="M115.1 399.9H457.8" fill="none" stroke="#e07b22" stroke-opacity="0.72" stroke-width="2.2"/><path d="M115.1 399.7C116.7 399.6 122.1 399.4 124.6 399.4C127.1 399.4 127.6 399.7 130.0 399.5C132.4 399.4 136.2 398.9 139.0 398.4C141.9 397.9 144.1 397.6 146.9 396.7C149.8 395.9 153.1 394.6 156.0 393.3C158.8 392.1 161.0 390.8 163.9 389.4C166.7 388.0 169.9 386.3 172.9 384.9C175.9 383.5 178.9 382.1 181.9 380.9C184.9 379.8 187.9 378.8 190.9 378.1C194.0 377.4 197.2 376.9 200.0 376.6C202.8 376.4 205.2 376.3 207.9 376.4C210.5 376.6 213.0 376.9 215.8 377.5C218.6 378.2 221.8 379.3 224.8 380.4C227.8 381.4 230.8 382.6 233.8 383.7C236.8 384.9 239.9 386.0 242.9 387.1C245.9 388.3 248.9 389.5 251.9 390.5C254.9 391.5 257.9 392.3 260.9 393.1C263.9 394.0 266.9 394.8 270.0 395.6C273.0 396.4 276.0 397.0 279.0 397.6C282.0 398.2 284.6 398.8 288.0 399.2C291.4 399.6 271.0 399.8 299.3 399.9C327.6 399.9 431.4 399.7 457.8 399.7" fill="none" stroke="#e07b22" stroke-width="2.6" stroke-linejoin="round" stroke-linecap="round"/><path d="M149.2 400.1C150.2 399.9 154.0 399.6 155.4 399.0C156.8 398.3 157.0 397.5 157.7 396.2C158.3 394.8 159.0 393.2 159.6 391.1C160.2 388.9 160.8 386.4 161.4 383.2C162.0 380.0 162.5 376.2 163.1 371.9C163.6 367.6 164.2 362.5 164.8 357.2C165.3 352.0 165.8 346.9 166.3 340.3C166.9 333.7 167.6 325.2 168.1 317.7C168.7 310.2 169.1 302.7 169.5 295.1C170.0 287.6 170.4 280.1 170.9 272.6C171.3 265.0 171.6 260.2 172.0 250.0C172.4 239.8 172.7 225.9 173.4 211.3C174.0 196.8 175.2 178.4 176.1 162.6C177.0 146.8 177.9 131.0 178.8 116.5C179.7 102.1 180.6 88.1 181.5 75.9C182.4 63.7 183.4 51.1 184.2 43.4C185.0 35.6 185.7 32.1 186.4 29.3C187.0 26.4 187.4 26.6 188.0 26.3C188.5 26.0 189.0 26.4 189.6 27.6C190.2 28.9 190.8 30.8 191.5 33.9C192.2 36.9 192.9 40.2 193.7 46.1C194.5 51.9 195.3 57.8 196.4 69.1C197.5 80.4 199.1 98.2 200.5 113.8C201.8 129.4 202.2 138.5 204.5 162.6C206.8 186.7 212.5 240.9 214.4 258.5C216.3 276.0 215.3 263.3 216.0 268.1C216.7 272.9 217.6 280.9 218.6 287.2C219.6 293.6 220.8 300.4 222.0 306.4C223.2 312.5 224.4 317.7 225.9 323.4C227.4 329.0 229.3 335.4 231.0 340.3C232.7 345.2 234.4 348.9 236.1 352.7C237.8 356.5 239.4 359.6 241.2 362.9C243.0 366.2 244.9 369.5 246.8 372.5C248.7 375.5 250.8 378.5 252.5 380.9C254.2 383.4 255.6 385.5 257.0 387.1C258.4 388.8 259.7 390.2 260.9 390.9C262.1 391.5 263.0 391.3 264.3 391.1C265.6 390.8 267.2 389.9 268.8 389.4C270.4 388.9 272.3 388.2 273.9 388.3C275.5 388.4 276.8 389.0 278.4 390.0C280.0 390.9 281.7 392.8 283.5 393.9C285.3 395.0 287.3 396.1 289.1 396.7C291.0 397.4 292.7 397.6 294.8 397.9C296.9 398.1 299.3 398.1 301.6 398.1C303.8 398.1 306.1 398.0 308.3 397.9C310.6 397.7 313.0 397.6 315.1 397.3C317.2 397.0 319.1 396.3 320.7 396.2C322.4 396.0 323.7 396.2 325.3 396.5C326.8 396.8 328.7 397.6 330.0 397.9C331.3 398.2 331.3 398.3 333.2 398.3C335.1 398.3 338.4 398.0 341.3 397.8C344.2 397.5 347.6 396.5 350.8 396.7C354.0 396.8 356.4 398.2 360.3 398.6C364.1 398.9 369.5 399.0 373.8 398.8C378.1 398.7 381.9 397.7 386.0 397.8C390.1 397.8 393.9 398.8 398.2 399.1C402.5 399.4 409.5 399.6 411.7 399.7L411.7 399.9L149.2 399.9Z" fill="#3b6bb0" fill-opacity="0.25" stroke="none"/><path d="M149.2 399.9H411.7" fill="none" stroke="#3b6bb0" stroke-opacity="0.72" stroke-width="2.2"/><path d="M149.2 400.1C150.2 399.9 154.0 399.6 155.4 399.0C156.8 398.3 157.0 397.5 157.7 396.2C158.3 394.8 159.0 393.2 159.6 391.1C160.2 388.9 160.8 386.4 161.4 383.2C162.0 380.0 162.5 376.2 163.1 371.9C163.6 367.6 164.2 362.5 164.8 357.2C165.3 352.0 165.8 346.9 166.3 340.3C166.9 333.7 167.6 325.2 168.1 317.7C168.7 310.2 169.1 302.7 169.5 295.1C170.0 287.6 170.4 280.1 170.9 272.6C171.3 265.0 171.6 260.2 172.0 250.0C172.4 239.8 172.7 225.9 173.4 211.3C174.0 196.8 175.2 178.4 176.1 162.6C177.0 146.8 177.9 131.0 178.8 116.5C179.7 102.1 180.6 88.1 181.5 75.9C182.4 63.7 183.4 51.1 184.2 43.4C185.0 35.6 185.7 32.1 186.4 29.3C187.0 26.4 187.4 26.6 188.0 26.3C188.5 26.0 189.0 26.4 189.6 27.6C190.2 28.9 190.8 30.8 191.5 33.9C192.2 36.9 192.9 40.2 193.7 46.1C194.5 51.9 195.3 57.8 196.4 69.1C197.5 80.4 199.1 98.2 200.5 113.8C201.8 129.4 202.2 138.5 204.5 162.6C206.8 186.7 212.5 240.9 214.4 258.5C216.3 276.0 215.3 263.3 216.0 268.1C216.7 272.9 217.6 280.9 218.6 287.2C219.6 293.6 220.8 300.4 222.0 306.4C223.2 312.5 224.4 317.7 225.9 323.4C227.4 329.0 229.3 335.4 231.0 340.3C232.7 345.2 234.4 348.9 236.1 352.7C237.8 356.5 239.4 359.6 241.2 362.9C243.0 366.2 244.9 369.5 246.8 372.5C248.7 375.5 250.8 378.5 252.5 380.9C254.2 383.4 255.6 385.5 257.0 387.1C258.4 388.8 259.7 390.2 260.9 390.9C262.1 391.5 263.0 391.3 264.3 391.1C265.6 390.8 267.2 389.9 268.8 389.4C270.4 388.9 272.3 388.2 273.9 388.3C275.5 388.4 276.8 389.0 278.4 390.0C280.0 390.9 281.7 392.8 283.5 393.9C285.3 395.0 287.3 396.1 289.1 396.7C291.0 397.4 292.7 397.6 294.8 397.9C296.9 398.1 299.3 398.1 301.6 398.1C303.8 398.1 306.1 398.0 308.3 397.9C310.6 397.7 313.0 397.6 315.1 397.3C317.2 397.0 319.1 396.3 320.7 396.2C322.4 396.0 323.7 396.2 325.3 396.5C326.8 396.8 328.7 397.6 330.0 397.9C331.3 398.2 331.3 398.3 333.2 398.3C335.1 398.3 338.4 398.0 341.3 397.8C344.2 397.5 347.6 396.5 350.8 396.7C354.0 396.8 356.4 398.2 360.3 398.6C364.1 398.9 369.5 399.0 373.8 398.8C378.1 398.7 381.9 397.7 386.0 397.8C390.1 397.8 393.9 398.8 398.2 399.1C402.5 399.4 409.5 399.6 411.7 399.7" fill="none" stroke="#3b6bb0" stroke-width="2.6" stroke-linejoin="round" stroke-linecap="round"/>
</g>
<g id="p11">
<path d="M546.4 830.9C548.2 830.3 553.5 830.3 557.4 830.3C561.3 830.3 566.3 830.3 570.0 830.3C573.7 830.1 576.3 829.8 579.4 829.4C582.6 828.9 585.7 828.2 588.9 827.5C592.0 826.8 595.2 826.0 598.3 825.1C601.5 824.2 604.6 822.9 607.8 822.0C610.9 821.0 614.1 820.0 617.2 819.3C620.3 818.5 623.2 817.9 626.6 817.4C630.0 816.9 634.0 816.5 637.7 816.5C641.3 816.4 645.3 816.8 648.7 817.2C652.1 817.6 655.0 818.2 658.1 818.8C661.3 819.5 664.4 820.4 667.5 821.2C670.7 822.0 673.8 822.9 677.0 823.5C680.1 824.2 683.3 824.7 686.4 825.1C689.6 825.5 692.2 825.9 695.9 826.2C699.5 826.5 704.3 826.9 708.5 827.1C712.6 827.4 716.3 827.7 721.0 827.8C725.8 827.8 731.9 827.6 736.8 827.5C741.6 827.3 745.6 827.1 750.0 827.0C754.4 826.9 759.0 826.7 763.2 826.6C767.4 826.6 771.1 826.5 775.0 826.6C779.0 826.7 782.1 827.0 786.8 827.3C791.5 827.7 797.4 828.1 803.4 828.5C809.3 828.9 814.4 829.4 822.2 829.7C830.1 830.0 839.8 830.1 850.6 830.2C861.4 830.2 881.1 830.2 887.2 830.2L887.2 830.3L546.4 830.3Z" fill="#e07b22" fill-opacity="0.25" stroke="none"/><path d="M546.4 830.3H887.2" fill="none" stroke="#e07b22" stroke-opacity="0.72" stroke-width="2.2"/><path d="M546.4 830.9C548.2 830.3 553.5 830.3 557.4 830.3C561.3 830.3 566.3 830.3 570.0 830.3C573.7 830.1 576.3 829.8 579.4 829.4C582.6 828.9 585.7 828.2 588.9 827.5C592.0 826.8 595.2 826.0 598.3 825.1C601.5 824.2 604.6 822.9 607.8 822.0C610.9 821.0 614.1 820.0 617.2 819.3C620.3 818.5 623.2 817.9 626.6 817.4C630.0 816.9 634.0 816.5 637.7 816.5C641.3 816.4 645.3 816.8 648.7 817.2C652.1 817.6 655.0 818.2 658.1 818.8C661.3 819.5 664.4 820.4 667.5 821.2C670.7 822.0 673.8 822.9 677.0 823.5C680.1 824.2 683.3 824.7 686.4 825.1C689.6 825.5 692.2 825.9 695.9 826.2C699.5 826.5 704.3 826.9 708.5 827.1C712.6 827.4 716.3 827.7 721.0 827.8C725.8 827.8 731.9 827.6 736.8 827.5C741.6 827.3 745.6 827.1 750.0 827.0C754.4 826.9 759.0 826.7 763.2 826.6C767.4 826.6 771.1 826.5 775.0 826.6C779.0 826.7 782.1 827.0 786.8 827.3C791.5 827.7 797.4 828.1 803.4 828.5C809.3 828.9 814.4 829.4 822.2 829.7C830.1 830.0 839.8 830.1 850.6 830.2C861.4 830.2 881.1 830.2 887.2 830.2" fill="none" stroke="#e07b22" stroke-width="2.6" stroke-linejoin="round" stroke-linecap="round"/><path d="M591.2 830.9C592.2 830.3 595.3 830.3 596.7 830.3C598.2 829.9 599.0 829.5 599.9 828.3C600.8 827.0 601.5 825.2 602.3 822.7C603.0 820.3 603.7 816.7 604.3 813.3C604.9 809.9 605.4 806.5 605.9 802.3C606.3 798.1 606.7 793.1 607.1 788.1C607.5 783.1 607.8 779.0 608.2 772.4C608.6 765.8 609.0 758.0 609.5 748.8C609.9 739.6 610.5 727.8 610.9 717.3C611.4 706.8 611.8 696.4 612.2 685.9C612.6 675.4 612.9 664.9 613.3 654.4C613.6 643.9 613.9 633.4 614.2 622.9C614.5 612.4 614.9 602.0 615.2 591.5C615.4 581.0 615.4 568.3 615.6 560.0C615.8 551.7 616.0 548.1 616.3 541.6C616.5 535.1 616.9 526.9 617.1 521.2C617.4 515.6 617.5 512.2 617.8 507.7C618.0 503.2 618.3 498.7 618.6 494.2C618.9 489.7 619.3 484.6 619.6 480.6C619.9 476.7 620.2 473.3 620.5 470.5C620.8 467.7 621.0 465.6 621.3 463.7C621.6 461.8 622.0 460.1 622.2 459.0C622.5 457.9 622.6 457.5 622.8 457.0C623.0 456.5 623.1 456.2 623.3 456.2C623.5 456.2 623.7 456.5 623.9 457.0C624.1 457.5 624.3 457.9 624.5 459.0C624.7 460.1 625.0 461.8 625.3 463.7C625.5 465.6 625.7 467.7 626.0 470.5C626.3 473.3 626.6 476.7 626.9 480.6C627.2 484.6 627.5 489.7 627.8 494.2C628.1 498.7 628.4 503.2 628.7 507.7C629.0 512.2 629.2 515.6 629.6 521.2C630.0 526.9 630.4 535.1 630.8 541.6C631.2 548.1 631.4 553.0 631.8 560.0C632.2 567.0 632.5 575.7 632.9 583.6C633.3 591.5 633.7 598.0 634.2 607.2C634.7 616.4 635.2 628.2 635.8 638.7C636.3 649.2 636.9 659.6 637.7 670.1C638.4 680.6 639.2 691.6 640.0 701.6C640.9 711.6 641.8 721.5 642.7 729.9C643.6 738.3 644.5 745.4 645.5 751.9C646.5 758.5 647.6 764.5 648.7 769.3C649.7 774.0 650.6 777.2 651.8 780.3C653.0 783.3 654.4 785.2 655.7 787.3C657.1 789.4 658.4 790.6 659.7 792.9C661.0 795.1 662.3 797.8 663.6 800.7C664.9 803.6 666.2 807.0 667.5 810.2C668.9 813.3 670.3 817.0 671.5 819.6C672.7 822.2 673.6 824.3 674.6 825.9C675.7 827.5 676.6 828.4 677.8 829.0C679.0 829.7 680.3 830.0 681.7 829.8C683.1 829.7 684.9 828.8 686.4 828.3C688.0 827.7 689.7 826.8 691.1 826.4C692.6 826.0 693.8 825.8 695.1 825.9C696.4 826.0 697.6 826.5 699.0 827.1C700.5 827.8 702.2 829.2 703.7 829.8C705.3 830.3 706.6 830.3 708.5 830.3C710.3 830.3 713.0 830.3 714.7 830.3C716.4 830.1 717.2 829.6 718.7 829.7C720.1 829.7 721.7 830.3 723.4 830.3C725.1 830.3 723.8 830.3 728.9 830.3C734.0 830.3 748.4 830.3 753.8 829.9C759.1 829.6 758.7 829.0 760.9 829.0C763.0 829.0 760.5 829.7 766.8 829.9C773.0 830.1 791.5 830.2 798.6 830.2C805.7 830.1 804.9 829.5 809.3 829.5C813.6 829.5 822.0 830.1 824.6 830.2L824.6 830.3L591.2 830.3Z" fill="#3b6bb0" fill-opacity="0.25" stroke="none"/><path d="M591.2 830.3H824.6" fill="none" stroke="#3b6bb0" stroke-opacity="0.72" stroke-width="2.2"/><path d="M591.2 830.9C592.2 830.3 595.3 830.3 596.7 830.3C598.2 829.9 599.0 829.5 599.9 828.3C600.8 827.0 601.5 825.2 602.3 822.7C603.0 820.3 603.7 816.7 604.3 813.3C604.9 809.9 605.4 806.5 605.9 802.3C606.3 798.1 606.7 793.1 607.1 788.1C607.5 783.1 607.8 779.0 608.2 772.4C608.6 765.8 609.0 758.0 609.5 748.8C609.9 739.6 610.5 727.8 610.9 717.3C611.4 706.8 611.8 696.4 612.2 685.9C612.6 675.4 612.9 664.9 613.3 654.4C613.6 643.9 613.9 633.4 614.2 622.9C614.5 612.4 614.9 602.0 615.2 591.5C615.4 581.0 615.4 568.3 615.6 560.0C615.8 551.7 616.0 548.1 616.3 541.6C616.5 535.1 616.9 526.9 617.1 521.2C617.4 515.6 617.5 512.2 617.8 507.7C618.0 503.2 618.3 498.7 618.6 494.2C618.9 489.7 619.3 484.6 619.6 480.6C619.9 476.7 620.2 473.3 620.5 470.5C620.8 467.7 621.0 465.6 621.3 463.7C621.6 461.8 622.0 460.1 622.2 459.0C622.5 457.9 622.6 457.5 622.8 457.0C623.0 456.5 623.1 456.2 623.3 456.2C623.5 456.2 623.7 456.5 623.9 457.0C624.1 457.5 624.3 457.9 624.5 459.0C624.7 460.1 625.0 461.8 625.3 463.7C625.5 465.6 625.7 467.7 626.0 470.5C626.3 473.3 626.6 476.7 626.9 480.6C627.2 484.6 627.5 489.7 627.8 494.2C628.1 498.7 628.4 503.2 628.7 507.7C629.0 512.2 629.2 515.6 629.6 521.2C630.0 526.9 630.4 535.1 630.8 541.6C631.2 548.1 631.4 553.0 631.8 560.0C632.2 567.0 632.5 575.7 632.9 583.6C633.3 591.5 633.7 598.0 634.2 607.2C634.7 616.4 635.2 628.2 635.8 638.7C636.3 649.2 636.9 659.6 637.7 670.1C638.4 680.6 639.2 691.6 640.0 701.6C640.9 711.6 641.8 721.5 642.7 729.9C643.6 738.3 644.5 745.4 645.5 751.9C646.5 758.5 647.6 764.5 648.7 769.3C649.7 774.0 650.6 777.2 651.8 780.3C653.0 783.3 654.4 785.2 655.7 787.3C657.1 789.4 658.4 790.6 659.7 792.9C661.0 795.1 662.3 797.8 663.6 800.7C664.9 803.6 666.2 807.0 667.5 810.2C668.9 813.3 670.3 817.0 671.5 819.6C672.7 822.2 673.6 824.3 674.6 825.9C675.7 827.5 676.6 828.4 677.8 829.0C679.0 829.7 680.3 830.0 681.7 829.8C683.1 829.7 684.9 828.8 686.4 828.3C688.0 827.7 689.7 826.8 691.1 826.4C692.6 826.0 693.8 825.8 695.1 825.9C696.4 826.0 697.6 826.5 699.0 827.1C700.5 827.8 702.2 829.2 703.7 829.8C705.3 830.3 706.6 830.3 708.5 830.3C710.3 830.3 713.0 830.3 714.7 830.3C716.4 830.1 717.2 829.6 718.7 829.7C720.1 829.7 721.7 830.3 723.4 830.3C725.1 830.3 723.8 830.3 728.9 830.3C734.0 830.3 748.4 830.3 753.8 829.9C759.1 829.6 758.7 829.0 760.9 829.0C763.0 829.0 760.5 829.7 766.8 829.9C773.0 830.1 791.5 830.2 798.6 830.2C805.7 830.1 804.9 829.5 809.3 829.5C813.6 829.5 822.0 830.1 824.6 830.2" fill="none" stroke="#3b6bb0" stroke-width="2.6" stroke-linejoin="round" stroke-linecap="round"/>
</g>
<g id="p22">
<path d="M974.5 1260.4C975.4 1260.3 976.5 1260.2 980.0 1260.1C983.5 1259.9 991.3 1259.8 995.7 1259.6C1000.2 1259.4 1003.3 1259.3 1006.7 1258.8C1010.2 1258.3 1013.0 1257.7 1016.2 1256.8C1019.3 1255.8 1022.5 1254.4 1025.6 1253.3C1028.8 1252.2 1031.9 1251.2 1035.1 1250.2C1038.2 1249.2 1041.4 1248.0 1044.5 1247.3C1047.7 1246.6 1051.6 1246.2 1053.9 1245.9C1056.3 1245.6 1056.8 1245.7 1058.7 1245.8C1060.5 1245.8 1062.3 1245.9 1065.0 1246.4C1067.6 1246.9 1071.3 1247.7 1074.4 1248.6C1077.5 1249.4 1080.7 1250.6 1083.8 1251.4C1087.0 1252.3 1089.6 1253.0 1093.3 1253.6C1096.9 1254.2 1101.1 1254.8 1105.9 1255.2C1110.6 1255.6 1116.4 1255.9 1121.6 1256.1C1126.8 1256.4 1130.9 1256.5 1137.3 1256.8C1143.7 1257.0 1151.9 1257.5 1160.0 1257.7C1168.1 1258.0 1178.6 1258.0 1186.1 1258.3C1193.6 1258.5 1197.1 1258.9 1205.0 1259.2C1212.9 1259.5 1224.7 1259.8 1233.4 1259.9C1242.0 1260.1 1243.0 1260.1 1257.0 1260.2C1270.9 1260.2 1307.1 1260.2 1317.2 1260.2L1317.2 1260.3L974.5 1260.3Z" fill="#e07b22" fill-opacity="0.25" stroke="none"/><path d="M974.5 1260.3H1317.2" fill="none" stroke="#e07b22" stroke-opacity="0.72" stroke-width="2.2"/><path d="M974.5 1260.4C975.4 1260.3 976.5 1260.2 980.0 1260.1C983.5 1259.9 991.3 1259.8 995.7 1259.6C1000.2 1259.4 1003.3 1259.3 1006.7 1258.8C1010.2 1258.3 1013.0 1257.7 1016.2 1256.8C1019.3 1255.8 1022.5 1254.4 1025.6 1253.3C1028.8 1252.2 1031.9 1251.2 1035.1 1250.2C1038.2 1249.2 1041.4 1248.0 1044.5 1247.3C1047.7 1246.6 1051.6 1246.2 1053.9 1245.9C1056.3 1245.6 1056.8 1245.7 1058.7 1245.8C1060.5 1245.8 1062.3 1245.9 1065.0 1246.4C1067.6 1246.9 1071.3 1247.7 1074.4 1248.6C1077.5 1249.4 1080.7 1250.6 1083.8 1251.4C1087.0 1252.3 1089.6 1253.0 1093.3 1253.6C1096.9 1254.2 1101.1 1254.8 1105.9 1255.2C1110.6 1255.6 1116.4 1255.9 1121.6 1256.1C1126.8 1256.4 1130.9 1256.5 1137.3 1256.8C1143.7 1257.0 1151.9 1257.5 1160.0 1257.7C1168.1 1258.0 1178.6 1258.0 1186.1 1258.3C1193.6 1258.5 1197.1 1258.9 1205.0 1259.2C1212.9 1259.5 1224.7 1259.8 1233.4 1259.9C1242.0 1260.1 1243.0 1260.1 1257.0 1260.2C1270.9 1260.2 1307.1 1260.2 1317.2 1260.2" fill="none" stroke="#e07b22" stroke-width="2.6" stroke-linejoin="round" stroke-linecap="round"/><path d="M1006.7 1260.4C1008.2 1260.3 1013.4 1260.1 1015.4 1259.6C1017.4 1259.1 1017.6 1258.5 1018.5 1257.2C1019.5 1255.9 1020.4 1254.0 1021.2 1251.7C1022.1 1249.5 1022.8 1247.0 1023.6 1243.9C1024.3 1240.7 1024.9 1237.0 1025.6 1232.9C1026.3 1228.7 1027.0 1223.9 1027.7 1218.7C1028.4 1213.4 1029.1 1207.7 1029.7 1201.4C1030.4 1195.1 1031.0 1188.3 1031.6 1180.9C1032.2 1173.6 1033.0 1167.2 1033.5 1157.3C1034.0 1147.5 1034.1 1132.9 1034.4 1121.7C1034.8 1110.6 1035.0 1100.8 1035.4 1090.3C1035.7 1079.8 1036.2 1069.3 1036.6 1058.8C1037.1 1048.3 1037.5 1037.8 1037.9 1027.3C1038.3 1016.8 1038.7 1006.4 1039.2 995.9C1039.6 985.4 1040.0 973.6 1040.4 964.4C1040.8 955.2 1041.3 947.9 1041.7 940.8C1042.1 933.7 1042.5 927.7 1042.9 921.9C1043.4 916.2 1043.8 910.6 1044.2 906.2C1044.6 901.7 1045.0 898.1 1045.4 895.2C1045.9 892.3 1046.3 890.2 1046.7 888.9C1047.1 887.5 1047.3 887.0 1047.7 887.0C1048.0 887.0 1048.3 887.3 1048.6 888.9C1048.9 890.5 1049.4 893.6 1049.7 896.7C1050.0 899.9 1050.3 903.3 1050.6 907.8C1051.0 912.2 1051.3 918.0 1051.6 923.5C1051.9 929.0 1052.2 934.0 1052.5 940.8C1052.9 947.6 1053.2 955.2 1053.6 964.4C1054.0 973.6 1054.5 985.4 1054.9 995.9C1055.3 1006.4 1055.7 1016.8 1056.1 1027.3C1056.6 1037.8 1057.1 1048.3 1057.6 1058.8C1058.0 1069.3 1058.5 1079.8 1059.0 1090.3C1059.5 1100.8 1059.9 1110.6 1060.6 1121.7C1061.2 1132.9 1062.1 1147.5 1062.9 1157.3C1063.7 1167.2 1064.4 1173.6 1065.3 1180.9C1066.1 1188.3 1067.2 1195.4 1068.1 1201.4C1069.0 1207.4 1070.0 1212.4 1070.9 1217.1C1071.9 1221.8 1072.9 1225.8 1073.9 1229.7C1074.9 1233.6 1076.0 1237.3 1077.1 1240.7C1078.1 1244.1 1079.2 1247.5 1080.2 1250.2C1081.2 1252.8 1082.1 1254.9 1083.1 1256.5C1084.0 1258.0 1084.5 1258.9 1085.7 1259.3C1086.9 1259.7 1087.8 1259.0 1090.1 1258.8C1092.4 1258.6 1096.2 1258.1 1099.6 1258.0C1103.0 1258.0 1106.9 1258.3 1110.6 1258.5C1114.3 1258.7 1118.2 1259.1 1121.6 1259.3C1125.0 1259.5 1128.4 1259.7 1131.0 1259.6C1133.7 1259.5 1135.2 1259.0 1137.3 1258.8C1139.4 1258.6 1141.5 1258.3 1143.6 1258.3C1145.7 1258.4 1147.2 1259.1 1149.9 1259.3C1152.6 1259.5 1154.7 1259.5 1160.0 1259.6C1165.2 1259.7 1177.0 1260.0 1181.4 1259.9C1185.8 1259.8 1184.6 1259.0 1186.1 1259.0C1187.7 1259.0 1187.7 1259.9 1190.9 1259.9C1194.0 1260.0 1201.7 1259.7 1205.0 1259.5C1208.4 1259.2 1208.8 1258.5 1210.9 1258.5C1213.1 1258.5 1215.6 1259.3 1218.0 1259.5C1220.4 1259.6 1222.7 1259.8 1225.1 1259.5C1227.4 1259.1 1230.0 1257.7 1232.2 1257.6C1234.3 1257.5 1236.1 1258.6 1238.1 1259.0C1240.0 1259.4 1242.0 1260.0 1244.0 1260.2C1245.9 1260.3 1248.9 1260.2 1249.9 1260.2L1249.9 1260.3L1006.7 1260.3Z" fill="#3b6bb0" fill-opacity="0.25" stroke="none"/><path d="M1006.7 1260.3H1249.9" fill="none" stroke="#3b6bb0" stroke-opacity="0.72" stroke-width="2.2"/><path d="M1006.7 1260.4C1008.2 1260.3 1013.4 1260.1 1015.4 1259.6C1017.4 1259.1 1017.6 1258.5 1018.5 1257.2C1019.5 1255.9 1020.4 1254.0 1021.2 1251.7C1022.1 1249.5 1022.8 1247.0 1023.6 1243.9C1024.3 1240.7 1024.9 1237.0 1025.6 1232.9C1026.3 1228.7 1027.0 1223.9 1027.7 1218.7C1028.4 1213.4 1029.1 1207.7 1029.7 1201.4C1030.4 1195.1 1031.0 1188.3 1031.6 1180.9C1032.2 1173.6 1033.0 1167.2 1033.5 1157.3C1034.0 1147.5 1034.1 1132.9 1034.4 1121.7C1034.8 1110.6 1035.0 1100.8 1035.4 1090.3C1035.7 1079.8 1036.2 1069.3 1036.6 1058.8C1037.1 1048.3 1037.5 1037.8 1037.9 1027.3C1038.3 1016.8 1038.7 1006.4 1039.2 995.9C1039.6 985.4 1040.0 973.6 1040.4 964.4C1040.8 955.2 1041.3 947.9 1041.7 940.8C1042.1 933.7 1042.5 927.7 1042.9 921.9C1043.4 916.2 1043.8 910.6 1044.2 906.2C1044.6 901.7 1045.0 898.1 1045.4 895.2C1045.9 892.3 1046.3 890.2 1046.7 888.9C1047.1 887.5 1047.3 887.0 1047.7 887.0C1048.0 887.0 1048.3 887.3 1048.6 888.9C1048.9 890.5 1049.4 893.6 1049.7 896.7C1050.0 899.9 1050.3 903.3 1050.6 907.8C1051.0 912.2 1051.3 918.0 1051.6 923.5C1051.9 929.0 1052.2 934.0 1052.5 940.8C1052.9 947.6 1053.2 955.2 1053.6 964.4C1054.0 973.6 1054.5 985.4 1054.9 995.9C1055.3 1006.4 1055.7 1016.8 1056.1 1027.3C1056.6 1037.8 1057.1 1048.3 1057.6 1058.8C1058.0 1069.3 1058.5 1079.8 1059.0 1090.3C1059.5 1100.8 1059.9 1110.6 1060.6 1121.7C1061.2 1132.9 1062.1 1147.5 1062.9 1157.3C1063.7 1167.2 1064.4 1173.6 1065.3 1180.9C1066.1 1188.3 1067.2 1195.4 1068.1 1201.4C1069.0 1207.4 1070.0 1212.4 1070.9 1217.1C1071.9 1221.8 1072.9 1225.8 1073.9 1229.7C1074.9 1233.6 1076.0 1237.3 1077.1 1240.7C1078.1 1244.1 1079.2 1247.5 1080.2 1250.2C1081.2 1252.8 1082.1 1254.9 1083.1 1256.5C1084.0 1258.0 1084.5 1258.9 1085.7 1259.3C1086.9 1259.7 1087.8 1259.0 1090.1 1258.8C1092.4 1258.6 1096.2 1258.1 1099.6 1258.0C1103.0 1258.0 1106.9 1258.3 1110.6 1258.5C1114.3 1258.7 1118.2 1259.1 1121.6 1259.3C1125.0 1259.5 1128.4 1259.7 1131.0 1259.6C1133.7 1259.5 1135.2 1259.0 1137.3 1258.8C1139.4 1258.6 1141.5 1258.3 1143.6 1258.3C1145.7 1258.4 1147.2 1259.1 1149.9 1259.3C1152.6 1259.5 1154.7 1259.5 1160.0 1259.6C1165.2 1259.7 1177.0 1260.0 1181.4 1259.9C1185.8 1259.8 1184.6 1259.0 1186.1 1259.0C1187.7 1259.0 1187.7 1259.9 1190.9 1259.9C1194.0 1260.0 1201.7 1259.7 1205.0 1259.5C1208.4 1259.2 1208.8 1258.5 1210.9 1258.5C1213.1 1258.5 1215.6 1259.3 1218.0 1259.5C1220.4 1259.6 1222.7 1259.8 1225.1 1259.5C1227.4 1259.1 1230.0 1257.7 1232.2 1257.6C1234.3 1257.5 1236.1 1258.6 1238.1 1259.0C1240.0 1259.4 1242.0 1260.0 1244.0 1260.2C1245.9 1260.3 1248.9 1260.2 1249.9 1260.2" fill="none" stroke="#3b6bb0" stroke-width="2.6" stroke-linejoin="round" stroke-linecap="round"/>
</g>
<g id="p33">
<path d="M1410.8 1690.5C1411.7 1690.4 1414.6 1690.3 1416.3 1689.6C1417.9 1689.0 1419.4 1687.9 1420.8 1686.5C1422.1 1685.0 1423.3 1683.2 1424.4 1681.0C1425.4 1678.9 1426.2 1676.5 1427.1 1673.8C1428.0 1671.1 1428.9 1667.6 1429.8 1664.8C1430.7 1661.9 1431.6 1659.1 1432.5 1656.7C1433.4 1654.2 1434.3 1652.1 1435.2 1650.3C1436.1 1648.6 1437.0 1647.3 1437.9 1646.3C1438.8 1645.2 1439.7 1644.5 1440.7 1644.0C1441.6 1643.5 1442.3 1643.4 1443.4 1643.3C1444.4 1643.2 1445.5 1643.3 1447.0 1643.6C1448.5 1643.8 1450.6 1644.3 1452.4 1644.9C1454.2 1645.5 1456.0 1646.3 1457.8 1647.2C1459.6 1648.0 1461.4 1649.1 1463.2 1649.9C1465.0 1650.7 1467.1 1651.4 1468.7 1652.1C1470.2 1652.9 1471.1 1653.4 1472.3 1654.4C1473.5 1655.4 1474.7 1656.4 1475.9 1658.0C1477.1 1659.6 1478.3 1661.9 1479.5 1663.9C1480.7 1665.9 1481.9 1668.3 1483.1 1670.2C1484.3 1672.2 1485.5 1674.0 1486.7 1675.6C1487.9 1677.2 1489.1 1678.6 1490.3 1679.7C1491.5 1680.7 1492.6 1681.4 1493.9 1682.0C1495.3 1682.5 1496.8 1682.6 1498.5 1682.9C1500.1 1683.1 1502.2 1682.9 1503.9 1683.3C1505.5 1683.7 1506.7 1684.4 1508.4 1685.1C1510.1 1685.9 1512.0 1687.0 1513.8 1687.8C1515.6 1688.6 1517.6 1689.4 1519.2 1689.9C1520.9 1690.4 1523.0 1690.4 1523.8 1690.5L1523.8 1690.7L1410.8 1690.7Z" fill="#e07b22" fill-opacity="0.25" stroke="none"/><path d="M1410.8 1690.7H1523.8" fill="none" stroke="#e07b22" stroke-opacity="0.72" stroke-width="2.2"/><path d="M1410.8 1690.5C1411.7 1690.4 1414.6 1690.3 1416.3 1689.6C1417.9 1689.0 1419.4 1687.9 1420.8 1686.5C1422.1 1685.0 1423.3 1683.2 1424.4 1681.0C1425.4 1678.9 1426.2 1676.5 1427.1 1673.8C1428.0 1671.1 1428.9 1667.6 1429.8 1664.8C1430.7 1661.9 1431.6 1659.1 1432.5 1656.7C1433.4 1654.2 1434.3 1652.1 1435.2 1650.3C1436.1 1648.6 1437.0 1647.3 1437.9 1646.3C1438.8 1645.2 1439.7 1644.5 1440.7 1644.0C1441.6 1643.5 1442.3 1643.4 1443.4 1643.3C1444.4 1643.2 1445.5 1643.3 1447.0 1643.6C1448.5 1643.8 1450.6 1644.3 1452.4 1644.9C1454.2 1645.5 1456.0 1646.3 1457.8 1647.2C1459.6 1648.0 1461.4 1649.1 1463.2 1649.9C1465.0 1650.7 1467.1 1651.4 1468.7 1652.1C1470.2 1652.9 1471.1 1653.4 1472.3 1654.4C1473.5 1655.4 1474.7 1656.4 1475.9 1658.0C1477.1 1659.6 1478.3 1661.9 1479.5 1663.9C1480.7 1665.9 1481.9 1668.3 1483.1 1670.2C1484.3 1672.2 1485.5 1674.0 1486.7 1675.6C1487.9 1677.2 1489.1 1678.6 1490.3 1679.7C1491.5 1680.7 1492.6 1681.4 1493.9 1682.0C1495.3 1682.5 1496.8 1682.6 1498.5 1682.9C1500.1 1683.1 1502.2 1682.9 1503.9 1683.3C1505.5 1683.7 1506.7 1684.4 1508.4 1685.1C1510.1 1685.9 1512.0 1687.0 1513.8 1687.8C1515.6 1688.6 1517.6 1689.4 1519.2 1689.9C1520.9 1690.4 1523.0 1690.4 1523.8 1690.5" fill="none" stroke="#e07b22" stroke-width="2.6" stroke-linejoin="round" stroke-linecap="round"/><path d="M1416.3 1690.5C1417.2 1690.4 1420.0 1690.4 1421.7 1689.9C1423.3 1689.4 1424.7 1688.7 1426.2 1687.4C1427.7 1686.0 1429.2 1684.4 1430.7 1682.0C1432.2 1679.5 1433.9 1676.2 1435.2 1672.9C1436.6 1669.6 1437.7 1665.8 1438.8 1662.1C1440.0 1658.3 1441.1 1654.5 1442.0 1650.3C1442.9 1646.1 1443.5 1642.1 1444.3 1636.8C1445.0 1631.5 1445.8 1624.7 1446.5 1618.7C1447.2 1612.7 1447.9 1606.9 1448.3 1600.7C1448.7 1594.4 1448.6 1590.0 1449.0 1581.2C1449.5 1572.3 1450.4 1558.7 1451.1 1547.4C1451.7 1536.2 1452.3 1524.9 1452.9 1513.7C1453.5 1502.4 1454.1 1491.2 1454.7 1479.9C1455.3 1468.7 1455.8 1457.4 1456.5 1446.2C1457.1 1435.0 1457.8 1423.0 1458.5 1412.5C1459.2 1402.0 1459.9 1392.6 1460.7 1383.2C1461.6 1373.8 1462.5 1364.1 1463.4 1356.2C1464.4 1348.4 1465.3 1341.6 1466.4 1336.0C1467.4 1330.4 1468.7 1325.5 1469.7 1322.5C1470.7 1319.5 1471.6 1318.9 1472.4 1318.0C1473.2 1317.1 1473.9 1317.1 1474.7 1317.1C1475.4 1317.1 1476.2 1317.1 1476.9 1318.0C1477.7 1318.9 1478.3 1319.5 1479.2 1322.5C1480.0 1325.5 1481.2 1330.4 1482.1 1336.0C1483.0 1341.6 1483.9 1348.4 1484.8 1356.2C1485.7 1364.1 1486.5 1373.8 1487.3 1383.2C1488.1 1392.6 1488.8 1402.0 1489.5 1412.5C1490.3 1423.0 1490.9 1435.0 1491.8 1446.2C1492.6 1457.4 1493.5 1468.7 1494.5 1479.9C1495.4 1491.2 1496.4 1502.4 1497.4 1513.7C1498.4 1524.9 1499.8 1539.7 1500.5 1547.4C1501.3 1555.1 1501.4 1554.1 1502.1 1560.0C1502.8 1565.9 1503.8 1575.8 1504.8 1582.6C1505.8 1589.4 1506.8 1594.6 1507.9 1600.7C1509.1 1606.7 1510.3 1613.4 1511.6 1618.7C1512.8 1624.0 1514.2 1628.1 1515.6 1632.3C1517.1 1636.5 1518.5 1640.1 1520.1 1644.0C1521.8 1647.9 1523.8 1652.3 1525.6 1655.8C1527.4 1659.2 1529.2 1662.1 1531.0 1664.8C1532.8 1667.5 1534.6 1670.0 1536.4 1672.0C1538.2 1674.0 1540.0 1675.7 1541.8 1677.0C1543.6 1678.3 1545.3 1679.0 1547.2 1679.7C1549.2 1680.4 1551.4 1680.7 1553.6 1681.0C1555.7 1681.4 1558.5 1681.5 1560.1 1682.0C1561.7 1682.4 1561.4 1683.0 1563.1 1683.7C1564.7 1684.5 1567.4 1685.8 1569.8 1686.4C1572.3 1687.0 1575.3 1687.1 1577.7 1687.3C1580.1 1687.5 1582.2 1687.5 1584.4 1687.8C1586.7 1688.1 1588.9 1688.7 1591.2 1689.1C1593.4 1689.5 1578.2 1690.1 1597.9 1690.2C1617.7 1690.4 1690.1 1690.4 1709.7 1690.2C1729.3 1690.0 1713.8 1689.3 1715.6 1689.0C1717.3 1688.7 1718.5 1688.5 1720.3 1688.5C1722.1 1688.6 1724.0 1688.9 1726.2 1689.2C1728.4 1689.5 1730.9 1690.0 1733.3 1690.2C1735.6 1690.3 1739.2 1690.2 1740.4 1690.2L1740.4 1690.7L1416.3 1690.7Z" fill="#3b6bb0" fill-opacity="0.25" stroke="none"/><path d="M1416.3 1690.7H1740.4" fill="none" stroke="#3b6bb0" stroke-opacity="0.72" stroke-width="2.2"/><path d="M1416.3 1690.5C1417.2 1690.4 1420.0 1690.4 1421.7 1689.9C1423.3 1689.4 1424.7 1688.7 1426.2 1687.4C1427.7 1686.0 1429.2 1684.4 1430.7 1682.0C1432.2 1679.5 1433.9 1676.2 1435.2 1672.9C1436.6 1669.6 1437.7 1665.8 1438.8 1662.1C1440.0 1658.3 1441.1 1654.5 1442.0 1650.3C1442.9 1646.1 1443.5 1642.1 1444.3 1636.8C1445.0 1631.5 1445.8 1624.7 1446.5 1618.7C1447.2 1612.7 1447.9 1606.9 1448.3 1600.7C1448.7 1594.4 1448.6 1590.0 1449.0 1581.2C1449.5 1572.3 1450.4 1558.7 1451.1 1547.4C1451.7 1536.2 1452.3 1524.9 1452.9 1513.7C1453.5 1502.4 1454.1 1491.2 1454.7 1479.9C1455.3 1468.7 1455.8 1457.4 1456.5 1446.2C1457.1 1435.0 1457.8 1423.0 1458.5 1412.5C1459.2 1402.0 1459.9 1392.6 1460.7 1383.2C1461.6 1373.8 1462.5 1364.1 1463.4 1356.2C1464.4 1348.4 1465.3 1341.6 1466.4 1336.0C1467.4 1330.4 1468.7 1325.5 1469.7 1322.5C1470.7 1319.5 1471.6 1318.9 1472.4 1318.0C1473.2 1317.1 1473.9 1317.1 1474.7 1317.1C1475.4 1317.1 1476.2 1317.1 1476.9 1318.0C1477.7 1318.9 1478.3 1319.5 1479.2 1322.5C1480.0 1325.5 1481.2 1330.4 1482.1 1336.0C1483.0 1341.6 1483.9 1348.4 1484.8 1356.2C1485.7 1364.1 1486.5 1373.8 1487.3 1383.2C1488.1 1392.6 1488.8 1402.0 1489.5 1412.5C1490.3 1423.0 1490.9 1435.0 1491.8 1446.2C1492.6 1457.4 1493.5 1468.7 1494.5 1479.9C1495.4 1491.2 1496.4 1502.4 1497.4 1513.7C1498.4 1524.9 1499.8 1539.7 1500.5 1547.4C1501.3 1555.1 1501.4 1554.1 1502.1 1560.0C1502.8 1565.9 1503.8 1575.8 1504.8 1582.6C1505.8 1589.4 1506.8 1594.6 1507.9 1600.7C1509.1 1606.7 1510.3 1613.4 1511.6 1618.7C1512.8 1624.0 1514.2 1628.1 1515.6 1632.3C1517.1 1636.5 1518.5 1640.1 1520.1 1644.0C1521.8 1647.9 1523.8 1652.3 1525.6 1655.8C1527.4 1659.2 1529.2 1662.1 1531.0 1664.8C1532.8 1667.5 1534.6 1670.0 1536.4 1672.0C1538.2 1674.0 1540.0 1675.7 1541.8 1677.0C1543.6 1678.3 1545.3 1679.0 1547.2 1679.7C1549.2 1680.4 1551.4 1680.7 1553.6 1681.0C1555.7 1681.4 1558.5 1681.5 1560.1 1682.0C1561.7 1682.4 1561.4 1683.0 1563.1 1683.7C1564.7 1684.5 1567.4 1685.8 1569.8 1686.4C1572.3 1687.0 1575.3 1687.1 1577.7 1687.3C1580.1 1687.5 1582.2 1687.5 1584.4 1687.8C1586.7 1688.1 1588.9 1688.7 1591.2 1689.1C1593.4 1689.5 1578.2 1690.1 1597.9 1690.2C1617.7 1690.4 1690.1 1690.4 1709.7 1690.2C1729.3 1690.0 1713.8 1689.3 1715.6 1689.0C1717.3 1688.7 1718.5 1688.5 1720.3 1688.5C1722.1 1688.6 1724.0 1688.9 1726.2 1689.2C1728.4 1689.5 1730.9 1690.0 1733.3 1690.2C1735.6 1690.3 1739.2 1690.2 1740.4 1690.2" fill="none" stroke="#3b6bb0" stroke-width="2.6" stroke-linejoin="round" stroke-linecap="round"/>
</g>
<text x="171.3" y="1728.3" text-anchor="middle">0</text>
<text x="304.5" y="1728.3" text-anchor="middle">50</text>
<text x="437.8" y="1728.3" text-anchor="middle">100</text>
<text x="283.0" y="1764.3" text-anchor="middle" font-size="25.4">Trough level (mg/L)</text>
<text x="590.4" y="1728.3" text-anchor="middle">0.0</text>
<text x="681.9" y="1728.3" text-anchor="middle">2.5</text>
<text x="773.2" y="1728.3" text-anchor="middle">5.0</text>
<text x="864.5" y="1728.3" text-anchor="middle">7.5</text>
<text x="712.0" y="1764.3" text-anchor="middle" font-size="25.4">CysC</text>
<text x="1016.1" y="1728.3" text-anchor="middle">0</text>
<text x="1126.0" y="1728.3" text-anchor="middle">250</text>
<text x="1236.1" y="1728.3" text-anchor="middle">500</text>
<text x="1141.2" y="1764.3" text-anchor="middle" font-size="25.4">CRE</text>
<text x="1430.5" y="1728.3" text-anchor="middle">0</text>
<text x="1535.5" y="1728.3" text-anchor="middle">200</text>
<text x="1640.7" y="1728.3" text-anchor="middle">400</text>
<text x="1746.0" y="1728.3" text-anchor="middle">600</text>
<text x="1571.3" y="1764.3" text-anchor="middle" font-size="25.4">CCr</text>
<text x="88.0" y="392.4" text-anchor="end">0</text>
<text x="88.0" y="309.8" text-anchor="end">20</text>
<text x="88.0" y="227.1" text-anchor="end">40</text>
<text x="88.0" y="144.5" text-anchor="end">60</text>
<text x="88.0" y="61.8" text-anchor="end">80</text>
<text transform="translate(39.5 208.9) rotate(-90)" text-anchor="middle" font-size="25.4">Trough level (mg/L)</text>
<text x="88.0" y="781.0" text-anchor="end">0</text>
<text x="88.0" y="701.6" text-anchor="end">2</text>
<text x="88.0" y="622.2" text-anchor="end">4</text>
<text x="88.0" y="542.8" text-anchor="end">6</text>
<text x="88.0" y="463.4" text-anchor="end">8</text>
<text transform="translate(54.5 639.2) rotate(-90)" text-anchor="middle" font-size="25.4">CysC</text>
<text x="88.0" y="1216.2" text-anchor="end">0</text>
<text x="88.0" y="1120.4" text-anchor="end">200</text>
<text x="88.0" y="1024.7" text-anchor="end">400</text>
<text x="88.0" y="928.9" text-anchor="end">600</text>
<text transform="translate(23.5 1069.4) rotate(-90)" text-anchor="middle" font-size="25.4">CRE</text>
<text x="88.0" y="1674.7" text-anchor="end">0</text>
<text x="88.0" y="1613.7" text-anchor="end">100</text>
<text x="88.0" y="1552.6" text-anchor="end">200</text>
<text x="88.0" y="1491.6" text-anchor="end">300</text>
<text x="88.0" y="1430.5" text-anchor="end">400</text>
<text x="88.0" y="1369.4" text-anchor="end">500</text>
<text transform="translate(23.5 1499.4) rotate(-90)" text-anchor="middle" font-size="25.4">CCr</text>
</svg>
</body></html>
